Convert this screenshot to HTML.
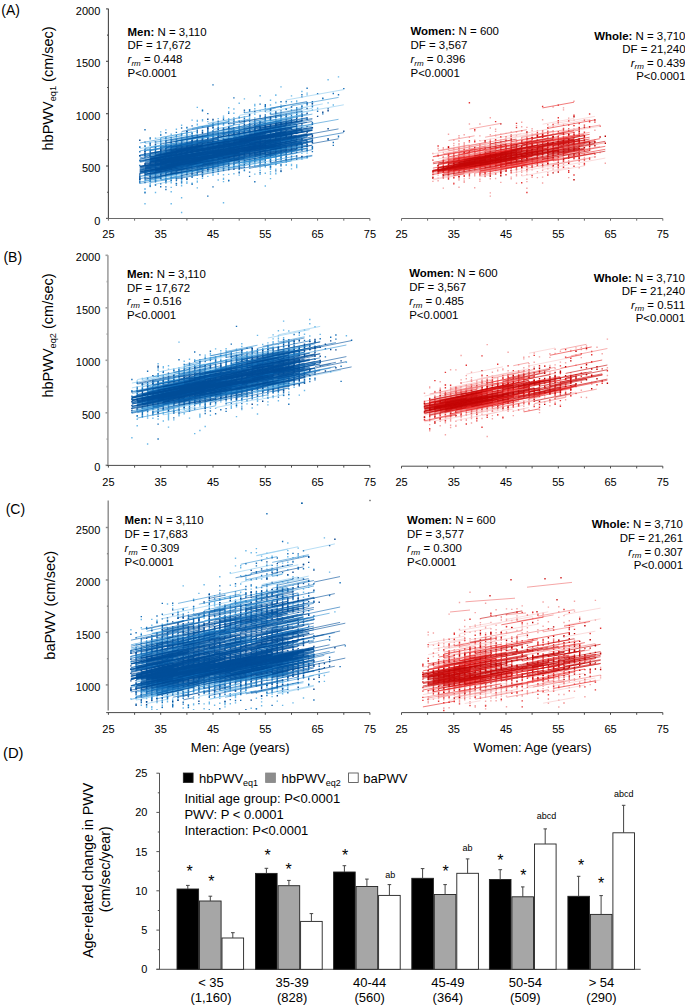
<!DOCTYPE html>
<html><head><meta charset="utf-8"><style>
html,body{margin:0;padding:0;background:#fff;}
svg{display:block;}
text{font-family:"Liberation Sans", sans-serif;fill:#000;}
</style></head><body>
<svg width="685" height="1007" viewBox="0 0 685 1007">
<rect width="685" height="1007" fill="#fff"/>
<defs>
<clipPath id="cA"><rect x="109" y="0" width="262" height="218"/></clipPath>
<clipPath id="cAr"><rect x="402" y="0" width="262" height="218"/></clipPath>
<clipPath id="cB"><rect x="109" y="250" width="262" height="215"/></clipPath>
<clipPath id="cBr"><rect x="402" y="250" width="262" height="215.8"/></clipPath>
<clipPath id="cC"><rect x="109" y="498" width="262" height="212"/></clipPath>
<clipPath id="cCr"><rect x="402" y="498" width="262" height="214"/></clipPath>
</defs><g clip-path="url(#cA)"><path d="M139.8 146.1v1.4m0 7.5v1.4m0 -1.2v1.4m0 18.2v1.4m0 1.3v1.4M145 144.9v1.4m0 8.1v1.4m0 -1.4v1.4m0 15.6v1.4m0 7.1v1.4m0 6.8v1.4m0 -0.9v1.4m0 1.2v1.4m0 10.5v1.4M150.2 138.3v1.4m0 2.4v1.4m0 -0.7v1.4m0 -0.4v1.4m0 4.9v1.4m0 1.8v1.4m0 23.9v1.4m0 0.5v1.4m0 1v1.4m0 -1.1v1.4m0 -0.5v1.4m0 -1.2v1.4m0 0.2v1.4M155.5 137.6v1.4m0 2.2v1.4m0 1.5v1.4m0 5.6v1.4m0 2.7v1.4m0 15.7v1.4m0 0.2v1.4m0 -0.6v1.4m0 -0.4v1.4m0 1.1v1.4m0 -1.2v1.4m0 -0.6v1.4m0 -0.7v1.4m0 2.6v1.4m0 6.5v1.4M160.7 131.2v1.4m0 1.2v1.4m0 2.6v1.4m0 2.7v1.4m0 -0.4v1.4m0 -1.3v1.4m0 0.5v1.4m0 -0.5v1.4m0 0.9v1.4m0 0.5v1.4m0 0.6v1.4m0 1.2v1.4m0 3.3v1.4m0 10.8v1.4m0 -1.1v1.4m0 0.9v1.4m0 -0.3v1.4m0 -1.3v1.4m0 -0.5v1.4m0 -1.4v1.4m0 -0v1.4M165.9 129.2v1.4m0 7.6v1.4m0 -1.2v1.4m0 -1.3v1.4m0 -1.1v1.4m0 2.9v1.4m0 -0.7v1.4m0 0.3v1.4m0 2.3v1.4m0 5v1.4m0 12.3v1.4m0 2.9v1.4m0 1.5v1.4m0 -1.3v1.4m0 -0.8v1.4m0 -1.2v1.4m0 -1.3v1.4m0 -0.5v1.4m0 -1.2v1.4m0 -0.9v1.4m0 -0.3v1.4m0 -0.9v1.4m0 -0.8v1.4M171.2 133.6v1.4m0 1.4v1.4m0 0.7v1.4m0 0.4v1.4m0 -0.2v1.4m0 -0.8v1.4m0 1.1v1.4m0 1.2v1.4m0 -1.3v1.4m0 0.2v1.4m0 -1.3v1.4m0 0.5v1.4m0 2.5v1.4m0 0.3v1.4m0 5.3v1.4m0 3.2v1.4m0 -0.5v1.4m0 0.2v1.4m0 -1v1.4m0 -1.1v1.4m0 -1.4v1.4m0 0.6v1.4m0 -1v1.4m0 0.6v1.4m0 0.5v1.4m0 -1.1v1.4m0 -1.3v1.4m0 0.3v1.4m0 -0.9v1.4m0 0.3v1.4m0 -0.9v1.4m0 3.2v1.4m0 -1.4v1.4m0 3v1.4m0 10.5v1.4M176.4 128.5v1.4m0 6.3v1.4m0 -1.1v1.4m0 -0.9v1.4m0 1.2v1.4m0 -0.7v1.4m0 -0.8v1.4m0 2.4v1.4m0 -1.4v1.4m0 -1.3v1.4m0 -0.3v1.4m0 -1.2v1.4m0 -1.3v1.4m0 -0.7v1.4m0 -1.4v1.4m0 0v1.4m0 4.5v1.4m0 4.9v1.4m0 4.2v1.4m0 -0.2v1.4m0 0.3v1.4m0 -0.1v1.4m0 -0.6v1.4m0 0.5v1.4m0 -0.2v1.4m0 -0.7v1.4m0 0.2v1.4m0 5.1v1.4M181.6 124.5v1.4m0 -1.2v1.4m0 6.4v1.4m0 -0.3v1.4m0 -0.1v1.4m0 0.2v1.4m0 -1.3v1.4m0 -1.2v1.4m0 -0.6v1.4m0 0.2v1.4m0 -0.7v1.4m0 -1v1.4m0 0.5v1.4m0 -1v1.4m0 0.4v1.4m0 0.7v1.4m0 -0.4v1.4m0 -1.1v1.4m0 4.6v1.4m0 11.1v1.4m0 0.3v1.4m0 -1.2v1.4m0 -0.5v1.4m0 -1.2v1.4m0 -0.1v1.4m0 0.2v1.4m0 -1.3v1.4m0 0.8v1.4m0 1.4v1.4m0 -0.7v1.4m0 -0.9v1.4m0 -1.1v1.4m0 -0.5v1.4m0 -0.3v1.4m0 -1.3v1.4m0 -0.9v1.4m0 0.1v1.4m0 0.7v1.4m0 10.6v1.4m0 13.4v1.4M186.9 127.7v1.4m0 1.5v1.4m0 -0.5v1.4m0 1.9v1.4m0 -0.7v1.4m0 0.6v1.4m0 -0.8v1.4m0 0.5v1.4m0 -0.7v1.4m0 -1.1v1.4m0 -1.1v1.4m0 -0.5v1.4m0 1.3v1.4m0 18.9v1.4m0 -0v1.4m0 -1.2v1.4m0 -0.9v1.4m0 -0.8v1.4m0 0.5v1.4m0 1.5v1.4m0 -1.1v1.4m0 -0.6v1.4m0 -0.3v1.4m0 0.8v1.4m0 0.1v1.4m0 -1.2v1.4m0 1.1v1.4m0 -1.2v1.4m0 -0.3v1.4M192.1 119.4v1.4m0 11.7v1.4m0 0.1v1.4m0 2.3v1.4m0 -0.9v1.4m0 -1.3v1.4m0 1v1.4m0 0.6v1.4m0 -0v1.4m0 10.4v1.4m0 6.4v1.4m0 1.5v1.4m0 0.1v1.4m0 -1v1.4m0 -1.1v1.4m0 -1.1v1.4m0 -1.4v1.4m0 1.1v1.4m0 -0.1v1.4m0 1.6v1.4m0 5.3v1.4M197.3 106.7v1.4m0 11.6v1.4m0 -0.5v1.4m0 1.5v1.4m0 -0.8v1.4m0 3.1v1.4m0 -0.9v1.4m0 -0.4v1.4m0 -1.3v1.4m0 -0v1.4m0 -0.1v1.4m0 1v1.4m0 0.9v1.4m0 -1.3v1.4m0 -0.9v1.4m0 -0.3v1.4m0 -0.6v1.4m0 6v1.4m0 12.4v1.4m0 0.9v1.4m0 -0v1.4m0 -0v1.4m0 0.4v1.4m0 -1.3v1.4m0 -1.3v1.4m0 -1v1.4m0 0.2v1.4m0 0.1v1.4m0 -1.2v1.4m0 0.7v1.4m0 -1.3v1.4m0 -1.3v1.4m0 -1.2v1.4m0 1.9v1.4m0 -1.4v1.4m0 1.1v1.4m0 -1.2v1.4m0 -0.7v1.4m0 4.5v1.4M202.5 109v1.4m0 8.6v1.4m0 -0.3v1.4m0 8.8v1.4m0 0.2v1.4m0 2.4v1.4m0 2.1v1.4m0 0.4v1.4m0 -1.3v1.4m0 -1v1.4m0 -0.5v1.4m0 -1.3v1.4m0 1v1.4m0 15v1.4m0 -0.7v1.4m0 -1.3v1.4m0 -1v1.4m0 0.6v1.4m0 -1.2v1.4m0 -1.2v1.4m0 -1.3v1.4m0 -1.3v1.4m0 -1.4v1.4m0 -0.9v1.4m0 -0.1v1.4m0 -1.4v1.4m0 -0.4v1.4m0 -1.2v1.4m0 -0.1v1.4m0 -0.9v1.4m0 -0.4v1.4m0 0.9v1.4m0 -0.6v1.4m0 -1.1v1.4m0 1.9v1.4M207.8 120.9v1.4m0 3.4v1.4m0 2.1v1.4m0 0.1v1.4m0 1.4v1.4m0 0.1v1.4m0 -1.3v1.4m0 -0.1v1.4m0 -0.9v1.4m0 2.1v1.4m0 23.2v1.4m0 3.3v1.4m0 0.6v1.4m0 2.6v1.4M213 120.1v1.4m0 1.5v1.4m0 2.1v1.4m0 -0.8v1.4m0 1.5v1.4m0 -0.5v1.4m0 -1.3v1.4m0 -0.1v1.4m0 -0.9v1.4m0 -1.2v1.4m0 0.7v1.4m0 -0.7v1.4m0 -1.3v1.4m0 1.2v1.4m0 -1.3v1.4m0 14.5v1.4m0 2v1.4m0 -0.9v1.4m0 -0.2v1.4m0 -1.2v1.4m0 -0.7v1.4m0 -1v1.4m0 -1.2v1.4m0 -1.3v1.4m0 -1v1.4m0 -0.1v1.4m0 1.1v1.4m0 -0.7v1.4m0 -0.3v1.4m0 0.4v1.4m0 -1.2v1.4m0 -0.4v1.4m0 -1.2v1.4m0 -1.2v1.4m0 -0.7v1.4m0 0.6v1.4m0 -1.3v1.4m0 -0.3v1.4M218.2 117.9v1.4m0 5.9v1.4m0 -0.4v1.4m0 0.1v1.4m0 -0.5v1.4m0 0.5v1.4m0 -0.9v1.4m0 -1.3v1.4m0 1.5v1.4m0 1.8v1.4m0 13v1.4m0 -1.3v1.4m0 6.7v1.4m0 -0.8v1.4m0 0.5v1.4m0 0.5v1.4m0 -0.7v1.4m0 1.6v1.4m0 0.4v1.4m0 -0.3v1.4m0 0.8v1.4m0 -1.3v1.4m0 -1v1.4m0 -1.3v1.4m0 4.3v1.4M223.5 115.4v1.4m0 0.3v1.4m0 -1v1.4m0 5.3v1.4m0 -1v1.4m0 1v1.4m0 -0.3v1.4m0 -0.2v1.4m0 1v1.4m0 0.3v1.4m0 0.4v1.4m0 21v1.4m0 -1.1v1.4m0 0.6v1.4m0 3.5v1.4m0 1.4v1.4m0 5.1v1.4m0 2.2v1.4m0 -0.6v1.4m0 1v1.4m0 19.8v1.4M228.7 107v1.4m0 2.7v1.4m0 5.5v1.4m0 -0.1v1.4m0 5v1.4m0 -0.1v1.4m0 2.1v1.4m0 -0.5v1.4m0 -0.7v1.4m0 -0.1v1.4m0 0.4v1.4m0 -1.2v1.4m0 -1.3v1.4m0 0.7v1.4m0 -0.7v1.4m0 1.6v1.4m0 2.5v1.4m0 -0.6v1.4m0 0v1.4m0 8.6v1.4m0 -1.4v1.4m0 -0.1v1.4m0 -1.1v1.4m0 -1.1v1.4m0 0.5v1.4m0 -1.3v1.4m0 -0.1v1.4m0 -0.5v1.4m0 0.5v1.4m0 -1.3v1.4m0 1.1v1.4m0 -1.2v1.4m0 -0.8v1.4m0 3.5v1.4m0 4.4v1.4M233.9 108.3v1.4m0 2.9v1.4m0 3v1.4m0 13.1v1.4m0 1.1v1.4m0 -1.1v1.4m0 -0.6v1.4m0 -0.7v1.4m0 0.6v1.4m0 1.6v1.4m0 1.1v1.4m0 11.4v1.4m0 -1.1v1.4m0 -0.9v1.4m0 -1.3v1.4m0 -0.5v1.4m0 -1.2v1.4m0 0v1.4m0 -1.2v1.4m0 -0.9v1.4m0 -1.4v1.4m0 -1v1.4m0 0.7v1.4m0 0.2v1.4m0 -0.4v1.4m0 -0.6v1.4m0 -0.5v1.4m0 4.6v1.4M239.2 102.6v1.4m0 12v1.4m0 3.3v1.4m0 1.8v1.4m0 -0.7v1.4m0 -0.4v1.4m0 3.8v1.4m0 6.4v1.4m0 4.7v1.4m0 0.5v1.4m0 3.9v1.4m0 -1.2v1.4m0 0.1v1.4m0 2.2v1.4m0 -0.1v1.4m0 0.4v1.4m0 -0.1v1.4m0 2.7v1.4m0 -0.9v1.4m0 1.1v1.4m0 0.7v1.4m0 -0.5v1.4m0 1.3v1.4M244.4 98.2v1.4m0 16.7v1.4m0 3.9v1.4m0 6.4v1.4m0 -1.2v1.4m0 0.1v1.4m0 -0.7v1.4m0 -0.8v1.4m0 2.8v1.4m0 9.6v1.4m0 5.4v1.4m0 5.8v1.4m0 -0.5v1.4m0 -0.8v1.4m0 -1.2v1.4m0 -0.3v1.4m0 -0.9v1.4m0 3.4v1.4m0 -1v1.4M249.6 108.9v1.4m0 3.6v1.4m0 0.6v1.4m0 0.3v1.4m0 -1.2v1.4m0 -0.4v1.4m0 3.7v1.4m0 -1.3v1.4m0 1.7v1.4m0 1.8v1.4m0 -0.7v1.4m0 9.2v1.4m0 9.8v1.4m0 3.6v1.4m0 0.1v1.4m0 -0.7v1.4m0 -1.2v1.4m0 -0.8v1.4m0 -0.5v1.4m0 -0.6v1.4m0 3.7v1.4M254.8 103.8v1.4m0 0v1.4m0 1.4v1.4m0 3.9v1.4m0 -1.1v1.4m0 2.3v1.4m0 6v1.4m0 0.2v1.4m0 -0.2v1.4m0 1v1.4m0 -0.4v1.4m0 16.1v1.4m0 2.4v1.4m0 4v1.4m0 0.3v1.4m0 0.8v1.4m0 -1.4v1.4m0 0.3v1.4m0 -1.2v1.4m0 0.2v1.4m0 -1v1.4m0 6.6v1.4M260.1 95v1.4m0 13.7v1.4m0 5.8v1.4m0 2.2v1.4m0 -1v1.4m0 -1.2v1.4m0 0.3v1.4m0 -1.2v1.4m0 -0.8v1.4m0 -1.2v1.4m0 -0.9v1.4m0 0.9v1.4m0 -1.1v1.4m0 -0.2v1.4m0 -1v1.4m0 -1.1v1.4m0 3.8v1.4m0 16.2v1.4m0 1.5v1.4m0 -1.1v1.4m0 -0.8v1.4m0 1.6v1.4m0 -1.2v1.4m0 -1.1v1.4m0 -0.5v1.4m0 5.2v1.4m0 -1.2v1.4m0 1.1v1.4m0 -1.1v1.4m0 2.5v1.4M265.3 106.3v1.4m0 0.2v1.4m0 7.3v1.4m0 -0.3v1.4m0 -0.5v1.4m0 -1.1v1.4m0 -0.8v1.4m0 -1v1.4m0 2.4v1.4m0 -0.7v1.4m0 -1.1v1.4m0 1.6v1.4m0 2.2v1.4m0 13.9v1.4m0 2v1.4m0 -1.3v1.4m0 -1.3v1.4m0 -0.6v1.4m0 -1v1.4m0 0.5v1.4m0 -0.8v1.4m0 -1.4v1.4m0 -0.9v1.4m0 -1.1v1.4m0 -0.5v1.4m0 -0.4v1.4m0 2.3v1.4m0 -0.7v1.4m0 0.1v1.4m0 -0.8v1.4m0 -0.2v1.4m0 0.6v1.4m0 4.9v1.4m0 11.3v1.4M270.5 99.5v1.4m0 3.4v1.4m0 3.9v1.4m0 0.9v1.4m0 -0.8v1.4m0 2.5v1.4m0 -0.6v1.4m0 1.8v1.4m0 -0.6v1.4m0 -0.9v1.4m0 -0.2v1.4m0 2.6v1.4m0 1.1v1.4m0 16.1v1.4m0 2.2v1.4m0 -1.2v1.4m0 -0.9v1.4m0 -0.8v1.4m0 -1.3v1.4m0 0.2v1.4m0 1.1v1.4m0 -0.7v1.4m0 -1.1v1.4m0 -1v1.4m0 -0.6v1.4m0 -1.3v1.4m0 -0.1v1.4m0 4v1.4m0 0.1v1.4m0 -0.9v1.4m0 0.1v1.4m0 -1.4v1.4m0 1.1v1.4m0 0.9v1.4m0 3.2v1.4M275.8 94.3v1.4m0 -1.2v1.4m0 5.8v1.4m0 -1.1v1.4m0 9.8v1.4m0 -0.7v1.4m0 4.5v1.4m0 0.1v1.4m0 -0.5v1.4m0 -0.1v1.4m0 -1.2v1.4m0 11.6v1.4m0 6.4v1.4m0 3.5v1.4m0 -1.1v1.4m0 1.1v1.4m0 -1.2v1.4m0 1.9v1.4m0 -1.3v1.4m0 -0.8v1.4m0 0.7v1.4m0 2v1.4m0 0.1v1.4m0 -0.8v1.4m0 3.2v1.4m0 2.6v1.4m0 -1v1.4M281 86.2v1.4m0 16.8v1.4m0 7.9v1.4m0 -1.1v1.4m0 1.5v1.4m0 0.1v1.4m0 -0.5v1.4m0 -0.6v1.4m0 -1v1.4m0 0.3v1.4m0 2.3v1.4m0 1.6v1.4m0 19.6v1.4m0 -0.8v1.4m0 -0.6v1.4m0 -1.3v1.4m0 0.7v1.4m0 -1.2v1.4m0 -1.4v1.4m0 -0.8v1.4m0 -0.7v1.4m0 0.1v1.4m0 0.5v1.4m0 0.9v1.4m0 6.1v1.4m0 1.2v1.4M286.2 102.2v1.4m0 4.6v1.4m0 9.4v1.4m0 1.9v1.4m0 0.8v1.4m0 15.9v1.4m0 7.6v1.4m0 0.1v1.4m0 -0.6v1.4m0 0.1v1.4m0 1v1.4m0 0.2v1.4m0 3.9v1.4m0 -0.9v1.4m0 -1.3v1.4M291.5 95.2v1.4m0 4.4v1.4m0 3.5v1.4m0 -1v1.4m0 2.1v1.4m0 1.1v1.4m0 2.7v1.4m0 -0.2v1.4m0 0.9v1.4m0 5.4v1.4m0 17.2v1.4m0 1.7v1.4m0 1v1.4m0 5.5v1.4m0 4.7v1.4m0 -0.3v1.4m0 1.9v1.4M296.7 100.3v1.4m0 -1.2v1.4m0 -0.9v1.4m0 5v1.4m0 -0.1v1.4m0 0.6v1.4m0 -0.8v1.4m0 -0.4v1.4m0 -0.2v1.4m0 23.4v1.4m0 4.2v1.4m0 0v1.4m0 1.6v1.4m0 -1.3v1.4m0 1.4v1.4m0 -1.4v1.4m0 -0.8v1.4m0 3.5v1.4m0 -0.3v1.4m0 5v1.4m0 -0.3v1.4m0 0.1v1.4M301.9 90.8v1.4m0 13.1v1.4m0 -0.8v1.4m0 8.4v1.4m0 2.8v1.4m0 22.1v1.4m0 -0.3v1.4m0 0.9v1.4m0 -0.2v1.4m0 0.1v1.4m0 1.8v1.4m0 3.9v1.4m0 -0.9v1.4M307.1 92.4v1.4m0 0.4v1.4m0 54.3v1.4m0 -0.8v1.4m0 0.5v1.4m0 3.5v1.4M312.4 106.3v1.4m0 1.6v1.4m0 12.6v1.4m0 22.4v1.4M317.6 107.6v1.4M322.8 98.1v1.4M328.1 79v1.4m0 21.8v1.4M333.3 104.3v1.4M338.5 76.2v1.4" stroke="#6ab8e8" stroke-width="1.4" fill="none"/>
<path d="M139.8 146.6v1.4m0 3v1.4m0 2.6v1.4m0 3.4v1.4m0 3.5v1.4m0 11v1.4m0 -0.4v1.4m0 -1v1.4m0 -0.9v1.4m0 -1.4v1.4m0 0.3v1.4m0 -1.1v1.4m0 -0.2v1.4M145 129.1v1.4m0 10.9v1.4m0 2.7v1.4m0 1.5v1.4m0 -0.8v1.4m0 -0.8v1.4m0 -0.2v1.4m0 0.7v1.4m0 0.5v1.4m0 0.7v1.4m0 6.4v1.4m0 8.1v1.4m0 -1.2v1.4m0 -1.1v1.4m0 0.3v1.4m0 -1.2v1.4m0 -1.4v1.4m0 -0.2v1.4m0 -0.8v1.4m0 12.3v1.4M150.2 137.3v1.4m0 3.9v1.4m0 6.3v1.4m0 -0v1.4m0 -0.9v1.4m0 0.5v1.4m0 -1.4v1.4m0 -1v1.4m0 -0.3v1.4m0 1.5v1.4m0 -0v1.4m0 1.5v1.4m0 10.2v1.4m0 -0.4v1.4m0 -1.3v1.4m0 -0.8v1.4m0 -0.4v1.4m0 -0.6v1.4m0 -0.8v1.4m0 -0.3v1.4m0 -0.1v1.4m0 3v1.4M155.5 145.3v1.4m0 -0.8v1.4m0 -0v1.4m0 -0.2v1.4m0 -1.3v1.4m0 -0.7v1.4m0 -1.2v1.4m0 -1.4v1.4m0 -1.2v1.4m0 -0.1v1.4m0 -0.8v1.4m0 -1.3v1.4m0 -0.7v1.4m0 -0.6v1.4m0 -1.4v1.4m0 -1.3v1.4m0 6.2v1.4m0 0.4v1.4m0 -0.4v1.4m0 1.9v1.4m0 -0.7v1.4m0 0.1v1.4m0 0.2v1.4m0 -0v1.4m0 0.1v1.4m0 1.2v1.4m0 -0.1v1.4m0 -1.3v1.4m0 0.4v1.4m0 -1v1.4m0 -0.3v1.4m0 1.9v1.4M160.7 134.4v1.4m0 3.7v1.4m0 0.1v1.4m0 1v1.4m0 -0.8v1.4m0 0.3v1.4m0 -1.3v1.4m0 -1.3v1.4m0 -1v1.4m0 0.3v1.4m0 0.6v1.4m0 -0.1v1.4m0 -0.8v1.4m0 -1.3v1.4m0 -1.3v1.4m0 -1.3v1.4m0 -0.5v1.4m0 -1.3v1.4m0 -0.1v1.4m0 0.2v1.4m0 -0v1.4m0 6.6v1.4m0 0.1v1.4m0 -0.8v1.4m0 -0.7v1.4m0 0.5v1.4m0 -1.3v1.4m0 -1.3v1.4m0 -1v1.4m0 -1.2v1.4m0 -0.8v1.4m0 -1.2v1.4m0 -1.3v1.4m0 1v1.4m0 -1.2v1.4m0 -1.2v1.4m0 -1.3v1.4m0 0.2v1.4m0 -0.9v1.4m0 -1v1.4m0 4.3v1.4m0 1.6v1.4M165.9 132v1.4m0 3.7v1.4m0 -1.2v1.4m0 -1v1.4m0 1v1.4m0 -0.1v1.4m0 -1.3v1.4m0 0.6v1.4m0 -1.3v1.4m0 -0.7v1.4m0 0.4v1.4m0 -1v1.4m0 -1.1v1.4m0 -1.2v1.4m0 -0.4v1.4m0 -0.4v1.4m0 -1.1v1.4m0 -1.2v1.4m0 -0.6v1.4m0 -1.2v1.4m0 -1.4v1.4m0 -0.9v1.4m0 -0.6v1.4m0 -0.2v1.4m0 -1.3v1.4m0 0.5v1.4m0 -1v1.4m0 3.4v1.4m0 1.4v1.4m0 5.9v1.4m0 -1.2v1.4m0 -1.2v1.4m0 -0.9v1.4m0 -1.2v1.4m0 -0.3v1.4m0 -0.7v1.4m0 -1.2v1.4m0 -0.3v1.4m0 -0.6v1.4m0 0.9v1.4m0 0.8v1.4m0 -0.9v1.4m0 -0.9v1.4m0 -0.2v1.4m0 2.8v1.4m0 1.2v1.4M171.2 139.6v1.4m0 -0.9v1.4m0 -0.9v1.4m0 -0.8v1.4m0 2v1.4m0 -0.7v1.4m0 -0.4v1.4m0 -1.3v1.4m0 -1v1.4m0 -1.4v1.4m0 -1.3v1.4m0 -0.4v1.4m0 -1.4v1.4m0 -0.7v1.4m0 -0.9v1.4m0 -1.4v1.4m0 -0.7v1.4m0 -1.3v1.4m0 -0.2v1.4m0 -0.8v1.4m0 -1.2v1.4m0 1.4v1.4m0 -1v1.4m0 -0.7v1.4m0 -0.3v1.4m0 -1v1.4m0 -0.3v1.4m0 7.5v1.4m0 -0.4v1.4m0 -1.1v1.4m0 -1.3v1.4m0 -1.3v1.4m0 -1.3v1.4m0 -1.3v1.4m0 -1.4v1.4m0 -1.4v1.4m0 -1v1.4m0 -0.8v1.4m0 -1.1v1.4m0 -0.8v1.4m0 -0.9v1.4m0 0.3v1.4m0 0.3v1.4m0 -1.3v1.4m0 -1.1v1.4m0 0.1v1.4m0 -1.3v1.4m0 -0.8v1.4m0 -1.3v1.4m0 0.5v1.4m0 -1.3v1.4M176.4 131.7v1.4m0 1.6v1.4m0 -0.6v1.4m0 2.3v1.4m0 -1.4v1.4m0 0.1v1.4m0 -1.2v1.4m0 -1v1.4m0 -1.3v1.4m0 -0.6v1.4m0 0.1v1.4m0 -0.4v1.4m0 -0.6v1.4m0 -0.5v1.4m0 0.3v1.4m0 -0.2v1.4m0 -0.7v1.4m0 0.2v1.4m0 0.8v1.4m0 1.2v1.4m0 -1.2v1.4m0 3.7v1.4m0 2.5v1.4m0 0.7v1.4m0 -1.1v1.4m0 -1.2v1.4m0 -0.6v1.4m0 -1.1v1.4m0 -1v1.4m0 -0.9v1.4m0 -1.2v1.4m0 -1.1v1.4m0 -1.2v1.4m0 -0.9v1.4m0 -1.1v1.4m0 4.6v1.4m0 -0.9v1.4m0 0.2v1.4m0 1.5v1.4m0 0.3v1.4M181.6 127.3v1.4m0 4.5v1.4m0 -0.2v1.4m0 3.4v1.4m0 0.1v1.4m0 -0.7v1.4m0 -1v1.4m0 -0.1v1.4m0 -0.9v1.4m0 -1.1v1.4m0 -1.3v1.4m0 -1.3v1.4m0 -0.2v1.4m0 -1.2v1.4m0 -1.1v1.4m0 -0.4v1.4m0 -0.7v1.4m0 -1.3v1.4m0 -1.4v1.4m0 -0.1v1.4m0 1.9v1.4m0 -1.3v1.4m0 2.6v1.4m0 -0.1v1.4m0 -0.9v1.4m0 -1v1.4m0 -1v1.4m0 -1.2v1.4m0 -1v1.4m0 -1.2v1.4m0 3.1v1.4m0 0.6v1.4m0 -1v1.4m0 -1.3v1.4m0 0v1.4m0 -1.2v1.4m0 -1.3v1.4m0 -1v1.4m0 -0.6v1.4m0 0.3v1.4m0 -1v1.4m0 -1.2v1.4m0 0v1.4m0 -1.2v1.4m0 -0.8v1.4m0 -0.4v1.4m0 -0.2v1.4m0 -1.3v1.4m0 0.4v1.4m0 1.8v1.4M186.9 126.7v1.4m0 2.7v1.4m0 0.6v1.4m0 -0.7v1.4m0 -0.9v1.4m0 -0.6v1.4m0 -1.2v1.4m0 -1.2v1.4m0 0.6v1.4m0 -0.9v1.4m0 2.4v1.4m0 -0.6v1.4m0 -0.9v1.4m0 -1v1.4m0 -1.1v1.4m0 -0.5v1.4m0 -1.4v1.4m0 -0.9v1.4m0 -0.5v1.4m0 -1.2v1.4m0 -0.9v1.4m0 -1.4v1.4m0 -0.4v1.4m0 -0.7v1.4m0 0.3v1.4m0 4.6v1.4m0 1.5v1.4m0 -0.9v1.4m0 -0.7v1.4m0 2.5v1.4m0 -1.3v1.4m0 -0.9v1.4m0 -1.2v1.4m0 -1.2v1.4m0 -0.5v1.4m0 -1v1.4m0 -0.9v1.4m0 -1.4v1.4m0 -1v1.4m0 -1.2v1.4m0 -1v1.4m0 -0.4v1.4m0 0.3v1.4m0 -0.7v1.4m0 -0.8v1.4m0 -0.7v1.4m0 -1.3v1.4m0 4v1.4M192.1 125.2v1.4m0 5.7v1.4m0 -0.8v1.4m0 0.7v1.4m0 -0.9v1.4m0 0.8v1.4m0 -0.9v1.4m0 -1.3v1.4m0 -0.9v1.4m0 -1.3v1.4m0 -0.9v1.4m0 -0.7v1.4m0 -1v1.4m0 -1.2v1.4m0 -0.1v1.4m0 -1.2v1.4m0 -1.4v1.4m0 -1.1v1.4m0 -0.3v1.4m0 0.3v1.4m0 -1.3v1.4m0 -1v1.4m0 -0.2v1.4m0 0.8v1.4m0 0.1v1.4m0 -0.8v1.4m0 -0.1v1.4m0 -0.3v1.4m0 -1.2v1.4m0 1.7v1.4m0 1.7v1.4m0 1.9v1.4m0 -0.7v1.4m0 -1.3v1.4m0 -1.1v1.4m0 -1.2v1.4m0 -1.4v1.4m0 -1.1v1.4m0 -0.8v1.4m0 -1.3v1.4m0 -1.2v1.4m0 -0.3v1.4m0 -1.2v1.4m0 0.6v1.4m0 -1.1v1.4m0 -1.2v1.4m0 -1.1v1.4m0 -1.3v1.4m0 -1.2v1.4m0 -0.9v1.4m0 -1v1.4m0 -1.1v1.4m0 -1v1.4m0 -0.2v1.4m0 -0.6v1.4m0 -1.2v1.4m0 1.1v1.4m0 5.5v1.4m0 -1.2v1.4M197.3 131.6v1.4m0 1.8v1.4m0 -1.3v1.4m0 -1.3v1.4m0 -0.5v1.4m0 -1.3v1.4m0 -0.4v1.4m0 0.8v1.4m0 -0.1v1.4m0 -0.7v1.4m0 0.3v1.4m0 -1.1v1.4m0 -0.9v1.4m0 -0.5v1.4m0 -1.4v1.4m0 -1.2v1.4m0 1.2v1.4m0 1.7v1.4m0 1.3v1.4m0 2.3v1.4m0 2.4v1.4m0 -1v1.4m0 -0.1v1.4m0 -0.4v1.4m0 -1v1.4m0 -1.3v1.4m0 -1.3v1.4m0 -1.2v1.4m0 -1.4v1.4m0 -1.3v1.4m0 -1.2v1.4m0 -1v1.4m0 -1.1v1.4m0 -0.9v1.4m0 -1.1v1.4m0 -0.9v1.4m0 -0.8v1.4m0 -1.3v1.4m0 -0.9v1.4m0 -0.9v1.4m0 -1.4v1.4m0 -1.1v1.4m0 -0.8v1.4m0 -0.4v1.4m0 -1.4v1.4m0 -1v1.4m0 -1.1v1.4m0 -0.9v1.4m0 -0.1v1.4m0 -0.5v1.4M202.5 110v1.4m0 14.5v1.4m0 -0.6v1.4m0 1.7v1.4m0 4.1v1.4m0 0.5v1.4m0 -1.2v1.4m0 -0.9v1.4m0 -1.2v1.4m0 -1v1.4m0 -0.3v1.4m0 -0.5v1.4m0 -0.6v1.4m0 -1.3v1.4m0 -1.3v1.4m0 -0.7v1.4m0 -1.1v1.4m0 -1.2v1.4m0 -1.1v1.4m0 2.6v1.4m0 0.1v1.4m0 0.7v1.4m0 -0.1v1.4m0 -1.4v1.4m0 2.8v1.4m0 1.6v1.4m0 1.2v1.4m0 -1.2v1.4m0 -1.3v1.4m0 -0.3v1.4m0 -1v1.4m0 -0.2v1.4m0 -1.2v1.4m0 -1v1.4m0 -1.2v1.4m0 -1.3v1.4m0 -1.4v1.4m0 0.6v1.4m0 -0.5v1.4m0 -0.6v1.4m0 -0.9v1.4m0 -0.7v1.4m0 -0.8v1.4m0 -1.3v1.4m0 -1.3v1.4m0 0.4v1.4m0 0.5v1.4m0 -0.7v1.4M207.8 112.9v1.4m0 13.5v1.4m0 0.9v1.4m0 -0.2v1.4m0 -0.7v1.4m0 0.2v1.4m0 -0.3v1.4m0 -0.6v1.4m0 -0.4v1.4m0 -1v1.4m0 -0.6v1.4m0 -1.2v1.4m0 1.8v1.4m0 0.5v1.4m0 1v1.4m0 1.1v1.4m0 6.2v1.4m0 -1.2v1.4m0 -0.5v1.4m0 3.4v1.4m0 -0.9v1.4m0 -0.1v1.4m0 -0.2v1.4m0 -1.3v1.4m0 -0.5v1.4m0 -1.3v1.4m0 -1.1v1.4m0 -1.1v1.4m0 -1.3v1.4m0 -1.2v1.4m0 -1.4v1.4m0 -1.3v1.4m0 -1.4v1.4m0 -1.3v1.4m0 -1.3v1.4m0 -1.3v1.4m0 -1.3v1.4m0 -0.7v1.4m0 -0.4v1.4m0 -1.4v1.4m0 -1.3v1.4m0 -1.3v1.4m0 -1.1v1.4m0 -1v1.4m0 -0.9v1.4m0 24v1.4M213 84.2v1.4m0 37.4v1.4m0 -0.7v1.4m0 0.3v1.4m0 7.3v1.4m0 -0.7v1.4m0 -0.7v1.4m0 -0.5v1.4m0 -0.8v1.4m0 -1v1.4m0 -1.4v1.4m0 -0.7v1.4m0 -1.3v1.4m0 -0.4v1.4m0 -0.1v1.4m0 1.2v1.4m0 0.7v1.4m0 -0.8v1.4m0 0.9v1.4m0 -0.9v1.4m0 0.2v1.4m0 0.1v1.4m0 -0.7v1.4m0 1.7v1.4m0 0.6v1.4m0 -1.2v1.4m0 0.8v1.4m0 1v1.4m0 -0.2v1.4m0 -0.5v1.4m0 0v1.4m0 -1v1.4m0 0.2v1.4m0 -0.9v1.4m0 1.8v1.4m0 13.3v1.4M218.2 120.6v1.4m0 0.3v1.4m0 -1v1.4m0 -0.3v1.4m0 1.9v1.4m0 3v1.4m0 0.4v1.4m0 -0.7v1.4m0 -0.8v1.4m0 -0.5v1.4m0 -1.4v1.4m0 1.3v1.4m0 -1.1v1.4m0 -1.4v1.4m0 4.4v1.4m0 -1.1v1.4m0 -1.3v1.4m0 7.7v1.4m0 -0.4v1.4m0 0.3v1.4m0 0.2v1.4m0 -0.9v1.4m0 -0.7v1.4m0 -1.2v1.4m0 -1.2v1.4m0 -1v1.4m0 -1.2v1.4m0 -0.6v1.4m0 -0.6v1.4m0 -0.7v1.4m0 0.1v1.4m0 -0.9v1.4m0 -1v1.4m0 3.8v1.4m0 -1.3v1.4M223.5 118.8v1.4m0 2.8v1.4m0 3.8v1.4m0 1.5v1.4m0 -0.4v1.4m0 -0.4v1.4m0 -0.8v1.4m0 -1.2v1.4m0 -1.3v1.4m0 -1v1.4m0 -0.7v1.4m0 -1.3v1.4m0 0.8v1.4m0 -1v1.4m0 -0.6v1.4m0 1.5v1.4m0 0v1.4m0 -0.7v1.4m0 1.2v1.4m0 -0.4v1.4m0 1.8v1.4m0 1v1.4m0 0.8v1.4m0 -1.2v1.4m0 -0.1v1.4m0 0.1v1.4m0 -0.9v1.4m0 -0.9v1.4m0 -0.8v1.4m0 -1v1.4m0 -0.9v1.4m0 -1.1v1.4m0 0.7v1.4m0 -1.1v1.4m0 -1.3v1.4m0 1.8v1.4m0 1.1v1.4m0 -0.9v1.4m0 -1v1.4M228.7 112.5v1.4m0 6.7v1.4m0 4.4v1.4m0 -1.3v1.4m0 1v1.4m0 0.1v1.4m0 -1.3v1.4m0 -1.3v1.4m0 -0.7v1.4m0 -1.4v1.4m0 -0.5v1.4m0 1.7v1.4m0 -0.6v1.4m0 -1.1v1.4m0 -1.3v1.4m0 -0.3v1.4m0 -1.1v1.4m0 0.8v1.4m0 0.4v1.4m0 -1.2v1.4m0 3.6v1.4m0 3.5v1.4m0 0.8v1.4m0 -0.8v1.4m0 -0.1v1.4m0 -0.8v1.4m0 -0.8v1.4m0 -1.3v1.4m0 -1.4v1.4m0 -1.2v1.4m0 -0.7v1.4m0 -1.3v1.4m0 -0.3v1.4m0 -0.7v1.4m0 -1v1.4m0 0.4v1.4m0 -0.5v1.4m0 -0.8v1.4m0 -1v1.4m0 -0.5v1.4m0 -1.2v1.4m0 -1.3v1.4m0 -0.5v1.4m0 -0.8v1.4m0 -1.1v1.4m0 11.3v1.4M233.9 97.2v1.4m0 20.2v1.4m0 -1v1.4m0 -0v1.4m0 0.6v1.4m0 -0.4v1.4m0 -1.3v1.4m0 2v1.4m0 -0.9v1.4m0 -0.4v1.4m0 -1.2v1.4m0 -1.4v1.4m0 -0.4v1.4m0 0.2v1.4m0 -1v1.4m0 -0.9v1.4m0 -0.7v1.4m0 0.1v1.4m0 -1.3v1.4m0 -0.5v1.4m0 1.5v1.4m0 0v1.4m0 3v1.4m0 1v1.4m0 6.9v1.4m0 -1.3v1.4m0 -0.9v1.4m0 -1.1v1.4m0 -0.4v1.4m0 -1.2v1.4m0 -1.4v1.4m0 -1.3v1.4m0 -1.4v1.4m0 -0.8v1.4m0 0.1v1.4m0 -0.9v1.4m0 -0.4v1.4m0 0.2v1.4m0 -0.4v1.4m0 -0.3v1.4m0 -1.1v1.4m0 -0.3v1.4M239.2 117.2v1.4m0 1.8v1.4m0 4.8v1.4m0 -0.9v1.4m0 -0.2v1.4m0 -0.7v1.4m0 -1.2v1.4m0 -0.8v1.4m0 -0.4v1.4m0 0.5v1.4m0 -0.6v1.4m0 1.4v1.4m0 0.3v1.4m0 0.5v1.4m0 0.6v1.4m0 1.2v1.4m0 6.6v1.4m0 -1.1v1.4m0 1.2v1.4m0 -0.4v1.4m0 -0.3v1.4m0 -1.1v1.4m0 -1.1v1.4m0 -1.1v1.4m0 -0.7v1.4m0 -1.4v1.4m0 -1.3v1.4m0 -1.3v1.4m0 -0.8v1.4m0 -0.3v1.4m0 -0.3v1.4m0 -0.8v1.4m0 -1.3v1.4m0 -0.9v1.4m0 -1v1.4m0 -1v1.4m0 -1.2v1.4M244.4 109.5v1.4m0 0.5v1.4m0 5.2v1.4m0 0.7v1.4m0 -0.4v1.4m0 3.1v1.4m0 -0.9v1.4m0 -0.4v1.4m0 -1.4v1.4m0 -1.2v1.4m0 -1.1v1.4m0 -1.1v1.4m0 -1.3v1.4m0 -1.1v1.4m0 1.2v1.4m0 -0.9v1.4m0 0.2v1.4m0 -0.4v1.4m0 -0.2v1.4m0 0.4v1.4m0 -0.3v1.4m0 0.4v1.4m0 1.6v1.4m0 -0.4v1.4m0 2.2v1.4m0 0v1.4m0 -0.1v1.4m0 -1.4v1.4m0 -0.7v1.4m0 2.3v1.4m0 -1v1.4m0 -0.9v1.4m0 -0.8v1.4m0 -0.1v1.4m0 -0.7v1.4m0 -0.6v1.4m0 -0.6v1.4m0 -0.9v1.4m0 0v1.4m0 3.6v1.4m0 1.4v1.4M249.6 109.3v1.4m0 -0.3v1.4m0 9v1.4m0 -1.3v1.4m0 1.3v1.4m0 -1.1v1.4m0 -0.7v1.4m0 -1.4v1.4m0 -1v1.4m0 -1v1.4m0 -1.3v1.4m0 0.7v1.4m0 0.8v1.4m0 -1.3v1.4m0 -1.1v1.4m0 0.1v1.4m0 0.1v1.4m0 -0.6v1.4m0 3.9v1.4m0 -0.2v1.4m0 7.1v1.4m0 1.4v1.4m0 -1.4v1.4m0 -0.4v1.4m0 -0.6v1.4m0 0.7v1.4m0 -1.4v1.4m0 -0.8v1.4m0 -1.3v1.4m0 3.8v1.4m0 0.2v1.4m0 -0.8v1.4m0 -0.4v1.4m0 -1.1v1.4m0 -1.2v1.4m0 4.7v1.4m0 2.9v1.4M254.8 120.9v1.4m0 -1.3v1.4m0 -0.1v1.4m0 1.1v1.4m0 -0.3v1.4m0 -1.3v1.4m0 -1.4v1.4m0 -1.1v1.4m0 0.1v1.4m0 -0.4v1.4m0 -1.3v1.4m0 -0.1v1.4m0 -1v1.4m0 0v1.4m0 -1.1v1.4m0 0.6v1.4m0 -0.7v1.4m0 -0.3v1.4m0 -0.5v1.4m0 2.8v1.4m0 -0.7v1.4m0 -1.4v1.4m0 0.6v1.4m0 0.1v1.4m0 -0.3v1.4m0 0.7v1.4m0 -1.1v1.4m0 1.5v1.4m0 -1.2v1.4m0 -1.2v1.4m0 -0.7v1.4m0 -0.1v1.4m0 -0.4v1.4m0 -0.6v1.4m0 -0.4v1.4m0 -0.8v1.4m0 -1.4v1.4m0 -1.1v1.4m0 -1.3v1.4m0 -1.3v1.4m0 -0v1.4m0 -0v1.4m0 18.7v1.4M260.1 103.4v1.4m0 9.9v1.4m0 -0.2v1.4m0 3.9v1.4m0 1v1.4m0 -1.4v1.4m0 -1.3v1.4m0 -1v1.4m0 0v1.4m0 -0.2v1.4m0 -1.1v1.4m0 -1.1v1.4m0 -1.1v1.4m0 -0.4v1.4m0 2.9v1.4m0 -0.5v1.4m0 -0.1v1.4m0 0.4v1.4m0 -1v1.4m0 -0.1v1.4m0 -0.7v1.4m0 -1.1v1.4m0 0.3v1.4m0 5.9v1.4m0 0.9v1.4m0 -0.7v1.4m0 -0.9v1.4m0 -0.4v1.4m0 -1.2v1.4m0 -1.2v1.4m0 -1.1v1.4m0 -1.2v1.4m0 -1.1v1.4m0 -0.6v1.4m0 -0.2v1.4m0 -1v1.4m0 -1.1v1.4m0 -0.8v1.4m0 -1.3v1.4m0 -1.1v1.4m0 -1.3v1.4m0 -0.6v1.4m0 -1.1v1.4m0 -0.6v1.4m0 1.1v1.4m0 -1.1v1.4m0 -1.1v1.4m0 -0.4v1.4m0 -1.1v1.4m0 6.2v1.4M265.3 104.1v1.4m0 -0.1v1.4m0 -1.1v1.4m0 3.3v1.4m0 2.4v1.4m0 0.1v1.4m0 0.3v1.4m0 -0.4v1.4m0 -1.2v1.4m0 0v1.4m0 0.8v1.4m0 -1.1v1.4m0 -1.2v1.4m0 -1.3v1.4m0 -1.1v1.4m0 -0.7v1.4m0 0.4v1.4m0 -1.1v1.4m0 -0.8v1.4m0 -0.5v1.4m0 -1.2v1.4m0 -1.2v1.4m0 0.8v1.4m0 1.5v1.4m0 1.9v1.4m0 -0.4v1.4m0 2.4v1.4m0 2.7v1.4m0 -0v1.4m0 -0.9v1.4m0 -0.6v1.4m0 0.6v1.4m0 -1.2v1.4m0 -0.3v1.4m0 -0.5v1.4m0 -0.4v1.4m0 -1.2v1.4m0 -1.4v1.4m0 0.5v1.4m0 -1.1v1.4m0 -0.9v1.4m0 0.1v1.4m0 -1.1v1.4m0 0.4v1.4m0 1v1.4m0 1.9v1.4M270.5 108.3v1.4m0 -0.7v1.4m0 -1.3v1.4m0 2.7v1.4m0 3.2v1.4m0 -0.9v1.4m0 -0.5v1.4m0 -1.3v1.4m0 1.5v1.4m0 -0.6v1.4m0 1.6v1.4m0 -1.3v1.4m0 -1.1v1.4m0 -1.2v1.4m0 0.2v1.4m0 -1.2v1.4m0 3.5v1.4m0 -0.2v1.4m0 -0.7v1.4m0 0.7v1.4m0 -0.9v1.4m0 -1.3v1.4m0 -0.5v1.4m0 3.8v1.4m0 -0.1v1.4m0 -0.6v1.4m0 2v1.4m0 -0.9v1.4m0 -1.2v1.4m0 -1v1.4m0 -0.7v1.4m0 0.3v1.4m0 -1.3v1.4m0 -0.5v1.4m0 -0.9v1.4m0 0v1.4m0 -1.4v1.4m0 1.8v1.4m0 -0.2v1.4m0 0.3v1.4m0 2.3v1.4m0 -0.8v1.4M275.8 111.6v1.4m0 -0.4v1.4m0 -1.3v1.4m0 1.2v1.4m0 -1.4v1.4m0 -1.4v1.4m0 -0.5v1.4m0 -0.4v1.4m0 0.5v1.4m0 -1.3v1.4m0 1.6v1.4m0 -0.7v1.4m0 -1.3v1.4m0 -0.9v1.4m0 -0.5v1.4m0 -1.1v1.4m0 0.4v1.4m0 0.4v1.4m0 3.9v1.4m0 2.3v1.4m0 -0.9v1.4m0 3.5v1.4m0 -0.3v1.4m0 -0.6v1.4m0 -1.1v1.4m0 -0.9v1.4m0 -0.7v1.4m0 0.6v1.4m0 -1.4v1.4m0 -0.7v1.4m0 -0.9v1.4m0 -1.3v1.4m0 -0.1v1.4m0 -0.9v1.4m0 -1v1.4m0 2.1v1.4m0 -1v1.4m0 -0.9v1.4m0 -1v1.4m0 0.4v1.4m0 3.9v1.4m0 5.3v1.4M281 101.1v1.4m0 4.1v1.4m0 2.2v1.4m0 0.5v1.4m0 1.7v1.4m0 -1v1.4m0 -1v1.4m0 -1.3v1.4m0 0.7v1.4m0 -0.7v1.4m0 -1.1v1.4m0 -1v1.4m0 0.7v1.4m0 0.4v1.4m0 -0.5v1.4m0 -0.3v1.4m0 0.2v1.4m0 1v1.4m0 -0.2v1.4m0 -0.3v1.4m0 -0.3v1.4m0 1v1.4m0 -0.7v1.4m0 -1v1.4m0 4.1v1.4m0 -0.2v1.4m0 1.3v1.4m0 0.3v1.4m0 -0.3v1.4m0 -1v1.4m0 -0.8v1.4m0 -0.9v1.4m0 -1.3v1.4m0 -1.2v1.4m0 -0.6v1.4m0 -1.3v1.4m0 -1.2v1.4m0 0.7v1.4m0 -1.3v1.4m0 -0.4v1.4m0 -0.1v1.4m0 -0.9v1.4m0 0.4v1.4m0 -1.2v1.4m0 0.8v1.4m0 1.6v1.4m0 -0.3v1.4m0 -1v1.4M286.2 100.7v1.4m0 5.8v1.4m0 -0.8v1.4m0 4.7v1.4m0 -0.3v1.4m0 1.1v1.4m0 -0v1.4m0 0.8v1.4m0 -1.3v1.4m0 0.3v1.4m0 7.5v1.4m0 1.9v1.4m0 4.3v1.4m0 1.8v1.4m0 -1.2v1.4m0 0.3v1.4m0 -1.4v1.4m0 -0.8v1.4m0 -1.2v1.4m0 -1.2v1.4m0 -0.7v1.4m0 -1.1v1.4m0 -0.6v1.4m0 -1.1v1.4m0 -0.8v1.4m0 0.2v1.4m0 0.5v1.4m0 1.1v1.4m0 0.9v1.4m0 -0.5v1.4m0 0.2v1.4m0 -1.2v1.4M291.5 109.4v1.4m0 3.8v1.4m0 0.3v1.4m0 -0.3v1.4m0 2.3v1.4m0 -0.6v1.4m0 4.3v1.4m0 3.7v1.4m0 -0.8v1.4m0 4v1.4m0 -0.4v1.4m0 4.2v1.4m0 -1.3v1.4m0 -0.8v1.4m0 -0.4v1.4m0 -0.2v1.4m0 -0.7v1.4m0 -1.4v1.4m0 -0.6v1.4m0 -1.3v1.4m0 0.2v1.4m0 -0.3v1.4m0 1.5v1.4m0 -1.3v1.4m0 -0.9v1.4M296.7 107.3v1.4m0 3.5v1.4m0 -1.1v1.4m0 -1.4v1.4m0 -0.7v1.4m0 -0.8v1.4m0 1.6v1.4m0 1.3v1.4m0 3.2v1.4m0 -0.1v1.4m0 -1.1v1.4m0 -1.4v1.4m0 -0.4v1.4m0 16v1.4m0 -0.4v1.4m0 -0.3v1.4m0 -1.3v1.4m0 0.2v1.4m0 -1.1v1.4m0 2.1v1.4M301.9 94v1.4m0 0.8v1.4m0 8v1.4m0 -0.7v1.4m0 4.6v1.4m0 0.6v1.4m0 -0.4v1.4m0 1.6v1.4m0 4.7v1.4m0 0.9v1.4m0 2.9v1.4m0 5.3v1.4m0 -0v1.4m0 -1.3v1.4m0 3.4v1.4m0 -0.8v1.4m0 0.7v1.4m0 0.8v1.4m0 6v1.4M307.1 87.5v1.4m0 13.6v1.4m0 0.2v1.4m0 13.1v1.4m0 23.2v1.4m0 -1.1v1.4m0 0.8v1.4m0 -1.1v1.4m0 0.5v1.4m0 -0.6v1.4m0 -1v1.4m0 -0.6v1.4m0 4.4v1.4m0 -0.8v1.4M312.4 101.1v1.4m0 0.4v1.4m0 1.3v1.4m0 15.1v1.4m0 -1.4v1.4m0 18.7v1.4m0 2.3v1.4m0 -0.9v1.4m0 -0.9v1.4m0 -0.2v1.4m0 1.4v1.4M317.6 92.9v1.4m0 16.2v1.4M322.8 97.5v1.4m0 14.3v1.4M328.1 139v1.4M333.3 92.8v1.4m0 47.6v1.4m0 1.5v1.4M338.5 94v1.4m0 40.2v1.4m0 -0.8v1.4M343.8 87.9v1.4" stroke="#1a70b8" stroke-width="1.4" fill="none"/>
<path d="M139.8 139.5v1.4m0 14v1.4m0 17.1v1.4m0 0.6v1.4m0 -0.6v1.4m0 1v1.4M145 151.1v1.4m0 0.2v1.4m0 -1v1.4m0 -1.2v1.4m0 0.5v1.4m0 6.2v1.4m0 -0.5v1.4m0 5.2v1.4m0 1.3v1.4m0 0.5v1.4m0 5.5v1.4M150.2 144.4v1.4m0 2.6v1.4m0 4.5v1.4m0 -0.2v1.4m0 -1v1.4m0 3.7v1.4m0 -0.5v1.4m0 1.1v1.4m0 1.7v1.4m0 -1v1.4m0 3v1.4m0 -1.1v1.4m0 -1.3v1.4m0 -1.3v1.4m0 -0.1v1.4m0 -0v1.4M155.5 141v1.4m0 1.1v1.4m0 -1.2v1.4m0 1.4v1.4m0 4v1.4m0 -0.6v1.4m0 1v1.4m0 2.8v1.4m0 -1.3v1.4m0 1.3v1.4m0 -1.3v1.4m0 0.9v1.4m0 -1.2v1.4m0 0.2v1.4m0 -1.1v1.4m0 0v1.4m0 1.6v1.4m0 -1.2v1.4m0 0.5v1.4m0 -0.8v1.4m0 0.3v1.4m0 0.2v1.4M160.7 147v1.4m0 -1v1.4m0 0.3v1.4m0 -0.8v1.4m0 -0.3v1.4m0 0v1.4m0 -0.8v1.4m0 -1v1.4m0 -1.2v1.4m0 3.8v1.4m0 -0.3v1.4m0 -0.1v1.4m0 0.1v1.4m0 0.6v1.4m0 -1v1.4m0 0.2v1.4m0 -0.4v1.4m0 -0.7v1.4m0 -1.1v1.4m0 -1.3v1.4m0 -1.2v1.4m0 -1.3v1.4m0 -0.4v1.4m0 -1.2v1.4m0 -1.3v1.4m0 -0.6v1.4m0 -0.6v1.4m0 -1v1.4m0 -0.8v1.4m0 -1.2v1.4m0 -0.8v1.4m0 2.8v1.4M165.9 140.8v1.4m0 2.1v1.4m0 2.2v1.4m0 1.1v1.4m0 -1.3v1.4m0 -0.5v1.4m0 0.1v1.4m0 -1.2v1.4m0 -0.1v1.4m0 -0.4v1.4m0 0.3v1.4m0 -1.1v1.4m0 -1.1v1.4m0 -1.4v1.4m0 -0.8v1.4m0 -0.7v1.4m0 0.1v1.4m0 -0.9v1.4m0 -0.2v1.4m0 -1.3v1.4m0 -1v1.4m0 -0.7v1.4m0 -0.3v1.4m0 1.6v1.4m0 -1.1v1.4m0 -0.3v1.4m0 -1.1v1.4m0 -1.2v1.4m0 -1.3v1.4m0 -1.1v1.4m0 -0.8v1.4m0 -0.9v1.4m0 -1.3v1.4m0 -0.5v1.4m0 -1.2v1.4m0 -1.4v1.4m0 1.3v1.4m0 -1.3v1.4m0 -0.8v1.4m0 2.1v1.4M171.2 137.1v1.4m0 3.8v1.4m0 1.2v1.4m0 -1.3v1.4m0 -1v1.4m0 -1.4v1.4m0 -0.6v1.4m0 -0.8v1.4m0 -0.7v1.4m0 -0.3v1.4m0 -0.8v1.4m0 -0.1v1.4m0 -1v1.4m0 -1v1.4m0 -1.4v1.4m0 -1.2v1.4m0 -1.4v1.4m0 -1.3v1.4m0 -0.1v1.4m0 -1.1v1.4m0 -1.1v1.4m0 -1.3v1.4m0 -1.3v1.4m0 -1.3v1.4m0 -0.5v1.4m0 0.8v1.4m0 -1.3v1.4m0 -0.1v1.4m0 0.6v1.4m0 -1v1.4m0 -0.5v1.4m0 -1.2v1.4m0 -1.1v1.4m0 -1.1v1.4m0 -0.3v1.4m0 -1.3v1.4m0 0.5v1.4m0 0.4v1.4m0 -0.5v1.4m0 0.5v1.4m0 -1v1.4m0 0.4v1.4m0 -1.1v1.4m0 -1v1.4M176.4 141.1v1.4m0 -0v1.4m0 1.2v1.4m0 -0.8v1.4m0 -1.4v1.4m0 -1v1.4m0 -1.1v1.4m0 -1.1v1.4m0 -0.8v1.4m0 2.6v1.4m0 -1.2v1.4m0 -0.4v1.4m0 0.2v1.4m0 -0.8v1.4m0 -0.1v1.4m0 -1.2v1.4m0 -0.8v1.4m0 -1.2v1.4m0 -1v1.4m0 -0.7v1.4m0 -1.1v1.4m0 -1.2v1.4m0 -0.8v1.4m0 -1.3v1.4m0 -1v1.4m0 -0.9v1.4m0 -1.3v1.4m0 -1.2v1.4m0 -1v1.4m0 -1.2v1.4m0 -0.7v1.4m0 -0.4v1.4m0 -1.3v1.4m0 -0.6v1.4m0 -0v1.4m0 0.9v1.4m0 -1.1v1.4m0 -1.2v1.4m0 -1.2v1.4m0 -0.9v1.4m0 -1.3v1.4m0 -1.4v1.4m0 -0.1v1.4m0 -0.9v1.4m0 1.4v1.4m0 -0.9v1.4m0 -1.3v1.4m0 2.1v1.4M181.6 139.5v1.4m0 0.3v1.4m0 -1.3v1.4m0 0.7v1.4m0 -0.7v1.4m0 0.2v1.4m0 -1.1v1.4m0 -1.3v1.4m0 -1.2v1.4m0 -1.2v1.4m0 -1.3v1.4m0 -0.6v1.4m0 0.1v1.4m0 -0.3v1.4m0 -1.1v1.4m0 -1.4v1.4m0 -0.2v1.4m0 -0.5v1.4m0 -0.9v1.4m0 -1.2v1.4m0 -1.1v1.4m0 -1.3v1.4m0 1v1.4m0 -1.3v1.4m0 1.2v1.4m0 -1v1.4m0 -1.2v1.4m0 -1.2v1.4m0 -0v1.4m0 -1.2v1.4m0 -1.1v1.4m0 0.5v1.4m0 1.3v1.4m0 -1.1v1.4m0 -1.3v1.4m0 -1.1v1.4m0 -1.3v1.4m0 -1.3v1.4m0 -0.2v1.4m0 -1.2v1.4m0 -1.1v1.4m0 1.4v1.4m0 -0.7v1.4m0 -1.3v1.4m0 1.8v1.4m0 1v1.4M186.9 131v1.4m0 7v1.4m0 1.6v1.4m0 -0.8v1.4m0 -1.1v1.4m0 -0.8v1.4m0 -0.8v1.4m0 -1.2v1.4m0 -0.6v1.4m0 -0.9v1.4m0 0.2v1.4m0 0.4v1.4m0 -1v1.4m0 -0v1.4m0 -1.3v1.4m0 -0.5v1.4m0 -0.5v1.4m0 -0.1v1.4m0 -0.1v1.4m0 -0.5v1.4m0 -0.9v1.4m0 -0.9v1.4m0 -0.2v1.4m0 -0.2v1.4m0 -1.3v1.4m0 -1.1v1.4m0 -1.4v1.4m0 0.8v1.4m0 -1.1v1.4m0 0.4v1.4m0 -1.2v1.4m0 -0.8v1.4m0 -1.3v1.4m0 -0.7v1.4m0 -1v1.4m0 -1.3v1.4m0 -1.2v1.4m0 -1.3v1.4m0 0v1.4m0 -1.3v1.4m0 -1.2v1.4m0 -1v1.4m0 1v1.4m0 -0v1.4m0 4.1v1.4M192.1 139.6v1.4m0 -0.1v1.4m0 -0.2v1.4m0 0.9v1.4m0 0.2v1.4m0 -0.5v1.4m0 0.6v1.4m0 -0.9v1.4m0 -0.1v1.4m0 -1.2v1.4m0 0.7v1.4m0 -1.3v1.4m0 -1.4v1.4m0 -0.5v1.4m0 -1.3v1.4m0 -1.3v1.4m0 -1v1.4m0 -0.2v1.4m0 -0.7v1.4m0 -1.4v1.4m0 -1.3v1.4m0 -1.1v1.4m0 0.3v1.4m0 3.2v1.4m0 -0.6v1.4m0 -1.3v1.4m0 -1v1.4m0 -1.3v1.4m0 -0.6v1.4m0 -0.6v1.4m0 -1.3v1.4m0 -1.3v1.4m0 -0.2v1.4m0 1.4v1.4m0 -0.2v1.4m0 -1v1.4m0 -1.3v1.4m0 -0.5v1.4M197.3 130.2v1.4m0 7.9v1.4m0 -1.2v1.4m0 0.3v1.4m0 -1.4v1.4m0 -1.1v1.4m0 -1v1.4m0 -0.1v1.4m0 -0.3v1.4m0 -0.9v1.4m0 -0.5v1.4m0 0.4v1.4m0 -0.6v1.4m0 -0.8v1.4m0 -1.3v1.4m0 -0.3v1.4m0 0.2v1.4m0 -1.1v1.4m0 -0.9v1.4m0 -1v1.4m0 -1.1v1.4m0 -1.3v1.4m0 -0.2v1.4m0 -1.1v1.4m0 -1.3v1.4m0 -0.7v1.4m0 -0.2v1.4m0 1v1.4m0 -1.1v1.4m0 -0.9v1.4m0 -0.1v1.4m0 -1.1v1.4m0 -0.7v1.4m0 0.4v1.4m0 -1.1v1.4m0 0.8v1.4m0 -0.6v1.4m0 -1.3v1.4m0 0.5v1.4M202.5 131.7v1.4m0 -0.8v1.4m0 2.2v1.4m0 -0.6v1.4m0 -1.4v1.4m0 -0.7v1.4m0 -1.4v1.4m0 -0.3v1.4m0 -0.3v1.4m0 -0.6v1.4m0 -0.7v1.4m0 -1.1v1.4m0 -0.8v1.4m0 -1.2v1.4m0 -1.1v1.4m0 -1.3v1.4m0 -0.1v1.4m0 -1.2v1.4m0 1.4v1.4m0 -1v1.4m0 -0.5v1.4m0 -1v1.4m0 -1.2v1.4m0 -1v1.4m0 -1.2v1.4m0 1.7v1.4m0 -0.9v1.4m0 -1.1v1.4m0 -1.3v1.4m0 -0.6v1.4m0 -1.2v1.4m0 -0.6v1.4m0 -1v1.4m0 -1.1v1.4m0 -1v1.4m0 -1.3v1.4m0 4.2v1.4m0 -0.9v1.4m0 -0.4v1.4m0 -0.7v1.4m0 -0.5v1.4m0 -0.8v1.4m0 -1.2v1.4m0 -0.8v1.4m0 -0.7v1.4m0 -0.6v1.4m0 -1.3v1.4m0 1.1v1.4m0 -1.1v1.4m0 -1v1.4m0 -0.5v1.4M207.8 118.6v1.4m0 7.1v1.4m0 -0.1v1.4m0 3.7v1.4m0 -0.9v1.4m0 -1.1v1.4m0 -1v1.4m0 1.2v1.4m0 -1.2v1.4m0 -0.8v1.4m0 0.1v1.4m0 -0.6v1.4m0 -1.4v1.4m0 -1.3v1.4m0 -1.3v1.4m0 -0.6v1.4m0 -1.2v1.4m0 2.9v1.4m0 -1.3v1.4m0 -1.3v1.4m0 -0.6v1.4m0 -0.5v1.4m0 -0.3v1.4m0 -0.9v1.4m0 -0.7v1.4m0 -0.8v1.4m0 -0.8v1.4m0 -0.4v1.4m0 -1.3v1.4m0 -0.8v1.4m0 0.8v1.4m0 0v1.4m0 -0.8v1.4m0 -0.6v1.4m0 1.6v1.4m0 -1.3v1.4m0 -1.2v1.4m0 -1.2v1.4m0 -0.7v1.4m0 -0.6v1.4m0 -0.9v1.4m0 -1v1.4m0 -0.3v1.4m0 -1.4v1.4m0 0.8v1.4m0 -0.7v1.4m0 -1v1.4m0 -1v1.4m0 -0.1v1.4M213 118.8v1.4m0 4.5v1.4m0 1v1.4m0 1.9v1.4m0 1.2v1.4m0 -1.4v1.4m0 -0.7v1.4m0 0.2v1.4m0 -1v1.4m0 1.1v1.4m0 -0.6v1.4m0 0.1v1.4m0 -0.3v1.4m0 -0.4v1.4m0 -1.2v1.4m0 0.4v1.4m0 -1.3v1.4m0 -1v1.4m0 -0.7v1.4m0 -1.3v1.4m0 -0.9v1.4m0 0.6v1.4m0 -0.6v1.4m0 -0.1v1.4m0 -0.3v1.4m0 -1.2v1.4m0 -1.3v1.4m0 0.2v1.4m0 -0.3v1.4m0 -0.9v1.4m0 -0.7v1.4m0 -0.5v1.4m0 0v1.4m0 0.6v1.4m0 -1.1v1.4m0 -0.5v1.4m0 1.8v1.4m0 -1v1.4m0 -1.2v1.4m0 -0.8v1.4m0 -0.9v1.4m0 -0.6v1.4m0 1.3v1.4M218.2 128.5v1.4m0 3.2v1.4m0 -0v1.4m0 -0.2v1.4m0 -0.9v1.4m0 -1.1v1.4m0 0.3v1.4m0 -1.3v1.4m0 -1.2v1.4m0 -1.3v1.4m0 -0.8v1.4m0 -0.9v1.4m0 -1.4v1.4m0 -0.9v1.4m0 0.4v1.4m0 0.8v1.4m0 -0.3v1.4m0 0v1.4m0 -1v1.4m0 -1.3v1.4m0 -1.4v1.4m0 -0.3v1.4m0 -0.3v1.4m0 2.9v1.4m0 0.9v1.4m0 -1.4v1.4m0 1.7v1.4m0 -1.4v1.4m0 -1.2v1.4m0 -0.6v1.4m0 -1.3v1.4m0 -1v1.4m0 -1.2v1.4m0 -1.1v1.4m0 -1.4v1.4m0 -0.5v1.4m0 -0.8v1.4m0 -0.7v1.4m0 1.5v1.4m0 1.2v1.4M223.5 128.5v1.4m0 -0.5v1.4m0 -0.7v1.4m0 -1.1v1.4m0 1.4v1.4m0 -1.4v1.4m0 -1.2v1.4m0 -0.9v1.4m0 -1.4v1.4m0 2.8v1.4m0 2.8v1.4m0 4.3v1.4m0 -0.8v1.4m0 -1.2v1.4m0 -1v1.4m0 -1.1v1.4m0 1v1.4m0 0.4v1.4m0 -1.2v1.4m0 -1.4v1.4m0 -0.5v1.4m0 -0.8v1.4m0 -0.3v1.4m0 -1.4v1.4m0 -0.5v1.4m0 -0.9v1.4m0 -0.1v1.4m0 -1.2v1.4m0 -1.2v1.4m0 -0.3v1.4m0 -0.4v1.4m0 -0.7v1.4m0 0.1v1.4m0 -1v1.4m0 1.1v1.4m0 0.1v1.4M228.7 122.8v1.4m0 2.7v1.4m0 -1.3v1.4m0 -0.3v1.4m0 -0.7v1.4m0 0.5v1.4m0 -1.2v1.4m0 -1.1v1.4m0 0.2v1.4m0 -1.1v1.4m0 -0.7v1.4m0 -0.3v1.4m0 -0.7v1.4m0 0.6v1.4m0 2.4v1.4m0 -0.8v1.4m0 -0.8v1.4m0 -0.4v1.4m0 -0.5v1.4m0 -1.1v1.4m0 -0.7v1.4m0 -0.2v1.4m0 -1v1.4m0 -0.4v1.4m0 -1.2v1.4m0 -1.4v1.4m0 -1.4v1.4m0 0.1v1.4m0 -1.2v1.4m0 1.4v1.4m0 -0.5v1.4m0 -1.2v1.4m0 -1.2v1.4m0 -1.4v1.4m0 -1.3v1.4m0 -1v1.4m0 -0.7v1.4m0 0.3v1.4m0 0.6v1.4m0 -1.4v1.4m0 -0.6v1.4m0 -1.4v1.4m0 -0.8v1.4m0 -0.7v1.4m0 -0v1.4m0 -0.9v1.4m0 -0.1v1.4m0 -0.7v1.4m0 2.4v1.4M233.9 129.4v1.4m0 -1.4v1.4m0 0.1v1.4m0 -1.1v1.4m0 -0.9v1.4m0 -0.6v1.4m0 -0.6v1.4m0 -1v1.4m0 -1.2v1.4m0 -1v1.4m0 -1v1.4m0 0.4v1.4m0 1.4v1.4m0 -0.3v1.4m0 0.4v1.4m0 -0.4v1.4m0 -0.8v1.4m0 -1.2v1.4m0 -1.4v1.4m0 -1.1v1.4m0 -0.9v1.4m0 -1.3v1.4m0 -0.4v1.4m0 -1.1v1.4m0 -1.4v1.4m0 -0.5v1.4m0 -1v1.4m0 -0.9v1.4m0 -0.6v1.4m0 -1.4v1.4m0 0.8v1.4m0 -1.1v1.4m0 -0.5v1.4m0 -0.1v1.4m0 -0.5v1.4m0 0.3v1.4m0 -1.4v1.4m0 -0.2v1.4m0 -1v1.4m0 -1.3v1.4m0 0.5v1.4m0 1.7v1.4m0 4.4v1.4M239.2 127v1.4m0 -0.1v1.4m0 1.3v1.4m0 -0.2v1.4m0 -0.6v1.4m0 0.3v1.4m0 -0.8v1.4m0 0.5v1.4m0 -1v1.4m0 -0.9v1.4m0 1.5v1.4m0 0.5v1.4m0 -1.1v1.4m0 -1.1v1.4m0 -1.3v1.4m0 1.3v1.4m0 -1.2v1.4m0 -0.9v1.4m0 -1.1v1.4m0 -1.1v1.4m0 0.9v1.4m0 -1v1.4m0 0.6v1.4m0 1.4v1.4m0 -1v1.4m0 -0.9v1.4m0 1v1.4m0 1.6v1.4m0 2.8v1.4m0 0.2v1.4m0 -0.5v1.4m0 2.7v1.4M244.4 123.5v1.4m0 0.6v1.4m0 0.8v1.4m0 -0.8v1.4m0 0.2v1.4m0 -1.2v1.4m0 0.5v1.4m0 -0.8v1.4m0 -1.4v1.4m0 0.1v1.4m0 3v1.4m0 -1.2v1.4m0 -1.4v1.4m0 1.1v1.4m0 -1.3v1.4m0 -1.2v1.4m0 -0.5v1.4m0 -1.2v1.4m0 -1.2v1.4m0 -1v1.4m0 -0.9v1.4m0 -0.9v1.4m0 -1.2v1.4m0 0.7v1.4m0 -0.7v1.4m0 4v1.4m0 -0.4v1.4m0 -1.2v1.4m0 -0.4v1.4m0 -1.2v1.4m0 -1.1v1.4m0 -1.1v1.4m0 -0.9v1.4m0 -1.1v1.4m0 -1.4v1.4m0 -1.3v1.4m0 -0.6v1.4m0 -0.4v1.4m0 -1.3v1.4m0 4v1.4m0 -1.2v1.4m0 -1.3v1.4M249.6 113.8v1.4m0 -0.5v1.4m0 7.1v1.4m0 0.3v1.4m0 0.5v1.4m0 0.6v1.4m0 -0.4v1.4m0 -1.1v1.4m0 -0.6v1.4m0 -0.5v1.4m0 1.4v1.4m0 -1.3v1.4m0 -0.3v1.4m0 -0.5v1.4m0 -1.1v1.4m0 -1.3v1.4m0 -0.9v1.4m0 -1.4v1.4m0 -1.2v1.4m0 -0v1.4m0 -1.2v1.4m0 -1v1.4m0 1.5v1.4m0 1.6v1.4m0 -0.5v1.4m0 -1v1.4m0 -0.4v1.4m0 -0.7v1.4m0 -0.9v1.4m0 -1.2v1.4m0 -0.2v1.4m0 0.8v1.4m0 -1.1v1.4m0 -1.2v1.4m0 -0.6v1.4m0 -0.5v1.4m0 0.8v1.4M254.8 110.8v1.4m0 7.2v1.4m0 3.3v1.4m0 1.3v1.4m0 -0.9v1.4m0 -0.4v1.4m0 -0.5v1.4m0 -1.2v1.4m0 -1v1.4m0 -0.9v1.4m0 -1.1v1.4m0 1v1.4m0 -0.8v1.4m0 -1v1.4m0 -0.6v1.4m0 -1.3v1.4m0 -0.6v1.4m0 0.5v1.4m0 -0.8v1.4m0 -1.1v1.4m0 0.7v1.4m0 -0.6v1.4m0 -0.9v1.4m0 -0.9v1.4m0 -1.1v1.4m0 -0.7v1.4m0 -1.3v1.4m0 -1.2v1.4m0 -1.2v1.4m0 -1.4v1.4m0 0.5v1.4m0 -1.2v1.4m0 0.1v1.4m0 -0.5v1.4m0 -0.3v1.4m0 0.8v1.4m0 -0.7v1.4m0 -1.1v1.4m0 -1.4v1.4m0 -1v1.4m0 -0.5v1.4m0 -0.8v1.4m0 -1v1.4m0 2.2v1.4m0 -1.3v1.4m0 -1.3v1.4m0 -0.6v1.4M260.1 121.6v1.4m0 0v1.4m0 -1.4v1.4m0 0.8v1.4m0 -1.3v1.4m0 -0.7v1.4m0 -1.3v1.4m0 -0.9v1.4m0 -1.4v1.4m0 -0.8v1.4m0 -0.7v1.4m0 -0.1v1.4m0 -1v1.4m0 -0.9v1.4m0 -1.2v1.4m0 -0.6v1.4m0 -0.6v1.4m0 -0.5v1.4m0 -1.4v1.4m0 2.3v1.4m0 -1.3v1.4m0 -1v1.4m0 -0.9v1.4m0 -1.1v1.4m0 -1.2v1.4m0 -0.1v1.4m0 -0.4v1.4m0 -0.9v1.4m0 -0.6v1.4m0 -1.2v1.4m0 -1.3v1.4m0 -1.3v1.4m0 -0.2v1.4m0 -1.4v1.4m0 -0.6v1.4m0 0.4v1.4m0 0.7v1.4m0 0.4v1.4m0 -0.9v1.4m0 -1v1.4m0 0v1.4m0 -0.6v1.4m0 -0.8v1.4m0 -0.5v1.4m0 -1.3v1.4m0 -0.9v1.4m0 5.2v1.4M265.3 121.9v1.4m0 0.7v1.4m0 0.2v1.4m0 -1.2v1.4m0 0.4v1.4m0 -1.2v1.4m0 -1v1.4m0 -1.2v1.4m0 0.1v1.4m0 1.9v1.4m0 0.8v1.4m0 0.7v1.4m0 -1v1.4m0 0.4v1.4m0 -0.9v1.4m0 0.4v1.4m0 -0.7v1.4m0 -1.2v1.4m0 0.4v1.4m0 0.2v1.4m0 0.9v1.4m0 -0.6v1.4m0 -0.7v1.4m0 -0v1.4m0 -1.3v1.4m0 -0.9v1.4m0 -0.6v1.4m0 -1.3v1.4m0 -0.4v1.4m0 -1.3v1.4m0 -1.4v1.4m0 -1v1.4m0 -0.8v1.4m0 -1v1.4m0 -1.3v1.4m0 -1.1v1.4m0 -1v1.4m0 0.6v1.4M270.5 109.1v1.4m0 6v1.4m0 0.3v1.4m0 -1.1v1.4m0 3.3v1.4m0 -0.8v1.4m0 -0.8v1.4m0 -0.6v1.4m0 2.6v1.4m0 0.9v1.4m0 -1v1.4m0 -0.2v1.4m0 0.7v1.4m0 -0.9v1.4m0 -1v1.4m0 -0.6v1.4m0 1.5v1.4m0 -0.5v1.4m0 0.9v1.4m0 -1.3v1.4m0 -1.3v1.4m0 -0.5v1.4m0 1.2v1.4m0 0.5v1.4m0 -1v1.4m0 -0.9v1.4m0 -0.6v1.4m0 -1.1v1.4m0 -0.6v1.4m0 -0.8v1.4m0 -1.4v1.4m0 -1.3v1.4m0 0.5v1.4m0 -0.2v1.4m0 3.3v1.4m0 -0.9v1.4m0 -1.1v1.4M275.8 111.5v1.4m0 3.7v1.4m0 1.4v1.4m0 0.7v1.4m0 -0.3v1.4m0 -1v1.4m0 -0.9v1.4m0 -0.9v1.4m0 -1.2v1.4m0 0.1v1.4m0 4.7v1.4m0 1.4v1.4m0 -0.5v1.4m0 -1.4v1.4m0 -0.8v1.4m0 0.8v1.4m0 -0.6v1.4m0 -1.3v1.4m0 -0.3v1.4m0 -0.5v1.4m0 -0.8v1.4m0 -0.5v1.4m0 -0.7v1.4m0 -1.3v1.4m0 -0.7v1.4m0 2.4v1.4m0 -0.8v1.4m0 -1.2v1.4m0 -1.2v1.4m0 -1.3v1.4m0 -1v1.4m0 0.4v1.4m0 -0.4v1.4m0 -1.2v1.4m0 -0.5v1.4m0 4.9v1.4m0 -1.1v1.4M281 115.3v1.4m0 5.3v1.4m0 -0.8v1.4m0 -0.9v1.4m0 6v1.4m0 -0.2v1.4m0 -0.3v1.4m0 1.4v1.4m0 -1.1v1.4m0 5.4v1.4m0 -0.3v1.4m0 1.3v1.4m0 -0.2v1.4m0 2.1v1.4m0 -1.1v1.4m0 -0.3v1.4m0 -1.3v1.4m0 16.2v1.4M286.2 113.4v1.4m0 1.6v1.4m0 4.1v1.4m0 0.8v1.4m0 4.4v1.4m0 3.2v1.4m0 -0.3v1.4m0 3.6v1.4m0 -0.8v1.4m0 -0.1v1.4m0 1.9v1.4m0 -0.3v1.4m0 -0.8v1.4m0 -1.1v1.4m0 0.1v1.4m0 -0.7v1.4m0 0.6v1.4m0 2v1.4m0 2.3v1.4M291.5 106.4v1.4m0 11.1v1.4m0 1v1.4m0 5.9v1.4m0 1.6v1.4m0 -0.9v1.4m0 0.8v1.4m0 -0.7v1.4m0 0v1.4m0 1.3v1.4m0 -1.4v1.4m0 2.8v1.4m0 2.8v1.4m0 -1.3v1.4m0 -0.5v1.4m0 -1.3v1.4m0 8.9v1.4M296.7 109.2v1.4m0 0.7v1.4m0 2.8v1.4m0 -0v1.4m0 -0.6v1.4m0 1.5v1.4m0 5.9v1.4m0 -1.4v1.4m0 -0.4v1.4m0 -0.4v1.4m0 0.9v1.4m0 -1.1v1.4m0 4.6v1.4m0 0.6v1.4m0 2.6v1.4m0 1.7v1.4m0 6.3v1.4m0 2v1.4M301.9 107.7v1.4m0 1.6v1.4m0 1.6v1.4m0 -0.5v1.4m0 -0.1v1.4m0 2.5v1.4m0 1.9v1.4m0 5.5v1.4m0 3.6v1.4m0 2.1v1.4m0 3.8v1.4m0 -0.6v1.4m0 0.1v1.4m0 -0.2v1.4m0 0.4v1.4m0 5.3v1.4M307.1 102.2v1.4m0 4.2v1.4m0 3.4v1.4m0 -1.1v1.4m0 2.9v1.4m0 -1.2v1.4m0 -1.4v1.4m0 7.1v1.4m0 4.3v1.4m0 -1.1v1.4m0 1.7v1.4m0 4.2v1.4m0 -0.6v1.4m0 1.3v1.4m0 0.2v1.4M312.4 103.2v1.4m0 18.9v1.4m0 2.2v1.4m0 6.1v1.4m0 -0v1.4m0 1v1.4m0 0.1v1.4m0 0.2v1.4M317.6 115.7v1.4M322.8 111.5v1.4M328.1 108.2v1.4m0 0.5v1.4m0 16.5v1.4m0 8.7v1.4M343.8 130.6v1.4" stroke="#0a4890" stroke-width="1.4" fill="none"/>
<path d="M270.5 113.9l36.6 -6.6M192.1 129.4l15.7 -2.8M155.5 173.4l41.8 -7.5M165.9 149.9l15.7 -2.8M244.4 165.5l36.6 -6.6M181.6 172.1l15.7 -2.8M275.8 116.9l36.6 -6.6M239.2 115.4l31.4 -5.7M260.1 164.7l36.6 -6.6M254.8 167.4l36.6 -6.6M265.3 121.2l36.6 -6.6M160.7 153.4l26.2 -4.7M218.2 162.1l41.8 -7.5M197.3 169.9l47.1 -8.5M202.5 153.9l26.1 -4.7M165.9 171.8l20.9 -3.8M145 143.5l20.9 -3.8M202.5 160.6l36.6 -6.6M291.5 114.2l52.3 -9.4M186.9 174.3l41.8 -7.5M192.1 162l47.1 -8.5M260.1 159.8l47.1 -8.5M265.3 117.2l36.6 -6.6M181.6 140.9l26.2 -4.7M228.7 132.4l26.2 -4.7M192.1 175.4l47.1 -8.5M139.8 148.6l15.7 -2.8M223.5 138.7l26.2 -4.7M218.2 168.4l31.4 -5.7M275.8 153.6l31.4 -5.7M254.8 125.8l36.6 -6.6M202.5 140.8l36.6 -6.6M265.3 112.3l26.2 -4.7M286.2 100l57.5 -10.4M165.9 138.9l26.2 -4.7M275.8 146.3l10.5 -1.9M197.3 126.8l36.6 -6.6M160.7 180.7l20.9 -3.8M228.7 131.2l47.1 -8.5M155.5 184.1l15.7 -2.8M265.3 123.1l31.4 -5.7M207.8 134l41.8 -7.5M139.8 176.5l47.1 -8.5M228.7 137.2l20.9 -3.8M254.8 166.5l20.9 -3.8M218.2 142.8l41.8 -7.5M228.7 135.7l36.6 -6.6M155.5 138.5l41.8 -7.5M181.6 170.6l47.1 -8.5M145 162.3l15.7 -2.8M260.1 166.6l47.1 -8.5M275.8 114.9l36.6 -6.6M275.8 107.7l31.4 -5.7M150.2 156.4l31.4 -5.7M171.2 173l36.6 -6.6M155.5 146.7l26.1 -4.7M223.5 162.7l41.8 -7.5M218.2 164.1l36.6 -6.6M260.1 123.3l41.8 -7.5M155.5 143.9l41.8 -7.5M207.8 136.1l10.5 -1.9M145 147.8l15.7 -2.8M165.9 176.6l10.5 -1.9M160.7 178.1l41.8 -7.5M218.2 131.5l31.4 -5.7M296.7 108.6l26.1 -4.7M244.4 162.2l26.2 -4.7" stroke="#86c8ee" stroke-width="0.6" fill="none"/>
<path d="M165.9 174.9l36.6 -6.6M186.9 140.3l31.4 -5.7M192.1 170.9l31.4 -5.7M270.5 155.6l26.2 -4.7M192.1 147.5l10.5 -1.9M181.6 155.3l47.1 -8.5M270.5 155.4l36.6 -6.6M197.3 160l20.9 -3.8M176.4 170.3l36.6 -6.6M275.8 147.9l36.6 -6.6M160.7 179.6l15.7 -2.8M233.9 138.1l41.8 -7.5M270.5 151.7l36.6 -6.6M223.5 146.3l36.6 -6.6M176.4 167.7l41.8 -7.5M171.2 160.7l36.6 -6.6M171.2 148.2l41.8 -7.5M155.5 142.3l41.8 -7.5M186.9 165.9l41.8 -7.5M254.8 137.8l41.8 -7.5M181.6 171.5l47.1 -8.5M207.8 132.5l36.6 -6.6M186.9 145.9l20.9 -3.8M223.5 139.7l36.6 -6.6M275.8 144l26.2 -4.7M181.6 147.6l10.5 -1.9M254.8 125.7l26.2 -4.7M275.8 131.1l36.6 -6.6M260.1 156.8l10.5 -1.9M139.8 143l41.8 -7.5M192.1 139l31.4 -5.7M160.7 159.6l41.8 -7.5M228.7 168.1l36.6 -6.6M223.5 143.9l36.6 -6.6M291.5 105.9l47.1 -8.5M270.5 135.6l31.4 -5.7M139.8 159.2l36.6 -6.6M270.5 136.4l26.2 -4.7M197.3 165.6l36.6 -6.6M192.1 160.6l31.4 -5.7M192.1 166.4l41.8 -7.5M265.3 147.3l47.1 -8.5M213 133.9l10.5 -1.9M244.4 112.9l41.8 -7.5M254.8 125.4l26.2 -4.7M270.5 120.7l36.6 -6.6M197.3 166.5l36.6 -6.6M233.9 154.6l41.8 -7.5M145 180.5l15.7 -2.8M150.2 175.9l31.4 -5.7M213 156l26.2 -4.7M244.4 162.5l36.6 -6.6M228.7 161.2l41.8 -7.5M171.2 177.4l15.7 -2.8M265.3 152l10.5 -1.9M213 148.6l36.6 -6.6M186.9 129.5l41.8 -7.5M270.5 153l15.7 -2.8M249.6 155.7l15.7 -2.8M197.3 146.1l31.4 -5.7M270.5 154.6l10.5 -1.9M150.2 150.2l15.7 -2.8M192.1 171l26.2 -4.7M275.8 120.7l36.6 -6.6M181.6 163.9l15.7 -2.8M165.9 147.8l36.6 -6.6M254.8 159.8l31.4 -5.7M239.2 164.6l26.2 -4.7M254.8 120.9l36.6 -6.6M207.8 123.5l41.8 -7.5M165.9 170.1l36.6 -6.6M171.2 148.5l36.6 -6.6M228.7 148.2l15.7 -2.8M186.9 172.4l15.7 -2.8M150.2 182.6l47.1 -8.5M202.5 138.2l47.1 -8.5M181.6 139.4l31.4 -5.7M249.6 122.2l15.7 -2.8M228.7 160.7l41.8 -7.5M160.7 137.6l31.4 -5.7M150.2 170.8l10.5 -1.9M165.9 170.2l41.8 -7.5M176.4 170.4l36.6 -6.6M275.8 149.8l26.2 -4.7M145 174.5l10.5 -1.9M265.3 110l10.5 -1.9M213 138.7l36.6 -6.6M197.3 139.3l36.6 -6.6M181.6 159.8l26.2 -4.7M197.3 166.7l41.8 -7.5M239.2 162.8l31.4 -5.7M239.2 148.1l31.4 -5.7M155.5 152.7l31.4 -5.7M176.4 167.8l36.6 -6.6M186.9 164.1l26.1 -4.7M160.7 168l41.8 -7.5M186.9 149.5l31.4 -5.7M260.1 150.7l47.1 -8.5M249.6 148.5l41.8 -7.5M186.9 158.7l20.9 -3.8M197.3 142.8l41.8 -7.5M181.6 172.9l31.4 -5.7M249.6 150.3l26.1 -4.7M202.5 172.4l41.8 -7.5M207.8 126.6l41.8 -7.5M145 150.8l31.4 -5.7M275.8 159.7l20.9 -3.8M171.2 170.7l36.6 -6.6M275.8 135l36.6 -6.6M223.5 133.1l41.8 -7.5M265.3 165.6l26.2 -4.7M150.2 177.6l36.6 -6.6M244.4 139.6l36.6 -6.6M186.9 165.2l20.9 -3.8M270.5 163.6l41.8 -7.5M260.1 146.9l36.6 -6.6M202.5 163.7l31.4 -5.7M233.9 151.1l36.6 -6.6M233.9 142.8l41.8 -7.5M223.5 140.7l36.6 -6.6M145 172l36.6 -6.6M155.5 169.8l41.8 -7.5M254.8 132.8l31.4 -5.7M249.6 123.5l20.9 -3.8M207.8 166.5l26.2 -4.7M197.3 156.5l31.4 -5.7M275.8 123.8l31.4 -5.7M244.4 125.2l31.4 -5.7M223.5 160.5l20.9 -3.8M139.8 182.1l20.9 -3.8M207.8 157.6l20.9 -3.8M213 155.8l15.7 -2.8M155.5 178.2l36.6 -6.6M186.9 147.6l36.6 -6.6M233.9 163.7l41.8 -7.5M165.9 175.6l31.4 -5.7M223.5 162l41.8 -7.5M265.3 134.4l47.1 -8.5M145 148.7l31.4 -5.7M218.2 137.8l36.6 -6.6M244.4 127.5l36.6 -6.6M249.6 133.1l31.4 -5.7M176.4 141l31.4 -5.7M260.1 136.9l41.8 -7.5M171.2 147.2l36.6 -6.6M218.2 150.7l36.6 -6.6M275.8 150.9l31.4 -5.7M176.4 140.9l10.5 -1.9M181.6 143.9l41.8 -7.5M165.9 168.9l41.8 -7.5M145 150.8l41.8 -7.5M186.9 165.7l41.8 -7.5M249.6 135.5l36.6 -6.6M228.7 141.4l36.6 -6.6M145 176.1l47.1 -8.5M213 167.6l41.8 -7.5M260.1 159.7l36.6 -6.6M260.1 132.2l31.4 -5.7M186.9 150.7l41.8 -7.5M223.5 132.9l20.9 -3.8M176.4 141.1l36.6 -6.6M139.8 161.1l31.4 -5.7M176.4 154.9l31.4 -5.7M139.8 150.9l10.5 -1.9M150.2 161.6l31.4 -5.7M192.1 160.3l10.5 -1.9M202.5 142.6l41.8 -7.5M228.7 126l15.7 -2.8M270.5 151.3l20.9 -3.8M197.3 146.4l41.8 -7.5M254.8 132.6l41.8 -7.5M207.8 156.7l15.7 -2.8M260.1 136.4l10.5 -1.9M150.2 147.5l36.6 -6.6M192.1 128.3l36.6 -6.6M249.6 151.9l20.9 -3.8M165.9 158.2l41.8 -7.5M155.5 177.6l36.6 -6.6M260.1 146.6l36.6 -6.6M254.8 131.7l41.8 -7.5M171.2 170.2l10.5 -1.9M197.3 158.2l31.4 -5.7M270.5 149l15.7 -2.8M218.2 160.4l31.4 -5.7M202.5 160.5l36.6 -6.6M171.2 149.9l10.5 -1.9M139.8 183.5l41.8 -7.5M254.8 153l31.4 -5.7M150.2 170.6l10.5 -1.9M213 129.5l20.9 -3.8M145 156l31.4 -5.7M301.9 125.9l36.6 -6.6M150.2 161.9l36.6 -6.6M202.5 154.9l20.9 -3.8M228.7 142.1l15.7 -2.8M254.8 156.9l47.1 -8.5M155.5 155.2l36.6 -6.6M249.6 161.6l26.1 -4.7" stroke="#2e8ed2" stroke-width="0.6" fill="none"/>
<path d="M155.5 172.2l15.7 -2.8M239.2 168.9l26.2 -4.7M160.7 147.2l41.8 -7.5M254.8 133.6l41.8 -7.5M228.7 157.6l41.8 -7.5M223.5 129.5l41.8 -7.5M233.9 162.2l41.8 -7.5M145 162l41.8 -7.5M160.7 166.2l31.4 -5.7M171.2 160.4l26.1 -4.7M228.7 159.3l20.9 -3.8M207.8 149.4l36.6 -6.6M244.4 160.6l31.4 -5.7M207.8 147.9l41.8 -7.5M150.2 164.9l36.6 -6.6M223.5 141l47.1 -8.5M139.8 156l41.8 -7.5M150.2 165.9l36.6 -6.6M218.2 163.1l41.8 -7.5M171.2 167.5l36.6 -6.6M139.8 172.9l41.8 -7.5M218.2 155.4l31.4 -5.7M171.2 159.7l10.5 -1.9M165.9 163.2l31.4 -5.7M202.5 136.8l41.8 -7.5M254.8 145.8l36.6 -6.6M218.2 135.9l31.4 -5.7M213 142l41.8 -7.5M197.3 155.9l31.4 -5.7M207.8 145.8l20.9 -3.8M197.3 169.3l31.4 -5.7M270.5 143.1l20.9 -3.8M160.7 152.4l36.6 -6.6M150.2 163.1l41.8 -7.5M197.3 171.7l31.4 -5.7M176.4 161.2l47.1 -8.5M249.6 146l36.6 -6.6M171.2 165.5l41.8 -7.5M233.9 135.5l36.6 -6.6M233.9 152.7l41.8 -7.5M171.2 167.5l41.8 -7.5M244.4 140.4l41.8 -7.5M139.8 155l36.6 -6.6M186.9 147.1l47.1 -8.5M176.4 150.3l36.6 -6.6M275.8 148.4l26.2 -4.7M254.8 152.3l10.5 -1.9M160.7 149.7l41.8 -7.5M275.8 156.3l36.6 -6.6M139.8 169.2l26.2 -4.7M181.6 150.9l41.8 -7.5M233.9 139.6l31.4 -5.7M139.8 167.2l31.4 -5.7M160.7 150.2l36.6 -6.6M181.6 159.4l15.7 -2.8M260.1 147.6l15.7 -2.8M202.5 149.1l31.4 -5.7M145 172.6l41.8 -7.5M223.5 159.7l36.6 -6.6M228.7 140.6l36.6 -6.6M228.7 136.3l36.6 -6.6M150.2 160.4l10.5 -1.9M249.6 142.7l41.8 -7.5M192.1 160.5l36.6 -6.6M176.4 165.8l41.8 -7.5M165.9 143.1l41.8 -7.5M165.9 159.1l41.8 -7.5M145 165.8l26.2 -4.7M254.8 141.5l36.6 -6.6M165.9 167.5l41.8 -7.5M260.1 129.2l41.8 -7.5M249.6 138.5l26.1 -4.7M233.9 149.7l26.2 -4.7M265.3 147.5l41.8 -7.5M181.6 159l41.8 -7.5M139.8 173.4l20.9 -3.8M192.1 137.9l41.8 -7.5M249.6 144.4l31.4 -5.7M228.7 146.9l41.8 -7.5M165.9 165.7l31.4 -5.7M244.4 143.3l26.2 -4.7M207.8 161.7l15.7 -2.8M239.2 154l31.4 -5.7M213 164.6l41.8 -7.5M265.3 136.1l31.4 -5.7M244.4 129.1l47.1 -8.5M202.5 151.4l41.8 -7.5M165.9 147.1l20.9 -3.8M171.2 159.9l47.1 -8.5M228.7 152.1l26.2 -4.7M249.6 129.9l20.9 -3.8M165.9 166.1l10.5 -1.9M145 170.7l31.4 -5.7M270.5 162.8l41.8 -7.5M275.8 142.6l31.4 -5.7M155.5 157.6l41.8 -7.5M186.9 156.3l31.4 -5.7M181.6 162l10.5 -1.9M197.3 149.4l26.2 -4.7M275.8 141.4l26.2 -4.7M202.5 144.1l15.7 -2.8M145 174l31.4 -5.7M233.9 136.8l36.6 -6.6M254.8 147.1l20.9 -3.8M228.7 124l31.4 -5.7M155.5 170.2l26.1 -4.7M254.8 126.7l41.8 -7.5M139.8 169.4l20.9 -3.8M260.1 148.7l47.1 -8.5M150.2 172l31.4 -5.7M260.1 157.1l41.8 -7.5M228.7 151.9l10.5 -1.9M228.7 139.8l36.6 -6.6M228.7 149.1l36.6 -6.6M228.7 148.3l26.2 -4.7M223.5 139.9l41.8 -7.5M207.8 163.9l31.4 -5.7M202.5 152.6l41.8 -7.5M150.2 174.3l41.8 -7.5M181.6 167.5l20.9 -3.8M192.1 150.9l41.8 -7.5M213 155l41.8 -7.5M233.9 133.2l31.4 -5.7M202.5 164.5l41.8 -7.5M150.2 166.3l31.4 -5.7M207.8 148.4l15.7 -2.8M197.3 167.2l41.8 -7.5M244.4 149.5l26.2 -4.7M186.9 157.8l31.4 -5.7M213 151.3l41.8 -7.5M171.2 165l36.6 -6.6M139.8 155.4l20.9 -3.8M197.3 151.4l47.1 -8.5M270.5 141.8l41.8 -7.5M165.9 159.3l20.9 -3.8M186.9 139.2l20.9 -3.8M186.9 169.5l36.6 -6.6M176.4 155.3l15.7 -2.8M150.2 160.7l10.5 -1.9M218.2 143.7l31.4 -5.7M254.8 142.9l31.4 -5.7M218.2 157.7l31.4 -5.7M176.4 146l41.8 -7.5M155.5 172.3l20.9 -3.8M150.2 161.6l10.5 -1.9M270.5 137.2l41.8 -7.5M139.8 170.6l26.2 -4.7M244.4 141.2l26.2 -4.7M233.9 142.2l41.8 -7.5M155.5 155.8l31.4 -5.7M249.6 138.5l20.9 -3.8M176.4 163.3l31.4 -5.7M186.9 160.7l47.1 -8.5M265.3 143.3l31.4 -5.7M213 165.4l15.7 -2.8M165.9 161.1l31.4 -5.7M150.2 168.6l41.8 -7.5M249.6 136.3l10.5 -1.9M207.8 143.2l36.6 -6.6M145 174.6l26.2 -4.7M249.6 140.6l36.6 -6.6M218.2 147.9l36.6 -6.6M192.1 166.9l20.9 -3.8M192.1 152.2l31.4 -5.7M213 149.5l47.1 -8.5M139.8 176.4l31.4 -5.7M254.8 138.2l20.9 -3.8M260.1 147.7l15.7 -2.8M207.8 159.4l31.4 -5.7M218.2 144.2l41.8 -7.5M260.1 151.4l20.9 -3.8M265.3 149.7l41.8 -7.5M181.6 145.5l31.4 -5.7M150.2 172.1l47.1 -8.5M249.6 138.5l26.1 -4.7M249.6 135.2l31.4 -5.7M145 171.5l31.4 -5.7M165.9 153.1l20.9 -3.8M239.2 133.7l41.8 -7.5M160.7 159.2l36.6 -6.6M145 169.5l10.5 -1.9M165.9 147.4l41.8 -7.5M186.9 148.5l10.5 -1.9M155.5 170l47.1 -8.5M260.1 130.3l26.1 -4.7M139.8 173.4l10.5 -1.9M249.6 153.9l31.4 -5.7M254.8 137.2l31.4 -5.7M254.8 135.2l36.6 -6.6M265.3 132l31.4 -5.7M270.5 114.8l31.4 -5.7M202.5 159.9l31.4 -5.7M265.3 150.6l20.9 -3.8M239.2 140.9l47.1 -8.5M218.2 157.9l41.8 -7.5M150.2 161.1l36.6 -6.6M186.9 161.4l41.8 -7.5M223.5 148.2l36.6 -6.6M233.9 161.3l10.5 -1.9M239.2 143.9l15.7 -2.8M270.5 142.4l36.6 -6.6M228.7 155.5l31.4 -5.7M192.1 154.9l31.4 -5.7M249.6 139.8l15.7 -2.8M139.8 161.3l31.4 -5.7M270.5 128.8l36.6 -6.6M165.9 154.1l41.8 -7.5M223.5 154.7l31.4 -5.7M260.1 118.7l41.8 -7.5M207.8 143.3l41.8 -7.5M139.8 157.8l10.5 -1.9M270.5 127.2l41.8 -7.5M150.2 161.7l47.1 -8.5M145 166.5l47.1 -8.5M176.4 168.6l36.6 -6.6M223.5 153.5l36.6 -6.6M249.6 146.3l10.5 -1.9M249.6 154.8l47.1 -8.5M181.6 131.5l31.4 -5.7M150.2 165.6l36.6 -6.6M160.7 156.1l36.6 -6.6M160.7 162.7l26.2 -4.7M265.3 155l31.4 -5.7M171.2 158.3l41.8 -7.5M228.7 144.9l26.2 -4.7M192.1 171.2l26.2 -4.7M150.2 162.3l20.9 -3.8M265.3 143.7l26.2 -4.7M223.5 140.6l36.6 -6.6M275.8 141.2l36.6 -6.6M275.8 144l15.7 -2.8M218.2 134.4l15.7 -2.8M139.8 160.4l15.7 -2.8M233.9 149.1l41.8 -7.5M270.5 147.8l31.4 -5.7M265.3 144.6l31.4 -5.7M244.4 160.1l26.2 -4.7M192.1 148.3l10.5 -1.9M249.6 168.2l20.9 -3.8M202.5 155.3l41.8 -7.5M171.2 140.4l47.1 -8.5M150.2 159.5l47.1 -8.5M155.5 169.2l31.4 -5.7M145 156.3l41.8 -7.5M197.3 169.5l41.8 -7.5M218.2 142.8l36.6 -6.6M186.9 150.6l15.7 -2.8M150.2 157.4l41.8 -7.5M207.8 157.6l20.9 -3.8M155.5 170.5l41.8 -7.5M254.8 143.1l15.7 -2.8M197.3 163.2l15.7 -2.8M249.6 133.9l31.4 -5.7M150.2 178.9l10.5 -1.9M223.5 149.2l31.4 -5.7M176.4 178.9l26.2 -4.7M228.7 153.2l36.6 -6.6M176.4 170l26.2 -4.7M165.9 147.8l26.2 -4.7M181.6 156.7l26.2 -4.7M213 142l41.8 -7.5M228.7 154.9l10.5 -1.9M145 179.1l36.6 -6.6M150.2 158.3l26.2 -4.7M155.5 155.6l15.7 -2.8M165.9 164.2l31.4 -5.7M270.5 108.2l36.6 -6.6M160.7 167l15.7 -2.8M213 153.6l36.6 -6.6M171.2 153.1l31.4 -5.7M160.7 173.6l36.6 -6.6M160.7 167.1l41.8 -7.5M150.2 158.6l15.7 -2.8M202.5 147l41.8 -7.5M202.5 141.1l15.7 -2.8M218.2 158.9l36.6 -6.6M270.5 132.2l20.9 -3.8M239.2 143.2l31.4 -5.7M228.7 154.7l20.9 -3.8M186.9 165.2l41.8 -7.5M165.9 140.6l41.8 -7.5M202.5 174.4l41.8 -7.5M150.2 150.7l41.8 -7.5M202.5 161.4l36.6 -6.6M165.9 165.3l36.6 -6.6M186.9 154.9l10.5 -1.9M139.8 162.2l41.8 -7.5M207.8 144.1l41.8 -7.5M249.6 149.7l26.1 -4.7M270.5 122.4l20.9 -3.8M150.2 172.4l10.5 -1.9M254.8 130.7l41.8 -7.5M265.3 146.6l26.2 -4.7M139.8 170l10.5 -1.9M275.8 147.2l36.6 -6.6M165.9 171.1l41.8 -7.5M270.5 152.8l41.8 -7.5M181.6 164l47.1 -8.5M228.7 130l41.8 -7.5M186.9 159.1l41.8 -7.5M249.6 138.7l10.5 -1.9M239.2 157.8l31.4 -5.7M165.9 158.6l20.9 -3.8M139.8 178.7l36.6 -6.6M165.9 167.2l41.8 -7.5M270.5 148.6l41.8 -7.5M160.7 146.9l36.6 -6.6M244.4 150.4l31.4 -5.7M265.3 149.4l15.7 -2.8M181.6 151.2l15.7 -2.8M228.7 147.8l31.4 -5.7M265.3 141.8l10.5 -1.9M150.2 158.2l26.2 -4.7M207.8 132.9l26.2 -4.7M223.5 133.6l36.6 -6.6M207.8 160.6l31.4 -5.7M265.3 127.1l31.4 -5.7M145 168.5l31.4 -5.7M171.2 150.8l31.4 -5.7M254.8 150.5l47.1 -8.5M275.8 137.8l10.5 -1.9M181.6 166.8l41.8 -7.5M150.2 156.7l41.8 -7.5M186.9 164.5l41.8 -7.5M233.9 134.6l31.4 -5.7M223.5 154.8l41.8 -7.5M150.2 172l31.4 -5.7M213 157.7l41.8 -7.5M265.3 131.9l36.6 -6.6M265.3 155.7l41.8 -7.5M228.7 149.1l20.9 -3.8M265.3 149.3l36.6 -6.6M265.3 145.4l10.5 -1.9M139.8 172.1l36.6 -6.6M260.1 145.5l47.1 -8.5M291.5 142l52.3 -9.4M145 168l31.4 -5.7" stroke="#0a64b2" stroke-width="0.6" fill="none"/>
<path d="M213 151.1l41.8 -7.5M265.3 135.6l41.8 -7.5M202.5 156.9l41.8 -7.5M239.2 151.9l41.8 -7.5M171.2 162.4l31.4 -5.7M270.5 137.6l41.8 -7.5M218.2 148.3l31.4 -5.7M260.1 132.7l36.6 -6.6M233.9 147l15.7 -2.8M275.8 139.1l15.7 -2.8M244.4 146l26.2 -4.7M181.6 158.4l20.9 -3.8M265.3 141.8l41.8 -7.5M197.3 159.9l41.8 -7.5M249.6 135.5l31.4 -5.7M223.5 140.9l31.4 -5.7M244.4 141.9l15.7 -2.8M139.8 173.3l31.4 -5.7M171.2 161.8l15.7 -2.8M176.4 159l41.8 -7.5M165.9 154.7l20.9 -3.8M186.9 162.7l36.6 -6.6M160.7 165.9l47.1 -8.5M249.6 143.8l20.9 -3.8M260.1 139.2l31.4 -5.7M176.4 154.6l41.8 -7.5M150.2 159.5l20.9 -3.8M150.2 163.9l41.8 -7.5M171.2 158l15.7 -2.8M213 138.2l47.1 -8.5M197.3 150.7l31.4 -5.7M270.5 149.9l36.6 -6.6M249.6 135l41.8 -7.5M249.6 140.7l47.1 -8.5M160.7 163.5l31.4 -5.7M160.7 162.2l41.8 -7.5M145 174.3l36.6 -6.6M197.3 143.1l20.9 -3.8M239.2 145l41.8 -7.5M249.6 140.2l26.1 -4.7M139.8 161.4l31.4 -5.7M244.4 156.9l31.4 -5.7M139.8 171.9l36.6 -6.6M171.2 157.7l31.4 -5.7M218.2 158.5l31.4 -5.7M207.8 147.1l10.5 -1.9M202.5 157.4l36.6 -6.6M150.2 156.5l47.1 -8.5M150.2 161l20.9 -3.8M160.7 144l41.8 -7.5M197.3 157.8l26.2 -4.7M186.9 162.1l31.4 -5.7M197.3 151l26.2 -4.7M155.5 161.7l41.8 -7.5M171.2 170.9l47.1 -8.5M181.6 160.5l36.6 -6.6M145 164.2l31.4 -5.7M228.7 157l36.6 -6.6M155.5 160.1l31.4 -5.7M150.2 160.1l31.4 -5.7M254.8 144.8l20.9 -3.8M218.2 148.5l26.2 -4.7M265.3 137.7l15.7 -2.8M254.8 149.2l41.8 -7.5M202.5 163.8l36.6 -6.6M139.8 167.8l26.2 -4.7M254.8 130.9l36.6 -6.6M160.7 176l31.4 -5.7M155.5 158.9l26.1 -4.7M176.4 162.9l31.4 -5.7M233.9 154l41.8 -7.5M197.3 151.6l36.6 -6.6M249.6 138.1l31.4 -5.7M275.8 137.1l36.6 -6.6M202.5 155l31.4 -5.7M244.4 148.8l20.9 -3.8M181.6 175.4l20.9 -3.8M160.7 160.2l47.1 -8.5M270.5 135.1l41.8 -7.5M186.9 143.1l47.1 -8.5M171.2 166.5l31.4 -5.7M223.5 151.4l36.6 -6.6M165.9 172.2l26.2 -4.7M181.6 154.1l41.8 -7.5M202.5 158.4l47.1 -8.5M207.8 158.7l31.4 -5.7M275.8 139.2l31.4 -5.7M207.8 153.3l41.8 -7.5M223.5 154.6l31.4 -5.7M186.9 157.7l41.8 -7.5M139.8 166.2l41.8 -7.5M223.5 147.4l15.7 -2.8M275.8 139.4l20.9 -3.8M223.5 151.7l26.2 -4.7M171.2 162.5l41.8 -7.5M249.6 143.7l26.1 -4.7M228.7 143.7l47.1 -8.5M165.9 165.9l41.8 -7.5M160.7 154.9l26.2 -4.7M239.2 139.8l41.8 -7.5M207.8 144.5l20.9 -3.8M145 167.8l41.8 -7.5M176.4 157.6l31.4 -5.7M176.4 160.6l41.8 -7.5M223.5 150.4l10.5 -1.9M160.7 156.3l47.1 -8.5M213 153.2l41.8 -7.5M233.9 159.5l31.4 -5.7M181.6 149.4l41.8 -7.5M165.9 156.8l41.8 -7.5M228.7 148.9l10.5 -1.9M165.9 159.3l10.5 -1.9M249.6 138.6l31.4 -5.7M165.9 174.7l15.7 -2.8M176.4 156.6l36.6 -6.6M186.9 151.5l15.7 -2.8M244.4 129.1l36.6 -6.6M171.2 162.3l15.7 -2.8M155.5 160.3l10.5 -1.9M223.5 145.8l36.6 -6.6M223.5 144.6l31.4 -5.7M186.9 157.6l10.5 -1.9M265.3 141.5l10.5 -1.9M192.1 159.4l41.8 -7.5M197.3 149.7l26.2 -4.7M160.7 162.3l20.9 -3.8M160.7 163.4l47.1 -8.5M192.1 155.2l20.9 -3.8M197.3 159.8l41.8 -7.5M145 168.6l10.5 -1.9M249.6 141.1l47.1 -8.5M155.5 164.6l31.4 -5.7M155.5 170.5l41.8 -7.5M213 144.3l31.4 -5.7M192.1 161.9l47.1 -8.5M150.2 170.3l41.8 -7.5M223.5 151.4l10.5 -1.9M239.2 141.8l41.8 -7.5M228.7 148.2l41.8 -7.5M171.2 153.5l26.1 -4.7M176.4 154.8l41.8 -7.5M213 153.2l41.8 -7.5M192.1 150.2l47.1 -8.5M171.2 147.4l10.5 -1.9M239.2 142.3l36.6 -6.6M155.5 162.2l15.7 -2.8M228.7 161.2l15.7 -2.8M160.7 157l41.8 -7.5M176.4 150.8l36.6 -6.6M160.7 162.1l31.4 -5.7M249.6 145.3l31.4 -5.7M186.9 165.2l15.7 -2.8M160.7 167.7l41.8 -7.5M260.1 144.5l41.8 -7.5M270.5 144.8l10.5 -1.9M244.4 137.5l15.7 -2.8M239.2 140.7l47.1 -8.5M223.5 154.6l10.5 -1.9M228.7 144.6l41.8 -7.5M165.9 161.8l15.7 -2.8M186.9 156.9l26.1 -4.7M202.5 148.9l36.6 -6.6M265.3 129.9l47.1 -8.5M197.3 166.7l41.8 -7.5M239.2 122.5l41.8 -7.5M139.8 166.6l10.5 -1.9M260.1 128.4l41.8 -7.5M254.8 142.6l41.8 -7.5M254.8 128.4l36.6 -6.6M254.8 130.8l15.7 -2.8M176.4 164.6l41.8 -7.5M207.8 145.2l47.1 -8.5M239.2 136.9l36.6 -6.6M165.9 152.7l36.6 -6.6M218.2 137.4l41.8 -7.5M213 148.5l36.6 -6.6M197.3 163.5l41.8 -7.5M265.3 155l31.4 -5.7M192.1 153.7l26.2 -4.7M139.8 166.8l47.1 -8.5M197.3 158.1l41.8 -7.5M254.8 156.5l20.9 -3.8M145 167.1l20.9 -3.8M181.6 160.4l15.7 -2.8M218.2 150.7l20.9 -3.8M228.7 144.3l20.9 -3.8M202.5 164.6l41.8 -7.5M139.8 171l41.8 -7.5M150.2 153.6l10.5 -1.9M244.4 141.9l36.6 -6.6M260.1 151.7l20.9 -3.8M260.1 143.7l36.6 -6.6M207.8 152.3l41.8 -7.5M218.2 153.7l36.6 -6.6M249.6 145.4l15.7 -2.8M160.7 154.4l26.2 -4.7M233.9 140l20.9 -3.8M270.5 140.9l41.8 -7.5M233.9 145.7l31.4 -5.7M197.3 149.9l26.2 -4.7M181.6 149.6l47.1 -8.5M171.2 159.2l41.8 -7.5M171.2 150.9l36.6 -6.6M228.7 144l31.4 -5.7M176.4 157.4l31.4 -5.7M160.7 168.3l36.6 -6.6M145 160l36.6 -6.6M260.1 128.2l10.5 -1.9M139.8 171.9l36.6 -6.6M260.1 151.9l41.8 -7.5M270.5 134.9l15.7 -2.8M233.9 141.6l31.4 -5.7M160.7 157.7l26.2 -4.7M176.4 150.6l20.9 -3.8M223.5 152l10.5 -1.9M202.5 161.4l41.8 -7.5M186.9 150.5l41.8 -7.5M207.8 148.2l41.8 -7.5M265.3 148.1l41.8 -7.5M207.8 151.2l10.5 -1.9M150.2 174l15.7 -2.8M244.4 150.7l31.4 -5.7M202.5 150.8l31.4 -5.7M270.5 140.7l10.5 -1.9M192.1 164.1l36.6 -6.6M244.4 148.1l36.6 -6.6M176.4 147.6l36.6 -6.6M155.5 167.7l26.1 -4.7M233.9 140.3l31.4 -5.7M228.7 145.8l20.9 -3.8M207.8 152.4l15.7 -2.8M239.2 140.9l31.4 -5.7M254.8 147.6l47.1 -8.5M139.8 159l41.8 -7.5M150.2 159.3l15.7 -2.8M207.8 156.3l20.9 -3.8M270.5 149.2l41.8 -7.5M275.8 132.5l26.2 -4.7M160.7 166.3l26.2 -4.7M197.3 147.3l10.5 -1.9M186.9 149.8l15.7 -2.8M254.8 147.5l41.8 -7.5M260.1 138l41.8 -7.5M155.5 164.7l10.5 -1.9M207.8 145l41.8 -7.5M186.9 146.3l41.8 -7.5M139.8 168.3l47.1 -8.5M150.2 153.1l36.6 -6.6M254.8 150.8l31.4 -5.7M312.4 143.5l26.1 -4.7M150.2 162.2l31.4 -5.7M244.4 142.9l15.7 -2.8M160.7 165.1l41.8 -7.5M181.6 153.1l36.6 -6.6M155.5 154.3l36.6 -6.6M145 164.5l31.4 -5.7M186.9 155.5l47.1 -8.5M186.9 157.5l41.8 -7.5M139.8 170.1l31.4 -5.7M207.8 149.2l31.4 -5.7M228.7 150.8l10.5 -1.9M197.3 146.4l20.9 -3.8M270.5 134.2l15.7 -2.8M165.9 167.1l41.8 -7.5M155.5 168.4l26.1 -4.7M176.4 161l20.9 -3.8M160.7 163.9l36.6 -6.6M155.5 170.6l20.9 -3.8M218.2 144.6l10.5 -1.9M155.5 166l10.5 -1.9M155.5 171.4l41.8 -7.5M171.2 163.6l31.4 -5.7M275.8 136.8l36.6 -6.6M244.4 152l31.4 -5.7M265.3 142.1l41.8 -7.5M239.2 156.6l31.4 -5.7M213 156.1l41.8 -7.5M165.9 150.4l47.1 -8.5M202.5 156.1l36.6 -6.6M192.1 151.2l47.1 -8.5M171.2 172.6l41.8 -7.5M150.2 158.8l41.8 -7.5M145 179.1l20.9 -3.8M228.7 152.4l47.1 -8.5M270.5 137.8l41.8 -7.5M155.5 155.4l26.1 -4.7M270.5 135.7l31.4 -5.7M254.8 149.2l26.2 -4.7M176.4 154.8l36.6 -6.6M275.8 135.3l36.6 -6.6M233.9 154.6l36.6 -6.6M228.7 148.2l47.1 -8.5M202.5 157.8l15.7 -2.8M171.2 174l31.4 -5.7M202.5 149.3l15.7 -2.8M218.2 144.9l36.6 -6.6M254.8 135.9l10.5 -1.9M176.4 170.6l10.5 -1.9M223.5 154.9l41.8 -7.5M155.5 160.6l36.6 -6.6M176.4 163.8l36.6 -6.6M223.5 158.6l36.6 -6.6M150.2 162.2l41.8 -7.5M218.2 149.2l15.7 -2.8M139.8 166.6l41.8 -7.5M254.8 138.5l20.9 -3.8M260.1 139.7l36.6 -6.6M165.9 151.2l36.6 -6.6M249.6 150.1l47.1 -8.5M249.6 147.4l31.4 -5.7M254.8 154.9l31.4 -5.7M181.6 155.7l41.8 -7.5M207.8 154.1l31.4 -5.7M150.2 170.5l26.2 -4.7M239.2 148.3l31.4 -5.7M223.5 139.9l47.1 -8.5M145 174.3l47.1 -8.5M150.2 165.5l31.4 -5.7M150.2 157.1l20.9 -3.8M213 154l20.9 -3.8M233.9 150.2l26.2 -4.7M213 155.9l41.8 -7.5M213 151.8l41.8 -7.5M244.4 135.4l41.8 -7.5M155.5 169.7l47.1 -8.5M213 151.6l10.5 -1.9M244.4 151.6l26.2 -4.7M270.5 134.9l41.8 -7.5M213 153.9l31.4 -5.7M275.8 143.5l36.6 -6.6M139.8 171.9l36.6 -6.6M171.2 152.1l41.8 -7.5M254.8 135.3l36.6 -6.6M176.4 159l15.7 -2.8M239.2 129.4l20.9 -3.8M150.2 161.7l41.8 -7.5M150.2 158.3l26.2 -4.7M260.1 138.6l10.5 -1.9M223.5 153l15.7 -2.8M275.8 125.5l26.2 -4.7M218.2 155.4l47.1 -8.5M197.3 155.7l47.1 -8.5M254.8 146.5l10.5 -1.9M155.5 162.9l41.8 -7.5M176.4 158.4l41.8 -7.5M218.2 146.1l36.6 -6.6M218.2 154.1l31.4 -5.7M192.1 160.6l36.6 -6.6M213 151.2l47.1 -8.5M165.9 165.3l41.8 -7.5M155.5 155.3l10.5 -1.9M275.8 123.4l31.4 -5.7M275.8 140.8l36.6 -6.6M244.4 147.9l31.4 -5.7M223.5 143.5l36.6 -6.6M165.9 153.5l26.2 -4.7M171.2 156l31.4 -5.7M228.7 151.2l36.6 -6.6M192.1 156.3l41.8 -7.5M249.6 148.8l36.6 -6.6M218.2 143.3l41.8 -7.5M265.3 148.3l15.7 -2.8M223.5 144.8l47.1 -8.5M176.4 153.1l15.7 -2.8M160.7 170.1l15.7 -2.8M213 154.3l10.5 -1.9M160.7 164.3l41.8 -7.5M249.6 139.1l26.1 -4.7M165.9 165.1l41.8 -7.5M260.1 138.6l31.4 -5.7M275.8 145.1l36.6 -6.6M270.5 148.1l31.4 -5.7M275.8 125.1l36.6 -6.6M171.2 150.4l31.4 -5.7M286.2 138.3l52.3 -9.4M145 162.9l36.6 -6.6M228.7 145.4l47.1 -8.5M239.2 150.3l15.7 -2.8M165.9 165.3l41.8 -7.5M265.3 142.1l41.8 -7.5M239.2 141.3l41.8 -7.5M244.4 150l20.9 -3.8M249.6 135.7l41.8 -7.5M165.9 160.3l36.6 -6.6M171.2 156.4l41.8 -7.5M265.3 127.4l10.5 -1.9M260.1 130.3l26.1 -4.7M207.8 152.9l31.4 -5.7M186.9 160.4l26.1 -4.7M145 163.7l41.8 -7.5M265.3 138.5l36.6 -6.6M275.8 133l26.2 -4.7M275.8 151.7l36.6 -6.6M223.5 157.6l41.8 -7.5M218.2 152.3l15.7 -2.8M239.2 150l20.9 -3.8M171.2 164.8l41.8 -7.5M265.3 154.2l31.4 -5.7" stroke="#004e98" stroke-width="0.6" fill="none"/></g>
<g clip-path="url(#cAr)"><path d="M432.9 152.8v1.4m0 18.3v1.4m0 6.8v1.4M438.1 147.8v1.4m0 -1.1v1.4m0 3.9v1.4m0 -0.7v1.4m0 18.9v1.4m0 1.8v1.4m0 1v1.4M443.3 146.9v1.4m0 -0.2v1.4m0 2.3v1.4m0 3.7v1.4m0 1v1.4m0 6.9v1.4m0 18.4v1.4M448.5 133.5v1.4m0 14.3v1.4m0 -1.4v1.4m0 2.8v1.4m0 -0.9v1.4m0 -0.4v1.4m0 -0.6v1.4m0 -0.2v1.4m0 -0.2v1.4m0 0.6v1.4m0 11.7v1.4m0 -0.1v1.4m0 -0.3v1.4m0 -0.1v1.4M453.8 139.5v1.4m0 1.9v1.4m0 0.7v1.4m0 1.4v1.4m0 -1.1v1.4m0 -0.9v1.4m0 -0.5v1.4m0 -1.4v1.4m0 0.5v1.4m0 -0.5v1.4m0 1.4v1.4m0 4.8v1.4m0 3.5v1.4m0 2.4v1.4m0 1.1v1.4m0 -0.3v1.4m0 -1.4v1.4m0 -0.5v1.4m0 -1.3v1.4m0 1.2v1.4m0 -0.9v1.4m0 3.3v1.4M459 135v1.4m0 0.5v1.4m0 1.7v1.4m0 -0.7v1.4m0 1v1.4m0 -0.8v1.4m0 -1v1.4m0 1.1v1.4m0 -0.7v1.4m0 -0.5v1.4m0 2.2v1.4m0 0.4v1.4m0 0.4v1.4m0 -0.6v1.4m0 -1v1.4m0 11.7v1.4m0 0.7v1.4m0 -1.2v1.4m0 -1.2v1.4m0 -1v1.4m0 -0.8v1.4m0 -1v1.4m0 -1.2v1.4m0 0.3v1.4m0 0.5v1.4m0 -0.4v1.4m0 -0.5v1.4m0 5.9v1.4M464.2 134v1.4m0 6.7v1.4m0 0.1v1.4m0 0.1v1.4m0 -0.8v1.4m0 -0.3v1.4m0 -0.2v1.4m0 -0.7v1.4m0 -0.7v1.4m0 -1.2v1.4m0 -0.8v1.4m0 -0.7v1.4m0 -0.7v1.4m0 -0.5v1.4m0 -0v1.4m0 1.5v1.4m0 8v1.4m0 -1.1v1.4m0 2.1v1.4m0 -1.3v1.4m0 6.7v1.4m0 0.7v1.4m0 -0.6v1.4m0 -0.8v1.4M469.4 123.3v1.4m0 11.9v1.4m0 3.4v1.4m0 -1.1v1.4m0 2.2v1.4m0 -1v1.4m0 0.2v1.4m0 1.4v1.4m0 -0.8v1.4m0 -0.5v1.4m0 0.7v1.4m0 -0.9v1.4m0 -0.2v1.4m0 1v1.4m0 0.2v1.4m0 5.4v1.4m0 -1.3v1.4m0 -1.3v1.4m0 1.1v1.4m0 2v1.4m0 -1.2v1.4m0 -0.2v1.4m0 -0.9v1.4m0 1.9v1.4M474.7 129.3v1.4m0 -0.3v1.4m0 7.8v1.4m0 -1v1.4m0 -0.1v1.4m0 4.1v1.4m0 -1v1.4m0 1.3v1.4m0 -0.5v1.4m0 -0.5v1.4m0 0v1.4m0 -0.9v1.4m0 0.6v1.4m0 10.2v1.4m0 0.7v1.4m0 -1.3v1.4m0 -0.2v1.4m0 1v1.4m0 -0.9v1.4m0 -0.9v1.4m0 -0.3v1.4m0 10.6v1.4M479.9 123.3v1.4m0 10.5v1.4m0 3.3v1.4m0 1.8v1.4m0 -1.2v1.4m0 -1.3v1.4m0 -1.3v1.4m0 0.6v1.4m0 -1.3v1.4m0 -1.2v1.4m0 -0.2v1.4m0 -1.1v1.4m0 0.3v1.4m0 0.4v1.4m0 -1.2v1.4m0 -0.2v1.4m0 -0.6v1.4m0 -0.2v1.4m0 3v1.4m0 -0.8v1.4m0 0.8v1.4m0 2.9v1.4m0 0v1.4m0 -0.4v1.4m0 -1.1v1.4m0 -0.2v1.4m0 -1.4v1.4m0 -0.1v1.4m0 -0.9v1.4m0 -0.7v1.4m0 -0.8v1.4m0 1.2v1.4m0 1.9v1.4m0 0.5v1.4M485.1 140.1v1.4m0 3.2v1.4m0 -0.4v1.4m0 -1.2v1.4m0 -0.5v1.4m0 -0.4v1.4m0 -1.3v1.4m0 -1.2v1.4m0 0.8v1.4m0 3v1.4m0 9.4v1.4m0 0.5v1.4m0 -1.3v1.4m0 -1.2v1.4m0 -1v1.4m0 -1v1.4m0 -0.9v1.4m0 -0.1v1.4m0 0.4v1.4m0 0.1v1.4m0 -0.8v1.4m0 -1.1v1.4m0 -0.1v1.4M490.3 117v1.4m0 8.9v1.4m0 5.3v1.4m0 3.4v1.4m0 -1v1.4m0 -1.3v1.4m0 -0.7v1.4m0 0.6v1.4m0 1.4v1.4m0 -0.2v1.4m0 0.1v1.4m0 -1.1v1.4m0 1.7v1.4m0 3.7v1.4m0 6.2v1.4m0 0.5v1.4m0 -0.5v1.4m0 2.2v1.4m0 -0.1v1.4m0 -0.5v1.4m0 -0.5v1.4m0 -1.3v1.4m0 -0.3v1.4m0 -0.4v1.4m0 1.3v1.4m0 12.8v1.4m0 1.8v1.4M495.6 128.5v1.4m0 0.8v1.4m0 2.5v1.4m0 -0.8v1.4m0 3v1.4m0 3v1.4m0 0.8v1.4m0 0.7v1.4m0 -0.9v1.4m0 1.2v1.4m0 0.9v1.4m0 -0.1v1.4m0 5.9v1.4m0 -0.7v1.4m0 -0.8v1.4m0 0.7v1.4m0 0.2v1.4m0 0.1v1.4m0 -1.1v1.4m0 -0.4v1.4m0 1.7v1.4m0 -1v1.4m0 2.8v1.4M500.8 133.4v1.4m0 4.4v1.4m0 1.1v1.4m0 1.9v1.4m0 -0.1v1.4m0 4.2v1.4m0 5.5v1.4m0 4.7v1.4m0 -0.4v1.4m0 -0.5v1.4m0 -0.5v1.4m0 0.9v1.4m0 -1.4v1.4m0 0.1v1.4m0 0.4v1.4m0 7v1.4M506 132.7v1.4m0 3.3v1.4m0 1.5v1.4m0 2.9v1.4m0 1.7v1.4m0 1.8v1.4m0 6.1v1.4m0 0.3v1.4m0 0.5v1.4m0 0.7v1.4m0 1.9v1.4m0 -1.3v1.4m0 -0.9v1.4m0 -0.9v1.4m0 -0.7v1.4m0 -0.8v1.4m0 -0.6v1.4M511.2 131.3v1.4m0 3.4v1.4m0 4.3v1.4m0 0.1v1.4m0 -0.4v1.4m0 -0v1.4m0 1.6v1.4m0 -1.4v1.4m0 4.7v1.4m0 8.1v1.4m0 -0.7v1.4m0 -0.7v1.4m0 -0.5v1.4m0 -0.6v1.4m0 -0.4v1.4m0 -0.7v1.4m0 5.9v1.4m0 0.2v1.4M516.5 125v1.4m0 4.5v1.4m0 2.5v1.4m0 -1.2v1.4m0 2.9v1.4m0 1.9v1.4m0 0.9v1.4m0 2.5v1.4m0 8.9v1.4m0 -1v1.4m0 0.4v1.4m0 0.2v1.4m0 -0.3v1.4m0 -1.2v1.4m0 0.4v1.4m0 -0.3v1.4m0 0.6v1.4m0 -0.8v1.4m0 -1.3v1.4m0 -1.1v1.4m0 0.2v1.4m0 0.6v1.4m0 -0.1v1.4m0 6.1v1.4M521.7 121.5v1.4m0 3.2v1.4m0 2.7v1.4m0 5.1v1.4m0 -1.1v1.4m0 -1.3v1.4m0 -0.7v1.4m0 2.5v1.4m0 -1.3v1.4m0 15.5v1.4m0 0.1v1.4m0 0.3v1.4m0 -0.4v1.4m0 0.6v1.4m0 -0.1v1.4m0 -0.2v1.4m0 -0.8v1.4m0 0.5v1.4m0 0.3v1.4m0 1.4v1.4M526.9 126.7v1.4m0 3.9v1.4m0 -0.9v1.4m0 -0.1v1.4m0 -0.4v1.4m0 -0.2v1.4m0 2.7v1.4m0 0.9v1.4m0 15.3v1.4m0 0.6v1.4m0 0.6v1.4m0 0.8v1.4m0 -1.3v1.4m0 -0.3v1.4m0 -1v1.4m0 0.2v1.4m0 -0.4v1.4m0 0.1v1.4m0 1.4v1.4m0 3.3v1.4m0 1v1.4m0 5.2v1.4M532.1 128v1.4m0 0.6v1.4m0 1.9v1.4m0 2.4v1.4m0 0.9v1.4m0 1v1.4m0 20.4v1.4m0 1.4v1.4m0 -0.9v1.4m0 0.9v1.4m0 6.1v1.4M537.4 130.1v1.4m0 -1.1v1.4m0 2.6v1.4m0 6.5v1.4m0 14.4v1.4m0 5.2v1.4m0 -1.3v1.4m0 4.8v1.4m0 4.5v1.4M542.6 119v1.4m0 9.6v1.4m0 0.7v1.4m0 1.5v1.4m0 0v1.4m0 1.1v1.4m0 3.6v1.4m0 9.4v1.4m0 5v1.4m0 -0.9v1.4m0 -0.7v1.4m0 1.3v1.4m0 -1.4v1.4m0 0.3v1.4m0 -1.2v1.4m0 1.2v1.4m0 5.5v1.4m0 4.5v1.4M547.8 124.1v1.4m0 6.5v1.4m0 3.2v1.4m0 -1.4v1.4m0 0.5v1.4m0 15.7v1.4m0 7.5v1.4m0 1.8v1.4m0 -1v1.4m0 2.6v1.4M553.1 106.3v1.4m0 17.7v1.4m0 -1v1.4m0 5.2v1.4m0 0.4v1.4m0 -0.6v1.4m0 5.7v1.4m0 2.9v1.4m0 -0.4v1.4m0 8.6v1.4m0 -0.6v1.4m0 5.4v1.4m0 1.9v1.4M558.3 123.1v1.4m0 8.2v1.4m0 2.4v1.4m0 3.4v1.4m0 16.3v1.4m0 -1.4v1.4m0 0.2v1.4m0 1.5v1.4m0 1.6v1.4m0 0.2v1.4m0 1v1.4M563.5 107.2v1.4m0 0.6v1.4m0 13.1v1.4m0 -0.8v1.4m0 1.9v1.4m0 7.4v1.4m0 4.8v1.4m0 -1.2v1.4m0 4.2v1.4m0 6.7v1.4m0 0.9v1.4m0 -0.3v1.4m0 -0.9v1.4m0 1.6v1.4m0 -1.3v1.4m0 1v1.4M568.7 117.4v1.4m0 1.1v1.4m0 12.6v1.4m0 -1.3v1.4m0 14.9v1.4m0 9.2v1.4m0 5.2v1.4m0 8v1.4M574 100.5v1.4m0 17.5v1.4m0 1.7v1.4m0 1v1.4m0 1.7v1.4m0 3.1v1.4m0 -0.4v1.4m0 0.1v1.4m0 19.2v1.4m0 -0.8v1.4m0 -0.3v1.4m0 -0.5v1.4M579.2 139.7v1.4m0 9.3v1.4m0 4.5v1.4m0 0.6v1.4m0 0.6v1.4m0 1.7v1.4m0 2.3v1.4M584.4 127.3v1.4m0 7.9v1.4m0 -0.6v1.4m0 17.9v1.4m0 0.6v1.4m0 4.4v1.4M589.6 119.5v1.4M594.9 129.5v1.4m0 8.3v1.4M600.1 151.8v1.4M605.3 162.5v1.4" stroke="#f4a4a4" stroke-width="1.4" fill="none"/>
<path d="M432.9 159.4v1.4m0 10.5v1.4m0 1.2v1.4m0 1.3v1.4m0 -1.2v1.4M438.1 145.3v1.4m0 18.2v1.4m0 -1.1v1.4m0 0.2v1.4m0 -0.5v1.4m0 -0.1v1.4m0 -0.8v1.4m0 1.5v1.4m0 -1.3v1.4M443.3 156.5v1.4m0 1.8v1.4m0 0v1.4m0 1.8v1.4m0 -1v1.4m0 -0.8v1.4m0 1.3v1.4m0 0.1v1.4m0 -0.8v1.4m0 0.1v1.4m0 1.2v1.4m0 -0.4v1.4m0 0.7v1.4M448.5 146v1.4m0 5.9v1.4m0 -0.4v1.4m0 -0.1v1.4m0 -0.3v1.4m0 -0.1v1.4m0 1.2v1.4m0 2.1v1.4m0 1.2v1.4m0 0.9v1.4m0 -1.1v1.4m0 0.7v1.4m0 -1.2v1.4m0 -1.3v1.4m0 -0.9v1.4m0 -0.4v1.4m0 -1.3v1.4m0 0.1v1.4m0 -1.3v1.4m0 -0.9v1.4m0 -0.1v1.4m0 -0.4v1.4m0 -0.7v1.4M453.8 153.3v1.4m0 0.2v1.4m0 -0.5v1.4m0 0.7v1.4m0 -1.4v1.4m0 -1.1v1.4m0 -0.9v1.4m0 -0.1v1.4m0 -0.4v1.4m0 -1.1v1.4m0 -0.9v1.4m0 -0v1.4m0 -0.3v1.4m0 0.5v1.4m0 -0.6v1.4m0 -1v1.4m0 -1.4v1.4m0 0.6v1.4m0 0.1v1.4m0 -0.7v1.4m0 -1v1.4m0 -1.3v1.4m0 -1.1v1.4m0 -1v1.4m0 -1.2v1.4m0 -0.9v1.4m0 -1v1.4m0 -1.2v1.4m0 1.3v1.4m0 5v1.4M459 148v1.4m0 -0v1.4m0 2.7v1.4m0 -0.9v1.4m0 0.4v1.4m0 0.1v1.4m0 -1.4v1.4m0 -1.3v1.4m0 -0.6v1.4m0 -0.5v1.4m0 -1.3v1.4m0 -1.4v1.4m0 4.5v1.4m0 2.9v1.4m0 -1.1v1.4m0 -1.4v1.4m0 -0.5v1.4m0 -1.3v1.4m0 -0.7v1.4m0 -1.3v1.4m0 -1v1.4m0 0.4v1.4M464.2 148.3v1.4m0 -0.6v1.4m0 -1.4v1.4m0 0.6v1.4m0 -0.9v1.4m0 -0.4v1.4m0 -0.3v1.4m0 0.1v1.4m0 0.8v1.4m0 -0.7v1.4m0 -1.3v1.4m0 -1.4v1.4m0 0.5v1.4m0 -1.1v1.4m0 -1.4v1.4m0 0.9v1.4m0 -0.1v1.4m0 -1v1.4m0 1.1v1.4m0 -1.2v1.4m0 -0.8v1.4m0 -0.7v1.4m0 -1.3v1.4m0 -0.7v1.4m0 -1.3v1.4m0 -1.3v1.4m0 -0.6v1.4m0 -0.6v1.4m0 -1.3v1.4m0 -1v1.4m0 -1.3v1.4m0 -1.1v1.4m0 1.5v1.4m0 -0.7v1.4M469.4 102v1.4m0 36.7v1.4m0 4.9v1.4m0 -1.1v1.4m0 -1.1v1.4m0 2.4v1.4m0 -0.4v1.4m0 -1.2v1.4m0 -1.2v1.4m0 -1v1.4m0 -1.2v1.4m0 -1.1v1.4m0 -0.8v1.4m0 -1.2v1.4m0 -0.4v1.4m0 -0.4v1.4m0 -0.7v1.4m0 -1.2v1.4m0 -0.7v1.4m0 -1.3v1.4m0 -0.7v1.4m0 0.1v1.4m0 -1v1.4m0 -0.2v1.4m0 -1v1.4m0 -1.3v1.4m0 -1.2v1.4m0 5.4v1.4m0 -1.4v1.4m0 0.1v1.4m0 -1.4v1.4m0 -0.8v1.4m0 2.8v1.4M474.7 129.1v1.4m0 10.3v1.4m0 6.1v1.4m0 -0.7v1.4m0 1.2v1.4m0 -1.3v1.4m0 -1v1.4m0 -0.5v1.4m0 -1.2v1.4m0 -1.3v1.4m0 -0.3v1.4m0 -1.4v1.4m0 -1.3v1.4m0 -1.3v1.4m0 -0.2v1.4m0 -0.9v1.4m0 -1.3v1.4m0 -0.3v1.4m0 -0.8v1.4m0 -0.4v1.4m0 -0.3v1.4m0 -0.5v1.4m0 -0.5v1.4m0 1.5v1.4m0 -0.6v1.4m0 0.4v1.4m0 -0.7v1.4m0 -0.7v1.4m0 -1.2v1.4m0 -1.3v1.4m0 -1.3v1.4m0 -1.4v1.4M479.9 144.4v1.4m0 -1v1.4m0 0.5v1.4m0 -0.7v1.4m0 -0.2v1.4m0 -1v1.4m0 -0.8v1.4m0 -1.2v1.4m0 0.8v1.4m0 -0.9v1.4m0 -1.4v1.4m0 -0.3v1.4m0 -0.9v1.4m0 -1.2v1.4m0 1.1v1.4m0 -0v1.4m0 -0.9v1.4m0 0.4v1.4m0 -0.8v1.4m0 0.7v1.4m0 -1v1.4m0 -0.2v1.4m0 -1.2v1.4m0 -1.3v1.4m0 -1.4v1.4m0 -0.7v1.4m0 -0.7v1.4m0 -1.3v1.4m0 -0.5v1.4m0 -0.8v1.4m0 -0.6v1.4m0 -1v1.4m0 -0.8v1.4m0 -1.4v1.4m0 -1.2v1.4m0 0.6v1.4m0 -1.2v1.4m0 0.4v1.4M485.1 140.1v1.4m0 0.4v1.4m0 4.2v1.4m0 -1v1.4m0 1.1v1.4m0 -1.3v1.4m0 -1.4v1.4m0 0.4v1.4m0 -1.1v1.4m0 -1.2v1.4m0 -1.1v1.4m0 0.6v1.4m0 1.1v1.4m0 -1v1.4m0 -1v1.4m0 -0.3v1.4m0 -0.8v1.4m0 -1.3v1.4m0 0.9v1.4m0 -1v1.4m0 0.1v1.4m0 -0.6v1.4m0 -0.9v1.4m0 -0.1v1.4m0 -0.8v1.4m0 -0.8v1.4m0 -1v1.4m0 -0.7v1.4m0 -0.8v1.4m0 0.6v1.4m0 -0.4v1.4m0 1.1v1.4M490.3 140.8v1.4m0 0.2v1.4m0 0.2v1.4m0 1.6v1.4m0 0.3v1.4m0 2.2v1.4m0 -0.9v1.4m0 0.5v1.4m0 0.2v1.4m0 -0.6v1.4m0 2.8v1.4m0 -1.3v1.4m0 -0.9v1.4m0 0.2v1.4m0 -0.5v1.4m0 -0.3v1.4m0 -1.1v1.4m0 -0.7v1.4m0 -0.7v1.4m0 -0.7v1.4m0 -1.3v1.4m0 -1.1v1.4m0 -1v1.4m0 -1.2v1.4m0 -1v1.4m0 -1.4v1.4m0 -0.2v1.4m0 0.7v1.4m0 0.1v1.4M495.6 120.9v1.4m0 16.6v1.4m0 -1v1.4m0 1.1v1.4m0 2.6v1.4m0 -1v1.4m0 -0.4v1.4m0 -1.1v1.4m0 -0.6v1.4m0 1.3v1.4m0 -1v1.4m0 -1v1.4m0 -0.3v1.4m0 -1.2v1.4m0 -1v1.4m0 1.2v1.4m0 -1.2v1.4m0 3.2v1.4m0 -1.1v1.4m0 -0.8v1.4m0 -0.3v1.4m0 -0.6v1.4m0 -0.7v1.4m0 -0.5v1.4m0 -1.1v1.4m0 -1.1v1.4m0 -1.3v1.4m0 -1.3v1.4m0 -1.1v1.4m0 1.2v1.4m0 2.8v1.4M500.8 136v1.4m0 -0.9v1.4m0 -1.4v1.4m0 3.5v1.4m0 2.6v1.4m0 -0.1v1.4m0 -0.9v1.4m0 -0.7v1.4m0 -0.1v1.4m0 -1.2v1.4m0 -1.3v1.4m0 1.4v1.4m0 -1.1v1.4m0 0.8v1.4m0 -1v1.4m0 -1.3v1.4m0 0.6v1.4m0 -0.4v1.4m0 -1v1.4m0 -0.4v1.4m0 -1.2v1.4m0 0.5v1.4m0 0.6v1.4m0 0.2v1.4m0 -0.6v1.4m0 -0.7v1.4m0 -0.2v1.4m0 0.4v1.4m0 1.3v1.4m0 -1.2v1.4M506 135.9v1.4m0 1.9v1.4m0 -0.8v1.4m0 2v1.4m0 -0.5v1.4m0 -0.6v1.4m0 -1.1v1.4m0 -1.1v1.4m0 -0.2v1.4m0 -0.4v1.4m0 -1.1v1.4m0 0.6v1.4m0 -1.1v1.4m0 -1.4v1.4m0 0.4v1.4m0 -1.4v1.4m0 -0.6v1.4m0 -1.1v1.4m0 -0.5v1.4m0 -0.6v1.4m0 3.5v1.4m0 0.3v1.4m0 -1v1.4m0 -0.1v1.4m0 -1.1v1.4m0 -1.3v1.4m0 -0.8v1.4m0 -0.9v1.4m0 -0.3v1.4m0 0.4v1.4m0 0.2v1.4m0 3.4v1.4M511.2 135.6v1.4m0 0.9v1.4m0 0.6v1.4m0 -1.3v1.4m0 0.2v1.4m0 0.8v1.4m0 1v1.4m0 -0.4v1.4m0 -0.2v1.4m0 0.5v1.4m0 2v1.4m0 -0.7v1.4m0 -0.7v1.4m0 1.1v1.4m0 -1.1v1.4m0 -0.2v1.4m0 -0.7v1.4m0 -1.2v1.4m0 0.6v1.4m0 -1.3v1.4m0 1.3v1.4m0 -1.3v1.4m0 0.9v1.4m0 3.4v1.4M516.5 122.7v1.4m0 2.8v1.4m0 2.6v1.4m0 8.3v1.4m0 2.3v1.4m0 -0.8v1.4m0 -1.2v1.4m0 0.5v1.4m0 -0.9v1.4m0 -0.7v1.4m0 -1.2v1.4m0 2.7v1.4m0 3.8v1.4m0 0.2v1.4m0 0.5v1.4m0 -1.3v1.4m0 0.3v1.4m0 -0.3v1.4m0 -0.4v1.4m0 -1.2v1.4m0 -1v1.4m0 -1.1v1.4m0 -1.4v1.4M521.7 129.9v1.4m0 8.8v1.4m0 0.8v1.4m0 1.5v1.4m0 9.4v1.4m0 -1.1v1.4m0 -0.4v1.4m0 -1.3v1.4m0 -1v1.4m0 2.4v1.4m0 -0.8v1.4m0 0.4v1.4m0 0.3v1.4m0 -0.5v1.4m0 -1.3v1.4m0 -1.2v1.4m0 13.7v1.4M526.9 131.5v1.4m0 5.6v1.4m0 0.9v1.4m0 -0.8v1.4m0 0.6v1.4m0 3.2v1.4m0 1.2v1.4m0 -0.3v1.4m0 -1.1v1.4m0 3.6v1.4m0 -0.8v1.4m0 0.1v1.4m0 0.5v1.4m0 -0.8v1.4m0 -0.6v1.4m0 -0.8v1.4m0 -0.4v1.4m0 0.5v1.4m0 1.7v1.4m0 21.4v1.4M532.1 134.2v1.4m0 1.6v1.4m0 -0.5v1.4m0 -1.4v1.4m0 -1.2v1.4m0 -1.1v1.4m0 -1.4v1.4m0 -1v1.4m0 1.7v1.4m0 -1v1.4m0 -0.7v1.4m0 1.2v1.4m0 -1.4v1.4m0 -0.5v1.4m0 -1.4v1.4m0 0.8v1.4m0 -1.2v1.4m0 7.3v1.4m0 0.3v1.4m0 -0.8v1.4m0 0.8v1.4m0 -0.6v1.4m0 2v1.4m0 6.9v1.4M537.4 131.9v1.4m0 0.1v1.4m0 0.2v1.4m0 -0.5v1.4m0 2.1v1.4m0 0.9v1.4m0 0.1v1.4m0 -1.3v1.4m0 -1v1.4m0 4.6v1.4m0 -0.7v1.4m0 -1.3v1.4m0 -1.1v1.4m0 -0.2v1.4m0 -1v1.4m0 0v1.4m0 -0.9v1.4m0 -0.7v1.4m0 -0v1.4m0 -0.5v1.4m0 -0.7v1.4m0 0.6v1.4m0 -0.7v1.4m0 -0.1v1.4m0 1.3v1.4M542.6 105.8v1.4m0 23v1.4m0 2.5v1.4m0 -0.1v1.4m0 3.8v1.4m0 -1.1v1.4m0 1.4v1.4m0 0.3v1.4m0 -0.5v1.4m0 0.7v1.4m0 4.5v1.4m0 0.3v1.4m0 1.1v1.4m0 1.5v1.4m0 2.3v1.4M547.8 127.1v1.4m0 -1.2v1.4m0 1.9v1.4m0 0.1v1.4m0 -0.9v1.4m0 0.5v1.4m0 1.3v1.4m0 3.4v1.4m0 -1.2v1.4m0 0.5v1.4m0 1.7v1.4m0 0.5v1.4m0 -0.6v1.4m0 -0.4v1.4m0 -0.2v1.4m0 1.5v1.4m0 -0.4v1.4m0 2.2v1.4m0 -0.9v1.4m0 -0.5v1.4m0 -0.1v1.4m0 -0.4v1.4m0 9.6v1.4M553.1 123.8v1.4m0 5.2v1.4m0 4.3v1.4m0 -1v1.4m0 1.8v1.4m0 0.3v1.4m0 -0.2v1.4m0 -1.2v1.4m0 0.4v1.4m0 1.7v1.4m0 0.2v1.4m0 1.1v1.4m0 -1.3v1.4m0 0.7v1.4m0 -1.2v1.4m0 -0.1v1.4m0 1.5v1.4m0 -0.1v1.4m0 4.3v1.4M558.3 104.4v1.4m0 11.2v1.4m0 1.7v1.4m0 0.2v1.4m0 8v1.4m0 3v1.4m0 2v1.4m0 -0.5v1.4m0 -0v1.4m0 -0.8v1.4m0 -0.9v1.4m0 7.1v1.4m0 1.4v1.4m0 -1.3v1.4m0 1.2v1.4m0 1.1v1.4m0 3.8v1.4m0 -0.9v1.4m0 0.4v1.4M563.5 128.2v1.4m0 -1.1v1.4m0 -0.7v1.4m0 -1.1v1.4m0 0.9v1.4m0 0.7v1.4m0 0.7v1.4m0 -0.6v1.4m0 -0.1v1.4m0 -0.5v1.4m0 0.5v1.4m0 -0.5v1.4m0 0.8v1.4m0 1.9v1.4m0 -1.2v1.4m0 3.5v1.4m0 -1.1v1.4m0 0.3v1.4m0 4.8v1.4m0 -1.1v1.4m0 4.4v1.4M568.7 120.3v1.4m0 2.7v1.4m0 2.4v1.4m0 4.3v1.4m0 3.3v1.4m0 -0.6v1.4m0 19.8v1.4m0 -0.8v1.4m0 7.4v1.4m0 0.3v1.4M574 114.5v1.4m0 9v1.4m0 5.7v1.4m0 0.9v1.4m0 -1v1.4m0 9.7v1.4m0 -0.9v1.4m0 -1.2v1.4m0 -0.9v1.4m0 -0.3v1.4m0 0.9v1.4m0 3.7v1.4m0 0.3v1.4m0 -1.2v1.4m0 -1v1.4m0 6.4v1.4m0 7.3v1.4M579.2 122.8v1.4m0 2.6v1.4m0 4v1.4m0 -0.5v1.4m0 7v1.4m0 -0.8v1.4m0 4.7v1.4m0 -1.2v1.4m0 0.8v1.4m0 0.8v1.4m0 -1.1v1.4m0 -0.2v1.4m0 0.7v1.4m0 1.3v1.4m0 -0.6v1.4M584.4 119.5v1.4m0 3.5v1.4m0 5.7v1.4m0 6.7v1.4m0 6.2v1.4m0 1.3v1.4m0 -1v1.4m0 1.7v1.4m0 3.5v1.4m0 -1v1.4m0 -0.8v1.4m0 2.1v1.4m0 -0.9v1.4M589.6 113.3v1.4m0 6.4v1.4m0 4.2v1.4m0 16.4v1.4m0 -1.3v1.4m0 -1.3v1.4m0 3.5v1.4m0 6.1v1.4m0 -0.1v1.4M594.9 121.4v1.4m0 30.5v1.4m0 1.5v1.4M600.1 125.4v1.4" stroke="#e43434" stroke-width="1.4" fill="none"/>
<path d="M432.9 170.3v1.4m0 5.7v1.4M438.1 155.2v1.4m0 8.2v1.4m0 2.2v1.4m0 -0.3v1.4m0 -0.2v1.4m0 -0.7v1.4M443.3 162.2v1.4m0 2.3v1.4m0 -0.5v1.4m0 -0.7v1.4m0 -1.2v1.4m0 0.4v1.4m0 -1.1v1.4m0 -1v1.4m0 -0.3v1.4m0 1.4v1.4m0 1.1v1.4M448.5 146.8v1.4m0 12.7v1.4m0 -0.5v1.4m0 -0v1.4m0 -1v1.4m0 0.2v1.4m0 -0.8v1.4m0 -1v1.4m0 -1.1v1.4m0 1.3v1.4m0 -1v1.4m0 -0.2v1.4m0 -1.1v1.4m0 -0.1v1.4m0 0.9v1.4M453.8 155.3v1.4m0 -0.4v1.4m0 5v1.4m0 -1.3v1.4m0 -1.1v1.4m0 -0.1v1.4m0 -1.4v1.4m0 -1.3v1.4m0 -0.8v1.4m0 -0.6v1.4m0 -1.1v1.4m0 1.8v1.4m0 -1.2v1.4m0 -0.9v1.4m0 -0.3v1.4m0 -0.8v1.4m0 1.5v1.4m0 -1.2v1.4M459 155.4v1.4m0 -0.2v1.4m0 -1.2v1.4m0 0.6v1.4m0 -1v1.4m0 1.4v1.4m0 0.5v1.4m0 -1.2v1.4m0 -1.2v1.4m0 -1.2v1.4m0 -1.2v1.4m0 -0.6v1.4m0 -1.2v1.4m0 -0.5v1.4m0 -1.1v1.4m0 -1.1v1.4m0 -1.3v1.4m0 -1.2v1.4m0 1.3v1.4m0 4.4v1.4M464.2 151.5v1.4m0 1.7v1.4m0 -1.2v1.4m0 -0.3v1.4m0 2.7v1.4m0 0.9v1.4m0 -1.2v1.4m0 -0.9v1.4m0 -1v1.4m0 -1.4v1.4m0 -1.3v1.4m0 -1.4v1.4m0 -0.3v1.4m0 -1.2v1.4m0 -0.9v1.4m0 -0.7v1.4m0 -1.4v1.4m0 -0.5v1.4m0 -0.8v1.4m0 1v1.4m0 -0.7v1.4m0 -1.2v1.4m0 -0.9v1.4m0 -1.1v1.4M469.4 151.1v1.4m0 0.4v1.4m0 0.3v1.4m0 1.7v1.4m0 -0.2v1.4m0 -0.8v1.4m0 -1.4v1.4m0 -0.7v1.4m0 -0.4v1.4m0 -1.2v1.4m0 -0.4v1.4m0 -0.8v1.4m0 -0.2v1.4m0 -1.2v1.4m0 -1.1v1.4m0 -0.4v1.4m0 1.1v1.4m0 -1v1.4m0 -1.3v1.4m0 -1.3v1.4m0 1.6v1.4m0 -0.2v1.4M474.7 146.6v1.4m0 0.1v1.4m0 2v1.4m0 -1v1.4m0 -0.9v1.4m0 -0.6v1.4m0 0.1v1.4m0 -0.6v1.4m0 -0.5v1.4m0 -0v1.4m0 -1.2v1.4m0 -1.3v1.4m0 -0.8v1.4m0 -0.8v1.4m0 -0.9v1.4m0 -0.7v1.4m0 -1.4v1.4m0 -1.3v1.4m0 -0.7v1.4m0 -0.5v1.4m0 -1v1.4m0 -1.4v1.4m0 -1.1v1.4m0 -0.7v1.4m0 -1.4v1.4m0 -1.4v1.4m0 -1.4v1.4m0 -0.7v1.4m0 0.2v1.4m0 -0.2v1.4M479.9 151.1v1.4m0 0.5v1.4m0 0.2v1.4m0 -1.3v1.4m0 -0.7v1.4m0 -1.3v1.4m0 0.3v1.4m0 0.6v1.4m0 -1.4v1.4m0 -1.2v1.4m0 -1.1v1.4m0 -0.2v1.4m0 -0.8v1.4m0 -1.2v1.4m0 -1.2v1.4m0 -1.1v1.4m0 -0.7v1.4m0 -1.4v1.4m0 -1.1v1.4m0 -1.4v1.4m0 -1.3v1.4m0 -1.3v1.4m0 -0.8v1.4m0 -0.9v1.4m0 -1.1v1.4m0 -0.3v1.4m0 -1.4v1.4m0 -0.8v1.4M485.1 140.1v1.4m0 -1.3v1.4m0 5.2v1.4m0 2.5v1.4m0 0v1.4m0 0.4v1.4m0 -0.8v1.4m0 -1.3v1.4m0 0.4v1.4m0 -1v1.4m0 -1.1v1.4m0 -1.1v1.4m0 -1.2v1.4m0 -1.4v1.4m0 -1.3v1.4m0 0.3v1.4m0 -1.2v1.4m0 -1.1v1.4m0 -1.4v1.4m0 -1.3v1.4m0 -1v1.4m0 -0.7v1.4m0 -1.2v1.4m0 -0.6v1.4m0 -0.2v1.4m0 -1.3v1.4m0 2.4v1.4M490.3 144.4v1.4m0 -1.2v1.4m0 0.3v1.4m0 2.1v1.4m0 -1.3v1.4m0 -1v1.4m0 -1.3v1.4m0 -0.2v1.4m0 -0.4v1.4m0 -1.3v1.4m0 -0.3v1.4m0 -0.9v1.4m0 -0.2v1.4m0 0.1v1.4m0 -0.9v1.4m0 0.7v1.4m0 -1.3v1.4m0 -0.7v1.4m0 -0.5v1.4m0 -1.2v1.4m0 -1.1v1.4m0 -1.2v1.4m0 -0.2v1.4m0 -1v1.4m0 -1.2v1.4m0 -0.7v1.4m0 -1.2v1.4m0 -1.2v1.4m0 -1.2v1.4m0 0.7v1.4m0 0.5v1.4m0 4.8v1.4M495.6 143.8v1.4m0 1.5v1.4m0 0.2v1.4m0 4.1v1.4m0 -0.9v1.4m0 -0.8v1.4m0 0v1.4m0 -0.6v1.4m0 -0.4v1.4m0 -1.1v1.4m0 -1.3v1.4m0 -1v1.4m0 -1.4v1.4m0 -0.9v1.4m0 -1.1v1.4m0 -1v1.4m0 -0.9v1.4m0 -0.1v1.4m0 -0.8v1.4m0 -1.3v1.4m0 -1.3v1.4m0 -1.2v1.4m0 -0.6v1.4m0 -1.3v1.4m0 0.3v1.4m0 -1.2v1.4m0 -1.2v1.4m0 -0.1v1.4m0 -1.2v1.4M500.8 123.2v1.4m0 19.6v1.4m0 -0.3v1.4m0 -0.8v1.4m0 -0.1v1.4m0 0.8v1.4m0 -0.3v1.4m0 -0.4v1.4m0 -1.1v1.4m0 -0.3v1.4m0 0.1v1.4m0 -0.9v1.4m0 -0.1v1.4m0 -1.1v1.4m0 -1.1v1.4m0 -0.5v1.4m0 0.4v1.4m0 -0.3v1.4m0 1.2v1.4m0 -1.2v1.4m0 -1.2v1.4m0 0.2v1.4m0 -0.7v1.4m0 -0.3v1.4m0 2.2v1.4m0 -0.1v1.4m0 1.7v1.4M506 143.2v1.4m0 -0.7v1.4m0 -0.1v1.4m0 0.1v1.4m0 -0.3v1.4m0 -0.9v1.4m0 -0.8v1.4m0 -0.4v1.4m0 -0.7v1.4m0 -1v1.4m0 1.3v1.4m0 -1v1.4m0 -0.9v1.4m0 -1.1v1.4m0 -1v1.4m0 -0.8v1.4m0 -0.3v1.4m0 -0.7v1.4m0 -0.5v1.4m0 -1v1.4m0 -0.9v1.4m0 -1.2v1.4m0 -0.7v1.4m0 -0.2v1.4m0 0.5v1.4m0 -1.3v1.4m0 -1.2v1.4m0 -0.6v1.4m0 0.3v1.4m0 2.6v1.4M511.2 134.6v1.4m0 2.3v1.4m0 3.4v1.4m0 -0.9v1.4m0 -1.3v1.4m0 0.5v1.4m0 -0.7v1.4m0 -0.2v1.4m0 -1v1.4m0 -1v1.4m0 -0.5v1.4m0 -0v1.4m0 -1.3v1.4m0 -0.8v1.4m0 -1.1v1.4m0 -0.7v1.4m0 -0.7v1.4m0 0.8v1.4m0 -1.2v1.4m0 -0.3v1.4m0 -0.9v1.4m0 -1.2v1.4m0 -1.2v1.4m0 2.3v1.4m0 -0.8v1.4m0 0v1.4m0 1.3v1.4m0 -1v1.4m0 2.4v1.4M516.5 143.9v1.4m0 -1v1.4m0 0.5v1.4m0 1.6v1.4m0 -0.1v1.4m0 -1.2v1.4m0 0.9v1.4m0 -0.9v1.4m0 -1.1v1.4m0 -1.1v1.4m0 -1.4v1.4m0 -1.4v1.4m0 -1.2v1.4m0 -1.1v1.4m0 -0.6v1.4m0 -0.8v1.4m0 -1.4v1.4m0 -1.2v1.4m0 0.6v1.4m0 -0v1.4m0 -0.1v1.4m0 1.9v1.4m0 -0.7v1.4m0 -0.6v1.4m0 -1.2v1.4m0 1.2v1.4M521.7 140v1.4m0 0.7v1.4m0 -1.2v1.4m0 2.1v1.4m0 0.8v1.4m0 -1v1.4m0 -1.4v1.4m0 -1.2v1.4m0 -0.6v1.4m0 -0.5v1.4m0 -1.3v1.4m0 2.6v1.4m0 -0v1.4m0 2v1.4m0 0.3v1.4m0 -0.5v1.4m0 -0.7v1.4m0 2.4v1.4m0 -0.8v1.4M526.9 131.4v1.4m0 4.8v1.4m0 -1v1.4m0 2.3v1.4m0 0.2v1.4m0 -0.1v1.4m0 -0.2v1.4m0 1.8v1.4m0 -0.4v1.4m0 -1.1v1.4m0 -0.9v1.4m0 -1v1.4m0 -1v1.4m0 -0.5v1.4m0 -1.4v1.4m0 -0.9v1.4m0 -1.2v1.4m0 -0.9v1.4m0 -1.3v1.4m0 0.5v1.4m0 -1v1.4m0 -1.2v1.4m0 -1.2v1.4m0 -1.3v1.4m0 -0.2v1.4M532.1 136.7v1.4m0 5.4v1.4m0 -0v1.4m0 2.4v1.4m0 0.3v1.4m0 -1.2v1.4m0 -1.4v1.4m0 -1.1v1.4m0 -1.4v1.4m0 -0.1v1.4m0 -1.3v1.4m0 -1.2v1.4m0 -1.1v1.4m0 -1v1.4m0 -1.1v1.4m0 -0.8v1.4m0 -0.9v1.4m0 5.2v1.4m0 2.6v1.4M537.4 134.6v1.4m0 -1.1v1.4m0 0.1v1.4m0 1.4v1.4m0 4.4v1.4m0 -0.4v1.4m0 -0.7v1.4m0 -1.4v1.4m0 -0.9v1.4m0 -1.2v1.4m0 -1.3v1.4m0 -0.3v1.4m0 1.7v1.4m0 -0.7v1.4m0 -0.9v1.4m0 0.1v1.4m0 1.4v1.4m0 4.4v1.4M542.6 133.6v1.4m0 -0.6v1.4m0 0.8v1.4m0 2.7v1.4m0 0.2v1.4m0 1.8v1.4m0 -1.1v1.4m0 -0.6v1.4m0 -1v1.4m0 -1.1v1.4m0 -0.5v1.4m0 0.6v1.4m0 -0.8v1.4m0 -0.5v1.4m0 0.4v1.4m0 9.4v1.4M547.8 141.9v1.4m0 -0.4v1.4m0 -1.1v1.4m0 0.2v1.4m0 0.4v1.4m0 -0.8v1.4m0 1.2v1.4m0 -1v1.4m0 -0.7v1.4m0 -1v1.4m0 0.3v1.4m0 -1.1v1.4m0 1.1v1.4m0 -0.2v1.4m0 -0.9v1.4m0 4v1.4M553.1 136.1v1.4m0 0.2v1.4m0 -0.8v1.4m0 2.3v1.4m0 2.4v1.4m0 -1.2v1.4m0 0.5v1.4m0 0.8v1.4m0 -0.9v1.4m0 0.3v1.4m0 1.2v1.4m0 -0.3v1.4m0 -0.6v1.4m0 6.5v1.4m0 6.1v1.4M558.3 137.3v1.4m0 -1.2v1.4m0 -0.4v1.4m0 -0.8v1.4m0 0.7v1.4m0 0.7v1.4m0 -0.7v1.4m0 -0.5v1.4m0 -1.1v1.4m0 0.6v1.4m0 -0.5v1.4m0 0.3v1.4m0 -0.4v1.4m0 -1.1v1.4m0 0.5v1.4m0 7.3v1.4m0 8.3v1.4M563.5 133v1.4m0 5.7v1.4m0 -1.2v1.4m0 1.7v1.4m0 -1.1v1.4m0 3.7v1.4m0 0.8v1.4m0 -0.2v1.4m0 -0.5v1.4m0 -1v1.4m0 2.8v1.4m0 -0.3v1.4M568.7 130.1v1.4m0 2v1.4m0 -0.1v1.4m0 -1v1.4m0 1.9v1.4m0 0.8v1.4m0 -0.4v1.4m0 -0.9v1.4m0 -1v1.4m0 1.1v1.4m0 1.1v1.4m0 -0.2v1.4m0 -1.3v1.4m0 -1.2v1.4m0 0.7v1.4m0 2.6v1.4m0 -0.1v1.4m0 -1v1.4m0 -1.1v1.4m0 -1.2v1.4m0 3.8v1.4M574 116.1v1.4m0 16.7v1.4m0 1.5v1.4m0 1.5v1.4m0 -0.8v1.4m0 -0.5v1.4m0 -1v1.4m0 -0.3v1.4m0 -0.9v1.4m0 2.5v1.4m0 -0.2v1.4m0 -1v1.4m0 -0v1.4m0 1.7v1.4m0 -0.3v1.4m0 23.1v1.4M579.2 127.2v1.4m0 -0.5v1.4m0 -0.5v1.4m0 0.3v1.4m0 2.7v1.4m0 -1.4v1.4m0 1.9v1.4m0 0.3v1.4m0 -0.2v1.4m0 3.2v1.4m0 -1.2v1.4m0 0.9v1.4m0 3.9v1.4m0 2.7v1.4M584.4 126.6v1.4m0 7.1v1.4m0 -0.1v1.4m0 1.6v1.4m0 1v1.4m0 3.8v1.4M589.6 125.9v1.4m0 14.6v1.4m0 -0.6v1.4m0 -0.9v1.4m0 1.2v1.4m0 0.6v1.4M594.9 119.3v1.4m0 20.2v1.4m0 -0.8v1.4m0 2.1v1.4M600.1 136.3v1.4M605.3 135.6v1.4m0 5.5v1.4" stroke="#bc0000" stroke-width="1.4" fill="none"/>
<path d="M479.9 146.9l47 -8.5M511.2 170.5l15.7 -2.8M459 156.5l15.7 -2.8M453.8 175.2l41.8 -7.5M490.3 136.3l31.4 -5.7M448.5 151.1l41.8 -7.5M479.9 168.9l41.8 -7.5M432.9 153.8l41.8 -7.5M459 172.7l26.1 -4.7M521.7 145.4l36.6 -6.6M511.2 173.1l41.8 -7.5M542.6 124.2l31.4 -5.7M506 138.3l20.9 -3.8M563.5 132.8l36.6 -6.6M479.9 151.5l10.5 -1.9M459 151.6l31.4 -5.7M495.6 141l41.8 -7.5M479.9 141l41.8 -7.5M485.1 172l15.7 -2.8M500.8 144.4l20.9 -3.8M474.7 153.5l41.8 -7.5M443.3 176.7l31.4 -5.7M453.8 153.1l15.7 -2.8M542.6 166.3l41.8 -7.5M563.5 130.7l15.7 -2.8M521.7 136.4l15.7 -2.8M464.2 153.8l41.8 -7.5M516.5 164.1l10.5 -1.9M553.1 164.2l41.8 -7.5M553.1 171.5l31.4 -5.7M453.8 170.9l36.6 -6.6M479.9 170.7l15.7 -2.8M479.9 176.8l15.7 -2.8M500.8 167.8l41.8 -7.5M521.7 176.1l47 -8.5M448.5 172.2l15.7 -2.8M443.3 157.8l41.8 -7.5M511.2 135.8l36.6 -6.6M432.9 179.9l36.6 -6.6M495.6 171l10.5 -1.9M438.1 158.9l31.4 -5.7M563.5 165.6l41.8 -7.5M443.3 154.6l41.8 -7.5M448.5 177.1l47 -8.5M542.6 169.4l20.9 -3.8M558.3 153.7l31.4 -5.7M511.2 144.6l36.6 -6.6M432.9 179.1l47 -8.5M553.1 123.9l41.8 -7.5M547.8 126.7l41.8 -7.5" stroke="#f8c4c4" stroke-width="0.6" fill="none"/>
<path d="M443.3 174.2l36.6 -6.6M526.9 168.3l31.4 -5.7M479.9 171.7l36.6 -6.6M485.1 164.7l41.8 -7.5M469.4 165.5l36.6 -6.6M443.3 170.5l41.8 -7.5M563.5 153.2l36.6 -6.6M558.3 132.5l41.8 -7.5M532.1 135l20.9 -3.8M553.1 150.7l20.9 -3.8M521.7 140.5l31.4 -5.7M448.5 170.6l36.6 -6.6M511.2 164.2l47 -8.5M448.5 159.5l31.4 -5.7M553.1 164.9l36.6 -6.6M521.7 137.4l41.8 -7.5M469.4 149.3l36.6 -6.6M474.7 149.7l36.6 -6.6M511.2 150.5l31.4 -5.7M479.9 175.3l26.1 -4.7M547.8 139.9l41.8 -7.5M453.8 167.6l20.9 -3.8M459 158.4l10.5 -1.9M511.2 166.8l41.8 -7.5M490.3 144l20.9 -3.8M438.1 151.1l47 -8.5M532.1 142.5l41.8 -7.5M500.8 153.8l31.4 -5.7M563.5 150.2l41.8 -7.5M474.7 153.8l20.9 -3.8M474.7 173.1l36.6 -6.6M485.1 137.2l41.8 -7.5M443.3 172.6l15.7 -2.8M464.2 169.9l15.7 -2.8M448.5 167.4l10.5 -1.9M469.4 152.2l41.8 -7.5M500.8 167.8l31.4 -5.7M511.2 158.8l41.8 -7.5M453.8 167.9l36.6 -6.6M459 166.8l36.6 -6.6M511.2 167.6l41.8 -7.5M448.5 174.2l36.6 -6.6M469.4 155.7l41.8 -7.5M469.4 157.3l41.8 -7.5M490.3 169l41.8 -7.5M521.7 158.3l10.5 -1.9M479.9 172.1l47 -8.5M485.1 168.4l36.6 -6.6M485.1 164.3l41.8 -7.5M464.2 164.9l36.6 -6.6M568.7 157.3l26.1 -4.7M448.5 140.5l26.1 -4.7M558.3 140.3l20.9 -3.8M490.3 169.6l41.8 -7.5M443.3 162.4l41.8 -7.5M537.4 143.7l26.1 -4.7M464.2 158.6l31.4 -5.7M432.9 173.3l10.5 -1.9M490.3 169.6l36.6 -6.6M459 152.9l15.7 -2.8M547.8 157.6l41.8 -7.5M438.1 150.6l31.4 -5.7M443.3 162.9l41.8 -7.5M464.2 157l41.8 -7.5M495.6 153.5l47 -8.5M448.5 158.7l15.7 -2.8M464.2 164.6l31.4 -5.7M506 144.4l10.5 -1.9M438.1 165l36.6 -6.6M479.9 167.7l36.6 -6.6M448.5 150.7l41.8 -7.5M521.7 163.4l15.7 -2.8M547.8 150.1l36.6 -6.6M459 156.3l36.6 -6.6M474.7 151.6l10.5 -1.9M459 155l10.5 -1.9M490.3 165.2l10.5 -1.9M495.6 153.1l20.9 -3.8M443.3 166.2l15.7 -2.8M521.7 167l26.1 -4.7M453.8 162.5l20.9 -3.8M443.3 174.8l10.5 -1.9M443.3 159.4l41.8 -7.5M469.4 164.9l41.8 -7.5M537.4 163l41.8 -7.5M464.2 172.6l31.4 -5.7M453.8 164.5l31.4 -5.7M443.3 153.7l41.8 -7.5M453.8 174l10.5 -1.9M469.4 173.1l41.8 -7.5M537.4 137.6l41.8 -7.5M464.2 169.7l31.4 -5.7M500.8 150.1l15.7 -2.8M432.9 156.9l15.7 -2.8M506 151.7l31.4 -5.7M448.5 168l20.9 -3.8M553.1 159.9l26.1 -4.7M469.4 150.8l41.8 -7.5M506 163.3l36.6 -6.6M469.4 129.1l31.4 -5.7M453.8 174.7l41.8 -7.5M469.4 145.6l36.6 -6.6M500.8 168l15.7 -2.8" stroke="#f27878" stroke-width="0.6" fill="none"/>
<path d="M469.4 167.6l31.4 -5.7M521.7 149.6l47 -8.5M511.2 144.1l20.9 -3.8M537.4 148.7l47 -8.5M448.5 170.3l36.6 -6.6M432.9 170.7l26.1 -4.7M495.6 165.8l10.5 -1.9M448.5 163l10.5 -1.9M479.9 155.8l41.8 -7.5M453.8 166.2l41.8 -7.5M438.1 164.6l41.8 -7.5M448.5 168.3l41.8 -7.5M542.6 107.9l31.4 -5.7M479.9 170.8l41.8 -7.5M459 166.4l41.8 -7.5M511.2 145.1l47 -8.5M500.8 154.6l26.1 -4.7M537.4 137.1l36.6 -6.6M526.9 142l20.9 -3.8M485.1 154.3l36.6 -6.6M479.9 167.4l31.4 -5.7M453.8 168.8l41.8 -7.5M542.6 141.8l36.6 -6.6M453.8 159.1l15.7 -2.8M453.8 159.4l36.6 -6.6M464.2 162l41.8 -7.5M521.7 145.4l26.1 -4.7M474.7 160.3l36.6 -6.6M485.1 150.7l31.4 -5.7M438.1 172.6l41.8 -7.5M453.8 170.9l47 -8.5M469.4 168.5l47 -8.5M479.9 166.1l15.7 -2.8M506 168.3l47 -8.5M432.9 162.5l31.4 -5.7M485.1 164.2l47 -8.5M459 161.8l41.8 -7.5M526.9 149.6l47 -8.5M464.2 159.1l41.8 -7.5M469.4 165.6l20.9 -3.8M558.3 135.2l15.7 -2.8M448.5 154.4l36.6 -6.6M479.9 155.4l41.8 -7.5M521.7 145l20.9 -3.8M521.7 154.1l36.6 -6.6M443.3 166.6l20.9 -3.8M500.8 163.8l15.7 -2.8M500.8 166.7l10.5 -1.9M526.9 145.3l41.8 -7.5M547.8 128.4l47 -8.5M547.8 151.9l15.7 -2.8M459 168l10.5 -1.9M464.2 153.4l41.8 -7.5M490.3 159.6l41.8 -7.5M443.3 169.1l36.6 -6.6M553.1 150.2l31.4 -5.7M474.7 159.2l41.8 -7.5M532.1 148l41.8 -7.5M495.6 163l36.6 -6.6M547.8 144.7l41.8 -7.5M511.2 141.7l20.9 -3.8M432.9 168.1l10.5 -1.9M443.3 163.4l36.6 -6.6M485.1 162.5l31.4 -5.7M474.7 160l26.1 -4.7M495.6 158.8l41.8 -7.5M558.3 153.1l20.9 -3.8M500.8 152.3l10.5 -1.9M453.8 162l41.8 -7.5M495.6 147.8l15.7 -2.8M469.4 159.5l41.8 -7.5M432.9 174.5l41.8 -7.5M526.9 149.5l15.7 -2.8M511.2 160.2l31.4 -5.7M479.9 173.2l36.6 -6.6M474.7 159.9l36.6 -6.6M553.1 160.9l41.8 -7.5M490.3 148.8l41.8 -7.5M526.9 160.1l41.8 -7.5M558.3 141.9l15.7 -2.8M547.8 149.2l41.8 -7.5M438.1 170.8l15.7 -2.8M568.7 144.4l31.4 -5.7M495.6 162.9l36.6 -6.6M459 154.3l26.1 -4.7M511.2 157.9l26.1 -4.7M542.6 141.8l41.8 -7.5M432.9 170.9l31.4 -5.7M558.3 140l31.4 -5.7M495.6 150.9l20.9 -3.8M448.5 170l41.8 -7.5M474.7 162.4l10.5 -1.9M521.7 144l15.7 -2.8M448.5 160.6l41.8 -7.5M521.7 165.5l26.1 -4.7M511.2 165.1l15.7 -2.8M568.7 155.9l36.6 -6.6M526.9 151.7l41.8 -7.5M506 165.4l41.8 -7.5M521.7 165.3l36.6 -6.6M479.9 169.3l26.1 -4.7M459 162.5l36.6 -6.6M438.1 170.3l15.7 -2.8M563.5 153.8l41.8 -7.5M479.9 162.4l10.5 -1.9M532.1 162.3l31.4 -5.7M511.2 155.3l36.6 -6.6M511.2 165.3l41.8 -7.5M448.5 165.6l10.5 -1.9M479.9 165.6l20.9 -3.8M453.8 175.6l10.5 -1.9M479.9 171.2l26.1 -4.7M443.3 173.4l41.8 -7.5M526.9 139.1l20.9 -3.8M490.3 153.1l41.8 -7.5M438.1 171.6l47 -8.5M500.8 152.3l31.4 -5.7M453.8 169.3l26.1 -4.7M438.1 163.2l41.8 -7.5M453.8 161.8l20.9 -3.8M490.3 171.5l36.6 -6.6M443.3 170.8l26.1 -4.7M553.1 145.5l26.1 -4.7M500.8 156l20.9 -3.8M432.9 156.6l41.8 -7.5M448.5 156.9l20.9 -3.8M459 170.6l15.7 -2.8M500.8 169.1l26.1 -4.7M558.3 147.2l36.6 -6.6M495.6 165.3l15.7 -2.8M459 161l36.6 -6.6M490.3 167.3l47 -8.5" stroke="#e82222" stroke-width="0.6" fill="none"/>
<path d="M448.5 167.3l15.7 -2.8M500.8 152.9l31.4 -5.7M500.8 153l15.7 -2.8M438.1 164.1l41.8 -7.5M453.8 164.8l41.8 -7.5M500.8 156.9l20.9 -3.8M485.1 156.5l36.6 -6.6M485.1 164.6l31.4 -5.7M464.2 159.9l36.6 -6.6M464.2 164.4l36.6 -6.6M479.9 157.3l41.8 -7.5M459 164.7l31.4 -5.7M516.5 155.1l36.6 -6.6M474.7 166.5l31.4 -5.7M459 164.4l15.7 -2.8M474.7 164.5l41.8 -7.5M521.7 155.7l10.5 -1.9M448.5 171l41.8 -7.5M521.7 154.4l41.8 -7.5M490.3 156.7l26.1 -4.7M563.5 153l20.9 -3.8M459 162.5l15.7 -2.8M542.6 159.2l36.6 -6.6M479.9 163.6l41.8 -7.5M521.7 157.3l47 -8.5M553.1 145.6l36.6 -6.6M469.4 164.7l36.6 -6.6M526.9 149l26.1 -4.7M537.4 150l10.5 -1.9M438.1 170.8l36.6 -6.6M506 163.4l31.4 -5.7M495.6 158.2l31.4 -5.7M474.7 159.2l15.7 -2.8M563.5 148.8l41.8 -7.5M537.4 155.4l41.8 -7.5M532.1 138.7l31.4 -5.7M479.9 163.3l31.4 -5.7M563.5 139.5l20.9 -3.8M553.1 149.2l41.8 -7.5M558.3 143.8l10.5 -1.9M448.5 163.8l31.4 -5.7M547.8 154.6l36.6 -6.6M432.9 171.9l36.6 -6.6M495.6 158.5l10.5 -1.9M542.6 145.1l31.4 -5.7M506 164.2l20.9 -3.8M526.9 154.3l31.4 -5.7M495.6 163.1l31.4 -5.7M485.1 152.5l41.8 -7.5M443.3 167.4l41.8 -7.5M490.3 158l41.8 -7.5M495.6 161.2l31.4 -5.7M479.9 163.1l10.5 -1.9M479.9 160.7l36.6 -6.6M485.1 167.6l36.6 -6.6M553.1 152.4l26.1 -4.7M464.2 164.9l10.5 -1.9M553.1 148l36.6 -6.6M443.3 168.4l10.5 -1.9M500.8 158.2l20.9 -3.8M432.9 163.8l10.5 -1.9M469.4 166.6l47 -8.5M479.9 158.2l36.6 -6.6M563.5 155.5l26.1 -4.7M474.7 165.8l41.8 -7.5M490.3 143.8l26.1 -4.7M459 164.1l26.1 -4.7M469.4 158.9l36.6 -6.6M443.3 169l10.5 -1.9M563.5 149.6l31.4 -5.7M464.2 161l41.8 -7.5M448.5 164.2l41.8 -7.5M506 158.7l47 -8.5M526.9 151l15.7 -2.8M511.2 145.5l41.8 -7.5M500.8 155.5l36.6 -6.6M453.8 164.5l47 -8.5M453.8 169.9l36.6 -6.6M464.2 163.9l47 -8.5M490.3 160.7l10.5 -1.9M464.2 165.8l36.6 -6.6M537.4 146.8l41.8 -7.5M438.1 169.9l15.7 -2.8M532.1 155l26.1 -4.7M453.8 163.5l36.6 -6.6M511.2 155.7l36.6 -6.6M490.3 156.6l36.6 -6.6M526.9 156.6l31.4 -5.7M485.1 148.2l20.9 -3.8M495.6 156.7l26.1 -4.7M563.5 158.7l41.8 -7.5M438.1 171.6l36.6 -6.6M438.1 167.9l36.6 -6.6M532.1 146.1l41.8 -7.5M459 163.1l36.6 -6.6M464.2 165.3l41.8 -7.5M490.3 160l15.7 -2.8M537.4 147.8l41.8 -7.5M453.8 166.5l36.6 -6.6M495.6 156.1l47 -8.5M459 166.7l10.5 -1.9M432.9 170.1l31.4 -5.7M516.5 160.8l20.9 -3.8M537.4 157.3l47 -8.5M438.1 167.7l10.5 -1.9M459 165.4l10.5 -1.9M511.2 147l41.8 -7.5M558.3 146.1l15.7 -2.8M479.9 161.5l31.4 -5.7M511.2 150l26.1 -4.7M438.1 168l26.1 -4.7M432.9 170.8l47 -8.5M485.1 162.1l41.8 -7.5M521.7 153l15.7 -2.8M474.7 155.8l20.9 -3.8M511.2 150.5l41.8 -7.5M537.4 153.7l26.1 -4.7M438.1 170.5l41.8 -7.5M547.8 154.3l31.4 -5.7M443.3 168.2l41.8 -7.5M521.7 161.5l41.8 -7.5M521.7 156.8l36.6 -6.6M506 157.3l36.6 -6.6M432.9 171.1l26.1 -4.7M485.1 155.6l31.4 -5.7M516.5 149l47 -8.5M443.3 175.4l47 -8.5M464.2 162.9l31.4 -5.7M448.5 167.6l31.4 -5.7M438.1 170.1l20.9 -3.8M479.9 164.3l47 -8.5M506 158.1l36.6 -6.6M464.2 166l41.8 -7.5M568.7 140.8l15.7 -2.8M500.8 160.6l36.6 -6.6" stroke="#c40606" stroke-width="0.6" fill="none"/></g>
<g clip-path="url(#cB)"><path d="M131.9 390.1v1.4m0 45.5v1.4M137.2 380.4v1.4m0 0.2v1.4m0 5.9v1.4m0 -1.2v1.4m0 2.4v1.4m0 0.7v1.4m0 18.7v1.4m0 1.7v1.4m0 5v1.4M142.4 377.8v1.4m0 -0.9v1.4m0 3v1.4m0 -0.5v1.4m0 -0.3v1.4m0 0.2v1.4m0 -0.3v1.4m0 -0.4v1.4m0 1v1.4m0 -1.4v1.4m0 13.8v1.4m0 -0.9v1.4m0 1.7v1.4m0 0.2v1.4m0 2v1.4m0 0.3v1.4m0 -1.1v1.4M147.6 377.1v1.4m0 -0.4v1.4m0 3.8v1.4m0 -1v1.4m0 -0.1v1.4m0 2.2v1.4m0 -0.1v1.4m0 -0.6v1.4m0 1.2v1.4m0 15.6v1.4m0 -1.1v1.4m0 1.6v1.4m0 0.3v1.4m0 0.6v1.4m0 24.6v1.4M152.9 375.6v1.4m0 2.5v1.4m0 2v1.4m0 -0.7v1.4m0 1v1.4m0 0.7v1.4m0 -1.4v1.4m0 1.1v1.4m0 11.6v1.4m0 -0.5v1.4m0 1v1.4m0 -0.6v1.4m0 2.1v1.4m0 -1.2v1.4m0 -1v1.4m0 4.3v1.4M158.1 363v1.4m0 4.9v1.4m0 -1v1.4m0 2.2v1.4m0 -0.8v1.4m0 -0.3v1.4m0 -0.9v1.4m0 3.7v1.4m0 -1v1.4m0 -0.1v1.4m0 -0.4v1.4m0 -0.7v1.4m0 3.9v1.4m0 7.5v1.4m0 2.5v1.4m0 0.2v1.4m0 -0.9v1.4m0 -0.8v1.4m0 -1.3v1.4m0 0.1v1.4m0 -1v1.4m0 -1v1.4m0 1v1.4m0 7.3v1.4M163.3 366.1v1.4m0 -0.3v1.4m0 3.3v1.4m0 1.8v1.4m0 1.4v1.4m0 0.4v1.4m0 -1.2v1.4m0 2v1.4m0 -0.3v1.4m0 -0.2v1.4m0 7.9v1.4m0 5.7v1.4m0 -1.3v1.4m0 5.9v1.4m0 0.9v1.4m0 -1.1v1.4m0 -0.1v1.4m0 5.6v1.4M168.5 365v1.4m0 2v1.4m0 3.8v1.4m0 -0.5v1.4m0 0.1v1.4m0 -1v1.4m0 -0.1v1.4m0 1.6v1.4m0 -0.7v1.4m0 1.5v1.4m0 -1.1v1.4m0 15v1.4m0 0.2v1.4m0 -0.3v1.4m0 0.4v1.4m0 -1.4v1.4m0 -0.4v1.4m0 3.2v1.4m0 0.5v1.4m0 -0.7v1.4m0 -0.1v1.4m0 -0.1v1.4m0 -0.2v1.4m0 -0.9v1.4m0 -0.9v1.4m0 -0.8v1.4m0 5.9v1.4M173.8 368.3v1.4m0 0.2v1.4m0 -0.3v1.4m0 1.8v1.4m0 -1.1v1.4m0 -1.1v1.4m0 1.3v1.4m0 -1.2v1.4m0 -0.2v1.4m0 0.4v1.4m0 0.5v1.4m0 0v1.4m0 14.8v1.4m0 -0.4v1.4m0 -1.1v1.4m0 -1.2v1.4m0 -0.6v1.4m0 0.1v1.4m0 2.2v1.4m0 2.5v1.4m0 6.3v1.4M179 341.4v1.4m0 24.3v1.4m0 0.3v1.4m0 0.1v1.4m0 0.7v1.4m0 2v1.4m0 -1.3v1.4m0 0.2v1.4m0 -0.1v1.4m0 0.9v1.4m0 -0.1v1.4m0 2.1v1.4m0 1v1.4m0 2.1v1.4m0 1.3v1.4m0 5.5v1.4m0 -1.2v1.4m0 1.2v1.4m0 -1.3v1.4m0 3v1.4m0 -0.5v1.4m0 0.1v1.4m0 1.1v1.4m0 -1.1v1.4m0 -0.3v1.4M184.2 360.5v1.4m0 3.4v1.4m0 -1v1.4m0 3.7v1.4m0 -0.7v1.4m0 2v1.4m0 -1v1.4m0 -1.2v1.4m0 -0.6v1.4m0 -0.6v1.4m0 1.9v1.4m0 2.1v1.4m0 11.2v1.4m0 0.2v1.4m0 0.6v1.4m0 -1v1.4m0 -0.9v1.4m0 -0.3v1.4m0 1.4v1.4m0 -1.4v1.4m0 -1.3v1.4m0 0.6v1.4m0 0.2v1.4m0 2.4v1.4m0 -0.6v1.4M189.5 358.6v1.4m0 4.4v1.4m0 1.8v1.4m0 1.8v1.4m0 -0.9v1.4m0 0.9v1.4m0 0.5v1.4m0 -1.4v1.4m0 0.7v1.4m0 17.7v1.4m0 1v1.4m0 -1v1.4m0 1.5v1.4m0 -0.7v1.4m0 0.4v1.4m0 1v1.4m0 0.3v1.4m0 7v1.4M194.7 358.9v1.4m0 -0.7v1.4m0 4.7v1.4m0 -1.2v1.4m0 -0.3v1.4m0 0.1v1.4m0 -0.9v1.4m0 -0.7v1.4m0 1.3v1.4m0 -0.6v1.4m0 -0.1v1.4m0 -1.1v1.4m0 -0v1.4m0 -0.7v1.4m0 -1.4v1.4m0 -0.9v1.4m0 4v1.4m0 -1.2v1.4m0 7.2v1.4m0 2.9v1.4m0 -1.3v1.4m0 4.2v1.4m0 0.1v1.4m0 28.4v1.4M199.9 364.4v1.4m0 -1.2v1.4m0 0.6v1.4m0 0.6v1.4m0 -1.2v1.4m0 0.9v1.4m0 -0.9v1.4m0 -0.5v1.4m0 1.1v1.4m0 -1.2v1.4m0 -1.2v1.4m0 -0.4v1.4m0 0.2v1.4m0 -0.4v1.4m0 14.2v1.4m0 -0.7v1.4m0 4.2v1.4m0 0.4v1.4m0 -0.6v1.4m0 0.1v1.4m0 -1v1.4m0 -1.4v1.4m0 6.8v1.4m0 0.1v1.4m0 -0.1v1.4m0 12v1.4M205.2 354.4v1.4m0 0.4v1.4m0 0.5v1.4m0 4.6v1.4m0 1.4v1.4m0 -0.1v1.4m0 0.2v1.4m0 -0.5v1.4m0 -1v1.4m0 -1.3v1.4m0 -1.3v1.4m0 -0.3v1.4m0 -1v1.4m0 -0.1v1.4m0 -0.1v1.4m0 -0.6v1.4m0 0.4v1.4m0 -1v1.4m0 8v1.4m0 5.9v1.4m0 -1.3v1.4m0 -0.7v1.4m0 0.5v1.4m0 -1.4v1.4m0 -0.7v1.4m0 0.3v1.4m0 0.3v1.4m0 -0.8v1.4m0 0v1.4m0 -0.8v1.4m0 0.4v1.4m0 -1.3v1.4m0 -1.3v1.4m0 0.2v1.4m0 16.3v1.4M210.4 352.8v1.4m0 0.2v1.4m0 1.1v1.4m0 -1v1.4m0 -0.8v1.4m0 5.2v1.4m0 0.9v1.4m0 -1.3v1.4m0 -1v1.4m0 1v1.4m0 -0.6v1.4m0 -0.5v1.4m0 -0.8v1.4m0 0.6v1.4m0 -0.9v1.4m0 1.6v1.4m0 4.9v1.4m0 9.3v1.4m0 0.2v1.4m0 2v1.4m0 -1.4v1.4m0 -1.3v1.4m0 -1.2v1.4m0 6.5v1.4m0 5.5v1.4M215.6 348.2v1.4m0 7.7v1.4m0 -1.4v1.4m0 0.5v1.4m0 -0.2v1.4m0 3.1v1.4m0 -0.9v1.4m0 0.1v1.4m0 1.5v1.4m0 0.2v1.4m0 -1.4v1.4m0 0.5v1.4m0 2.8v1.4m0 3.4v1.4m0 5.1v1.4m0 0.4v1.4m0 -0.4v1.4m0 -1.4v1.4m0 1.5v1.4m0 2v1.4m0 -0v1.4m0 1.4v1.4m0 -0.1v1.4m0 -0.8v1.4m0 2.3v1.4M220.8 350v1.4m0 1v1.4m0 1.5v1.4m0 -0.8v1.4m0 1.3v1.4m0 -1v1.4m0 1v1.4m0 1.2v1.4m0 -1v1.4m0 0.1v1.4m0 -0.6v1.4m0 1.3v1.4m0 0.4v1.4m0 14v1.4m0 2.3v1.4m0 -0.9v1.4m0 2.8v1.4m0 -1.2v1.4m0 -0.8v1.4m0 -0.5v1.4m0 1.1v1.4m0 -1.4v1.4m0 0.6v1.4M226.1 348.1v1.4m0 0.4v1.4m0 -1.1v1.4m0 -0.4v1.4m0 0v1.4m0 -1.2v1.4m0 1.5v1.4m0 2v1.4m0 -0.2v1.4m0 -0.3v1.4m0 -0.8v1.4m0 -1.3v1.4m0 0.4v1.4m0 -0.4v1.4m0 0.2v1.4m0 -0.6v1.4m0 -0.2v1.4m0 -0.1v1.4m0 6v1.4m0 10.5v1.4m0 -0.9v1.4m0 -1.4v1.4m0 -0.8v1.4m0 -1v1.4m0 -1v1.4m0 -1.3v1.4m0 -1.2v1.4m0 0v1.4m0 -1.2v1.4m0 -1.4v1.4m0 0.5v1.4m0 -0.9v1.4m0 2.3v1.4m0 0.8v1.4M231.3 351.7v1.4m0 3.5v1.4m0 1.1v1.4m0 0.9v1.4m0 0.2v1.4m0 -0.9v1.4m0 0.1v1.4m0 -1.3v1.4m0 -1.3v1.4m0 -0.4v1.4m0 -0.7v1.4m0 -1.1v1.4m0 -1.3v1.4m0 -1v1.4m0 0.6v1.4m0 16.7v1.4m0 0.1v1.4m0 -1.3v1.4m0 0.8v1.4m0 -0.6v1.4m0 1.1v1.4m0 -1.3v1.4m0 -1.4v1.4m0 -0.5v1.4m0 -0.9v1.4m0 -0.9v1.4m0 0.8v1.4m0 4.8v1.4m0 -0.4v1.4m0 -0.2v1.4M236.5 348.6v1.4m0 1.4v1.4m0 2.7v1.4m0 -0v1.4m0 -0.6v1.4m0 0.2v1.4m0 -0.9v1.4m0 0.8v1.4m0 -0.4v1.4m0 -0.9v1.4m0 -1.2v1.4m0 -0.7v1.4m0 -1.4v1.4m0 8.5v1.4m0 11.6v1.4m0 -0.4v1.4m0 -0.4v1.4m0 1.5v1.4m0 -0.6v1.4m0 -0.5v1.4m0 1.4v1.4m0 0.2v1.4m0 -0.7v1.4m0 2.1v1.4m0 -1.3v1.4m0 0.5v1.4m0 0.1v1.4m0 8.5v1.4M241.8 343.1v1.4m0 1.3v1.4m0 4.3v1.4m0 -1.2v1.4m0 -1.3v1.4m0 3.6v1.4m0 -0.8v1.4m0 -0.8v1.4m0 0.1v1.4m0 3.6v1.4m0 -0.2v1.4m0 7.6v1.4m0 10.5v1.4m0 2.9v1.4m0 -0.9v1.4m0 0.1v1.4m0 0.8v1.4m0 -1.2v1.4m0 1.1v1.4m0 0.9v1.4m0 4v1.4m0 2v1.4M247 347.4v1.4m0 -1.1v1.4m0 2v1.4m0 2.4v1.4m0 -1v1.4m0 -0.8v1.4m0 -1.4v1.4m0 -0.6v1.4m0 -1v1.4m0 -1.3v1.4m0 -1.4v1.4m0 -1.1v1.4m0 -1.2v1.4m0 -1.1v1.4m0 0.8v1.4m0 -1.4v1.4m0 -0.6v1.4m0 -1.1v1.4m0 -1.3v1.4m0 -0.8v1.4m0 -0.5v1.4m0 -0.8v1.4m0 21.9v1.4m0 -0.3v1.4m0 -1.1v1.4m0 2.5v1.4m0 -0.6v1.4m0 -0.9v1.4m0 0.9v1.4m0 3.6v1.4m0 1.1v1.4M252.2 350.2v1.4m0 -1.4v1.4m0 -0.5v1.4m0 -0.8v1.4m0 0.3v1.4m0 0.4v1.4m0 -0.4v1.4m0 1.3v1.4m0 -1.2v1.4m0 2.1v1.4m0 -0.3v1.4m0 -1.3v1.4m0 1.3v1.4m0 2.5v1.4m0 13.1v1.4m0 0.9v1.4m0 -1.3v1.4m0 0.9v1.4m0 -1.3v1.4m0 0.8v1.4m0 1.9v1.4m0 10.7v1.4M257.5 334.7v1.4m0 16.3v1.4m0 0.4v1.4m0 -1.2v1.4m0 0.5v1.4m0 -0.1v1.4m0 -1.1v1.4m0 1.5v1.4m0 0.1v1.4m0 -1.2v1.4m0 0.2v1.4m0 2.9v1.4m0 0.7v1.4m0 8.5v1.4m0 5.4v1.4m0 -0.5v1.4m0 -0.2v1.4m0 -1.1v1.4m0 1.3v1.4m0 2.2v1.4m0 0.8v1.4m0 0.3v1.4m0 -0.6v1.4m0 2.1v1.4m0 7.8v1.4M262.7 343.8v1.4m0 2.9v1.4m0 0.3v1.4m0 0.5v1.4m0 -0.2v1.4m0 -0.8v1.4m0 1.2v1.4m0 -0.6v1.4m0 -0.8v1.4m0 -0.4v1.4m0 1.1v1.4m0 -1.2v1.4m0 0.2v1.4m0 0.1v1.4m0 3.1v1.4m0 12v1.4m0 -0.9v1.4m0 -0.1v1.4m0 2.1v1.4m0 -0.4v1.4m0 -1v1.4m0 -0.8v1.4m0 -0.6v1.4m0 -1.2v1.4m0 -0v1.4m0 -1.1v1.4m0 2.6v1.4M267.9 342.2v1.4m0 0.9v1.4m0 -1v1.4m0 -1.1v1.4m0 -0.7v1.4m0 -1.2v1.4m0 -1.2v1.4m0 -0.5v1.4m0 2.2v1.4m0 0.3v1.4m0 1.3v1.4m0 -1.3v1.4m0 0.6v1.4m0 -0.7v1.4m0 -0.5v1.4m0 -0.9v1.4m0 8.6v1.4m0 4.6v1.4m0 -1v1.4m0 0.1v1.4m0 9.4v1.4m0 2.1v1.4m0 2.1v1.4m0 1.1v1.4m0 2.2v1.4m0 1.6v1.4M273.1 334.2v1.4m0 2.6v1.4m0 1.4v1.4m0 -0.4v1.4m0 -0.6v1.4m0 2.6v1.4m0 -1.3v1.4m0 0.6v1.4m0 -0.1v1.4m0 -1.3v1.4m0 0.5v1.4m0 -1.2v1.4m0 -0.1v1.4m0 -0.6v1.4m0 -0.5v1.4m0 -0.3v1.4m0 -0.7v1.4m0 -0.9v1.4m0 -1.4v1.4m0 -1.2v1.4m0 -1v1.4m0 4v1.4m0 7.1v1.4m0 5.3v1.4m0 -0.2v1.4m0 3.1v1.4m0 -0.1v1.4m0 -0.8v1.4m0 -0.1v1.4m0 -1v1.4m0 -0.4v1.4m0 -1v1.4m0 -0.1v1.4m0 -0.5v1.4m0 3v1.4m0 -0.7v1.4M278.4 330.1v1.4m0 3.7v1.4m0 1v1.4m0 -0.8v1.4m0 0.7v1.4m0 2.2v1.4m0 0.6v1.4m0 -0.7v1.4m0 0v1.4m0 0.6v1.4m0 3.1v1.4m0 21.4v1.4m0 3.3v1.4m0 -0.8v1.4m0 -0.7v1.4m0 -1.1v1.4m0 1.6v1.4m0 1.2v1.4m0 -0.3v1.4m0 0v1.4m0 -1v1.4m0 0.5v1.4m0 4.7v1.4M283.6 320.4v1.4m0 7.6v1.4m0 6.3v1.4m0 0.2v1.4m0 1.2v1.4m0 -0.2v1.4m0 2.1v1.4m0 -0.3v1.4m0 0.7v1.4m0 -0.5v1.4m0 -1v1.4m0 0.3v1.4m0 -1.2v1.4m0 -0.9v1.4m0 -0.8v1.4m0 -1.3v1.4m0 5.6v1.4m0 1v1.4m0 14v1.4m0 -1.3v1.4m0 1.5v1.4m0 0.9v1.4m0 9.7v1.4M288.8 330.3v1.4m0 7.9v1.4m0 1.2v1.4m0 -0.2v1.4m0 0.5v1.4m0 2v1.4m0 -0.1v1.4m0 1.8v1.4m0 -0.3v1.4m0 8.7v1.4m0 7.8v1.4m0 2.1v1.4m0 0.8v1.4m0 0.2v1.4m0 2.9v1.4m0 4.8v1.4m0 1.5v1.4m0 2.2v1.4M294.1 342.2v1.4m0 6.3v1.4m0 2.4v1.4m0 31.5v1.4M299.3 334.6v1.4m0 2.7v1.4m0 0.1v1.4m0 4.8v1.4m0 -0.2v1.4m0 3v1.4m0 1.1v1.4m0 10.6v1.4m0 6.8v1.4m0 0.2v1.4m0 1.5v1.4m0 -0.7v1.4m0 -0.8v1.4m0 12.5v1.4M304.5 329.3v1.4m0 2.9v1.4m0 21.2v1.4m0 12.9v1.4m0 5.1v1.4m0 0.9v1.4m0 9.1v1.4M309.8 318.8v1.4m0 2.9v1.4m0 10.8v1.4m0 12v1.4m0 25.1v1.4m0 1.9v1.4M315 326.1v1.4m0 13.1v1.4m0 26.8v1.4M320.2 333.7v1.4M330.7 371v1.4M346.4 335v1.4m0 25.2v1.4" stroke="#6ab8e8" stroke-width="1.4" fill="none"/>
<path d="M131.9 378.8v1.4m0 10v1.4m0 3.9v1.4m0 0.5v1.4m0 13.1v1.4M137.2 382.3v1.4m0 2.7v1.4m0 -0.1v1.4m0 0.4v1.4m0 -0.4v1.4m0 0.6v1.4m0 -1.2v1.4m0 -1.2v1.4m0 0.4v1.4m0 2.3v1.4m0 8.9v1.4m0 -1.3v1.4m0 4.8v1.4M142.4 384.1v1.4m0 1.9v1.4m0 -1v1.4m0 -0.9v1.4m0 8v1.4m0 8.1v1.4m0 -0.7v1.4m0 0.9v1.4m0 0.5v1.4m0 0v1.4m0 0.7v1.4M147.6 370.5v1.4m0 5v1.4m0 -0.7v1.4m0 -1v1.4m0 2.5v1.4m0 0.8v1.4m0 -0.1v1.4m0 -1.3v1.4m0 0.4v1.4m0 -1.1v1.4m0 -1.3v1.4m0 -1.3v1.4m0 -0.8v1.4m0 -1.2v1.4m0 0.2v1.4m0 4.1v1.4m0 2.6v1.4m0 3.1v1.4m0 -0.9v1.4m0 1.7v1.4m0 -0.5v1.4m0 -1v1.4m0 -1.4v1.4m0 -1.2v1.4m0 0.4v1.4M152.9 379.8v1.4m0 -0.9v1.4m0 0.9v1.4m0 -0.8v1.4m0 0.8v1.4m0 -1.1v1.4m0 -1.3v1.4m0 0.2v1.4m0 -0.5v1.4m0 -0.5v1.4m0 -1.3v1.4m0 -0.5v1.4m0 1.3v1.4m0 -0.5v1.4m0 0.5v1.4m0 -1v1.4m0 1.2v1.4m0 -1v1.4m0 2v1.4m0 -1.2v1.4m0 -0.1v1.4m0 0.3v1.4m0 -1.2v1.4m0 -1.2v1.4m0 -1.3v1.4m0 -1.4v1.4m0 -1.2v1.4m0 -0.2v1.4m0 -0.6v1.4m0 -1.3v1.4m0 -1.3v1.4m0 -1.1v1.4m0 -1.4v1.4m0 0.4v1.4m0 -0.6v1.4m0 -0.5v1.4m0 -0.8v1.4m0 -0.2v1.4M158.1 367v1.4m0 4.8v1.4m0 0.9v1.4m0 4.2v1.4m0 0.3v1.4m0 -0.9v1.4m0 -0.4v1.4m0 0.3v1.4m0 0.8v1.4m0 2.8v1.4m0 -0.6v1.4m0 0.9v1.4m0 0.7v1.4m0 -0.2v1.4m0 -0.7v1.4m0 -0.7v1.4m0 2v1.4m0 -0.7v1.4m0 0v1.4m0 -1.1v1.4m0 -1.4v1.4m0 -1.1v1.4m0 0.9v1.4m0 1.7v1.4m0 2.3v1.4m0 -1.4v1.4m0 -1.1v1.4m0 6.3v1.4m0 13.5v1.4M163.3 370.8v1.4m0 -0.7v1.4m0 2.7v1.4m0 0.1v1.4m0 1.8v1.4m0 -1.2v1.4m0 1.4v1.4m0 -0.6v1.4m0 -1.2v1.4m0 -0v1.4m0 1v1.4m0 -0.3v1.4m0 5.3v1.4m0 -0.6v1.4m0 -0.5v1.4m0 -1.3v1.4m0 0.7v1.4m0 0.7v1.4m0 -0.5v1.4m0 -0.7v1.4m0 -0.7v1.4m0 -0.9v1.4m0 -1.3v1.4m0 -0.7v1.4m0 -1.3v1.4m0 -0.8v1.4m0 -0.8v1.4m0 -1v1.4m0 0v1.4m0 -0.9v1.4m0 -1.3v1.4M168.5 377.4v1.4m0 0.7v1.4m0 0.7v1.4m0 -0.1v1.4m0 -1.2v1.4m0 -0.6v1.4m0 -1.3v1.4m0 -1.3v1.4m0 4v1.4m0 0.3v1.4m0 0v1.4m0 6.5v1.4m0 -0.3v1.4m0 -0.7v1.4m0 -1.4v1.4m0 -0.9v1.4m0 -0.5v1.4m0 -0.5v1.4m0 -0.3v1.4m0 -1.3v1.4m0 -1.1v1.4m0 2.7v1.4M173.8 369.5v1.4m0 3.3v1.4m0 -1.1v1.4m0 -1.1v1.4m0 -1.3v1.4m0 -1.3v1.4m0 -1.1v1.4m0 -0.6v1.4m0 -0.1v1.4m0 -0.3v1.4m0 -0.4v1.4m0 -0.1v1.4m0 -1.3v1.4m0 -0.6v1.4m0 -0.5v1.4m0 -0.8v1.4m0 1.1v1.4m0 -0.8v1.4m0 3.8v1.4m0 -0.1v1.4m0 0.8v1.4m0 0.8v1.4m0 -0.4v1.4m0 -1.4v1.4m0 0.3v1.4m0 -0.7v1.4m0 -0.8v1.4m0 -0.8v1.4m0 -0.5v1.4m0 -1.2v1.4m0 -1.3v1.4m0 -1.2v1.4m0 -1.2v1.4m0 -0.6v1.4m0 -1.2v1.4m0 -0.9v1.4m0 1.5v1.4m0 0.4v1.4m0 -0.3v1.4m0 0.4v1.4m0 3.3v1.4M179 359.1v1.4m0 8.3v1.4m0 -1.1v1.4m0 0.2v1.4m0 -0.9v1.4m0 -1.1v1.4m0 -0.4v1.4m0 0.3v1.4m0 -0.4v1.4m0 0.1v1.4m0 -1v1.4m0 1.9v1.4m0 -0.8v1.4m0 -0.9v1.4m0 -1.1v1.4m0 -0.5v1.4m0 -1.3v1.4m0 -1.4v1.4m0 -1.2v1.4m0 0.4v1.4m0 -0v1.4m0 -1v1.4m0 4.6v1.4m0 -1.1v1.4m0 0.6v1.4m0 0.5v1.4m0 -0.7v1.4m0 0.2v1.4m0 -1.1v1.4m0 -1.1v1.4m0 -0.6v1.4m0 -1.4v1.4m0 -1.2v1.4m0 -1.3v1.4m0 -1.4v1.4m0 -1.4v1.4m0 0v1.4m0 -1.2v1.4m0 -1.2v1.4m0 -1.2v1.4m0 -1.3v1.4m0 -1.1v1.4m0 -1v1.4m0 0.9v1.4m0 -0.5v1.4m0 -1.3v1.4m0 -1v1.4m0 -1.3v1.4m0 -1.4v1.4m0 0.3v1.4M184.2 363.7v1.4m0 2.1v1.4m0 -0.1v1.4m0 -1.3v1.4m0 -0.7v1.4m0 -0.6v1.4m0 0.3v1.4m0 -1v1.4m0 -0.4v1.4m0 -0.7v1.4m0 -1.4v1.4m0 -1.2v1.4m0 -0.1v1.4m0 -0.5v1.4m0 -0.7v1.4m0 -1.1v1.4m0 -0.8v1.4m0 -1.4v1.4m0 0.5v1.4m0 -1.2v1.4m0 -1.4v1.4m0 -1.3v1.4m0 -1.4v1.4m0 -1.3v1.4m0 -0.8v1.4m0 -0v1.4m0 -0.6v1.4m0 3v1.4m0 4.2v1.4m0 0.6v1.4m0 0.1v1.4m0 -0.7v1.4m0 -0.9v1.4m0 -0.8v1.4m0 -1.3v1.4m0 -1.1v1.4m0 -1.3v1.4m0 -0.6v1.4m0 -0.7v1.4m0 -1.1v1.4m0 -1.2v1.4m0 -1.4v1.4m0 -1.1v1.4m0 -1.2v1.4m0 -1.3v1.4m0 -0.4v1.4m0 -0.8v1.4m0 -1.3v1.4m0 -1.2v1.4m0 2v1.4m0 -0.8v1.4M189.5 362.6v1.4m0 2.8v1.4m0 -0.2v1.4m0 -0.1v1.4m0 -0.7v1.4m0 0.3v1.4m0 -1.4v1.4m0 -0.1v1.4m0 -1.2v1.4m0 -0.4v1.4m0 0.1v1.4m0 -1v1.4m0 -0.7v1.4m0 -1.1v1.4m0 -1v1.4m0 -1.1v1.4m0 -1.3v1.4m0 -1.3v1.4m0 -0.9v1.4m0 -1.4v1.4m0 -1.4v1.4m0 -1v1.4m0 -1.2v1.4m0 -1.4v1.4m0 -0.9v1.4m0 -0.8v1.4m0 -0.9v1.4m0 -0.7v1.4m0 -1.4v1.4m0 -0.3v1.4m0 1.4v1.4m0 1v1.4m0 1v1.4m0 -0.3v1.4m0 -1v1.4m0 -0.7v1.4m0 2.2v1.4m0 -1.2v1.4m0 -1.1v1.4m0 -0.8v1.4m0 -1v1.4m0 -1.1v1.4m0 -1.2v1.4m0 -0.4v1.4m0 0.5v1.4m0 -0.7v1.4m0 -1v1.4m0 -1.1v1.4m0 -1.1v1.4m0 -1.3v1.4m0 -0.5v1.4m0 -1.4v1.4m0 -1.1v1.4m0 0.8v1.4m0 0.1v1.4m0 -0.8v1.4m0 -0.6v1.4m0 0.3v1.4M194.7 351.3v1.4m0 8v1.4m0 2.8v1.4m0 -0.4v1.4m0 -1.3v1.4m0 -0v1.4m0 -1.1v1.4m0 0.9v1.4m0 -1.3v1.4m0 -1.3v1.4m0 0.3v1.4m0 0.5v1.4m0 -1.3v1.4m0 -1.1v1.4m0 -1.4v1.4m0 -0.6v1.4m0 -1.3v1.4m0 -0.4v1.4m0 -0.7v1.4m0 -1.3v1.4m0 -1.1v1.4m0 -0.8v1.4m0 -0.6v1.4m0 -0.8v1.4m0 -1.2v1.4m0 -0.9v1.4m0 2.4v1.4m0 2v1.4m0 -0.1v1.4m0 -0.1v1.4m0 -1.3v1.4m0 0.4v1.4m0 0.9v1.4m0 -0v1.4m0 -1.4v1.4m0 -1.3v1.4m0 -1v1.4m0 -1v1.4m0 -1.3v1.4m0 0.2v1.4m0 -1.1v1.4m0 -0.4v1.4m0 -1.4v1.4m0 -1.3v1.4m0 -1.3v1.4m0 -1.4v1.4m0 -0.6v1.4m0 -1v1.4m0 -1v1.4m0 -0.3v1.4m0 0.4v1.4m0 -0.5v1.4m0 1.4v1.4m0 -0.6v1.4M199.9 354.2v1.4m0 3.6v1.4m0 0.4v1.4m0 -0.6v1.4m0 0.1v1.4m0 -0.6v1.4m0 -0.8v1.4m0 -1.2v1.4m0 -1.3v1.4m0 2.3v1.4m0 -1.2v1.4m0 0v1.4m0 -0.9v1.4m0 -1.4v1.4m0 -1.3v1.4m0 -0.1v1.4m0 -0.2v1.4m0 -0.9v1.4m0 -0v1.4m0 -0.6v1.4m0 -1.3v1.4m0 -1.2v1.4m0 -1v1.4m0 -0.5v1.4m0 3.5v1.4m0 -1v1.4m0 6.5v1.4m0 -1v1.4m0 -0.6v1.4m0 -0.8v1.4m0 -0.6v1.4m0 -0.8v1.4m0 -0.7v1.4m0 -0.5v1.4m0 -1.2v1.4m0 -1v1.4m0 -1.3v1.4m0 -1.1v1.4m0 -1.4v1.4m0 -1.4v1.4m0 -1v1.4m0 1.6v1.4m0 -1.1v1.4m0 0.6v1.4m0 -0.6v1.4M205.2 357.4v1.4m0 -1.4v1.4m0 2.1v1.4m0 2.6v1.4m0 -0.6v1.4m0 -1.1v1.4m0 0.3v1.4m0 -0.4v1.4m0 -0.6v1.4m0 -0.8v1.4m0 -0.7v1.4m0 -1.4v1.4m0 -0.2v1.4m0 -0.9v1.4m0 -1.1v1.4m0 -1v1.4m0 -0.5v1.4m0 -1.4v1.4m0 -0.7v1.4m0 -1.3v1.4m0 -1.1v1.4m0 -1v1.4m0 0.5v1.4m0 -1.4v1.4m0 -1v1.4m0 -1.3v1.4m0 -0.9v1.4m0 0.3v1.4m0 0.6v1.4m0 -1v1.4m0 -0.4v1.4m0 -1v1.4m0 2.2v1.4m0 -1.1v1.4m0 -0.2v1.4m0 -1.1v1.4m0 2.4v1.4m0 -1.4v1.4m0 -1.3v1.4m0 -1.4v1.4m0 -1v1.4m0 -1.4v1.4m0 -1.1v1.4m0 -1v1.4m0 0.8v1.4m0 -1.4v1.4m0 -0.6v1.4m0 -0.7v1.4m0 -0.5v1.4m0 -0.1v1.4m0 0.3v1.4m0 -1.4v1.4m0 0.7v1.4m0 0.3v1.4m0 -1v1.4m0 -0.7v1.4m0 1.9v1.4m0 1.2v1.4M210.4 350.5v1.4m0 6.1v1.4m0 -0.2v1.4m0 -0.7v1.4m0 1.5v1.4m0 0.4v1.4m0 -1.1v1.4m0 -0.2v1.4m0 -0.6v1.4m0 -1.4v1.4m0 -0.7v1.4m0 1.1v1.4m0 -0.7v1.4m0 -0.8v1.4m0 -0.5v1.4m0 -0.6v1.4m0 0v1.4m0 2.1v1.4m0 0.9v1.4m0 -1.1v1.4m0 -1v1.4m0 -1v1.4m0 0.5v1.4m0 0.5v1.4m0 -0.2v1.4m0 -0.6v1.4m0 -1v1.4m0 1.7v1.4m0 1.1v1.4m0 -0.9v1.4m0 -0.4v1.4m0 -1.3v1.4m0 -1.3v1.4m0 -0.2v1.4m0 -1.3v1.4m0 -0.1v1.4m0 -1.1v1.4m0 -1.1v1.4m0 -0.9v1.4m0 -1.2v1.4m0 -1.1v1.4m0 1.7v1.4m0 -1.3v1.4m0 -1.1v1.4m0 -0.2v1.4m0 5.1v1.4M215.6 356.4v1.4m0 -0.7v1.4m0 0.8v1.4m0 -0.8v1.4m0 -0.9v1.4m0 1.7v1.4m0 -1.3v1.4m0 -0.5v1.4m0 -0.8v1.4m0 -0.4v1.4m0 -1.3v1.4m0 -0.1v1.4m0 -0.1v1.4m0 -0.6v1.4m0 0.3v1.4m0 2.3v1.4m0 -0.6v1.4m0 1.5v1.4m0 -0.4v1.4m0 -1.4v1.4m0 1.4v1.4m0 3.1v1.4m0 -0v1.4m0 -0.3v1.4m0 -0.9v1.4m0 -1.2v1.4m0 -1.2v1.4m0 -1.3v1.4m0 -0.6v1.4m0 -0.6v1.4m0 -1.2v1.4m0 -1v1.4m0 -1.2v1.4m0 -0.8v1.4m0 -0.9v1.4m0 -1.4v1.4m0 -0.6v1.4m0 -1.2v1.4m0 -1.3v1.4m0 0.2v1.4m0 -0.2v1.4m0 -1v1.4m0 -0.3v1.4m0 -1.3v1.4m0 1.2v1.4m0 9.6v1.4M220.8 354.6v1.4m0 4v1.4m0 -1.4v1.4m0 -1.4v1.4m0 -1.2v1.4m0 2.8v1.4m0 -0.8v1.4m0 -1v1.4m0 -1v1.4m0 -0.2v1.4m0 -0.5v1.4m0 -1.3v1.4m0 -0.8v1.4m0 -1.2v1.4m0 0v1.4m0 -1.4v1.4m0 -0.4v1.4m0 -1.4v1.4m0 -1.3v1.4m0 -1.2v1.4m0 -1.2v1.4m0 -0.7v1.4m0 -1.4v1.4m0 -1.2v1.4m0 1.5v1.4m0 2.3v1.4m0 -0.5v1.4m0 0.1v1.4m0 3.1v1.4m0 0.6v1.4m0 -0.8v1.4m0 -0.9v1.4m0 -1.3v1.4m0 0.2v1.4m0 -1v1.4m0 -1.1v1.4m0 -1v1.4m0 -1.3v1.4m0 -1.3v1.4m0 -1.4v1.4m0 -1.4v1.4m0 0.5v1.4m0 0.1v1.4m0 -1.2v1.4m0 -0.6v1.4m0 -1.4v1.4m0 -0.7v1.4m0 -1.3v1.4m0 -1.3v1.4m0 -1.1v1.4m0 -0.3v1.4m0 8.8v1.4M226.1 354.6v1.4m0 0.3v1.4m0 2.1v1.4m0 -0.3v1.4m0 -0.5v1.4m0 0.1v1.4m0 -1.1v1.4m0 -0.5v1.4m0 -1.1v1.4m0 -1.3v1.4m0 -1.3v1.4m0 -0v1.4m0 -0.2v1.4m0 -1v1.4m0 -1v1.4m0 -1.1v1.4m0 -1.2v1.4m0 -0.7v1.4m0 0.9v1.4m0 0.4v1.4m0 4.7v1.4m0 2.5v1.4m0 1.8v1.4m0 0.1v1.4m0 -1.3v1.4m0 -0.5v1.4m0 -1.4v1.4m0 -0.8v1.4m0 1.1v1.4m0 -0.3v1.4m0 -1.1v1.4m0 -1.2v1.4m0 -0.6v1.4m0 -1.1v1.4m0 -0.9v1.4m0 -0.1v1.4m0 0.9v1.4m0 2.3v1.4m0 -1.2v1.4m0 3.3v1.4m0 1.4v1.4M231.3 343.4v1.4m0 7.6v1.4m0 -0.9v1.4m0 -0.1v1.4m0 -1.3v1.4m0 1v1.4m0 -1.2v1.4m0 1.7v1.4m0 0.8v1.4m0 -0.4v1.4m0 -1.4v1.4m0 0.4v1.4m0 -0.7v1.4m0 -1.2v1.4m0 0.3v1.4m0 -1.2v1.4m0 -1.2v1.4m0 -0.5v1.4m0 -1.1v1.4m0 -0.9v1.4m0 -0.2v1.4m0 -0.5v1.4m0 2.6v1.4m0 4.1v1.4m0 -1.1v1.4m0 1.8v1.4m0 -1.3v1.4m0 0.1v1.4m0 -0.8v1.4m0 -0.2v1.4m0 -0.2v1.4m0 -0.7v1.4m0 -1.2v1.4m0 -1.3v1.4m0 -1v1.4m0 0.6v1.4m0 -1.3v1.4m0 -1v1.4m0 0.5v1.4m0 -1.2v1.4m0 0v1.4m0 -1.2v1.4m0 -1.1v1.4m0 -1.4v1.4m0 0.3v1.4m0 2.2v1.4M236.5 325.7v1.4m0 26.7v1.4m0 -1.1v1.4m0 -0.4v1.4m0 2v1.4m0 -1.4v1.4m0 1v1.4m0 -1.2v1.4m0 -0.9v1.4m0 -1.4v1.4m0 -0.2v1.4m0 -1.4v1.4m0 -0.7v1.4m0 -1.2v1.4m0 -0.5v1.4m0 -0.9v1.4m0 -1.2v1.4m0 -1v1.4m0 -0.1v1.4m0 -1.1v1.4m0 -0.9v1.4m0 -0.3v1.4m0 -0.5v1.4m0 -0.6v1.4m0 1.5v1.4m0 1.5v1.4m0 -0.7v1.4m0 1.3v1.4m0 3.1v1.4m0 -0.5v1.4m0 1.6v1.4m0 -1.1v1.4m0 0.1v1.4m0 0.1v1.4m0 0v1.4m0 -0.7v1.4m0 -0.8v1.4m0 -1.3v1.4m0 -1.4v1.4m0 -0.5v1.4m0 -0.1v1.4m0 -0.1v1.4m0 0.2v1.4m0 3.8v1.4M241.8 349.6v1.4m0 -0.1v1.4m0 -0.5v1.4m0 -0.4v1.4m0 0.4v1.4m0 2.3v1.4m0 -0.8v1.4m0 0.2v1.4m0 -0.9v1.4m0 -1.4v1.4m0 1.2v1.4m0 -0.9v1.4m0 0.5v1.4m0 -0.4v1.4m0 0v1.4m0 -1v1.4m0 5.9v1.4m0 -0.1v1.4m0 0.2v1.4m0 -1.4v1.4m0 -1.1v1.4m0 -0.4v1.4m0 2.4v1.4m0 0.7v1.4m0 -1.2v1.4m0 -0.7v1.4m0 -0.9v1.4m0 -1.2v1.4m0 -1.1v1.4m0 -1.4v1.4m0 -1v1.4m0 -0.5v1.4m0 -0.8v1.4m0 -1.3v1.4m0 -0.9v1.4m0 -1.3v1.4m0 -0.9v1.4m0 -1v1.4m0 -1.2v1.4m0 -1.3v1.4m0 1.8v1.4m0 1.3v1.4m0 -1v1.4m0 -1v1.4m0 -1.2v1.4m0 2.7v1.4m0 3.1v1.4M247 353.6v1.4m0 -0.8v1.4m0 0.3v1.4m0 1.4v1.4m0 -0.5v1.4m0 -1v1.4m0 0.1v1.4m0 -0.7v1.4m0 0.8v1.4m0 0.3v1.4m0 -0.9v1.4m0 0.4v1.4m0 -1.2v1.4m0 -0.4v1.4m0 2.2v1.4m0 -0.6v1.4m0 -1.2v1.4m0 -0.9v1.4m0 0v1.4m0 -1.4v1.4m0 -0.3v1.4m0 1.3v1.4m0 -0.2v1.4m0 -0.6v1.4m0 -0.4v1.4m0 1.5v1.4m0 -0.9v1.4m0 -1.1v1.4m0 -0.8v1.4m0 -1.3v1.4m0 -1.2v1.4m0 -0.3v1.4m0 -0.3v1.4m0 -0.8v1.4m0 -1.3v1.4m0 -1.1v1.4m0 -1.3v1.4m0 2.9v1.4m0 -0.4v1.4m0 1.9v1.4M252.2 347.6v1.4m0 0.1v1.4m0 2v1.4m0 -0.9v1.4m0 1.8v1.4m0 -0.3v1.4m0 -0.9v1.4m0 -0.6v1.4m0 -1.2v1.4m0 -0.7v1.4m0 -0.6v1.4m0 -1.2v1.4m0 -0.8v1.4m0 -1.3v1.4m0 -0.6v1.4m0 -0.6v1.4m0 -0.2v1.4m0 0.6v1.4m0 -0.9v1.4m0 -1.3v1.4m0 1.7v1.4m0 -1.3v1.4m0 -1.3v1.4m0 2.4v1.4m0 0.5v1.4m0 1.3v1.4m0 1.8v1.4m0 1.2v1.4m0 -1.2v1.4m0 -1.4v1.4m0 -1v1.4m0 -0.9v1.4m0 -0.5v1.4m0 -1.1v1.4m0 -0.4v1.4m0 -1.1v1.4m0 -0.4v1.4m0 -1.1v1.4m0 -0.3v1.4m0 -1.1v1.4m0 0.4v1.4m0 -0.4v1.4m0 -1.3v1.4m0 0.4v1.4m0 -0.6v1.4m0 0.3v1.4m0 -0.8v1.4M257.5 348.5v1.4m0 -0.4v1.4m0 -0.6v1.4m0 -0.2v1.4m0 -1.2v1.4m0 -0.2v1.4m0 -0.4v1.4m0 0.4v1.4m0 -0.6v1.4m0 -0.4v1.4m0 -1.2v1.4m0 -0.4v1.4m0 -1.2v1.4m0 -0.5v1.4m0 -0.1v1.4m0 3.8v1.4m0 0.8v1.4m0 -0.3v1.4m0 -0.7v1.4m0 4v1.4m0 2.3v1.4m0 -0.9v1.4m0 -0.5v1.4m0 -0.6v1.4m0 -0.2v1.4m0 -0.9v1.4m0 -0.9v1.4m0 0.1v1.4m0 -1.2v1.4m0 -0.6v1.4m0 -1v1.4m0 -1.2v1.4m0 -1.2v1.4m0 -1.3v1.4m0 -1.4v1.4m0 -0.9v1.4m0 -1.2v1.4m0 -1v1.4m0 0.2v1.4m0 3.1v1.4M262.7 348.8v1.4m0 1.2v1.4m0 0.5v1.4m0 -0.7v1.4m0 -1v1.4m0 -0.9v1.4m0 -0.3v1.4m0 -0.3v1.4m0 -0.9v1.4m0 -0.5v1.4m0 -1.3v1.4m0 -0.4v1.4m0 -0.6v1.4m0 1.9v1.4m0 1.7v1.4m0 5.3v1.4m0 -0.7v1.4m0 3.2v1.4m0 2.1v1.4m0 1.5v1.4m0 -1.1v1.4m0 -0.9v1.4m0 -0.5v1.4m0 -0.5v1.4m0 -1.2v1.4m0 0.9v1.4m0 -0.6v1.4m0 -1.3v1.4m0 1.7v1.4M267.9 346.2v1.4m0 1.2v1.4m0 -0.9v1.4m0 0.2v1.4m0 0.1v1.4m0 -0.8v1.4m0 -1.1v1.4m0 -0.8v1.4m0 -1.3v1.4m0 -1v1.4m0 -1.1v1.4m0 -1.2v1.4m0 -1.3v1.4m0 -1.3v1.4m0 -1v1.4m0 -1.2v1.4m0 -1.3v1.4m0 -1.2v1.4m0 -0.9v1.4m0 0v1.4m0 -1.2v1.4m0 -1v1.4m0 -0.9v1.4m0 -1.1v1.4m0 -0.9v1.4m0 -0.2v1.4m0 -1.3v1.4m0 1.5v1.4m0 -0.7v1.4m0 -0.4v1.4m0 1.5v1.4m0 0.5v1.4m0 -0.7v1.4m0 -0.9v1.4m0 0.8v1.4m0 -0.2v1.4m0 2.6v1.4m0 0.3v1.4m0 -1v1.4m0 -1.4v1.4m0 -0.9v1.4m0 -1.4v1.4m0 -1v1.4m0 -1.1v1.4m0 -1.3v1.4m0 -1.1v1.4m0 -1.4v1.4m0 -1.2v1.4m0 -1.3v1.4m0 -1.4v1.4m0 -1.3v1.4m0 0.6v1.4m0 -1.2v1.4m0 0.6v1.4m0 -0.9v1.4m0 -0.1v1.4m0 -0.9v1.4m0 -0.9v1.4m0 -0.8v1.4m0 0.8v1.4m0 2.7v1.4M273.1 346.8v1.4m0 -1.3v1.4m0 -0.7v1.4m0 -0.7v1.4m0 1.4v1.4m0 -1v1.4m0 -1.2v1.4m0 -0.7v1.4m0 -0.3v1.4m0 -0.3v1.4m0 -0.6v1.4m0 -1.2v1.4m0 -0.8v1.4m0 -1.4v1.4m0 -0.7v1.4m0 0.3v1.4m0 -1.3v1.4m0 1.4v1.4m0 0v1.4m0 2v1.4m0 -0.1v1.4m0 -0.9v1.4m0 1.1v1.4m0 8.3v1.4m0 -1.4v1.4m0 0v1.4m0 -0.6v1.4m0 -1.2v1.4m0 -0.7v1.4m0 -1.1v1.4m0 -0.6v1.4m0 -1.2v1.4m0 -1.2v1.4m0 -0.4v1.4m0 -1v1.4m0 -0.6v1.4m0 -1.3v1.4m0 -0.4v1.4m0 -0.1v1.4m0 -0.5v1.4m0 -0.6v1.4m0 -0.7v1.4m0 -1.2v1.4m0 1.9v1.4M278.4 346.6v1.4m0 -0.3v1.4m0 -0.7v1.4m0 -0.3v1.4m0 0.5v1.4m0 -0.5v1.4m0 -0.9v1.4m0 -1.1v1.4m0 -0.4v1.4m0 -1.1v1.4m0 -1.2v1.4m0 -1.3v1.4m0 -0.6v1.4m0 1.7v1.4m0 -1.3v1.4m0 1.2v1.4m0 0.5v1.4m0 3.1v1.4m0 -0.8v1.4m0 -0.2v1.4m0 1.8v1.4m0 3.4v1.4m0 0.1v1.4m0 -1.1v1.4m0 1.2v1.4m0 -1.2v1.4m0 -1.3v1.4m0 -0.9v1.4m0 -1.2v1.4m0 0.8v1.4m0 0.1v1.4m0 -0.8v1.4m0 -0.3v1.4m0 -1.2v1.4m0 -0.9v1.4m0 -1v1.4m0 -1.3v1.4m0 -1.1v1.4m0 -0.4v1.4m0 4.2v1.4M283.6 339.1v1.4m0 0.8v1.4m0 2.5v1.4m0 -0.6v1.4m0 1.8v1.4m0 -1.4v1.4m0 -1.4v1.4m0 -1.4v1.4m0 -1.4v1.4m0 -0.2v1.4m0 1.5v1.4m0 0.7v1.4m0 -0.2v1.4m0 -0.7v1.4m0 5.7v1.4m0 2.5v1.4m0 -1.4v1.4m0 5.1v1.4m0 1.7v1.4m0 -1.2v1.4m0 1.6v1.4m0 -1.1v1.4m0 -1.4v1.4m0 -0.6v1.4m0 -0.1v1.4m0 -1v1.4m0 -0.6v1.4m0 2.2v1.4m0 -0.5v1.4m0 1v1.4m0 -1.2v1.4m0 -1.2v1.4m0 1.2v1.4M288.8 338.9v1.4m0 4.9v1.4m0 2.3v1.4m0 -1.2v1.4m0 1.9v1.4m0 3v1.4m0 1v1.4m0 -0v1.4m0 4.1v1.4m0 0.2v1.4m0 6.5v1.4m0 0.9v1.4m0 -1.4v1.4m0 -1v1.4m0 -1v1.4m0 -1.2v1.4m0 -0.2v1.4m0 -0.3v1.4m0 0.4v1.4m0 0.3v1.4m0 -1.2v1.4m0 -1.1v1.4m0 -1.3v1.4m0 1.5v1.4m0 4.1v1.4m0 8.4v1.4M294.1 333.8v1.4m0 4.3v1.4m0 -0.5v1.4m0 2.7v1.4m0 -0.2v1.4m0 -0.9v1.4m0 0.1v1.4m0 -0.2v1.4m0 -1v1.4m0 0.2v1.4m0 -1v1.4m0 -0.9v1.4m0 -0.9v1.4m0 -0.2v1.4m0 -1.3v1.4m0 1.9v1.4m0 4.3v1.4m0 0.5v1.4m0 2.4v1.4m0 5.3v1.4m0 -1v1.4m0 0.7v1.4m0 -0.9v1.4m0 -1.2v1.4m0 0.2v1.4m0 -1.2v1.4m0 0v1.4m0 -1.2v1.4m0 -0.5v1.4m0 -0.2v1.4M299.3 332.1v1.4m0 12.8v1.4m0 -1.1v1.4m0 -0.2v1.4m0 -0.6v1.4m0 0.9v1.4m0 -0.3v1.4m0 0.9v1.4m0 5.5v1.4m0 -0.7v1.4m0 0.8v1.4m0 -0.5v1.4m0 2.5v1.4m0 4.7v1.4m0 6.9v1.4m0 -1v1.4m0 0.1v1.4M304.5 339.7v1.4m0 4.3v1.4m0 -0.9v1.4m0 0.3v1.4m0 6.9v1.4m0 6.7v1.4m0 6.5v1.4m0 0.5v1.4m0 1.4v1.4m0 -1.1v1.4m0 2.4v1.4m0 -1.3v1.4m0 0.2v1.4M309.8 339.2v1.4m0 0.1v1.4m0 2v1.4m0 -0.8v1.4m0 3.1v1.4m0 18.4v1.4m0 4.8v1.4m0 1.5v1.4m0 1.3v1.4M315 345.6v1.4m0 0.1v1.4m0 25.1v1.4m0 2.5v1.4m0 0.3v1.4M320.2 338v1.4m0 21.8v1.4M325.4 348.1v1.4m0 6.7v1.4M330.7 336.5v1.4M335.9 334.3v1.4m0 2.7v1.4M341.1 365.5v1.4m0 13.8v1.4M351.6 339.5v1.4" stroke="#1a70b8" stroke-width="1.4" fill="none"/>
<path d="M131.9 391.2v1.4m0 5.9v1.4m0 1.2v1.4m0 2.4v1.4m0 1.5v1.4m0 0.8v1.4M137.2 390.3v1.4m0 3.7v1.4m0 2.7v1.4m0 3.9v1.4m0 1.3v1.4m0 0.6v1.4M142.4 383.3v1.4m0 6.2v1.4m0 -0.2v1.4m0 -0.1v1.4m0 0.3v1.4m0 0.3v1.4m0 -0.3v1.4m0 -0.9v1.4m0 0.1v1.4m0 0.9v1.4m0 -1.1v1.4m0 -1.4v1.4m0 2.4v1.4m0 -0v1.4M147.6 386v1.4m0 0.7v1.4m0 -0.9v1.4m0 -0.7v1.4m0 -1.4v1.4m0 -1.3v1.4m0 1.6v1.4m0 0.6v1.4m0 -0.2v1.4m0 -1.1v1.4m0 -1.4v1.4m0 0.9v1.4m0 1.1v1.4m0 -0.6v1.4m0 -1.2v1.4m0 -1v1.4m0 0.7v1.4m0 -0.6v1.4m0 -0.5v1.4m0 0.4v1.4m0 -1.3v1.4M152.9 374.9v1.4m0 3.9v1.4m0 -0.6v1.4m0 -0.8v1.4m0 0.1v1.4m0 -0.8v1.4m0 2.4v1.4m0 -1.3v1.4m0 -0.1v1.4m0 -0.9v1.4m0 -1.3v1.4m0 2.1v1.4m0 0.3v1.4m0 -0.2v1.4m0 -0.6v1.4m0 -0.1v1.4m0 -1.3v1.4m0 -1.2v1.4m0 -1v1.4m0 -1.2v1.4m0 -0.4v1.4m0 -1.1v1.4m0 1.7v1.4m0 0.8v1.4M158.1 365.6v1.4m0 14.1v1.4m0 0.2v1.4m0 -0.9v1.4m0 -1v1.4m0 -0.7v1.4m0 -0.9v1.4m0 -0.2v1.4m0 -0.9v1.4m0 -1.4v1.4m0 -1.4v1.4m0 -0.6v1.4m0 -0.9v1.4m0 -0.7v1.4m0 -0.9v1.4m0 -0.4v1.4m0 -0.7v1.4m0 -0.3v1.4m0 -1.1v1.4m0 -0.5v1.4m0 -1.3v1.4m0 -0.3v1.4m0 -1.1v1.4m0 -1.1v1.4m0 -0.7v1.4m0 -0.9v1.4m0 0.7v1.4m0 -0.5v1.4m0 -0.4v1.4m0 0.2v1.4m0 -0.4v1.4m0 0.3v1.4m0 -0.5v1.4m0 -0.3v1.4m0 3.5v1.4m0 -0.4v1.4m0 -0.5v1.4M163.3 379.7v1.4m0 -0.9v1.4m0 -0.6v1.4m0 0.4v1.4m0 -1.2v1.4m0 0v1.4m0 -1.3v1.4m0 -1.3v1.4m0 0.9v1.4m0 0.7v1.4m0 0.2v1.4m0 -0.4v1.4m0 -0.5v1.4m0 0.3v1.4m0 -1.3v1.4m0 -0.9v1.4m0 -0.6v1.4m0 0.6v1.4m0 -0.4v1.4m0 -1.4v1.4m0 0.3v1.4m0 0.2v1.4m0 -1.1v1.4m0 -0.5v1.4m0 0.1v1.4m0 -0.2v1.4m0 0.6v1.4m0 -0.8v1.4M168.5 372.6v1.4m0 2.1v1.4m0 1v1.4m0 0.1v1.4m0 -1.4v1.4m0 0.4v1.4m0 -1.2v1.4m0 2.7v1.4m0 0.7v1.4m0 1.8v1.4m0 -1.2v1.4m0 -0.4v1.4m0 -1.1v1.4m0 -0.5v1.4m0 -1.3v1.4m0 -0.5v1.4m0 -1.4v1.4m0 -0.5v1.4m0 -1.4v1.4m0 -0.4v1.4m0 1.3v1.4m0 -0.3v1.4m0 -1.1v1.4m0 -1.1v1.4m0 6v1.4m0 0.2v1.4M173.8 374.7v1.4m0 2.1v1.4m0 0.1v1.4m0 0.2v1.4m0 0.5v1.4m0 0.1v1.4m0 -0.1v1.4m0 0.1v1.4m0 -1.2v1.4m0 -1.1v1.4m0 -0.4v1.4m0 -0.9v1.4m0 -0.4v1.4m0 -1.1v1.4m0 -1.4v1.4m0 -1.1v1.4m0 -0.9v1.4m0 -1.4v1.4m0 -1.4v1.4m0 -1.1v1.4m0 -0.7v1.4m0 -1.2v1.4m0 -1.4v1.4m0 -1.1v1.4m0 -1.1v1.4m0 -1v1.4m0 -0.7v1.4m0 0v1.4m0 -0v1.4m0 2.6v1.4m0 -0.6v1.4m0 -0.9v1.4m0 -1.4v1.4m0 -0.1v1.4m0 6v1.4M179 375.7v1.4m0 -0.9v1.4m0 -1.2v1.4m0 2.2v1.4m0 -0.9v1.4m0 -0.6v1.4m0 0.2v1.4m0 -1.1v1.4m0 -0.3v1.4m0 -1v1.4m0 0.9v1.4m0 1.2v1.4m0 -0.6v1.4m0 -0.2v1.4m0 -1.2v1.4m0 -1.2v1.4m0 0.5v1.4m0 0.6v1.4m0 -1.3v1.4m0 -1.2v1.4m0 -0.1v1.4m0 -1v1.4m0 -0.5v1.4m0 -1.3v1.4m0 -1.1v1.4m0 -0.2v1.4m0 -0.2v1.4m0 6.1v1.4m0 1.8v1.4M184.2 373.9v1.4m0 -0.9v1.4m0 0.3v1.4m0 -0.2v1.4m0 0.5v1.4m0 -0.1v1.4m0 -0.9v1.4m0 -0.9v1.4m0 -1.2v1.4m0 3v1.4m0 -1.3v1.4m0 -0.4v1.4m0 -1.3v1.4m0 -1v1.4m0 -0.5v1.4m0 -0.4v1.4m0 -1.2v1.4m0 -0.9v1.4m0 -1.3v1.4m0 -0.5v1.4m0 -1.3v1.4m0 -1v1.4m0 -1.1v1.4m0 -0.3v1.4m0 -0.6v1.4m0 -1.2v1.4m0 2.2v1.4m0 -1.1v1.4m0 -1.1v1.4m0 0.4v1.4m0 -0.9v1.4m0 1.6v1.4m0 0.7v1.4m0 -0.8v1.4M189.5 364.3v1.4m0 6.7v1.4m0 0.4v1.4m0 -1.4v1.4m0 0.1v1.4m0 0.9v1.4m0 -0.1v1.4m0 -0.9v1.4m0 -1.1v1.4m0 -1.3v1.4m0 -1.2v1.4m0 -1.1v1.4m0 -0.8v1.4m0 1.6v1.4m0 -1.4v1.4m0 -0.9v1.4m0 -1.3v1.4m0 5.2v1.4m0 -1.1v1.4m0 -0.3v1.4m0 -0.6v1.4m0 1.9v1.4m0 -0.9v1.4m0 -1.2v1.4m0 -1.1v1.4m0 -1.2v1.4m0 0.1v1.4m0 -1.2v1.4m0 0v1.4m0 0.1v1.4m0 -1.3v1.4m0 -1.2v1.4M194.7 366.1v1.4m0 -0.3v1.4m0 -0.3v1.4m0 2.3v1.4m0 -0.7v1.4m0 0.4v1.4m0 -0.8v1.4m0 -0.7v1.4m0 -0.2v1.4m0 -1v1.4m0 -1v1.4m0 -1v1.4m0 0.6v1.4m0 1v1.4m0 -1.2v1.4m0 0v1.4m0 -0.9v1.4m0 -1.4v1.4m0 -1.2v1.4m0 1.4v1.4m0 -0.9v1.4m0 -1.4v1.4m0 -0.3v1.4m0 1.4v1.4m0 -1.4v1.4m0 -1.1v1.4m0 -0.6v1.4m0 -0.9v1.4m0 -1.1v1.4m0 0.3v1.4m0 -0.9v1.4m0 -1.1v1.4m0 -0.8v1.4m0 -1v1.4m0 -1.2v1.4m0 0.1v1.4m0 1.7v1.4M199.9 360.9v1.4m0 2.7v1.4m0 3.1v1.4m0 0.1v1.4m0 -1.1v1.4m0 -0.9v1.4m0 -0.9v1.4m0 -0.5v1.4m0 -1.2v1.4m0 -1.2v1.4m0 0.1v1.4m0 -1.3v1.4m0 -0.9v1.4m0 2.7v1.4m0 -0.2v1.4m0 0.3v1.4m0 -0.6v1.4m0 0.4v1.4m0 -1.2v1.4m0 -0.9v1.4m0 -0.6v1.4m0 -0.6v1.4m0 -0.4v1.4m0 -1.1v1.4m0 -0.8v1.4m0 -1.2v1.4m0 3.7v1.4m0 -1.3v1.4m0 -0.6v1.4m0 -1.3v1.4m0 -0.6v1.4m0 -1v1.4m0 -1.2v1.4m0 -1.1v1.4m0 -1.3v1.4m0 1.5v1.4m0 0.5v1.4M205.2 364.9v1.4m0 2.5v1.4m0 -0.9v1.4m0 -1.4v1.4m0 -0.3v1.4m0 0.1v1.4m0 -1.1v1.4m0 -1.1v1.4m0 -1.2v1.4m0 -0.3v1.4m0 0.4v1.4m0 1.3v1.4m0 -0.6v1.4m0 0.3v1.4m0 -1.2v1.4m0 -1.4v1.4m0 -0.5v1.4m0 -1.2v1.4m0 1.2v1.4m0 -1.3v1.4m0 -0.6v1.4m0 -0.4v1.4m0 -1.3v1.4m0 -1.2v1.4m0 -1.3v1.4m0 -1.2v1.4m0 0.4v1.4m0 0.1v1.4m0 -0.9v1.4m0 1.1v1.4m0 -0.7v1.4m0 -1v1.4m0 -0.8v1.4m0 -0.8v1.4m0 -1.2v1.4m0 1.1v1.4m0 1.9v1.4m0 4.5v1.4M210.4 365.4v1.4m0 -0.2v1.4m0 3.1v1.4m0 -1v1.4m0 -0.8v1.4m0 -1.3v1.4m0 -1.3v1.4m0 -1.4v1.4m0 -1.3v1.4m0 -1.4v1.4m0 -0.8v1.4m0 -0.9v1.4m0 2.9v1.4m0 -0.2v1.4m0 0.3v1.4m0 -1v1.4m0 0.1v1.4m0 -1.1v1.4m0 -0.6v1.4m0 -1.3v1.4m0 -0.9v1.4m0 -1v1.4m0 -0.7v1.4m0 -1.4v1.4m0 -0.7v1.4m0 -0.6v1.4m0 -0.7v1.4m0 1.4v1.4m0 -1.4v1.4m0 0.5v1.4m0 -1.4v1.4m0 -1.2v1.4m0 -1v1.4m0 -0.4v1.4m0 -0.9v1.4m0 -0.7v1.4m0 -1.3v1.4m0 -0.7v1.4m0 0.1v1.4m0 -0.5v1.4m0 -1.3v1.4M215.6 361.5v1.4m0 5.3v1.4m0 -0.6v1.4m0 -1.4v1.4m0 2.5v1.4m0 -1.4v1.4m0 -1.4v1.4m0 -1.3v1.4m0 -1v1.4m0 -0.1v1.4m0 0.5v1.4m0 -0.9v1.4m0 -1.2v1.4m0 -1v1.4m0 -0.1v1.4m0 -1.1v1.4m0 -0.5v1.4m0 -1.2v1.4m0 -0.2v1.4m0 -0.5v1.4m0 -1.2v1.4m0 -1.1v1.4m0 0.3v1.4m0 -1.2v1.4m0 -0.7v1.4m0 0.4v1.4m0 -0.5v1.4m0 -1.3v1.4m0 -1.1v1.4m0 0.9v1.4m0 -1.2v1.4m0 -0.5v1.4m0 -0.7v1.4m0 -1v1.4m0 -1v1.4m0 -1.2v1.4m0 -0.5v1.4m0 -1.4v1.4m0 -1.1v1.4m0 -0.7v1.4M220.8 363.1v1.4m0 0.7v1.4m0 1.3v1.4m0 -1.2v1.4m0 0.6v1.4m0 -0.6v1.4m0 -1.1v1.4m0 0.3v1.4m0 0.7v1.4m0 -0.2v1.4m0 -0.8v1.4m0 -0.1v1.4m0 4.2v1.4m0 -0.4v1.4m0 -1v1.4m0 -1.3v1.4m0 -1.1v1.4m0 2v1.4m0 -0.6v1.4m0 -1.1v1.4m0 -0.7v1.4m0 -1.2v1.4m0 -1.3v1.4m0 -0.8v1.4m0 -1.4v1.4m0 -0.6v1.4m0 0v1.4m0 -0.8v1.4m0 -1v1.4m0 0.5v1.4m0 -0.8v1.4M226.1 366.1v1.4m0 -0.2v1.4m0 -1.2v1.4m0 -1.2v1.4m0 0.1v1.4m0 -1.4v1.4m0 1.9v1.4m0 1.6v1.4m0 1.1v1.4m0 1.6v1.4m0 0.1v1.4m0 -1.4v1.4m0 -0.8v1.4m0 -0.6v1.4m0 -1.2v1.4m0 -0.5v1.4m0 0.6v1.4m0 -0.5v1.4m0 -1.1v1.4m0 -0.5v1.4m0 -1.3v1.4m0 1v1.4m0 -1.3v1.4m0 -0.9v1.4m0 -0.5v1.4m0 -1.1v1.4m0 -1.3v1.4m0 -0.1v1.4m0 0.3v1.4m0 0.6v1.4m0 -1.2v1.4M231.3 354.4v1.4m0 -0.1v1.4m0 8.1v1.4m0 0.3v1.4m0 -1.2v1.4m0 -0.3v1.4m0 -1.3v1.4m0 -1.4v1.4m0 -1.4v1.4m0 -1.4v1.4m0 -1.4v1.4m0 -1.4v1.4m0 -1.2v1.4m0 -0.8v1.4m0 -0.2v1.4m0 5.4v1.4m0 -0.1v1.4m0 0.4v1.4m0 -1.4v1.4m0 -0.3v1.4m0 -1v1.4m0 0.4v1.4m0 -1.3v1.4m0 -0.7v1.4m0 -0.7v1.4m0 -0.9v1.4m0 1.1v1.4m0 -1.2v1.4m0 0.6v1.4m0 -0.1v1.4m0 1v1.4m0 1v1.4M236.5 355.1v1.4m0 0.8v1.4m0 -1.1v1.4m0 0.5v1.4m0 3.3v1.4m0 -1.1v1.4m0 -1.3v1.4m0 0.2v1.4m0 -0.9v1.4m0 -0v1.4m0 -1.1v1.4m0 -1.2v1.4m0 1.1v1.4m0 -0.6v1.4m0 0.7v1.4m0 0.1v1.4m0 -1.2v1.4m0 -0.2v1.4m0 -1.2v1.4m0 0.5v1.4m0 -1.1v1.4m0 -0.6v1.4m0 -0.8v1.4m0 -0.8v1.4m0 -1.1v1.4m0 -0.6v1.4m0 -0.7v1.4m0 -0.6v1.4m0 -1.2v1.4m0 -0.9v1.4m0 1.5v1.4m0 -1.3v1.4m0 -1.3v1.4m0 -0.7v1.4m0 -1.2v1.4m0 0.1v1.4m0 -1.4v1.4m0 -1.3v1.4m0 -1.2v1.4m0 -1.3v1.4m0 0.4v1.4m0 -1.1v1.4m0 0.1v1.4m0 -0v1.4m0 -1.3v1.4m0 0.6v1.4m0 -0.6v1.4M241.8 349.5v1.4m0 1.4v1.4m0 6.3v1.4m0 1.5v1.4m0 -0.2v1.4m0 -1.3v1.4m0 -1.4v1.4m0 -1.4v1.4m0 -0.3v1.4m0 -1.3v1.4m0 0.8v1.4m0 -1.1v1.4m0 1.4v1.4m0 -1v1.4m0 0.4v1.4m0 -0.1v1.4m0 -1.4v1.4m0 -0.9v1.4m0 -0.4v1.4m0 -0.8v1.4m0 -0.5v1.4m0 -0.7v1.4m0 -0.6v1.4m0 0.8v1.4m0 -1.3v1.4m0 -0.1v1.4m0 -1.4v1.4m0 -0.8v1.4m0 -1.2v1.4m0 1.3v1.4m0 -1.3v1.4m0 -1.2v1.4m0 -0.5v1.4m0 -1.1v1.4m0 -1.3v1.4m0 -1.3v1.4m0 -0.4v1.4m0 -1.2v1.4m0 -1.2v1.4m0 2.7v1.4M247 347.6v1.4m0 10.6v1.4m0 0.4v1.4m0 -0.6v1.4m0 -0.6v1.4m0 -0.9v1.4m0 -1v1.4m0 -1.3v1.4m0 -1.3v1.4m0 -0.7v1.4m0 -0.1v1.4m0 5.2v1.4m0 -0.3v1.4m0 -1.2v1.4m0 0.1v1.4m0 -0.3v1.4m0 0.5v1.4m0 -1.3v1.4m0 2.4v1.4m0 -0.4v1.4m0 -0.9v1.4m0 -0.2v1.4m0 -0.7v1.4m0 0.1v1.4m0 -1.3v1.4m0 -0.2v1.4m0 -0.9v1.4m0 -1.2v1.4m0 -1.2v1.4m0 1.7v1.4m0 -0.9v1.4M252.2 347.8v1.4m0 1.4v1.4m0 6v1.4m0 -0.3v1.4m0 -1.3v1.4m0 -0.4v1.4m0 -1.2v1.4m0 1.6v1.4m0 -1.2v1.4m0 -1.1v1.4m0 -0.7v1.4m0 -0.6v1.4m0 2.2v1.4m0 -0.8v1.4m0 -0.5v1.4m0 -0.4v1.4m0 -0.8v1.4m0 -1v1.4m0 -0.9v1.4m0 -0.8v1.4m0 -0.1v1.4m0 0.8v1.4m0 1.9v1.4m0 -1v1.4m0 -1.1v1.4m0 1.4v1.4m0 -0.1v1.4m0 -0.8v1.4m0 -1v1.4m0 1.9v1.4m0 0.2v1.4m0 11v1.4M257.5 356.5v1.4m0 -1.1v1.4m0 -1.3v1.4m0 -1v1.4m0 -0.6v1.4m0 -0.4v1.4m0 -1.3v1.4m0 -0.1v1.4m0 -0.8v1.4m0 -0.8v1.4m0 -0.8v1.4m0 -1v1.4m0 -1.3v1.4m0 0.1v1.4m0 0.2v1.4m0 0.8v1.4m0 -0v1.4m0 -0.3v1.4m0 0.6v1.4m0 -1.3v1.4m0 -1.2v1.4m0 -0.6v1.4m0 -0.3v1.4m0 -0.6v1.4m0 -1v1.4m0 -0.8v1.4m0 -1.3v1.4m0 -1.2v1.4m0 -0.6v1.4m0 -0.4v1.4m0 -0.8v1.4m0 -1.4v1.4m0 -0.5v1.4m0 -0.8v1.4m0 0.2v1.4m0 -0.1v1.4m0 1.4v1.4m0 0.1v1.4m0 0.6v1.4m0 3.9v1.4M262.7 348.9v1.4m0 -0.1v1.4m0 0.7v1.4m0 2.2v1.4m0 -0.9v1.4m0 -1v1.4m0 -1.3v1.4m0 -1v1.4m0 0.8v1.4m0 -0.8v1.4m0 -0.9v1.4m0 -0.2v1.4m0 1.3v1.4m0 -0.6v1.4m0 -1.1v1.4m0 0.4v1.4m0 -0.3v1.4m0 -0.6v1.4m0 0.4v1.4m0 -1.3v1.4m0 -0v1.4m0 -0.2v1.4m0 -1.1v1.4m0 -1v1.4m0 -0.3v1.4m0 0v1.4m0 -1.2v1.4m0 0.7v1.4m0 -1.2v1.4m0 2v1.4m0 -1.1v1.4m0 -1v1.4m0 -1.1v1.4m0 -0.9v1.4m0 -1.2v1.4m0 -1.3v1.4m0 0.9v1.4m0 -0.6v1.4m0 1.9v1.4m0 8v1.4M267.9 348.5v1.4m0 1.6v1.4m0 -1v1.4m0 -0.9v1.4m0 -1.3v1.4m0 -1.4v1.4m0 2.7v1.4m0 -0.6v1.4m0 -0.9v1.4m0 0.2v1.4m0 -0.8v1.4m0 -1.4v1.4m0 1.2v1.4m0 -0.2v1.4m0 -0.4v1.4m0 -1.3v1.4m0 -0.4v1.4m0 0.8v1.4m0 0.2v1.4m0 -1.1v1.4m0 -1v1.4m0 -1v1.4m0 1.9v1.4m0 5.6v1.4m0 -1.1v1.4m0 -1.2v1.4m0 0.1v1.4m0 -1v1.4m0 -1v1.4m0 2.1v1.4M273.1 349.6v1.4m0 1v1.4m0 -1v1.4m0 -0.7v1.4m0 -1.4v1.4m0 -1.4v1.4m0 -0.6v1.4m0 -0.6v1.4m0 -1.4v1.4m0 -1.1v1.4m0 4.1v1.4m0 0.2v1.4m0 -0.3v1.4m0 -1.2v1.4m0 0.4v1.4m0 -0v1.4m0 0.2v1.4m0 -0.7v1.4m0 -1.3v1.4m0 -1.2v1.4m0 -0.9v1.4m0 -0.7v1.4m0 1.4v1.4m0 -0.8v1.4m0 -1.4v1.4m0 0.1v1.4m0 -0.9v1.4m0 2.6v1.4m0 -1.3v1.4m0 -1.1v1.4m0 -1v1.4m0 -1.1v1.4m0 -0.4v1.4m0 -1.1v1.4m0 -0.5v1.4m0 0.5v1.4m0 1.7v1.4m0 -0.8v1.4M278.4 346.8v1.4m0 0.8v1.4m0 2.4v1.4m0 -0.3v1.4m0 -1.3v1.4m0 0v1.4m0 -1.3v1.4m0 -1.2v1.4m0 -1v1.4m0 -0.5v1.4m0 -1.2v1.4m0 -0.6v1.4m0 -1.2v1.4m0 -1.3v1.4m0 1.8v1.4m0 -0.9v1.4m0 1.9v1.4m0 -1v1.4m0 -0.7v1.4m0 1v1.4m0 -0v1.4m0 0v1.4m0 1.1v1.4m0 0.6v1.4m0 -0.2v1.4m0 -0.3v1.4m0 -0.8v1.4m0 -1.3v1.4m0 -0.7v1.4m0 0.7v1.4m0 -0.8v1.4m0 0.2v1.4m0 -0.6v1.4M283.6 343.7v1.4m0 4.8v1.4m0 1.7v1.4m0 1.2v1.4m0 -0.3v1.4m0 -1.2v1.4m0 -0.7v1.4m0 1.2v1.4m0 -0.1v1.4m0 -0.8v1.4m0 -0.6v1.4m0 -1.4v1.4m0 3.8v1.4m0 -0v1.4m0 -1.3v1.4m0 -0.8v1.4m0 0.3v1.4m0 -0.8v1.4m0 4v1.4m0 1.1v1.4m0 -0.4v1.4m0 -1.1v1.4m0 -1v1.4m0 -0.3v1.4m0 0.7v1.4m0 3.3v1.4M288.8 341.6v1.4m0 0.2v1.4m0 0.3v1.4m0 -0.1v1.4m0 0.9v1.4m0 0.4v1.4m0 -1.1v1.4m0 -0.2v1.4m0 -0.2v1.4m0 1v1.4m0 -0.4v1.4m0 0.4v1.4m0 -0.2v1.4m0 1.6v1.4m0 -0.1v1.4m0 -1v1.4m0 -0.9v1.4m0 -1.4v1.4m0 -0.7v1.4m0 -0.1v1.4m0 -0.7v1.4m0 -0.7v1.4m0 -1.3v1.4m0 -1.2v1.4m0 0.8v1.4m0 2.3v1.4m0 1.7v1.4m0 -1.4v1.4m0 -1.2v1.4m0 -1.2v1.4m0 1.1v1.4m0 -1.3v1.4m0 1.1v1.4M294.1 340.9v1.4m0 0.4v1.4m0 4.9v1.4m0 -0.2v1.4m0 1.1v1.4m0 -0.6v1.4m0 -0.9v1.4m0 3.8v1.4m0 -0.2v1.4m0 0.7v1.4m0 -0.6v1.4m0 -0.8v1.4m0 -0.7v1.4m0 1v1.4m0 -0.7v1.4m0 -0.2v1.4m0 -0.8v1.4m0 -0.2v1.4m0 -0.6v1.4m0 -0.8v1.4m0 3v1.4m0 -0.8v1.4m0 0.2v1.4m0 -0.3v1.4m0 -1.2v1.4m0 -1.2v1.4m0 2.7v1.4M299.3 340.1v1.4m0 6v1.4m0 1.9v1.4m0 -1.2v1.4m0 2.4v1.4m0 2.7v1.4m0 -0.5v1.4m0 2.3v1.4m0 3.1v1.4m0 -1.1v1.4m0 1v1.4m0 0v1.4m0 -0.3v1.4m0 0.3v1.4m0 -1.4v1.4m0 -1.3v1.4m0 -1.1v1.4m0 0.6v1.4m0 0.3v1.4m0 -0.3v1.4m0 2.5v1.4M304.5 343.6v1.4m0 -0.1v1.4m0 0.3v1.4m0 1.7v1.4m0 -0.8v1.4m0 -1.2v1.4m0 -1.3v1.4m0 1.4v1.4m0 -0.3v1.4m0 10.3v1.4m0 5v1.4m0 -0.3v1.4m0 1v1.4m0 -1.2v1.4m0 -1.2v1.4m0 1.3v1.4m0 1.8v1.4M309.8 340.9v1.4m0 3.2v1.4m0 1.7v1.4m0 18.2v1.4m0 -0v1.4m0 -0.7v1.4m0 -1.1v1.4m0 2.8v1.4M315 338.8v1.4m0 0.3v1.4m0 0v1.4m0 3.5v1.4m0 -0.5v1.4m0 -0.9v1.4m0 0.6v1.4m0 0.4v1.4m0 1.3v1.4m0 -0.5v1.4m0 1.6v1.4m0 2.7v1.4m0 7.7v1.4M320.2 346.6v1.4m0 7.5v1.4m0 2.9v1.4m0 0.6v1.4m0 2.2v1.4M325.4 343.5v1.4m0 25.4v1.4M330.7 340.2v1.4m0 7.2v1.4M335.9 349.2v1.4m0 16.5v1.4M341.1 360.2v1.4" stroke="#0a4890" stroke-width="1.4" fill="none"/>
<path d="M142.4 379l41.8 -8.4M168.5 408.6l15.7 -3.1M184.2 410.5l20.9 -4.2M257.5 358.3l31.4 -6.3M179 372.1l31.4 -6.3M236.5 383.9l26.2 -5.2M278.4 386.6l26.2 -5.2M210.4 381l15.7 -3.1M168.5 379.7l47.1 -9.4M194.7 366.4l31.4 -6.3M220.8 393.8l36.6 -7.4M278.4 334.8l41.8 -8.4M147.6 388.3l36.6 -7.3M194.7 404.6l41.8 -8.4M220.8 374.1l15.7 -3.2M199.9 400.6l36.6 -7.4M147.6 381.2l20.9 -4.2M194.7 396l41.8 -8.4M173.8 408.1l41.8 -8.4M199.9 372l41.8 -8.4M163.3 414.9l26.2 -5.2M131.9 412l31.4 -6.3M152.9 386.9l36.6 -7.3M252.2 368.6l31.4 -6.3M205.2 374.4l36.6 -7.4M205.2 360.5l41.8 -8.4M137.2 391.4l31.4 -6.3M299.3 378.4l41.8 -8.4M152.9 415.1l41.8 -8.4M236.5 394.9l41.8 -8.4M184.2 376.1l15.7 -3.1M231.3 365.3l15.7 -3.1M131.9 412.1l31.4 -6.3M137.2 379.6l20.9 -4.2M158.1 372l41.8 -8.4M257.5 358.4l31.4 -6.3M252.2 391.6l41.8 -8.4M210.4 355.8l41.8 -8.4M252.2 355.3l41.8 -8.4M179 375.5l31.4 -6.3M147.6 391l41.8 -8.4M152.9 381l41.8 -8.4M215.6 407.6l41.8 -8.4M257.5 381.4l41.8 -8.4M158.1 411.7l41.8 -8.4M147.6 407.7l41.8 -8.4M278.4 384.2l10.5 -2.1M194.7 380.1l15.7 -3.2M194.7 361.6l31.4 -6.3M137.2 398.3l36.6 -7.3M131.9 383.1l41.8 -8.4M231.3 355.8l47.1 -9.4M236.5 387.9l47.1 -9.4M278.4 389.8l10.5 -2.1M131.9 387.9l10.5 -2.1M179 400.1l36.6 -7.3M205.2 370.8l10.5 -2.1M267.9 356.4l41.8 -8.4M247 363.3l41.8 -8.4M142.4 380.4l36.6 -7.4M273.1 370.9l31.4 -6.3M142.4 411.2l36.6 -7.3M267.9 338l41.8 -8.4M257.5 399.9l26.1 -5.2M137.2 408.7l36.6 -7.3M226.1 352.4l15.7 -3.1M267.9 386.5l15.7 -3.2M179 369.1l26.2 -5.2M241.8 363.6l41.8 -8.4M137.2 410.3l31.4 -6.3" stroke="#86c8ee" stroke-width="0.6" fill="none"/>
<path d="M220.8 389l20.9 -4.2M163.3 397.2l31.4 -6.3M262.7 356.5l31.4 -6.3M184.2 383.8l31.4 -6.3M241.8 353.5l31.4 -6.3M158.1 402.6l15.7 -3.1M241.8 385.8l31.4 -6.3M205.2 364.9l47.1 -9.5M142.4 408l15.7 -3.1M184.2 364.9l31.4 -6.3M210.4 395.1l47.1 -9.4M257.5 391.5l31.4 -6.3M137.2 400.8l36.6 -7.3M278.4 342.1l26.2 -5.3M131.9 393.4l20.9 -4.2M267.9 356.5l31.4 -6.3M215.6 395.3l36.6 -7.4M215.6 388.9l41.8 -8.4M205.2 395.4l47.1 -9.5M179 381.9l10.5 -2.1M205.2 392.3l31.4 -6.3M163.3 392.1l26.2 -5.2M184.2 378.7l31.4 -6.3M210.4 372.8l31.4 -6.3M257.5 361.2l41.8 -8.4M236.5 397.7l10.5 -2.1M189.5 400.7l41.8 -8.4M231.3 361.6l41.8 -8.4M267.9 357.6l31.4 -6.3M199.9 393.5l26.2 -5.2M184.2 368.7l41.8 -8.4M194.7 395.4l15.7 -3.1M173.8 376.1l41.8 -8.4M184.2 366.3l15.7 -3.1M194.7 380.6l31.4 -6.3M231.3 368.7l41.8 -8.4M194.7 374l41.8 -8.4M137.2 412.7l20.9 -4.2M142.4 384.5l31.4 -6.3M137.2 418.1l41.8 -8.4M267.9 385.8l15.7 -3.2M257.5 361.4l20.9 -4.2M210.4 393.6l31.4 -6.3M273.1 376.5l41.8 -8.4M273.1 380.6l15.7 -3.2M199.9 378.4l31.4 -6.3M247 375.5l47.1 -9.4M262.7 361.3l36.6 -7.3M252.2 387.1l10.5 -2.1M210.4 390.2l31.4 -6.3M147.6 403.7l47.1 -9.4M131.9 397.8l41.8 -8.4M226.1 351.5l31.4 -6.3M205.2 396.7l26.1 -5.2M199.9 377.7l31.4 -6.3M184.2 395.5l47.1 -9.5M236.5 370.1l41.8 -8.4M163.3 400.2l36.6 -7.3M236.5 395.8l10.5 -2.1M194.7 390.5l41.8 -8.4M241.8 370.9l26.2 -5.2M231.3 370.7l41.8 -8.4M137.2 411.4l36.6 -7.3M231.3 373.6l41.8 -8.4M168.5 399.9l15.7 -3.1M147.6 385.9l41.8 -8.4M247 361.5l31.4 -6.3M142.4 403.1l26.2 -5.2M152.9 400.4l41.8 -8.4M179 402.3l31.4 -6.3M247 361.7l36.6 -7.4M220.8 369.5l31.4 -6.3M184.2 400.5l31.4 -6.3M220.8 390.7l41.8 -8.4M210.4 400.9l15.7 -3.2M273.1 353l36.6 -7.4M152.9 411.5l26.1 -5.2M158.1 389.4l20.9 -4.2M241.8 359.5l31.4 -6.3M152.9 388.4l41.8 -8.4M262.7 363.8l31.4 -6.3M142.4 386.6l36.6 -7.4M241.8 389.8l10.5 -2.1M231.3 364l36.6 -7.4M231.3 378.7l20.9 -4.2M241.8 366.9l10.5 -2.1M215.6 387.3l36.6 -7.3M147.6 389.3l41.8 -8.4M173.8 385.3l31.4 -6.3M199.9 389.3l15.7 -3.2M267.9 368.6l10.5 -2.1M226.1 403.2l41.8 -8.4M226.1 359.8l20.9 -4.2M147.6 392.1l20.9 -4.2M236.5 367.1l26.2 -5.2M158.1 398.5l26.2 -5.2M257.5 361.9l47.1 -9.4M158.1 383.2l15.7 -3.2M163.3 402.6l36.6 -7.4M273.1 352.4l41.8 -8.4M236.5 383.7l36.6 -7.3M142.4 397.7l36.6 -7.3M179 374.4l26.2 -5.2M194.7 393.1l10.5 -2.1M137.2 404l41.8 -8.4M252.2 387.7l47.1 -9.4M210.4 358.1l31.4 -6.3M241.8 369.1l20.9 -4.2M231.3 358.3l41.8 -8.4M163.3 387.7l47.1 -9.4M247 368.1l10.5 -2.1M252.2 391.9l36.6 -7.4M199.9 374.2l36.6 -7.3M294.1 355.5l52.3 -10.5M189.5 377.9l26.1 -5.2M257.5 363.7l26.1 -5.2M142.4 404l26.2 -5.2M168.5 396.2l36.6 -7.3M205.2 391.9l10.5 -2.1M215.6 389.9l15.7 -3.2M194.7 376.1l41.8 -8.4M267.9 378.6l36.6 -7.4M257.5 381.5l41.8 -8.4M267.9 387.1l20.9 -4.2M189.5 391.4l41.8 -8.4M205.2 394l41.8 -8.4M273.1 381.4l41.8 -8.4M205.2 372l41.8 -8.4M152.9 412.5l20.9 -4.2M220.8 394.6l41.8 -8.4M241.8 395.3l47.1 -9.5M194.7 360.9l36.6 -7.4M252.2 382.2l41.8 -8.4M210.4 383.1l15.7 -3.1M299.3 374.3l31.4 -6.3M236.5 361l41.8 -8.4M267.9 387.7l26.2 -5.2M194.7 382.5l10.5 -2.1M257.5 379.8l31.4 -6.3M147.6 394.5l20.9 -4.2M131.9 410.9l36.6 -7.4M199.9 365.9l15.7 -3.1M278.4 378.2l41.8 -8.4M179 413.2l36.6 -7.4M163.3 409.3l31.4 -6.3M152.9 376.9l36.6 -7.3M152.9 392l31.4 -6.3M205.2 398.3l36.6 -7.4M205.2 377.5l41.8 -8.4M184.2 379l20.9 -4.2M194.7 375.1l31.4 -6.3M257.5 348.2l36.6 -7.4M168.5 387.1l26.1 -5.2M189.5 383.8l15.7 -3.1M158.1 390.2l41.8 -8.4M152.9 407.7l41.8 -8.4M147.6 389.8l15.7 -3.1M236.5 359l31.4 -6.3M158.1 383.7l36.6 -7.3M173.8 392.8l31.4 -6.3M236.5 381.3l41.8 -8.4M173.8 398l41.8 -8.4M252.2 386.1l31.4 -6.3M152.9 402.2l41.8 -8.4M241.8 379.9l31.4 -6.3M173.8 374.4l36.6 -7.3M137.2 398.3l47.1 -9.4M262.7 366.1l36.6 -7.3M179 388.7l41.8 -8.4M215.6 369.1l10.5 -2.1M199.9 397l47.1 -9.4M226.1 383.8l41.8 -8.4M184.2 401.1l41.8 -8.4M158.1 404.6l36.6 -7.4M194.7 392.2l15.7 -3.1M147.6 387.1l10.5 -2.1M247 389.3l41.8 -8.4M205.2 391.6l36.6 -7.4M273.1 371.2l41.8 -8.4M231.3 391l10.5 -2.1M226.1 365.9l20.9 -4.2M247 364.3l26.1 -5.2M278.4 357.3l26.2 -5.2M142.4 409l31.4 -6.3M236.5 375.1l31.4 -6.3M273.1 353.2l10.5 -2.1M252.2 386.8l31.4 -6.3M131.9 391.5l31.4 -6.3M147.6 391.6l36.6 -7.3M267.9 355.8l31.4 -6.3M163.3 386.8l41.8 -8.4M131.9 407.7l41.8 -8.4" stroke="#2e8ed2" stroke-width="0.6" fill="none"/>
<path d="M163.3 386.1l41.8 -8.4M173.8 394.3l26.2 -5.2M215.6 381.3l31.4 -6.3M194.7 381.9l20.9 -4.2M257.5 376.8l41.8 -8.4M231.3 375.2l20.9 -4.2M267.9 384.5l36.6 -7.4M147.6 391.3l15.7 -3.2M152.9 399.6l36.6 -7.4M247 365.7l41.8 -8.4M220.8 371.2l10.5 -2.1M194.7 386.6l31.4 -6.3M131.9 404.1l31.4 -6.3M215.6 372l31.4 -6.3M168.5 392.1l41.8 -8.4M173.8 401.4l15.7 -3.2M137.2 404.4l26.1 -5.2M231.3 390.4l41.8 -8.4M184.2 386.8l10.5 -2.1M220.8 375.2l36.6 -7.3M163.3 387.2l47.1 -9.4M142.4 394.4l10.5 -2.1M147.6 393.7l41.8 -8.4M199.9 395l26.2 -5.2M273.1 373.2l31.4 -6.3M267.9 378.4l26.2 -5.2M194.7 403.8l47.1 -9.5M199.9 400.9l47.1 -9.4M231.3 372.7l47.1 -9.4M184.2 380.5l41.8 -8.4M220.8 383.4l10.5 -2.1M236.5 368.5l26.2 -5.2M231.3 365.2l26.2 -5.2M205.2 383.3l41.8 -8.4M179 397.3l31.4 -6.3M252.2 363.6l15.7 -3.1M189.5 390.4l36.6 -7.3M220.8 376.5l41.8 -8.4M262.7 381.5l36.6 -7.4M278.4 356.4l10.5 -2.1M173.8 389.5l10.5 -2.1M173.8 389.8l31.4 -6.3M257.5 371.2l26.1 -5.2M173.8 400.7l41.8 -8.4M262.7 387l36.6 -7.3M226.1 386.7l26.2 -5.2M267.9 379.7l41.8 -8.4M137.2 403.3l26.1 -5.2M168.5 392.6l20.9 -4.2M158.1 409.1l41.8 -8.4M163.3 384.6l36.6 -7.3M257.5 359.4l47.1 -9.5M189.5 398.5l47.1 -9.4M137.2 384.1l41.8 -8.4M173.8 388l41.8 -8.4M184.2 399.3l20.9 -4.2M131.9 406.5l31.4 -6.3M152.9 399.9l41.8 -8.4M231.3 386.5l47.1 -9.4M247 389.5l31.4 -6.3M163.3 393.7l31.4 -6.3M210.4 387.9l31.4 -6.3M131.9 402.8l15.7 -3.1M179 393.6l36.6 -7.3M267.9 375.9l41.8 -8.4M262.7 370l15.7 -3.1M231.3 372.7l31.4 -6.3M252.2 379.3l20.9 -4.2M131.9 403.9l41.8 -8.4M194.7 396.1l41.8 -8.4M194.7 385.7l47.1 -9.4M257.5 380.4l31.4 -6.3M194.7 378.7l36.6 -7.4M158.1 387.6l10.5 -2.1M241.8 383.4l31.4 -6.3M226.1 388l20.9 -4.2M158.1 399.3l41.8 -8.4M226.1 394.5l41.8 -8.4M189.5 390.4l31.4 -6.3M257.5 386.5l36.6 -7.3M220.8 388.3l15.7 -3.2M236.5 396.5l15.7 -3.2M189.5 381.6l31.4 -6.3M247 384.1l41.8 -8.4M199.9 385.8l36.6 -7.4M247 363.8l36.6 -7.3M257.5 367.7l15.7 -3.2M262.7 346.4l41.8 -8.4M262.7 374.2l10.5 -2.1M179 403.7l26.2 -5.2M152.9 395.2l41.8 -8.4M147.6 403.6l41.8 -8.4M226.1 371.3l41.8 -8.4M194.7 374.9l31.4 -6.3M278.4 369.3l41.8 -8.4M267.9 375.4l41.8 -8.4M267.9 360.6l31.4 -6.3M262.7 386.2l15.7 -3.2M173.8 397.8l26.2 -5.2M137.2 391.4l47.1 -9.4M205.2 380.5l20.9 -4.2M158.1 399.3l47.1 -9.4M252.2 366.5l36.6 -7.3M226.1 375.1l41.8 -8.4M205.2 379.3l26.1 -5.2M267.9 374.5l31.4 -6.3M158.1 396.3l41.8 -8.4M267.9 368.3l41.8 -8.4M189.5 389.1l26.1 -5.2M147.6 398.9l10.5 -2.1M231.3 392.8l47.1 -9.4M278.4 379l41.8 -8.4M226.1 388.8l41.8 -8.4M173.8 377.7l10.5 -2.1M152.9 406.6l36.6 -7.3M194.7 368.4l36.6 -7.3M205.2 383l41.8 -8.4M262.7 377.1l10.5 -2.1M210.4 393.3l31.4 -6.3M152.9 385.4l36.6 -7.3M267.9 361.7l41.8 -8.4M152.9 385.2l31.4 -6.3M278.4 357.4l26.2 -5.2M210.4 391.8l15.7 -3.1M231.3 380l10.5 -2.1M147.6 397.7l41.8 -8.4M194.7 387.7l26.2 -5.2M231.3 394.3l36.6 -7.4M184.2 395.4l20.9 -4.2M278.4 378.9l31.4 -6.3M152.9 389.2l36.6 -7.3M215.6 375.2l31.4 -6.3M236.5 379.7l41.8 -8.4M267.9 373l31.4 -6.3M257.5 385l41.8 -8.4M147.6 388.5l20.9 -4.2M267.9 368.9l41.8 -8.4M241.8 379l41.8 -8.4M262.7 382.2l31.4 -6.3M173.8 396.3l31.4 -6.3M220.8 389.7l36.6 -7.4M273.1 355.6l36.6 -7.3M267.9 369.1l10.5 -2.1M231.3 393.8l31.4 -6.3M215.6 386l47.1 -9.4M278.4 360.8l10.5 -2.1M179 400.3l36.6 -7.4M241.8 379.8l41.8 -8.4M215.6 391.7l41.8 -8.4M158.1 395.9l31.4 -6.3M267.9 349.2l41.8 -8.4M163.3 389.4l41.8 -8.4M226.1 390.5l47.1 -9.4M226.1 379.6l36.6 -7.3M215.6 386.5l41.8 -8.4M168.5 387.6l36.6 -7.4M236.5 360.5l15.7 -3.1M262.7 368.5l10.5 -2.1M252.2 361.1l15.7 -3.2M152.9 381.8l36.6 -7.3M142.4 395.4l41.8 -8.4M189.5 375.2l36.6 -7.4M137.2 394.5l41.8 -8.4M179 375.9l26.2 -5.2M231.3 383.5l41.8 -8.4M152.9 405.5l41.8 -8.4M257.5 365.6l20.9 -4.2M210.4 372.2l20.9 -4.2M241.8 379.4l41.8 -8.4M241.8 397.4l47.1 -9.4M131.9 397.9l31.4 -6.3M252.2 364.5l41.8 -8.4M205.2 393.9l20.9 -4.2M131.9 402.2l31.4 -6.3M257.5 364.6l41.8 -8.4M194.7 396.5l31.4 -6.3M236.5 367l41.8 -8.4M173.8 383.2l36.6 -7.4M179 374.2l41.8 -8.4M173.8 392.2l41.8 -8.4M131.9 398.2l31.4 -6.3M173.8 400.3l26.2 -5.2M215.6 396.5l41.8 -8.4M137.2 394.8l36.6 -7.4M199.9 393l36.6 -7.3M210.4 395.8l31.4 -6.3M194.7 379.1l41.8 -8.4M210.4 377.1l15.7 -3.1M226.1 387.8l20.9 -4.2M236.5 384l36.6 -7.3M252.2 369.5l20.9 -4.2M273.1 371.7l47.1 -9.4M163.3 398.8l41.8 -8.4M131.9 392.1l20.9 -4.2M231.3 369.3l20.9 -4.2M142.4 395.3l41.8 -8.4M210.4 374l20.9 -4.2M205.2 391.2l36.6 -7.3M194.7 378.5l41.8 -8.4M231.3 365.2l15.7 -3.2M215.6 368.4l41.8 -8.4M247 386.5l41.8 -8.4M131.9 412.5l31.4 -6.3M189.5 394.5l36.6 -7.3M189.5 401l41.8 -8.4M304.5 372.8l31.4 -6.3M257.5 366.9l47.1 -9.4M205.2 377.7l26.1 -5.2M231.3 393.2l31.4 -6.3M152.9 390.8l41.8 -8.4M189.5 399.1l31.4 -6.3M163.3 399.6l26.2 -5.2M215.6 396.8l41.8 -8.4M262.7 383.8l41.8 -8.4M267.9 373.8l47.1 -9.5M199.9 382.9l31.4 -6.3M163.3 388.6l31.4 -6.3M163.3 404.2l36.6 -7.4M152.9 395.5l36.6 -7.3M220.8 368l20.9 -4.2M226.1 388.4l47.1 -9.4M226.1 382.6l41.8 -8.4M278.4 366.2l41.8 -8.4M231.3 385.3l41.8 -8.4M158.1 384.4l31.4 -6.3M294.1 351l41.8 -8.4M210.4 390.5l47.1 -9.4M205.2 391.5l36.6 -7.4M163.3 391.2l31.4 -6.3M252.2 362.5l36.6 -7.3M267.9 372l36.6 -7.4M273.1 391.7l10.5 -2.1M142.4 406.8l47.1 -9.4M168.5 392.5l41.8 -8.4M194.7 388.8l26.2 -5.2M278.4 350.2l41.8 -8.4M184.2 387l10.5 -2.1M163.3 395.7l31.4 -6.3M252.2 372l41.8 -8.4M210.4 377.6l26.2 -5.2M236.5 375.8l31.4 -6.3M173.8 390.9l31.4 -6.3M210.4 372.7l41.8 -8.4M184.2 384.7l15.7 -3.1M199.9 387.4l36.6 -7.4M199.9 373.8l41.8 -8.4M252.2 365.5l47.1 -9.5M205.2 383l20.9 -4.2M158.1 396.2l20.9 -4.2M210.4 355.8l41.8 -8.4M189.5 380.7l47.1 -9.4M226.1 376.1l36.6 -7.3M252.2 372.2l41.8 -8.4M210.4 402.4l31.4 -6.3M194.7 388.5l47.1 -9.4M262.7 390.8l41.8 -8.4M241.8 389.1l15.7 -3.2M194.7 392.1l31.4 -6.3M278.4 384.9l10.5 -2.1M158.1 392l31.4 -6.3M173.8 395.9l41.8 -8.4M278.4 372.2l41.8 -8.4M226.1 361.8l47.1 -9.5M215.6 386.9l20.9 -4.2M184.2 382.2l36.6 -7.4M199.9 384.9l31.4 -6.3M215.6 387.4l47.1 -9.4M163.3 385.3l41.8 -8.4M163.3 392l36.6 -7.3M184.2 394.8l36.6 -7.3M142.4 404.8l20.9 -4.2M147.6 392.6l10.5 -2.1M252.2 375.5l10.5 -2.1M184.2 387.6l20.9 -4.2M194.7 400.7l15.7 -3.1M252.2 367.7l31.4 -6.3M173.8 391.6l31.4 -6.3M247 387.4l10.5 -2.1M194.7 393.8l31.4 -6.3M210.4 378.1l41.8 -8.4M262.7 355.9l31.4 -6.3M131.9 400.4l20.9 -4.2M220.8 371.5l36.6 -7.4M199.9 376.8l31.4 -6.3M210.4 383l20.9 -4.2M147.6 401.7l41.8 -8.4M236.5 365l41.8 -8.4M262.7 366.9l20.9 -4.2M231.3 356.8l26.2 -5.2M152.9 392.8l31.4 -6.3M131.9 413.2l15.7 -3.1M163.3 393.8l36.6 -7.4M168.5 407.2l31.4 -6.3M247 378l20.9 -4.2M147.6 400.1l36.6 -7.3M210.4 396.5l10.5 -2.1M163.3 398.9l36.6 -7.4M231.3 371.2l36.6 -7.3M236.5 378.3l41.8 -8.4M273.1 378.1l20.9 -4.2M278.4 383.3l15.7 -3.1M231.3 363.4l15.7 -3.2M226.1 386.3l31.4 -6.3M220.8 388.3l47.1 -9.5M226.1 391.7l31.4 -6.3M205.2 382.6l20.9 -4.2M247 378.6l20.9 -4.2M163.3 402.8l31.4 -6.3M247 377.4l41.8 -8.4M168.5 387.4l20.9 -4.2M278.4 375.3l31.4 -6.3M262.7 382.6l41.8 -8.4M194.7 378l10.5 -2.1M273.1 363.3l20.9 -4.2M179 397.4l41.8 -8.4M226.1 357.5l15.7 -3.1M278.4 373.8l26.2 -5.2M158.1 388.8l26.2 -5.2M252.2 372.3l10.5 -2.1M262.7 375l26.1 -5.2M189.5 388.9l47.1 -9.4M184.2 387.9l20.9 -4.2M226.1 376.9l41.8 -8.4M194.7 394.3l36.6 -7.3M147.6 397.6l41.8 -8.4M199.9 385.8l31.4 -6.3M278.4 387.3l26.2 -5.2M226.1 385.1l15.7 -3.2M257.5 385.8l41.8 -8.4M241.8 381.2l36.6 -7.4M179 381l41.8 -8.4M231.3 378.5l31.4 -6.3M173.8 372.3l31.4 -6.3M152.9 407.3l41.8 -8.4M131.9 396.8l31.4 -6.3M220.8 374.2l36.6 -7.4M137.2 395.4l31.4 -6.3M147.6 389.3l10.5 -2.1M189.5 389.4l41.8 -8.4M205.2 389.9l41.8 -8.4M173.8 391.2l36.6 -7.4M220.8 387.1l31.4 -6.3" stroke="#0a64b2" stroke-width="0.6" fill="none"/>
<path d="M184.2 385.6l10.5 -2.1M257.5 382.4l41.8 -8.4M210.4 382.3l26.2 -5.2M158.1 394.8l31.4 -6.3M231.3 380.7l10.5 -2.1M163.3 394.3l41.8 -8.4M194.7 385.8l26.2 -5.2M273.1 373.1l31.4 -6.3M189.5 397.2l31.4 -6.3M179 402l41.8 -8.4M163.3 389.7l41.8 -8.4M220.8 375.8l47.1 -9.4M247 376.1l31.4 -6.3M273.1 367.1l41.8 -8.4M262.7 369.6l15.7 -3.2M179 397.9l47.1 -9.5M184.2 396l31.4 -6.3M163.3 395.9l20.9 -4.2M257.5 374.3l10.5 -2.1M163.3 402l41.8 -8.4M173.8 395.3l26.2 -5.2M173.8 403.9l15.7 -3.2M262.7 372.5l31.4 -6.3M158.1 395.9l47.1 -9.4M252.2 385.6l15.7 -3.1M184.2 384.4l31.4 -6.3M236.5 389l31.4 -6.3M231.3 370.7l41.8 -8.4M163.3 395.9l36.6 -7.3M194.7 396.6l36.6 -7.3M152.9 396.4l41.8 -8.4M241.8 382.4l31.4 -6.3M179 397.3l20.9 -4.2M184.2 382.5l15.7 -3.1M278.4 375.2l36.6 -7.4M194.7 384.9l26.2 -5.2M158.1 395.8l26.2 -5.2M179 389.5l36.6 -7.3M184.2 389l10.5 -2.1M267.9 363.7l15.7 -3.1M220.8 379.5l31.4 -6.3M163.3 394.4l15.7 -3.1M184.2 381.6l47.1 -9.4M236.5 375.8l31.4 -6.3M179 379l36.6 -7.3M236.5 375.2l31.4 -6.3M184.2 393.2l41.8 -8.4M236.5 378.8l26.2 -5.2M257.5 368.1l10.5 -2.1M147.6 394.3l36.6 -7.4M241.8 387.7l36.6 -7.4M163.3 401.4l41.8 -8.4M152.9 397.7l10.5 -2.1M158.1 392.2l36.6 -7.3M247 376.4l20.9 -4.2M194.7 398.8l31.4 -6.3M205.2 389.1l41.8 -8.4M257.5 364.1l26.1 -5.2M137.2 401.4l41.8 -8.4M210.4 392.4l20.9 -4.2M194.7 392.6l31.4 -6.3M152.9 397.6l20.9 -4.2M137.2 392l41.8 -8.4M194.7 388.3l31.4 -6.3M273.1 366.4l36.6 -7.4M205.2 384.8l10.5 -2.1M299.3 377.4l52.3 -10.5M267.9 370.5l36.6 -7.4M205.2 401.3l47.1 -9.4M194.7 388.8l31.4 -6.3M184.2 383.6l26.2 -5.2M158.1 397.5l36.6 -7.3M273.1 369.6l15.7 -3.1M220.8 374l36.6 -7.3M262.7 367.3l26.1 -5.2M168.5 399.6l36.6 -7.4M179 379.9l15.7 -3.1M142.4 398.9l41.8 -8.4M226.1 386.1l36.6 -7.4M173.8 389.5l31.4 -6.3M262.7 361l26.1 -5.2M315 362.9l31.4 -6.3M267.9 367.2l31.4 -6.3M257.5 373.6l15.7 -3.1M267.9 366.9l36.6 -7.3M163.3 401.4l41.8 -8.4M278.4 370.3l15.7 -3.1M205.2 385.8l20.9 -4.2M142.4 403.7l36.6 -7.4M278.4 378.5l26.2 -5.2M131.9 400.6l31.4 -6.3M194.7 389.4l31.4 -6.3M267.9 372.4l20.9 -4.2M267.9 382.5l41.8 -8.4M278.4 359.3l31.4 -6.3M247 367.9l41.8 -8.4M158.1 399.6l20.9 -4.2M262.7 372.5l20.9 -4.2M158.1 398.4l47.1 -9.4M252.2 366.2l10.5 -2.1M179 387.7l26.2 -5.2M147.6 401.5l36.6 -7.4M252.2 371.1l26.1 -5.2M184.2 389.6l47.1 -9.5M184.2 385.8l36.6 -7.4M257.5 387.2l36.6 -7.3M215.6 387.4l20.9 -4.2M252.2 378.3l41.8 -8.4M131.9 398l26.2 -5.2M278.4 375.6l36.6 -7.3M179 392.1l10.5 -2.1M262.7 372.9l36.6 -7.4M173.8 389.5l10.5 -2.1M257.5 374.3l36.6 -7.4M278.4 371.8l36.6 -7.4M158.1 390l36.6 -7.3M231.3 378.7l20.9 -4.2M241.8 382.8l31.4 -6.3M278.4 361.3l36.6 -7.4M158.1 400.6l15.7 -3.1M262.7 373.7l20.9 -4.2M163.3 394.6l36.6 -7.3M189.5 378.8l31.4 -6.3M247 374.2l36.6 -7.4M220.8 377.6l47.1 -9.5M267.9 367.6l26.2 -5.2M215.6 387.7l31.4 -6.3M163.3 386.8l41.8 -8.4M131.9 397.4l47.1 -9.4M142.4 397.9l10.5 -2.1M194.7 383.2l41.8 -8.4M309.8 369.1l36.6 -7.4M163.3 395.7l26.2 -5.2M231.3 375l26.2 -5.2M220.8 383.1l41.8 -8.4M220.8 392l26.1 -5.2M179 390.4l47.1 -9.4M163.3 397.7l41.8 -8.4M241.8 383.5l10.5 -2.1M179 391.8l41.8 -8.4M247 373.6l36.6 -7.4M173.8 394.3l36.6 -7.4M194.7 383.8l41.8 -8.4M142.4 393.9l41.8 -8.4M131.9 408.1l36.6 -7.3M226.1 385l41.8 -8.4M179 388.3l41.8 -8.4M267.9 390.5l20.9 -4.2M205.2 389l31.4 -6.3M194.7 382.2l36.6 -7.3M278.4 372.3l41.8 -8.4M142.4 395.3l41.8 -8.4M236.5 383.7l41.8 -8.4M220.8 375.7l41.8 -8.4M215.6 380.1l47.1 -9.5M152.9 394.5l36.6 -7.4M220.8 377.9l41.8 -8.4M257.5 377.5l41.8 -8.4M278.4 375.9l31.4 -6.3M179 377.1l20.9 -4.2M220.8 380.4l26.1 -5.2M267.9 385l36.6 -7.3M236.5 362.8l36.6 -7.4M158.1 390.6l41.8 -8.4M273.1 367.3l36.6 -7.4M215.6 377.3l31.4 -6.3M278.4 362.2l41.8 -8.4M131.9 399.6l15.7 -3.2M205.2 393.6l41.8 -8.4M210.4 379.3l15.7 -3.1M131.9 397.1l20.9 -4.2M179 391.6l31.4 -6.3M131.9 400.2l31.4 -6.3M236.5 387.8l31.4 -6.3M152.9 393.5l41.8 -8.4M131.9 406.2l31.4 -6.3M231.3 389.5l41.8 -8.4M273.1 366.8l15.7 -3.2M273.1 371.5l41.8 -8.4M142.4 394.7l15.7 -3.1M168.5 382.8l10.5 -2.1M205.2 373.2l31.4 -6.3M189.5 380.4l31.4 -6.3M220.8 383l20.9 -4.2M137.2 406.1l47.1 -9.4M142.4 399l10.5 -2.1M199.9 396.1l41.8 -8.4M184.2 395.4l31.4 -6.3M147.6 396.9l41.8 -8.4M194.7 393.1l26.2 -5.2M220.8 386.5l36.6 -7.3M194.7 383.3l15.7 -3.1M147.6 396.8l36.6 -7.4M137.2 404.7l10.5 -2.1M220.8 384.1l41.8 -8.4M241.8 384l36.6 -7.4M199.9 375l36.6 -7.4M179 405.4l36.6 -7.3M179 387l36.6 -7.3M205.2 379.6l36.6 -7.4M137.2 408.1l26.1 -5.2M241.8 371.1l31.4 -6.3M152.9 388.5l41.8 -8.4M247 369.9l26.1 -5.2M220.8 377.9l41.8 -8.4M168.5 397.9l41.8 -8.4M163.3 403.9l36.6 -7.3M278.4 363.9l20.9 -4.2M205.2 392.4l41.8 -8.4M267.9 376.5l41.8 -8.4M163.3 393.5l26.2 -5.2M147.6 395.4l41.8 -8.4M184.2 376.8l26.2 -5.2M210.4 394.3l31.4 -6.3M137.2 391.4l10.5 -2.1M158.1 400.4l41.8 -8.4M189.5 379.1l47.1 -9.4M226.1 368.2l41.8 -8.4M231.3 377.9l36.6 -7.4M168.5 395.8l31.4 -6.3M147.6 399.5l31.4 -6.3M278.4 364.1l20.9 -4.2M226.1 378.6l15.7 -3.2M215.6 380.5l36.6 -7.4M189.5 391.2l20.9 -4.2M315 366.5l20.9 -4.2M131.9 400.4l10.5 -2.1M147.6 399.8l15.7 -3.2M220.8 379.8l31.4 -6.3M241.8 364.3l47.1 -9.4M252.2 368l31.4 -6.3M252.2 373.2l36.6 -7.4M199.9 391.6l47.1 -9.4M194.7 384.7l36.6 -7.4M231.3 373.2l20.9 -4.2M199.9 382.7l36.6 -7.3M247 362.1l26.1 -5.2M220.8 384.6l47.1 -9.4M131.9 397.9l41.8 -8.4M179 387.3l36.6 -7.4M257.5 369.3l41.8 -8.4M241.8 375l31.4 -6.3M168.5 396.8l36.6 -7.4M147.6 400.4l41.8 -8.4M220.8 388.5l10.5 -2.1M194.7 387.8l26.2 -5.2M137.2 405.3l15.7 -3.1M215.6 384.4l31.4 -6.3M184.2 386.5l36.6 -7.3M247 383.2l10.5 -2.1M262.7 371.2l31.4 -6.3M215.6 383.5l20.9 -4.2M278.4 369l41.8 -8.4M262.7 369.4l41.8 -8.4M137.2 402l15.7 -3.1M179 389.7l41.8 -8.4M205.2 386.5l10.5 -2.1M137.2 400.4l47.1 -9.4M184.2 389.7l15.7 -3.2M267.9 366.4l36.6 -7.3M158.1 394.7l36.6 -7.3M205.2 388.3l10.5 -2.1M215.6 378.5l47.1 -9.4M236.5 383.3l31.4 -6.3M205.2 385.7l31.4 -6.3M142.4 404.7l41.8 -8.4M131.9 402.9l15.7 -3.2M278.4 361.5l36.6 -7.3M273.1 369.9l41.8 -8.4M278.4 362.5l20.9 -4.2M194.7 390.2l41.8 -8.4M194.7 378.3l36.6 -7.3M241.8 359.7l41.8 -8.4M320.2 365.9l10.5 -2.1M194.7 390.5l36.6 -7.3M173.8 402.7l15.7 -3.1M137.2 400.8l15.7 -3.1M210.4 386.9l31.4 -6.3M257.5 370.6l26.1 -5.2M137.2 383.2l36.6 -7.4M173.8 398.2l47.1 -9.4M247 363.7l31.4 -6.3M236.5 390.1l41.8 -8.4M152.9 401.8l31.4 -6.3M252.2 381.8l41.8 -8.4M158.1 393l36.6 -7.4M278.4 373.3l26.2 -5.2M309.8 349l41.8 -8.4M179 389.4l31.4 -6.3M184.2 392.8l31.4 -6.3M273.1 372.9l26.2 -5.2M262.7 365.1l26.1 -5.2M189.5 389.3l47.1 -9.4M205.2 379.3l15.7 -3.1M184.2 391.6l36.6 -7.4M273.1 351.3l47.1 -9.4M131.9 401.5l47.1 -9.4M247 367.6l41.8 -8.4M257.5 378.6l47.1 -9.4M278.4 355.5l41.8 -8.4M241.8 375.9l41.8 -8.4M168.5 396.2l26.1 -5.2M220.8 388.7l15.7 -3.1M252.2 367.2l31.4 -6.3M215.6 372.3l36.6 -7.4M168.5 394.4l41.8 -8.4M241.8 378.4l41.8 -8.4M199.9 389l41.8 -8.4M179 395.7l41.8 -8.4M231.3 383l31.4 -6.3M163.3 400l31.4 -6.3M131.9 406.7l15.7 -3.1M231.3 384.1l26.2 -5.2M247 376l47.1 -9.4M194.7 388.8l41.8 -8.4M262.7 374l36.6 -7.3M210.4 385.7l26.2 -5.2M210.4 377.1l36.6 -7.4M199.9 385l10.5 -2.1M278.4 377.1l20.9 -4.2M210.4 381.3l31.4 -6.3M184.2 390.9l41.8 -8.4M252.2 371.3l26.1 -5.2M247 375.7l47.1 -9.4M226.1 377.9l10.5 -2.1M131.9 404l36.6 -7.4M131.9 400.3l20.9 -4.2M179 392.3l31.4 -6.3M194.7 389.6l41.8 -8.4M173.8 389.1l36.6 -7.3M199.9 391l41.8 -8.4M226.1 379.4l31.4 -6.3M236.5 377.3l31.4 -6.3M158.1 392.4l36.6 -7.3M199.9 387.8l10.5 -2.1M137.2 402.6l15.7 -3.1M220.8 383l26.1 -5.2M252.2 378.9l15.7 -3.2M163.3 386.5l31.4 -6.3M152.9 393.9l41.8 -8.4M215.6 388.1l36.6 -7.4M168.5 389.1l15.7 -3.2M273.1 378l26.2 -5.2M158.1 398.5l36.6 -7.4M215.6 387.7l15.7 -3.1M210.4 386.7l26.2 -5.2M220.8 381.9l31.4 -6.3M236.5 372.7l36.6 -7.4M147.6 397.2l26.2 -5.2M179 387.6l41.8 -8.4M236.5 366.4l41.8 -8.4M241.8 384.5l31.4 -6.3M142.4 398.5l41.8 -8.4M262.7 377.8l36.6 -7.3M179 390.6l31.4 -6.3M252.2 368.4l10.5 -2.1M262.7 358.1l31.4 -6.3M184.2 390.6l26.2 -5.2M163.3 402.5l20.9 -4.2M199.9 391.5l47.1 -9.4M194.7 383.2l20.9 -4.2M137.2 402.2l20.9 -4.2M241.8 378.8l20.9 -4.2M147.6 402.2l15.7 -3.1M257.5 371.6l15.7 -3.1M262.7 374.1l31.4 -6.3M273.1 364.4l41.8 -8.4M131.9 408.8l41.8 -8.4M226.1 384.3l36.6 -7.3M158.1 398.7l15.7 -3.2M152.9 398.2l26.1 -5.2M278.4 362.1l41.8 -8.4M273.1 355.2l47.1 -9.4M257.5 375.4l31.4 -6.3M226.1 375.1l20.9 -4.2M194.7 403.2l20.9 -4.2M252.2 358.6l36.6 -7.4M179 394l41.8 -8.4M226.1 384.3l15.7 -3.2M184.2 388.5l26.2 -5.2M142.4 400.6l26.2 -5.2M199.9 385.4l20.9 -4.2M147.6 399.6l41.8 -8.4M152.9 397.6l41.8 -8.4M247 376.3l41.8 -8.4M147.6 392.5l41.8 -8.4M158.1 397.9l41.8 -8.4M231.3 380.5l26.2 -5.2M199.9 394.6l31.4 -6.3M257.5 358.9l41.8 -8.4M252.2 375.1l36.6 -7.4M252.2 374l31.4 -6.3M184.2 389.2l20.9 -4.2M210.4 380.8l36.6 -7.3M278.4 366.8l10.5 -2.1M262.7 385.4l41.8 -8.4" stroke="#004e98" stroke-width="0.6" fill="none"/></g>
<g clip-path="url(#cBr)"><path d="M424.5 392.6v1.4m0 8v1.4m0 15.8v1.4M429.7 386.3v1.4m0 -0.6v1.4m0 9.1v1.4m0 1v1.4m0 -0.8v1.4m0 -0.1v1.4m0 -0.6v1.4m0 10.7v1.4m0 1.2v1.4m0 1.3v1.4m0 2.4v1.4m0 4.3v1.4m0 -0.8v1.4M434.9 390.7v1.4m0 3v1.4m0 1v1.4m0 0.4v1.4m0 -1.1v1.4m0 -0.8v1.4m0 0.1v1.4m0 8.2v1.4m0 1.3v1.4m0 1.6v1.4m0 3v1.4M440.2 381v1.4m0 5.1v1.4m0 1.2v1.4m0 1.1v1.4m0 3v1.4m0 0.5v1.4m0 0.5v1.4m0 6.9v1.4m0 2.4v1.4m0 -0.8v1.4m0 -0.8v1.4m0 1.5v1.4m0 0.1v1.4m0 0.7v1.4m0 3.1v1.4M445.4 384.2v1.4m0 6.8v1.4m0 -0.3v1.4m0 -0.4v1.4m0 -1.2v1.4m0 1.1v1.4m0 -0.7v1.4m0 -0.8v1.4m0 -0.8v1.4m0 8.7v1.4m0 0.9v1.4m0 -0.4v1.4m0 0.2v1.4m0 -0.8v1.4m0 -1.1v1.4m0 -0.6v1.4m0 -0.1v1.4m0 1.1v1.4m0 -1.1v1.4m0 0.8v1.4m0 10.5v1.4M450.6 369v1.4m0 16.4v1.4m0 -0v1.4m0 -0.1v1.4m0 0.3v1.4m0 0v1.4m0 -0.2v1.4m0 0.2v1.4m0 -0.4v1.4m0 -1v1.4m0 -0.8v1.4m0 -1.3v1.4m0 7.3v1.4m0 0.6v1.4m0 -0.2v1.4m0 2.2v1.4m0 -0.7v1.4m0 -1v1.4m0 0.4v1.4m0 -0.2v1.4m0 -0.8v1.4m0 -0.6v1.4m0 -0.9v1.4m0 -1.4v1.4m0 -0.1v1.4m0 2.9v1.4m0 0.8v1.4M455.9 369.2v1.4m0 15.3v1.4m0 0.3v1.4m0 -0.6v1.4m0 -0.6v1.4m0 -0.9v1.4m0 -1.4v1.4m0 -1.4v1.4m0 0v1.4m0 -1v1.4m0 1v1.4m0 -1.1v1.4m0 -0.8v1.4m0 -0.8v1.4m0 -0.8v1.4m0 1.8v1.4m0 1.4v1.4m0 -0.9v1.4m0 -0.4v1.4m0 1.1v1.4m0 0.7v1.4m0 0.2v1.4m0 -0.7v1.4m0 -1.3v1.4m0 -0.7v1.4m0 -0.8v1.4m0 0.3v1.4m0 -1.1v1.4m0 -1.2v1.4m0 -0.7v1.4m0 4.4v1.4m0 2.9v1.4m0 -0.7v1.4M461.1 354.8v1.4m0 23v1.4m0 5.7v1.4m0 -0.7v1.4m0 0.9v1.4m0 -1.4v1.4m0 -0.1v1.4m0 0.2v1.4m0 -0.6v1.4m0 -1.3v1.4m0 -1.4v1.4m0 5.2v1.4m0 5.8v1.4m0 1.6v1.4m0 -1.4v1.4m0 -0.9v1.4m0 -0.7v1.4m0 0.5v1.4m0 -1v1.4m0 -0.5v1.4m0 -0.5v1.4m0 -0.6v1.4m0 1.4v1.4m0 -0.7v1.4M466.3 374.9v1.4m0 1.8v1.4m0 4.4v1.4m0 -1.3v1.4m0 -1.1v1.4m0 -0.4v1.4m0 -0.4v1.4m0 -1.2v1.4m0 -0.4v1.4m0 -0.6v1.4m0 -0.2v1.4m0 -0.6v1.4m0 -0.4v1.4m0 -0.2v1.4m0 13.8v1.4m0 -1.2v1.4m0 -0.2v1.4m0 -1.4v1.4m0 0v1.4m0 -1v1.4m0 1.4v1.4m0 3.7v1.4m0 -0.7v1.4M471.5 371.6v1.4m0 3.9v1.4m0 0.6v1.4m0 0.4v1.4m0 1.5v1.4m0 -1v1.4m0 2.2v1.4m0 -0.8v1.4m0 -0.6v1.4m0 -0.3v1.4m0 -0.8v1.4m0 1.8v1.4m0 -0.9v1.4m0 -1.2v1.4m0 1.7v1.4m0 6.3v1.4m0 0.1v1.4m0 -0.7v1.4m0 -1v1.4m0 0.1v1.4m0 4v1.4m0 -0.1v1.4m0 -1.3v1.4m0 -0.1v1.4m0 -1.1v1.4m0 3v1.4M476.8 379.9v1.4m0 -0.9v1.4m0 0v1.4m0 -0.6v1.4m0 -0.1v1.4m0 -0.9v1.4m0 -1v1.4m0 -0.8v1.4m0 0v1.4m0 -0.1v1.4m0 -0.9v1.4m0 2v1.4m0 2.1v1.4m0 1v1.4m0 1.5v1.4m0 1.6v1.4m0 -1.1v1.4m0 1.1v1.4m0 -1.2v1.4m0 -0.9v1.4m0 -0.9v1.4m0 -0.7v1.4m0 0.9v1.4m0 -0.9v1.4m0 -1.2v1.4m0 -0.9v1.4m0 -0.7v1.4m0 0.1v1.4m0 0.5v1.4m0 -0v1.4m0 -0.7v1.4M482 375.7v1.4m0 0.4v1.4m0 0v1.4m0 -0.1v1.4m0 3.9v1.4m0 -1.3v1.4m0 -0.5v1.4m0 -0.2v1.4m0 0.1v1.4m0 6.3v1.4m0 5.9v1.4m0 0.5v1.4m0 -1v1.4m0 -1v1.4m0 -0.5v1.4m0 -0.2v1.4m0 3.1v1.4m0 2.9v1.4M487.2 343.9v1.4m0 32.3v1.4m0 -0.6v1.4m0 -0.7v1.4m0 0.9v1.4m0 1v1.4m0 -0.4v1.4m0 -1.3v1.4m0 -0.9v1.4m0 3.1v1.4m0 14.1v1.4m0 -1.1v1.4m0 -0.5v1.4m0 -0.8v1.4m0 -1v1.4m0 -0.6v1.4m0 -1v1.4m0 -0.6v1.4m0 -0.1v1.4m0 1.7v1.4m0 -0.6v1.4m0 -1.2v1.4m0 19.4v1.4M492.4 371.5v1.4m0 2.3v1.4m0 -0.6v1.4m0 4.3v1.4m0 1.1v1.4m0 0.1v1.4m0 -0.4v1.4m0 3.7v1.4m0 2.2v1.4m0 3.5v1.4m0 1.3v1.4m0 -0.4v1.4m0 -1.3v1.4m0 -1.2v1.4m0 -1.3v1.4m0 0.1v1.4m0 2.3v1.4m0 -0.9v1.4m0 3.4v1.4m0 1.8v1.4M497.7 369.4v1.4m0 -0.8v1.4m0 5.5v1.4m0 -1.1v1.4m0 -0.6v1.4m0 -1.3v1.4m0 -1.3v1.4m0 -0.9v1.4m0 3v1.4m0 -0.3v1.4m0 -0.9v1.4m0 -1.1v1.4m0 6.1v1.4m0 2.7v1.4m0 -0.7v1.4m0 -1.2v1.4m0 1.5v1.4m0 0.4v1.4m0 -1v1.4m0 -0.3v1.4m0 -0.8v1.4m0 -1.2v1.4m0 -0.7v1.4m0 0.1v1.4m0 -0.6v1.4m0 -1.4v1.4m0 0.3v1.4m0 3.5v1.4M502.9 368.3v1.4m0 -0.7v1.4m0 5.5v1.4m0 -1.2v1.4m0 -1.1v1.4m0 0.1v1.4m0 1v1.4m0 0.7v1.4m0 0.5v1.4m0 1.1v1.4m0 12.4v1.4m0 2.3v1.4m0 1.6v1.4m0 -1.3v1.4m0 -0.7v1.4m0 -0.3v1.4m0 -1.1v1.4m0 5.1v1.4m0 -1.2v1.4M508.1 351.6v1.4m0 17v1.4m0 4.1v1.4m0 0.4v1.4m0 -0.7v1.4m0 -0.6v1.4m0 1.5v1.4m0 2.1v1.4m0 12.2v1.4m0 -0.7v1.4m0 0.1v1.4m0 2.3v1.4m0 0.7v1.4m0 -1v1.4m0 1.3v1.4m0 -0.7v1.4M513.3 373.2v1.4m0 -0.7v1.4m0 0.4v1.4m0 0.9v1.4m0 -0.7v1.4m0 -0.3v1.4m0 1.3v1.4m0 1.4v1.4m0 6.9v1.4m0 0.5v1.4m0 0.3v1.4m0 0.3v1.4m0 2v1.4m0 -0.7v1.4m0 0.6v1.4m0 -0.2v1.4m0 2.9v1.4m0 3v1.4M518.6 364v1.4m0 6.2v1.4m0 3.3v1.4m0 -0.8v1.4m0 5.4v1.4m0 0.7v1.4m0 0.4v1.4m0 8v1.4m0 -0.3v1.4m0 -0.7v1.4m0 -1v1.4m0 -0.6v1.4m0 2.4v1.4m0 -0.7v1.4m0 3v1.4M523.8 356.6v1.4m0 0.2v1.4m0 7.4v1.4m0 3v1.4m0 8.4v1.4m0 17.6v1.4m0 1.9v1.4m0 0.7v1.4m0 -1.3v1.4m0 0.9v1.4m0 0.8v1.4M529 356v1.4m0 5.5v1.4m0 0.6v1.4m0 -0.3v1.4m0 13.8v1.4m0 -0.4v1.4m0 18.3v1.4m0 -1.3v1.4m0 0.7v1.4m0 3.8v1.4M534.2 352.3v1.4m0 7.9v1.4m0 3.2v1.4m0 0v1.4m0 2.6v1.4m0 12v1.4m0 6.5v1.4m0 1.2v1.4m0 1.9v1.4m0 -1.1v1.4m0 -0.9v1.4m0 -0.5v1.4m0 2.2v1.4M539.5 356.2v1.4m0 37v1.4m0 0.3v1.4m0 3.6v1.4m0 6.6v1.4m0 1.2v1.4M544.7 365.1v1.4m0 -0.9v1.4m0 12v1.4m0 11.7v1.4m0 1.5v1.4m0 0.8v1.4m0 -0.9v1.4m0 2.2v1.4M549.9 353.1v1.4m0 -1.1v1.4m0 1.9v1.4m0 6.6v1.4m0 -1.3v1.4m0 5.1v1.4m0 27v1.4m0 -1.1v1.4m0 0.1v1.4m0 2.1v1.4M555.1 348.5v1.4m0 2.8v1.4m0 10.1v1.4m0 2v1.4m0 12.7v1.4m0 12.8v1.4m0 -1.3v1.4m0 4.2v1.4m0 -0.8v1.4m0 -1v1.4M560.4 350.5v1.4m0 9.5v1.4m0 41.8v1.4M565.6 362.1v1.4m0 15.6v1.4m0 3.1v1.4m0 5.5v1.4m0 0.8v1.4m0 -1.3v1.4m0 1.8v1.4m0 1.6v1.4M570.8 349.7v1.4m0 -0.4v1.4m0 -1.4v1.4m0 19.9v1.4m0 21.8v1.4M576 347.2v1.4m0 5.6v1.4m0 -1.1v1.4m0 8.7v1.4m0 26.9v1.4M581.3 346.7v1.4m0 0.8v1.4m0 6.6v1.4m0 31.3v1.4m0 5.6v1.4M586.5 345.3v1.4m0 2.1v1.4m0 12.1v1.4m0 33.1v1.4M591.7 381.6v1.4m0 0.7v1.4M597 346.5v1.4M602.2 353.1v1.4m0 19.5v1.4M607.4 338.4v1.4m0 27.3v1.4m0 6.3v1.4" stroke="#f4a4a4" stroke-width="1.4" fill="none"/>
<path d="M424.5 400.8v1.4m0 1.1v1.4m0 2.1v1.4m0 -1.2v1.4m0 8.4v1.4m0 0.8v1.4M429.7 397.9v1.4m0 1v1.4m0 -0.4v1.4m0 -0.1v1.4m0 0.7v1.4m0 -1.3v1.4m0 -0.2v1.4m0 0.1v1.4m0 -1.3v1.4m0 0.6v1.4m0 0.6v1.4m0 0.1v1.4m0 -0.9v1.4m0 -0.3v1.4m0 -0.2v1.4m0 2v1.4m0 7.3v1.4M434.9 379.9v1.4m0 10.1v1.4m0 4.2v1.4m0 0.1v1.4m0 -0.3v1.4m0 -0.2v1.4m0 -1.4v1.4m0 -1.1v1.4m0 -1.4v1.4m0 -1v1.4m0 2.4v1.4m0 -1v1.4m0 -0.6v1.4m0 1.5v1.4m0 -0.4v1.4m0 0.2v1.4m0 -0.7v1.4m0 -0.3v1.4m0 -1.3v1.4m0 0.2v1.4m0 4.1v1.4M440.2 391.8v1.4m0 2.1v1.4m0 2.6v1.4m0 -1.1v1.4m0 -0.9v1.4m0 -0.1v1.4m0 -1.3v1.4m0 -1.2v1.4m0 -0.4v1.4m0 -0.5v1.4m0 -1.4v1.4m0 0.2v1.4m0 0.4v1.4m0 -0.8v1.4m0 -0.5v1.4m0 -0.3v1.4m0 -1v1.4m0 0.5v1.4m0 -1.4v1.4m0 -0.6v1.4m0 -1.1v1.4m0 -0.2v1.4m0 -1.3v1.4m0 -0.6v1.4m0 1.2v1.4M445.4 371.7v1.4m0 11.2v1.4m0 1.4v1.4m0 3v1.4m0 -0.6v1.4m0 -0.6v1.4m0 0.8v1.4m0 -0.9v1.4m0 0.4v1.4m0 -0.5v1.4m0 0.2v1.4m0 -0.3v1.4m0 -0.7v1.4m0 -1.1v1.4m0 1.8v1.4m0 2.3v1.4m0 -1v1.4m0 -0.5v1.4m0 -1.2v1.4m0 -0.9v1.4m0 -0.7v1.4m0 -1.3v1.4m0 0.6v1.4m0 4.7v1.4M450.6 384.5v1.4m0 7.4v1.4m0 1.3v1.4m0 -1.1v1.4m0 -0.1v1.4m0 -1.2v1.4m0 -1.2v1.4m0 -0.9v1.4m0 -0.6v1.4m0 -1.4v1.4m0 1.9v1.4m0 2.4v1.4m0 -1.2v1.4m0 -0.1v1.4m0 -1.3v1.4m0 -1v1.4m0 -0.9v1.4m0 -0.1v1.4m0 -1.3v1.4m0 -0.6v1.4m0 -1.1v1.4m0 -1.2v1.4m0 -0.8v1.4m0 -0.9v1.4m0 0.5v1.4m0 -0.6v1.4M455.9 386.8v1.4m0 0.4v1.4m0 1.3v1.4m0 -0.4v1.4m0 -0.7v1.4m0 -1.1v1.4m0 -0.4v1.4m0 -0.6v1.4m0 -0.9v1.4m0 -0.2v1.4m0 -1.2v1.4m0 -0.6v1.4m0 -0.7v1.4m0 1.5v1.4m0 -0.9v1.4m0 -0.1v1.4m0 -1v1.4m0 0.6v1.4m0 0.9v1.4m0 1.5v1.4m0 -0.9v1.4m0 -1.3v1.4m0 -0.4v1.4m0 -1.4v1.4m0 1.1v1.4M461.1 382.3v1.4m0 5.3v1.4m0 -1.2v1.4m0 0.2v1.4m0 -1.2v1.4m0 0.5v1.4m0 -0.9v1.4m0 -0.4v1.4m0 -0.1v1.4m0 -1.4v1.4m0 -1.1v1.4m0 -0.4v1.4m0 -1.2v1.4m0 -1v1.4m0 -1.3v1.4m0 -0.3v1.4m0 -1v1.4m0 -1.3v1.4m0 0.9v1.4m0 -0.7v1.4m0 1.6v1.4m0 -1.3v1.4m0 -1.2v1.4m0 -0.9v1.4m0 -0.3v1.4m0 -1.3v1.4m0 -0.6v1.4m0 -1.3v1.4m0 -1.2v1.4m0 -1.3v1.4m0 -1v1.4m0 -1.4v1.4m0 -1.2v1.4m0 -0.9v1.4m0 -0.6v1.4m0 -0.8v1.4m0 -1v1.4m0 -0.5v1.4m0 -0.6v1.4m0 -0.2v1.4m0 -0.1v1.4m0 -1.1v1.4M466.3 364.6v1.4m0 22.4v1.4m0 0.1v1.4m0 -0.6v1.4m0 -1v1.4m0 -1.1v1.4m0 -1.4v1.4m0 -0.9v1.4m0 -1.3v1.4m0 -0.9v1.4m0 -1v1.4m0 -0.5v1.4m0 -0.8v1.4m0 -1.2v1.4m0 -1.3v1.4m0 -1.4v1.4m0 0v1.4m0 0v1.4m0 -1.3v1.4m0 0.1v1.4m0 -0.5v1.4m0 0.5v1.4m0 -1.2v1.4m0 -0.5v1.4m0 -0.2v1.4m0 -0.8v1.4m0 -1v1.4m0 -0.8v1.4m0 -1.2v1.4m0 -0.8v1.4m0 -1v1.4m0 -1.3v1.4m0 -0.7v1.4m0 -0.5v1.4m0 -0.8v1.4m0 -0.8v1.4m0 -1.2v1.4m0 0.3v1.4m0 1.2v1.4m0 7.5v1.4M471.5 380.2v1.4m0 3v1.4m0 -1.3v1.4m0 -0.5v1.4m0 2.5v1.4m0 -0.3v1.4m0 -1.3v1.4m0 -1.1v1.4m0 -0.4v1.4m0 -1.3v1.4m0 -1.1v1.4m0 -0.9v1.4m0 -1.1v1.4m0 -1v1.4m0 -1v1.4m0 -0.6v1.4m0 -0.3v1.4m0 -0.7v1.4m0 -0.6v1.4m0 -1.1v1.4m0 -1.4v1.4m0 -1v1.4m0 1.5v1.4m0 -0.8v1.4m0 -0.9v1.4m0 -1.2v1.4m0 -1.4v1.4m0 -0.9v1.4m0 -0.8v1.4m0 0.7v1.4m0 -0.6v1.4m0 -1v1.4m0 1.5v1.4m0 -1.3v1.4m0 -0.4v1.4m0 1v1.4M476.8 386.9v1.4m0 3.1v1.4m0 -1.3v1.4m0 -1.2v1.4m0 -1.3v1.4m0 -0.8v1.4m0 0.8v1.4m0 -0.1v1.4m0 1.1v1.4m0 -0.5v1.4m0 1.4v1.4m0 -0.9v1.4m0 -0.2v1.4m0 -1.3v1.4m0 -0.9v1.4m0 -0.4v1.4m0 -1.2v1.4m0 -1.2v1.4m0 -1.4v1.4m0 -1v1.4m0 -0.6v1.4m0 0.4v1.4m0 0.4v1.4m0 -0.2v1.4m0 0.4v1.4m0 2.9v1.4m0 0.9v1.4M482 355.2v1.4m0 18v1.4m0 4.4v1.4m0 -1.2v1.4m0 -0.8v1.4m0 -0.2v1.4m0 2.1v1.4m0 0.4v1.4m0 -1v1.4m0 -0.9v1.4m0 -0.8v1.4m0 -1.1v1.4m0 -1v1.4m0 -0.6v1.4m0 -0.5v1.4m0 -1.3v1.4m0 -1.1v1.4m0 0.3v1.4m0 -1v1.4m0 -0.9v1.4m0 -0.6v1.4m0 -0.7v1.4m0 1.3v1.4m0 -1.3v1.4m0 -0.7v1.4m0 -0.5v1.4m0 -1v1.4m0 -0.4v1.4m0 -1v1.4m0 -0.9v1.4m0 -0.9v1.4m0 -1v1.4m0 -1v1.4m0 -0.8v1.4m0 -0.9v1.4m0 -0.2v1.4m0 -0.7v1.4m0 0.1v1.4m0 -1.1v1.4m0 0.2v1.4m0 14.6v1.4M487.2 374.9v1.4m0 5.3v1.4m0 0.6v1.4m0 -0.3v1.4m0 -0.6v1.4m0 0.2v1.4m0 -0.9v1.4m0 -0.4v1.4m0 -1v1.4m0 0v1.4m0 -0.5v1.4m0 -0.1v1.4m0 0.7v1.4m0 -0.8v1.4m0 2v1.4m0 -0.4v1.4m0 1v1.4m0 -0.9v1.4m0 -0.7v1.4m0 -1.2v1.4m0 -1.2v1.4m0 -1.2v1.4m0 -0.8v1.4m0 -1.3v1.4m0 -1.4v1.4m0 -0.6v1.4m0 -0.6v1.4m0 -0.3v1.4m0 -0.2v1.4m0 4.4v1.4m0 1v1.4M492.4 376.7v1.4m0 0.7v1.4m0 -0.7v1.4m0 -0.3v1.4m0 -1.1v1.4m0 -1.2v1.4m0 -0.7v1.4m0 3.7v1.4m0 -1.4v1.4m0 -0.7v1.4m0 0.5v1.4m0 -0.2v1.4m0 -1.4v1.4m0 0.8v1.4m0 -1.2v1.4m0 0.2v1.4m0 0.3v1.4m0 -1v1.4m0 -0.3v1.4m0 -0.9v1.4m0 0.5v1.4m0 0.8v1.4m0 -1.3v1.4m0 -0.8v1.4m0 -1.1v1.4m0 -0.7v1.4m0 -0.2v1.4m0 -1.3v1.4m0 -1.3v1.4m0 -1.1v1.4m0 0.4v1.4m0 -1.3v1.4m0 1.2v1.4M497.7 363.6v1.4m0 15.3v1.4m0 0.5v1.4m0 -1.1v1.4m0 0.3v1.4m0 2.1v1.4m0 1.5v1.4m0 5.6v1.4m0 -1.2v1.4m0 -1.4v1.4m0 -1.1v1.4m0 -0.6v1.4m0 2v1.4m0 -1.3v1.4m0 -1.3v1.4m0 -1.4v1.4m0 0.8v1.4m0 0.1v1.4m0 6.6v1.4M502.9 374.7v1.4m0 1v1.4m0 -0.8v1.4m0 -1.3v1.4m0 3.2v1.4m0 -0.4v1.4m0 -1.1v1.4m0 0.8v1.4m0 -1.2v1.4m0 -0.6v1.4m0 -0.5v1.4m0 0.2v1.4m0 1.2v1.4m0 0.1v1.4m0 -0.7v1.4m0 1v1.4m0 0.6v1.4m0 0.5v1.4m0 0.1v1.4m0 -0.2v1.4m0 -0.7v1.4m0 0.2v1.4m0 -0.3v1.4m0 9.1v1.4M508.1 365.2v1.4m0 7.2v1.4m0 -0.3v1.4m0 -0.9v1.4m0 -0.4v1.4m0 -0.1v1.4m0 -0.7v1.4m0 -0.1v1.4m0 0v1.4m0 -0.2v1.4m0 -0v1.4m0 -1.3v1.4m0 1v1.4m0 2v1.4m0 -0.4v1.4m0 4.9v1.4m0 1.4v1.4m0 -1.3v1.4m0 3.8v1.4m0 -0.5v1.4m0 0.6v1.4m0 -0.6v1.4M513.3 370v1.4m0 3.2v1.4m0 -1v1.4m0 0.3v1.4m0 0.3v1.4m0 3.1v1.4m0 -1.2v1.4m0 0.5v1.4m0 1.6v1.4m0 0.9v1.4m0 0.6v1.4m0 -1v1.4m0 0.1v1.4m0 -1v1.4m0 -1v1.4m0 -0.4v1.4m0 3.9v1.4m0 -0.6v1.4m0 -0.5v1.4m0 -0.8v1.4m0 -0.1v1.4m0 0.3v1.4M518.6 370.3v1.4m0 -0.8v1.4m0 2v1.4m0 -0.5v1.4m0 -0.4v1.4m0 0.5v1.4m0 -0.6v1.4m0 -0.9v1.4m0 -1.2v1.4m0 0.5v1.4m0 1.3v1.4m0 0.9v1.4m0 -1.2v1.4m0 -1v1.4m0 -0.7v1.4m0 1.4v1.4m0 0.1v1.4m0 1.8v1.4m0 1.5v1.4m0 4.7v1.4m0 -0v1.4m0 2.1v1.4M523.8 370.1v1.4m0 1.6v1.4m0 -1.4v1.4m0 -0v1.4m0 0.2v1.4m0 1v1.4m0 -1.2v1.4m0 -1.3v1.4m0 0.3v1.4m0 2.2v1.4m0 0.1v1.4m0 0.1v1.4m0 4.5v1.4m0 -0.6v1.4m0 0v1.4m0 -0.7v1.4m0 -0.7v1.4m0 -0.9v1.4m0 2.9v1.4m0 -0.4v1.4M529 369v1.4m0 3.1v1.4m0 -1v1.4m0 -0.4v1.4m0 0.3v1.4m0 6.3v1.4m0 0.7v1.4m0 4.7v1.4m0 -0.8v1.4m0 -0.7v1.4m0 -1.1v1.4m0 0.5v1.4m0 1v1.4m0 -0.8v1.4m0 2.1v1.4m0 -0.7v1.4M534.2 354.7v1.4m0 16.5v1.4m0 0.7v1.4m0 0v1.4m0 1.5v1.4m0 -0.2v1.4m0 0.7v1.4m0 8.6v1.4m0 1.1v1.4m0 -1v1.4m0 -0.2v1.4m0 -0.5v1.4m0 1.8v1.4m0 -1.3v1.4m0 3.8v1.4M539.5 365.1v1.4m0 3.3v1.4m0 -0.7v1.4m0 0.2v1.4m0 6.6v1.4m0 2v1.4m0 1.9v1.4m0 -0.5v1.4m0 -0v1.4m0 1.8v1.4m0 1v1.4m0 -0.9v1.4m0 -1.1v1.4m0 -1.2v1.4m0 6.7v1.4m0 1.3v1.4M544.7 365.4v1.4m0 -1.2v1.4m0 15.5v1.4m0 -1v1.4m0 1.9v1.4m0 -0.8v1.4M549.9 373.5v1.4m0 5.5v1.4m0 3v1.4m0 0.6v1.4m0 2.1v1.4m0 0.1v1.4m0 -0.3v1.4m0 -1.1v1.4m0 4.7v1.4M555.1 376.3v1.4m0 0.2v1.4m0 -0.4v1.4m0 -0.7v1.4m0 2.8v1.4m0 6.5v1.4m0 0.5v1.4m0 -1.3v1.4m0 -0.5v1.4m0 2.1v1.4m0 4.1v1.4M560.4 365.2v1.4m0 5.5v1.4m0 -0.6v1.4m0 7.3v1.4m0 1.3v1.4m0 -1.2v1.4m0 1.6v1.4m0 1.2v1.4m0 -0.1v1.4m0 0.8v1.4m0 -0.7v1.4m0 4.2v1.4m0 4.4v1.4M565.6 348.9v1.4m0 6.1v1.4m0 26v1.4m0 0.7v1.4m0 4.8v1.4m0 -1.1v1.4M570.8 357.6v1.4m0 -1.3v1.4m0 18.4v1.4m0 0.9v1.4m0 -0.5v1.4m0 5.1v1.4m0 0.5v1.4m0 -0.8v1.4m0 4v1.4M576 373.9v1.4m0 10.6v1.4m0 5.4v1.4M581.3 353v1.4m0 21.2v1.4m0 4.4v1.4M586.5 367v1.4m0 5.7v1.4M591.7 350.8v1.4m0 1.9v1.4m0 5.5v1.4m0 -1.1v1.4m0 11.5v1.4M597 384v1.4M602.2 368.2v1.4m0 12.9v1.4M607.4 370.1v1.4" stroke="#e43434" stroke-width="1.4" fill="none"/>
<path d="M424.5 402.8v1.4m0 1.4v1.4m0 3.7v1.4m0 -0.3v1.4m0 3.1v1.4M429.7 398.6v1.4m0 2.5v1.4m0 -1.4v1.4m0 -0.9v1.4m0 -0.9v1.4m0 -0.3v1.4m0 2v1.4m0 -1.2v1.4m0 -1.1v1.4m0 -1.2v1.4m0 3.5v1.4M434.9 396.6v1.4m0 1v1.4m0 -0.1v1.4m0 -1.1v1.4m0 -0.9v1.4m0 -1.2v1.4m0 -1v1.4m0 -1.2v1.4m0 -1v1.4m0 0.1v1.4m0 -0.4v1.4m0 -0.8v1.4m0 -1v1.4m0 -0.5v1.4m0 -0.9v1.4m0 -0.9v1.4m0 -0.2v1.4m0 -1.3v1.4m0 -1.1v1.4m0 1.4v1.4m0 -0.7v1.4m0 2.2v1.4m0 4.6v1.4M440.2 389.4v1.4m0 3.9v1.4m0 0.4v1.4m0 0.8v1.4m0 0.5v1.4m0 0.2v1.4m0 -1.4v1.4m0 -0.5v1.4m0 -0.7v1.4m0 -1.3v1.4m0 -1.2v1.4m0 -0.6v1.4m0 -1.1v1.4m0 -1v1.4m0 -0v1.4m0 -1.3v1.4m0 -1v1.4m0 -1.3v1.4m0 -1.3v1.4m0 -1.1v1.4m0 0.4v1.4m0 1.5v1.4m0 4.4v1.4M445.4 393.3v1.4m0 -0.1v1.4m0 -0.8v1.4m0 -0.1v1.4m0 0.6v1.4m0 -0.7v1.4m0 -0.4v1.4m0 -0.5v1.4m0 -0.5v1.4m0 -1.3v1.4m0 -1.2v1.4m0 -0.6v1.4m0 -1.2v1.4m0 -0.2v1.4m0 -1.3v1.4m0 -1.2v1.4m0 -1.4v1.4m0 -1.3v1.4m0 -1.4v1.4m0 -0.9v1.4m0 -1.3v1.4m0 -0.7v1.4m0 -1.2v1.4m0 -0.6v1.4m0 -1.3v1.4m0 -1.1v1.4m0 -1.1v1.4m0 -1.2v1.4m0 -1.2v1.4m0 -1v1.4m0 -1.4v1.4m0 -1.3v1.4m0 -0.7v1.4m0 -0.8v1.4m0 -0.1v1.4M450.6 393.9v1.4m0 -1v1.4m0 -0v1.4m0 -0.6v1.4m0 -1.3v1.4m0 1.8v1.4m0 -1.3v1.4m0 -0.7v1.4m0 -1.2v1.4m0 -0.9v1.4m0 -1v1.4m0 -1.3v1.4m0 -1.3v1.4m0 -1.1v1.4m0 -1.4v1.4m0 -0.9v1.4m0 -1.2v1.4m0 -1.3v1.4m0 -0.6v1.4m0 -1.3v1.4m0 -1.4v1.4m0 -0.7v1.4m0 -0.5v1.4m0 -0.6v1.4m0 -1.2v1.4m0 -0.4v1.4m0 -1.3v1.4m0 -1.1v1.4m0 -0.4v1.4m0 -1.3v1.4m0 -1.4v1.4m0 -0.1v1.4m0 -1v1.4m0 0.1v1.4m0 -0.5v1.4m0 0.3v1.4M455.9 390.4v1.4m0 -1v1.4m0 -0.9v1.4m0 0v1.4m0 -0.4v1.4m0 1.5v1.4m0 -0.9v1.4m0 -0.1v1.4m0 0.4v1.4m0 -1.2v1.4m0 -0.3v1.4m0 -1v1.4m0 -1v1.4m0 -1.2v1.4m0 -1.3v1.4m0 -0.9v1.4m0 -0.6v1.4m0 -1.4v1.4m0 -1.2v1.4m0 -1v1.4m0 -1.3v1.4m0 -1.1v1.4m0 -0.4v1.4m0 -1.2v1.4m0 -1.3v1.4m0 -1.3v1.4m0 -1v1.4m0 -0.3v1.4m0 -1.2v1.4m0 -0.9v1.4m0 0.9v1.4m0 -0.5v1.4m0 -1.3v1.4m0 2v1.4M461.1 392v1.4m0 -0.6v1.4m0 -1v1.4m0 0v1.4m0 -0.6v1.4m0 -0.6v1.4m0 -0.7v1.4m0 -0.9v1.4m0 -1.1v1.4m0 0.3v1.4m0 -1.2v1.4m0 -0.5v1.4m0 -1v1.4m0 -1.2v1.4m0 -0.7v1.4m0 -1v1.4m0 -1.3v1.4m0 -1.2v1.4m0 -1.2v1.4m0 -0.6v1.4m0 -0.6v1.4m0 -0.1v1.4m0 -1.3v1.4m0 -1.4v1.4m0 -0.5v1.4m0 1.4v1.4M466.3 390.4v1.4m0 0.5v1.4m0 -0.3v1.4m0 0.5v1.4m0 -1.3v1.4m0 -1.2v1.4m0 -0.3v1.4m0 -1.1v1.4m0 -0.4v1.4m0 -1.4v1.4m0 -1.1v1.4m0 -0.8v1.4m0 -1.2v1.4m0 -1.1v1.4m0 -1.1v1.4m0 -0.6v1.4m0 -0.6v1.4m0 -0.8v1.4m0 -1.3v1.4m0 -1.3v1.4m0 -0.7v1.4m0 -1.3v1.4m0 -0.8v1.4m0 -0.4v1.4m0 -1.4v1.4m0 -0.8v1.4m0 -1.4v1.4m0 -1.2v1.4m0 0.9v1.4m0 -1v1.4M471.5 387v1.4m0 1.5v1.4m0 1.5v1.4m0 -0.9v1.4m0 -1v1.4m0 -0.9v1.4m0 -1.4v1.4m0 -0.5v1.4m0 -1.3v1.4m0 -1.3v1.4m0 -0.6v1.4m0 -0.3v1.4m0 -1.1v1.4m0 -0.3v1.4m0 -0.8v1.4m0 -1.1v1.4m0 -1.2v1.4m0 -0.8v1.4m0 -1.4v1.4m0 -1.2v1.4m0 -1v1.4m0 -1.3v1.4m0 -1.1v1.4m0 -1.3v1.4m0 -1.2v1.4m0 -1v1.4m0 -0.6v1.4m0 -1.4v1.4m0 -0.8v1.4m0 -0.1v1.4m0 -1.2v1.4m0 -1.2v1.4m0 -1.1v1.4m0 -0.7v1.4m0 0.2v1.4m0 -0.3v1.4m0 2.2v1.4M476.8 385.2v1.4m0 4.4v1.4m0 0.7v1.4m0 -1v1.4m0 -0.6v1.4m0 -1v1.4m0 0.3v1.4m0 -0.9v1.4m0 -1.3v1.4m0 -1.4v1.4m0 -0.4v1.4m0 -1.3v1.4m0 -1.3v1.4m0 -1.2v1.4m0 -0.6v1.4m0 -1.3v1.4m0 -1v1.4m0 -1.3v1.4m0 -1.1v1.4m0 -0.8v1.4m0 -0.1v1.4m0 -0.7v1.4m0 -1.3v1.4m0 -0.9v1.4m0 -1.3v1.4m0 -1.2v1.4m0 -1.1v1.4m0 -1v1.4m0 -1.1v1.4m0 -1.3v1.4m0 0.4v1.4m0 4v1.4M482 369.9v1.4m0 13.4v1.4m0 -1.2v1.4m0 0.2v1.4m0 1.8v1.4m0 -0.2v1.4m0 -0.6v1.4m0 -0.3v1.4m0 0.9v1.4m0 0v1.4m0 -1.2v1.4m0 -0.8v1.4m0 -1v1.4m0 -1.2v1.4m0 -0.7v1.4m0 -0.8v1.4m0 -1.4v1.4m0 -0.8v1.4m0 -0.9v1.4m0 -0.5v1.4m0 -1.2v1.4m0 -1.4v1.4m0 -1.3v1.4m0 -1v1.4m0 -1.4v1.4m0 -1.1v1.4m0 -0.9v1.4m0 -0.7v1.4m0 -0.7v1.4m0 -1v1.4m0 -1.2v1.4m0 -0.7v1.4m0 -1.2v1.4m0 -1.2v1.4m0 0.5v1.4M487.2 379.5v1.4m0 0.9v1.4m0 0.4v1.4m0 0.9v1.4m0 0.5v1.4m0 -0.2v1.4m0 -0.8v1.4m0 0.6v1.4m0 -1.2v1.4m0 0.3v1.4m0 -1.3v1.4m0 0.2v1.4m0 -1.3v1.4m0 -0.6v1.4m0 -1.4v1.4m0 -0.8v1.4m0 -1.4v1.4m0 -0.2v1.4m0 -1.1v1.4m0 -1.2v1.4m0 -0.2v1.4m0 -1.1v1.4m0 -0.3v1.4m0 -1.3v1.4m0 -1.2v1.4m0 -1v1.4m0 -1.3v1.4m0 -0.7v1.4m0 -1.1v1.4m0 -0v1.4m0 -1.1v1.4m0 -1.2v1.4M492.4 382v1.4m0 1v1.4m0 -1.1v1.4m0 0.6v1.4m0 0.8v1.4m0 0.7v1.4m0 0.8v1.4m0 -1.4v1.4m0 -1.3v1.4m0 -1v1.4m0 -0.3v1.4m0 -0.1v1.4m0 -0.6v1.4m0 -1.2v1.4m0 -0.6v1.4m0 -1v1.4m0 -0.7v1.4m0 -1.3v1.4m0 -0.7v1.4m0 -0.9v1.4m0 -1.4v1.4m0 -1.1v1.4m0 -1v1.4m0 -1v1.4m0 -1.3v1.4m0 0.6v1.4m0 -0.2v1.4m0 -0.8v1.4m0 -0.8v1.4M497.7 383.1v1.4m0 0.7v1.4m0 -1.3v1.4m0 0.8v1.4m0 -1.2v1.4m0 0.4v1.4m0 0.1v1.4m0 0.2v1.4m0 -0.6v1.4m0 -1.1v1.4m0 -1.4v1.4m0 -1.2v1.4m0 0.5v1.4m0 -0.9v1.4m0 -1.4v1.4m0 -1.4v1.4m0 -0v1.4m0 0.7v1.4m0 -0.5v1.4m0 0.2v1.4m0 1.7v1.4m0 0.3v1.4m0 -0.9v1.4M502.9 384.6v1.4m0 -0.4v1.4m0 -1.3v1.4m0 0.4v1.4m0 1.1v1.4m0 -1.4v1.4m0 0.1v1.4m0 -0.3v1.4m0 0.2v1.4m0 -1.2v1.4m0 -1.1v1.4m0 -1.1v1.4m0 -1.2v1.4m0 -1v1.4m0 -1v1.4m0 -0.8v1.4m0 -1v1.4m0 -0.5v1.4m0 -1.1v1.4m0 -0.4v1.4m0 -0.9v1.4m0 -0.2v1.4m0 5.5v1.4M508.1 383v1.4m0 0.6v1.4m0 -0.9v1.4m0 -0v1.4m0 -0.9v1.4m0 -1.4v1.4m0 -0.6v1.4m0 -0v1.4m0 -0.4v1.4m0 -0.4v1.4m0 -0.7v1.4m0 -0.6v1.4m0 -1.1v1.4m0 -0.2v1.4m0 -0.4v1.4m0 -1.4v1.4m0 0.8v1.4m0 -1.2v1.4m0 -0.5v1.4m0 0.5v1.4m0 -0.8v1.4m0 -0.1v1.4m0 2.6v1.4M513.3 374.5v1.4m0 1.6v1.4m0 1.9v1.4m0 0.1v1.4m0 -1v1.4m0 -1.3v1.4m0 0.3v1.4m0 0.3v1.4m0 -0.3v1.4m0 -0.8v1.4m0 -0.4v1.4m0 -1.2v1.4m0 1.6v1.4m0 -0.3v1.4m0 -1.3v1.4m0 -1.1v1.4m0 -0.8v1.4m0 -1.2v1.4m0 -1.1v1.4m0 -1v1.4m0 5.1v1.4M518.6 376.4v1.4m0 -1.2v1.4m0 -0.7v1.4m0 -0.9v1.4m0 2.4v1.4m0 2v1.4m0 3.5v1.4m0 0.5v1.4m0 -0.6v1.4m0 3.4v1.4m0 4.1v1.4M523.8 375.6v1.4m0 -0.7v1.4m0 -1.3v1.4m0 5.1v1.4m0 -0.1v1.4m0 2.1v1.4m0 1v1.4m0 -0.2v1.4m0 -1.2v1.4m0 -1.2v1.4m0 -1.1v1.4m0 -0.9v1.4m0 -1.3v1.4m0 -1.2v1.4m0 -1.2v1.4m0 -1.3v1.4m0 2.4v1.4m0 -1v1.4M529 371.6v1.4m0 3.2v1.4m0 -0.8v1.4m0 -1v1.4m0 2.7v1.4m0 -1v1.4m0 1.6v1.4m0 -1.3v1.4m0 0.3v1.4m0 -1.4v1.4m0 -0.1v1.4m0 -1.1v1.4m0 -0.2v1.4m0 -1v1.4m0 -1.2v1.4m0 -0.3v1.4m0 -0.8v1.4m0 -1.4v1.4m0 -1.2v1.4m0 -0.6v1.4m0 1.1v1.4M534.2 368.2v1.4m0 10.5v1.4m0 -1.3v1.4m0 0.5v1.4m0 -0.1v1.4m0 3.3v1.4m0 -0v1.4m0 -0.5v1.4m0 -0.7v1.4m0 0.9v1.4m0 3.9v1.4M539.5 367.6v1.4m0 9.1v1.4m0 0.8v1.4m0 0.1v1.4m0 1.3v1.4m0 -0.8v1.4m0 3.2v1.4m0 0.6v1.4m0 -0.7v1.4m0 -0v1.4m0 5.5v1.4M544.7 371.3v1.4m0 -0.6v1.4m0 -0.9v1.4m0 3.8v1.4m0 6.4v1.4m0 -1.2v1.4m0 -0.2v1.4m0 2.9v1.4m0 0v1.4m0 9.6v1.4M549.9 366.8v1.4m0 7.8v1.4m0 0.1v1.4m0 0.8v1.4m0 -0.5v1.4m0 -0.1v1.4m0 -0.5v1.4m0 -1.1v1.4m0 0.1v1.4m0 2.5v1.4m0 -0.1v1.4m0 0.9v1.4m0 -0.9v1.4m0 -0.8v1.4M555.1 371.8v1.4m0 1.6v1.4m0 -0.9v1.4m0 -0.7v1.4m0 3.9v1.4m0 -0.8v1.4m0 2.2v1.4m0 -0.3v1.4m0 -1.1v1.4m0 1v1.4m0 -0.8v1.4m0 -1.2v1.4m0 1.1v1.4M560.4 370.5v1.4m0 -0.6v1.4m0 5.4v1.4m0 4.8v1.4m0 0.6v1.4m0 -1.4v1.4m0 0.1v1.4m0 0.9v1.4m0 -1.4v1.4m0 0.4v1.4M565.6 366.1v1.4m0 7.6v1.4m0 1.5v1.4m0 -1v1.4m0 5.8v1.4m0 6.2v1.4M570.8 360.2v1.4m0 13.2v1.4m0 0.1v1.4m0 -1v1.4m0 -0.6v1.4m0 0.1v1.4m0 0.6v1.4m0 0.2v1.4m0 0.9v1.4m0 2.1v1.4m0 2.1v1.4M576 350.6v1.4m0 23.8v1.4m0 -0.6v1.4m0 0.1v1.4m0 3.6v1.4m0 -0.6v1.4M581.3 366.8v1.4m0 4.2v1.4M586.5 347.6v1.4m0 15.1v1.4m0 8.2v1.4m0 4v1.4M591.7 368.3v1.4m0 5.2v1.4m0 -0.9v1.4m0 11.2v1.4M597 366.1v1.4m0 1.1v1.4m0 8v1.4M602.2 380.3v1.4M607.4 382.6v1.4" stroke="#bc0000" stroke-width="1.4" fill="none"/>
<path d="M555.1 399.1l10.5 -2.1M529 353.2l26.1 -5.2M455.9 417l41.8 -8.4M513.3 411l10.5 -2.1M450.6 414.1l26.1 -5.2M492.4 389.5l36.6 -7.4M471.5 404l41.8 -8.4M471.5 412.5l41.8 -8.4M461.1 387.4l15.7 -3.2M487.2 404.8l31.4 -6.3M461.1 412.9l10.5 -2.1M440.2 414.4l10.5 -2.1M429.7 399.9l41.8 -8.4M440.2 420.5l47 -9.4M487.2 383l10.5 -2.1M429.7 414.6l31.4 -6.3M434.9 420.9l15.7 -3.2M508.1 375.6l10.5 -2.1M434.9 399.4l26.1 -5.2M424.5 415.1l31.4 -6.3M529 365.9l41.8 -8.4M440.2 397.5l41.8 -8.4M476.8 411.5l15.7 -3.1M487.2 377.1l41.8 -8.4M434.9 405.2l31.4 -6.3M461.1 390.2l36.6 -7.4M461.1 383l26.1 -5.2M429.7 413.3l31.4 -6.3M429.7 399l36.6 -7.4M466.3 374.2l36.6 -7.4M466.3 404.2l10.5 -2.1M429.7 419.3l31.4 -6.3M450.6 411.9l26.1 -5.2M492.4 411.5l31.4 -6.3M508.1 403.8l31.4 -6.3M466.3 409l36.6 -7.3M476.8 379.3l36.6 -7.4M450.6 387.4l47 -9.5M450.6 400.7l47 -9.5M476.8 409.5l26.1 -5.2M466.3 381.9l47 -9.5M424.5 396.1l36.6 -7.4M424.5 412.3l15.7 -3.2M482 378.6l41.8 -8.4M476.8 413.1l26.1 -5.2M508.1 381.8l15.7 -3.2M534.2 396.4l10.5 -2.1M455.9 420.5l41.8 -8.4M518.6 409.6l10.5 -2.1M424.5 421.9l10.5 -2.1M529 401.5l47 -9.5M482 415.3l31.4 -6.3" stroke="#f8c4c4" stroke-width="0.6" fill="none"/>
<path d="M476.8 407.1l20.9 -4.2M450.6 410.5l15.7 -3.1M440.2 404.5l10.5 -2.1M450.6 413.9l41.8 -8.4M487.2 391l31.4 -6.3M570.8 355.9l36.6 -7.4M502.9 388.8l10.5 -2.1M434.9 405.9l47 -9.5M429.7 401.7l41.8 -8.4M497.7 402.5l47 -9.5M502.9 389.7l31.4 -6.3M518.6 374.7l36.6 -7.4M471.5 388.4l20.9 -4.2M450.6 398.2l41.8 -8.4M424.5 407.1l31.4 -6.3M471.5 408.7l20.9 -4.2M429.7 415.7l41.8 -8.4M445.4 394.9l36.6 -7.4M461.1 409.8l20.9 -4.2M455.9 406.1l36.6 -7.4M450.6 399.5l15.7 -3.2M445.4 408.1l41.8 -8.4M529 398.9l10.5 -2.1M455.9 411.4l31.4 -6.3M476.8 404.4l36.6 -7.4M476.8 406.1l31.4 -6.3M466.3 409.3l31.4 -6.3M482 390.8l41.8 -8.4M429.7 414.5l47 -9.4M440.2 409.6l31.4 -6.3M513.3 365.7l15.7 -3.2M429.7 411.1l41.8 -8.4M450.6 391.6l41.8 -8.4M471.5 410.5l26.1 -5.2M445.4 417.3l10.5 -2.1M555.1 388l10.5 -2.1M434.9 397.1l36.6 -7.4M455.9 396.7l36.6 -7.4M445.4 408l10.5 -2.1M523.8 379.4l31.4 -6.3M429.7 402.4l15.7 -3.2M544.7 385.8l10.5 -2.1M492.4 378l31.4 -6.3M555.1 397.5l41.8 -8.4M497.7 380.9l20.9 -4.2M440.2 411.1l36.6 -7.4M471.5 399.1l41.8 -8.4M471.5 394.9l26.1 -5.2M434.9 418l26.1 -5.2M450.6 401.9l31.4 -6.3M466.3 387.1l47 -9.4M513.3 400.2l15.7 -3.2M518.6 399.7l26.1 -5.2M508.1 374.7l26.1 -5.2M471.5 399.4l10.5 -2.1M450.6 388.6l41.8 -8.4M440.2 404.2l10.5 -2.1M508.1 391.9l20.9 -4.2M461.1 405.1l41.8 -8.4M445.4 409.6l47 -9.4M534.2 403.7l31.4 -6.3M502.9 381.6l31.4 -6.3M476.8 398.1l31.4 -6.3M445.4 412.5l36.6 -7.4M508.1 380.1l31.4 -6.3M560.4 349.5l26.1 -5.2M429.7 407.1l47 -9.5M440.2 399.8l41.8 -8.4M455.9 395.7l26.1 -5.2M482 406.5l41.8 -8.4M440.2 403.4l36.6 -7.3M492.4 408.7l31.4 -6.3M461.1 397.6l31.4 -6.3M450.6 398.1l36.6 -7.4M424.5 413.9l31.4 -6.3M518.6 397.1l20.9 -4.2M461.1 399.9l41.8 -8.4M455.9 411.7l41.8 -8.4M424.5 401.3l41.8 -8.4M455.9 411.6l26.1 -5.2M461.1 410.8l41.8 -8.4M450.6 399.2l10.5 -2.1M455.9 390.6l15.7 -3.2M440.2 394.3l41.8 -8.4M466.3 404.7l31.4 -6.3M518.6 392.5l47 -9.5M518.6 377.4l41.8 -8.4M429.7 412.7l41.8 -8.4M445.4 410.3l31.4 -6.3M434.9 412.9l10.5 -2.1M450.6 410.8l41.8 -8.4M429.7 401.4l36.6 -7.3M555.1 390.1l41.8 -8.4M492.4 404.7l31.4 -6.3M429.7 394l31.4 -6.3M445.4 393.6l26.1 -5.2M508.1 405.6l26.1 -5.2M508.1 401.8l31.4 -6.3M466.3 412.8l10.5 -2.1M424.5 404.4l10.5 -2.1M466.3 389.4l31.4 -6.3" stroke="#f27878" stroke-width="0.6" fill="none"/>
<path d="M445.4 400.4l36.6 -7.4M440.2 402.7l41.8 -8.4M450.6 403.6l36.6 -7.4M466.3 406.3l41.8 -8.4M455.9 393.5l20.9 -4.2M424.5 405.7l36.6 -7.4M424.5 408.1l15.7 -3.2M466.3 402.8l31.4 -6.3M434.9 405.1l20.9 -4.2M455.9 410l41.8 -8.4M476.8 408.1l26.1 -5.2M565.6 388.6l41.8 -8.4M508.1 391.2l20.9 -4.2M429.7 400.4l26.1 -5.2M466.3 400l20.9 -4.2M513.3 395l26.1 -5.2M482 405.2l10.5 -2.1M508.1 398.2l47 -9.4M424.5 404.6l41.8 -8.4M549.9 391.2l26.1 -5.2M482 389.7l36.6 -7.3M440.2 404.2l26.1 -5.2M461.1 405.5l31.4 -6.3M455.9 400.2l26.1 -5.2M471.5 399l26.1 -5.2M440.2 400.4l41.8 -8.4M440.2 402.4l15.7 -3.1M445.4 410.4l41.8 -8.4M476.8 403.5l41.8 -8.4M445.4 408.2l36.6 -7.4M529 385l10.5 -2.1M424.5 411l41.8 -8.4M429.7 402.9l10.5 -2.1M461.1 401.1l26.1 -5.2M565.6 357.9l15.7 -3.1M487.2 383l36.6 -7.3M482 390.2l41.8 -8.4M445.4 408.8l31.4 -6.3M445.4 400.8l41.8 -8.4M461.1 403.1l47 -9.4M440.2 408.1l41.8 -8.4M523.8 411.9l15.7 -3.1M497.7 405.5l15.7 -3.1M482 397.4l47 -9.5M487.2 390.4l41.8 -8.4M539.5 392.6l36.6 -7.3M513.3 389.5l47 -9.4M534.2 394.7l41.8 -8.4M492.4 393.8l36.6 -7.4M492.4 402.5l15.7 -3.1M455.9 410l26.1 -5.2M440.2 411.5l36.6 -7.4M560.4 368.4l41.8 -8.4M445.4 403.6l10.5 -2.1M455.9 404.6l36.6 -7.4M482 402.5l31.4 -6.3M471.5 404.8l26.1 -5.2M424.5 420.8l31.4 -6.3M529 398.2l31.4 -6.3M466.3 397.4l41.8 -8.4M429.7 402.4l20.9 -4.2M497.7 392.9l41.8 -8.4M508.1 389.7l20.9 -4.2M445.4 412.1l47 -9.4M440.2 409.6l36.6 -7.3M466.3 408.9l47 -9.4M492.4 399.1l47 -9.4M466.3 403.8l36.6 -7.4M529 382.7l31.4 -6.3M471.5 400.9l41.8 -8.4M476.8 401.6l10.5 -2.1M461.1 394.7l47 -9.4M466.3 410.3l41.8 -8.4M492.4 403l41.8 -8.4M492.4 384.3l31.4 -6.3M450.6 413.8l41.8 -8.4M466.3 394.7l47 -9.4M544.7 380.7l41.8 -8.4M445.4 405.6l41.8 -8.4M429.7 406.2l36.6 -7.3M455.9 409.1l36.6 -7.4M434.9 406l31.4 -6.3M560.4 383l41.8 -8.4M487.2 386.5l36.6 -7.3M424.5 411.8l41.8 -8.4M539.5 394.8l31.4 -6.3M455.9 404.5l15.7 -3.2M466.3 393.9l20.9 -4.2M471.5 404.1l36.6 -7.4M471.5 393.8l31.4 -6.3M549.9 355.3l41.8 -8.4M502.9 388.5l41.8 -8.4M497.7 397.4l36.6 -7.4M492.4 406.2l26.1 -5.2M482 401.5l36.6 -7.3M534.2 395l36.6 -7.3M455.9 397.9l26.1 -5.2M508.1 398l15.7 -3.2M455.9 409.4l41.8 -8.4M429.7 402.8l20.9 -4.2M487.2 397l31.4 -6.3M466.3 404.3l26.1 -5.2M424.5 409.3l20.9 -4.2M471.5 395.8l41.8 -8.4M434.9 407.1l36.6 -7.4M523.8 383.9l20.9 -4.2M518.6 386.9l10.5 -2.1M440.2 408.8l36.6 -7.3M424.5 406l31.4 -6.3M450.6 405.4l20.9 -4.2M497.7 403.8l31.4 -6.3M549.9 382.4l20.9 -4.2M471.5 393.5l36.6 -7.4M476.8 392.9l26.1 -5.2M502.9 390.8l10.5 -2.1M476.8 394l15.7 -3.2M482 401.9l41.8 -8.4M565.6 378.4l10.5 -2.1M434.9 406.7l41.8 -8.4M476.8 403.2l31.4 -6.3M502.9 383.9l31.4 -6.3M424.5 408.6l20.9 -4.2M445.4 407.9l15.7 -3.1M471.5 392.9l41.8 -8.4M518.6 379.5l15.7 -3.1M466.3 398.2l47 -9.4M497.7 387l31.4 -6.3M450.6 399.4l31.4 -6.3M523.8 393.5l10.5 -2.1M502.9 402.1l10.5 -2.1M429.7 412.3l47 -9.4M455.9 403.5l36.6 -7.4M529 391.9l41.8 -8.4M529 396.4l20.9 -4.2" stroke="#e82222" stroke-width="0.6" fill="none"/>
<path d="M434.9 406.9l36.6 -7.4M523.8 386.7l31.4 -6.3M429.7 400.1l36.6 -7.4M466.3 400.8l31.4 -6.3M440.2 407.3l31.4 -6.3M518.6 385.9l41.8 -8.4M497.7 401l47 -9.4M424.5 413.2l36.6 -7.3M471.5 406.3l36.6 -7.4M508.1 388.5l10.5 -2.1M502.9 396.9l20.9 -4.2M424.5 413.1l36.6 -7.4M487.2 397.4l10.5 -2.1M471.5 406.6l20.9 -4.2M429.7 409.7l41.8 -8.4M508.1 377.8l41.8 -8.4M424.5 406.2l10.5 -2.1M424.5 408.6l31.4 -6.3M455.9 402.4l31.4 -6.3M471.5 391.9l36.6 -7.4M445.4 405.4l15.7 -3.1M450.6 405.6l10.5 -2.1M497.7 395.6l36.6 -7.3M424.5 406.3l41.8 -8.4M424.5 410.8l15.7 -3.1M455.9 401.4l41.8 -8.4M555.1 384.5l47 -9.4M440.2 400.4l41.8 -8.4M445.4 403.2l47 -9.4M471.5 403.6l20.9 -4.2M434.9 410.2l47 -9.4M445.4 407.5l41.8 -8.4M487.2 388.6l41.8 -8.4M424.5 407l41.8 -8.4M424.5 408.8l15.7 -3.2M492.4 398.7l31.4 -6.3M429.7 415l36.6 -7.3M450.6 405.4l41.8 -8.4M549.9 386.8l36.6 -7.4M466.3 401.8l31.4 -6.3M424.5 409.6l26.1 -5.2M534.2 389.8l26.1 -5.2M518.6 396.5l41.8 -8.4M476.8 399.9l31.4 -6.3M565.6 373.4l41.8 -8.4M450.6 406.6l26.1 -5.2M539.5 386.2l31.4 -6.3M450.6 398.2l36.6 -7.3M482 402.3l31.4 -6.3M497.7 389.2l41.8 -8.4M549.9 385.9l36.6 -7.3M434.9 407.7l31.4 -6.3M502.9 389.2l41.8 -8.4M434.9 408l20.9 -4.2M424.5 411.5l41.8 -8.4M445.4 403.2l15.7 -3.2M560.4 382.2l41.8 -8.4M476.8 401.8l26.1 -5.2M502.9 387.4l10.5 -2.1M502.9 402.5l36.6 -7.3M487.2 394.8l15.7 -3.2M471.5 401.7l36.6 -7.3M513.3 398.7l41.8 -8.4M445.4 402.7l31.4 -6.3M429.7 409.9l36.6 -7.4M455.9 395.3l31.4 -6.3M440.2 403l10.5 -2.1M518.6 391.9l20.9 -4.2M445.4 409.5l36.6 -7.4M424.5 403.9l47 -9.4M544.7 390.2l15.7 -3.2M445.4 399.5l47 -9.4M466.3 401.3l15.7 -3.2M492.4 398.4l10.5 -2.1M565.6 378.1l41.8 -8.4M492.4 397.3l47 -9.4M476.8 399.9l31.4 -6.3M445.4 404.2l36.6 -7.4M570.8 375.8l20.9 -4.2M502.9 381.2l41.8 -8.4M529 391.8l10.5 -2.1M455.9 406.7l10.5 -2.1M461.1 400.5l41.8 -8.4M424.5 408l41.8 -8.4M434.9 407.5l20.9 -4.2M492.4 389l20.9 -4.2M461.1 405.7l31.4 -6.3M434.9 403.1l41.8 -8.4M518.6 388.9l10.5 -2.1M429.7 408.8l36.6 -7.4M534.2 401l36.6 -7.3M424.5 410.8l47 -9.4M508.1 386.2l26.1 -5.2M461.1 401.7l26.1 -5.2M445.4 409.5l10.5 -2.1M434.9 407.9l41.8 -8.4M461.1 405l31.4 -6.3M476.8 399.1l36.6 -7.4M429.7 409.9l31.4 -6.3M434.9 407.6l47 -9.4M434.9 402.1l47 -9.4M455.9 397.2l20.9 -4.2M529 384.2l41.8 -8.4M445.4 405.7l47 -9.4M450.6 408.8l47 -9.4M440.2 412.3l10.5 -2.1M497.7 400.8l15.7 -3.1M445.4 410.7l36.6 -7.3M445.4 404.2l36.6 -7.4M497.7 396.8l31.4 -6.3M434.9 407.9l31.4 -6.3M570.8 386.4l36.6 -7.3M518.6 386.4l31.4 -6.3M440.2 410l31.4 -6.3M502.9 394l31.4 -6.3M513.3 392.2l15.7 -3.2M466.3 394.7l10.5 -2.1M513.3 387.7l47 -9.4M487.2 398.1l26.1 -5.2M461.1 394.1l26.1 -5.2M450.6 400.8l36.6 -7.4M450.6 408l41.8 -8.4M492.4 391.8l47 -9.4M461.1 405.4l26.1 -5.2M534.2 384.8l15.7 -3.2M434.9 411.7l31.4 -6.3M534.2 392.7l41.8 -8.4M529 392.2l20.9 -4.2M523.8 379.9l26.1 -5.2M450.6 407l36.6 -7.4M544.7 392.9l20.9 -4.2M429.7 405.7l36.6 -7.4M429.7 408l15.7 -3.1" stroke="#c40606" stroke-width="0.6" fill="none"/></g>
<g clip-path="url(#cC)"><path d="M130.9 629v1.4m0 30.6v1.4m0 35.8v1.4M136.1 643.8v1.4m0 4.6v1.4m0 36.4v1.4m0 8.1v1.4m0 -0.3v1.4m0 27.4v1.4M141.3 618.8v1.4m0 6.9v1.4m0 4.2v1.4m0 0.2v1.4m0 2.2v1.4m0 3.6v1.4m0 12.1v1.4m0 -0.7v1.4m0 -0.9v1.4m0 1.8v1.4m0 -1v1.4m0 7v1.4m0 14.4v1.4m0 4v1.4m0 1.4v1.4m0 -0.3v1.4m0 8.5v1.4m0 5.7v1.4m0 2.7v1.4M146.6 628.7v1.4m0 9.8v1.4m0 3.4v1.4m0 -0.9v1.4m0 -1.4v1.4m0 -1.3v1.4m0 1.5v1.4m0 -0.2v1.4m0 42.1v1.4m0 0.7v1.4m0 1.1v1.4m0 -1.2v1.4m0 -1.3v1.4m0 6.4v1.4m0 -0.3v1.4m0 3.9v1.4M151.8 618.7v1.4m0 4.4v1.4m0 2.1v1.4m0 7.4v1.4m0 -1.3v1.4m0 -0.8v1.4m0 -1.1v1.4m0 1.4v1.4m0 7.6v1.4m0 -0v1.4m0 2v1.4m0 -0.2v1.4m0 23.7v1.4m0 -0.1v1.4m0 1.3v1.4m0 5.2v1.4m0 -0.4v1.4m0 0.6v1.4m0 -1.1v1.4m0 -0.5v1.4m0 0v1.4m0 -0.7v1.4m0 0.4v1.4m0 5.3v1.4m0 -0.4v1.4m0 0.5v1.4M157 619.6v1.4m0 0.5v1.4m0 19.1v1.4m0 -0.1v1.4m0 11.1v1.4m0 26.3v1.4m0 1.3v1.4m0 -0.6v1.4m0 -0.4v1.4m0 0.9v1.4m0 -1.2v1.4m0 2.2v1.4m0 -0.8v1.4m0 1.1v1.4m0 -1.4v1.4m0 -0.4v1.4m0 2.3v1.4m0 5.7v1.4m0 0.8v1.4M162.3 623.5v1.4m0 -0.1v1.4m0 2.1v1.4m0 -0.4v1.4m0 8.7v1.4m0 0.3v1.4m0 -1.4v1.4m0 3.8v1.4m0 0.1v1.4m0 -0.7v1.4m0 -1.3v1.4m0 26.3v1.4m0 4.9v1.4m0 -0.9v1.4m0 -1.3v1.4m0 -0.6v1.4m0 3.6v1.4m0 -0.7v1.4m0 -0.2v1.4m0 -0.2v1.4m0 -0.3v1.4m0 -0.4v1.4m0 4.4v1.4m0 -0.6v1.4m0 2.3v1.4m0 1v1.4M167.5 603.3v1.4m0 15.1v1.4m0 1.4v1.4m0 -1.1v1.4m0 -1.3v1.4m0 5v1.4m0 10v1.4m0 6.3v1.4m0 11.5v1.4m0 18.6v1.4m0 -0.6v1.4m0 -0.8v1.4m0 -1.3v1.4m0 -0.9v1.4m0 -0.5v1.4m0 -1.1v1.4m0 0.7v1.4m0 -1v1.4m0 -0.8v1.4m0 1.4v1.4m0 0v1.4m0 -0.6v1.4m0 1.3v1.4m0 -1.3v1.4m0 0.1v1.4m0 0.7v1.4m0 0.5v1.4m0 19.9v1.4M172.7 604.7v1.4m0 1.6v1.4m0 3.9v1.4m0 11.8v1.4m0 3.1v1.4m0 0.5v1.4m0 2.6v1.4m0 2.6v1.4m0 0.3v1.4m0 -0.5v1.4m0 0.9v1.4m0 0.2v1.4m0 17.8v1.4m0 4.6v1.4m0 2.5v1.4m0 5.3v1.4m0 -0.9v1.4m0 -1.2v1.4m0 4.6v1.4m0 -0.8v1.4m0 -1.3v1.4m0 0.8v1.4m0 0.3v1.4m0 2.8v1.4m0 0.2v1.4m0 0.4v1.4m0 1.5v1.4M178 610.8v1.4m0 -0.3v1.4m0 2.6v1.4m0 0.4v1.4m0 12.1v1.4m0 -1.1v1.4m0 -0.7v1.4m0 -1v1.4m0 2.8v1.4m0 1.9v1.4m0 -0.4v1.4m0 -1.4v1.4m0 11.9v1.4m0 2.3v1.4m0 19.3v1.4m0 0.9v1.4m0 -1.2v1.4m0 -1.3v1.4m0 -0.7v1.4m0 -1.2v1.4m0 -0.8v1.4m0 -0.5v1.4m0 -0.9v1.4m0 -0.7v1.4m0 -0.6v1.4m0 -1.4v1.4m0 1.5v1.4m0 4.4v1.4m0 -0.1v1.4m0 0.6v1.4m0 15.3v1.4M183.2 585.2v1.4m0 21.4v1.4m0 0.2v1.4m0 1.9v1.4m0 1.1v1.4m0 -0.1v1.4m0 2.5v1.4m0 2.5v1.4m0 7v1.4m0 -1.4v1.4m0 2.7v1.4m0 -0.9v1.4m0 -0.4v1.4m0 -0.9v1.4m0 5.9v1.4m0 11.2v1.4m0 14.8v1.4m0 2.3v1.4m0 0.6v1.4m0 0.1v1.4m0 -0.9v1.4m0 -0v1.4m0 -0.2v1.4m0 -0.5v1.4m0 3.1v1.4m0 0.6v1.4m0 -0.2v1.4m0 -0.3v1.4m0 -0.6v1.4m0 10v1.4M188.4 611.7v1.4m0 4.8v1.4m0 9.5v1.4m0 -0.4v1.4m0 -1.1v1.4m0 -1.1v1.4m0 2.4v1.4m0 0.8v1.4m0 -1.4v1.4m0 -0.2v1.4m0 3.6v1.4m0 -0.7v1.4m0 8.5v1.4m0 19.4v1.4m0 3.6v1.4m0 -1.4v1.4m0 1.3v1.4m0 3.3v1.4m0 -1.4v1.4m0 1.7v1.4m0 1.5v1.4m0 0.6v1.4m0 -0.2v1.4m0 7.1v1.4m0 0.4v1.4m0 23.4v1.4M193.6 598.5v1.4m0 -1.3v1.4m0 6v1.4m0 -0.4v1.4m0 1.6v1.4m0 1.8v1.4m0 14v1.4m0 1.6v1.4m0 -0.2v1.4m0 5.2v1.4m0 -0.8v1.4m0 6v1.4m0 13.4v1.4m0 4.9v1.4m0 5.5v1.4m0 -0.1v1.4m0 0.2v1.4m0 -0.7v1.4m0 2.4v1.4m0 -0.3v1.4m0 0.2v1.4m0 -1v1.4m0 -0.1v1.4m0 0.2v1.4m0 -0.9v1.4m0 -1.3v1.4m0 -0.6v1.4m0 0.1v1.4m0 2.9v1.4m0 0.6v1.4m0 3.8v1.4m0 -0.4v1.4m0 3.4v1.4m0 0.4v1.4M198.9 592.7v1.4m0 23.2v1.4m0 -0.4v1.4m0 0.2v1.4m0 3v1.4m0 7.2v1.4m0 1.2v1.4m0 17.1v1.4m0 19.6v1.4m0 -0.5v1.4m0 -0.8v1.4m0 -1.3v1.4m0 1.1v1.4m0 4.4v1.4m0 -1.3v1.4m0 0.2v1.4m0 -1.2v1.4m0 -0.1v1.4m0 7.6v1.4m0 14.7v1.4M204.1 584.1v1.4m0 17v1.4m0 9.1v1.4m0 0v1.4m0 0.3v1.4m0 0v1.4m0 4.7v1.4m0 5.5v1.4m0 11.4v1.4m0 33.7v1.4m0 -1v1.4m0 3.1v1.4m0 1v1.4m0 2.7v1.4m0 0.4v1.4m0 10.2v1.4m0 3.4v1.4M209.3 593.8v1.4m0 10v1.4m0 -1.1v1.4m0 1.7v1.4m0 2.4v1.4m0 2.2v1.4m0 0.9v1.4m0 -0.3v1.4m0 0.2v1.4m0 5.4v1.4m0 1.4v1.4m0 -1v1.4m0 -0.2v1.4m0 -0.1v1.4m0 22.1v1.4m0 6.1v1.4m0 -0.7v1.4m0 6.6v1.4m0 2v1.4m0 -0.9v1.4m0 -0v1.4m0 -1.1v1.4m0 -0.4v1.4m0 8.5v1.4m0 0.9v1.4m0 -1.2v1.4m0 8v1.4m0 0.1v1.4m0 9.6v1.4m0 7.9v1.4M214.6 595.1v1.4m0 4.9v1.4m0 -1.3v1.4m0 -0.1v1.4m0 -0.3v1.4m0 -0.3v1.4m0 9.4v1.4m0 3.9v1.4m0 0.7v1.4m0 6.8v1.4m0 1.2v1.4m0 30.7v1.4m0 7.2v1.4m0 4.9v1.4m0 -1.3v1.4m0 3.7v1.4m0 -1v1.4m0 -0.8v1.4m0 -0.2v1.4m0 -0.3v1.4m0 4.7v1.4m0 7.5v1.4m0 15.4v1.4M219.8 576.1v1.4m0 12.2v1.4m0 4.5v1.4m0 1.5v1.4m0 -0.6v1.4m0 4.2v1.4m0 0.1v1.4m0 2.2v1.4m0 -0.7v1.4m0 8.6v1.4m0 2.2v1.4m0 1.3v1.4m0 5.6v1.4m0 36.8v1.4m0 1.8v1.4m0 -0.6v1.4m0 -1v1.4m0 3v1.4m0 1.5v1.4m0 1.8v1.4m0 -0.3v1.4m0 -1.2v1.4m0 3.8v1.4m0 0.7v1.4m0 0.6v1.4m0 3.4v1.4m0 6.6v1.4m0 1.4v1.4M225 594.5v1.4m0 1.6v1.4m0 10.5v1.4m0 1.4v1.4m0 11.3v1.4m0 5.4v1.4m0 -0.9v1.4m0 15.5v1.4m0 2v1.4m0 13.2v1.4m0 5v1.4m0 0.3v1.4m0 -0.2v1.4m0 2.9v1.4m0 -1.3v1.4m0 -1.2v1.4m0 -1.4v1.4m0 3.3v1.4m0 -0.1v1.4m0 -0.8v1.4m0 1.3v1.4m0 -0.9v1.4m0 8.6v1.4m0 0.4v1.4m0 -0.1v1.4m0 0.9v1.4M230.3 572.2v1.4m0 10.9v1.4m0 9.6v1.4m0 -0.2v1.4m0 9.9v1.4m0 -1.2v1.4m0 -0.3v1.4m0 5.6v1.4m0 2.3v1.4m0 -0.2v1.4m0 2.7v1.4m0 42.9v1.4m0 2.5v1.4m0 3.1v1.4m0 -0.3v1.4m0 2.4v1.4m0 -0.2v1.4m0 0.1v1.4m0 -0.9v1.4m0 -0.7v1.4m0 -0.4v1.4m0 0.3v1.4m0 -0.8v1.4m0 1.4v1.4m0 0.3v1.4m0 7.1v1.4M235.5 557.6v1.4m0 6.2v1.4m0 18.9v1.4m0 12.4v1.4m0 2.1v1.4m0 3.3v1.4m0 -1.1v1.4m0 0.6v1.4m0 2.2v1.4m0 1.5v1.4m0 -1.2v1.4m0 2.1v1.4m0 3.2v1.4m0 0.5v1.4m0 -0.6v1.4m0 8.7v1.4m0 0.4v1.4m0 10.5v1.4m0 1.1v1.4m0 6.6v1.4m0 7.4v1.4m0 0v1.4m0 -0.2v1.4m0 -0.3v1.4m0 -0.8v1.4m0 -0.1v1.4m0 5.4v1.4m0 -0.4v1.4m0 0.1v1.4m0 1.1v1.4m0 0.4v1.4m0 2.2v1.4m0 -0.8v1.4m0 -0.5v1.4m0 -0.1v1.4m0 -0.5v1.4m0 3.9v1.4M240.7 565.1v1.4m0 0.5v1.4m0 6.6v1.4m0 6.9v1.4m0 6.9v1.4m0 2.6v1.4m0 3.1v1.4m0 0.6v1.4m0 2.4v1.4m0 -0.5v1.4m0 1.6v1.4m0 8v1.4m0 0.9v1.4m0 50.2v1.4m0 -0.7v1.4m0 8.7v1.4m0 -1v1.4m0 -0.2v1.4m0 2.4v1.4m0 20.4v1.4M245.9 550.1v1.4m0 23v1.4m0 1.4v1.4m0 0.6v1.4m0 11.6v1.4m0 14.3v1.4m0 -1.3v1.4m0 -1v1.4m0 2.2v1.4m0 2.8v1.4m0 3.5v1.4m0 2v1.4m0 0.4v1.4m0 8v1.4m0 0.4v1.4m0 31.8v1.4m0 2v1.4m0 -0.8v1.4m0 -0v1.4m0 -0.6v1.4m0 1.2v1.4m0 -0.1v1.4m0 1v1.4m0 1.8v1.4m0 0.6v1.4m0 -0.5v1.4m0 0.7v1.4m0 -1v1.4M251.2 552.1v1.4m0 19.3v1.4m0 5v1.4m0 5v1.4m0 1.4v1.4m0 4.9v1.4m0 3v1.4m0 5.8v1.4m0 4.1v1.4m0 -0.3v1.4m0 -1.1v1.4m0 5.5v1.4m0 7.4v1.4m0 14.8v1.4m0 21.9v1.4m0 0.4v1.4m0 0.5v1.4m0 -0v1.4m0 -0.9v1.4m0 -0.1v1.4m0 -0.3v1.4m0 3.8v1.4m0 -0.1v1.4m0 1.1v1.4m0 -0.9v1.4m0 3.8v1.4m0 -0.9v1.4m0 14.5v1.4m0 5.6v1.4M256.4 547.9v1.4m0 2.6v1.4m0 32.7v1.4m0 -1.2v1.4m0 4.5v1.4m0 1.9v1.4m0 0v1.4m0 -1.3v1.4m0 2.8v1.4m0 0.6v1.4m0 0.9v1.4m0 2.6v1.4m0 0v1.4m0 1.9v1.4m0 4.8v1.4m0 2.3v1.4m0 2.2v1.4m0 8.3v1.4m0 21v1.4m0 5.1v1.4m0 2.2v1.4m0 -1.1v1.4m0 -0.4v1.4m0 -1.2v1.4m0 1.9v1.4m0 -0.2v1.4m0 2v1.4m0 -0.2v1.4m0 2v1.4m0 12.3v1.4m0 9.2v1.4m0 18.6v1.4M261.6 555.4v1.4m0 12.9v1.4m0 7.2v1.4m0 15.3v1.4m0 0.3v1.4m0 1.2v1.4m0 4.7v1.4m0 3.9v1.4m0 0.8v1.4m0 25.7v1.4m0 8.6v1.4m0 15.5v1.4m0 0.3v1.4m0 0.1v1.4m0 0.5v1.4m0 1.1v1.4m0 1.5v1.4m0 -0.4v1.4m0 2.3v1.4m0 -1.3v1.4m0 0.2v1.4m0 -0.9v1.4m0 0.1v1.4m0 10.7v1.4m0 1.9v1.4m0 2.4v1.4M266.9 552.6v1.4m0 2.9v1.4m0 5.1v1.4m0 3.6v1.4m0 13.6v1.4m0 3.6v1.4m0 3.3v1.4m0 1.2v1.4m0 3v1.4m0 -0.9v1.4m0 1.8v1.4m0 1v1.4m0 5.2v1.4m0 1.7v1.4m0 20v1.4m0 9.4v1.4m0 10.2v1.4m0 5.8v1.4m0 2.5v1.4m0 -0.3v1.4m0 3v1.4m0 -0.6v1.4m0 3.6v1.4m0 0.6v1.4m0 0.5v1.4m0 -0.8v1.4m0 3v1.4m0 0.6v1.4m0 23.2v1.4m0 3.6v1.4M272.1 555.5v1.4m0 10.7v1.4m0 -0.2v1.4m0 0.6v1.4m0 10v1.4m0 8v1.4m0 -0.9v1.4m0 -1.3v1.4m0 1.2v1.4m0 14.7v1.4m0 1.2v1.4m0 -1.1v1.4m0 22.3v1.4m0 16.8v1.4m0 9.7v1.4m0 3.6v1.4m0 2.3v1.4m0 -0.5v1.4m0 2v1.4m0 -0.8v1.4m0 2.1v1.4m0 2.2v1.4m0 2.5v1.4m0 -1.2v1.4m0 0.3v1.4m0 1.2v1.4M277.3 565.1v1.4m0 2.7v1.4m0 15.2v1.4m0 1.3v1.4m0 1.3v1.4m0 2.5v1.4m0 -0.9v1.4m0 -0.4v1.4m0 0.4v1.4m0 -0.2v1.4m0 1v1.4m0 4.9v1.4m0 0.9v1.4m0 -1.2v1.4m0 12.7v1.4m0 -1v1.4m0 15v1.4m0 20.4v1.4m0 6.7v1.4m0 -0.4v1.4m0 -1.2v1.4m0 0.3v1.4m0 0.4v1.4m0 -0.8v1.4m0 -1.3v1.4m0 -0.1v1.4m0 -1.3v1.4m0 -0.1v1.4m0 1.2v1.4m0 -0.8v1.4m0 0.4v1.4m0 -1.3v1.4m0 -1.2v1.4m0 0.5v1.4m0 -0.6v1.4m0 -1v1.4m0 1.1v1.4m0 8.4v1.4m0 10.1v1.4M282.6 562.4v1.4m0 17.4v1.4m0 -1.3v1.4m0 4.2v1.4m0 -1.2v1.4m0 5.4v1.4m0 -0.1v1.4m0 -0.4v1.4m0 -0.7v1.4m0 8v1.4m0 25.3v1.4m0 8.5v1.4m0 4v1.4m0 7.8v1.4m0 7.9v1.4m0 2.1v1.4m0 1.8v1.4m0 -1.2v1.4m0 -1.3v1.4m0 1.2v1.4m0 1.2v1.4m0 -0.6v1.4m0 -1.3v1.4m0 -0.9v1.4m0 -0.3v1.4m0 -0.9v1.4m0 -1.1v1.4m0 4.4v1.4m0 3.5v1.4m0 -1.3v1.4m0 10.2v1.4M287.8 542.3v1.4m0 6.2v1.4m0 4.8v1.4m0 4.1v1.4m0 6.1v1.4m0 4.2v1.4m0 5.5v1.4m0 14.2v1.4m0 7.4v1.4m0 8.1v1.4m0 47.6v1.4m0 13.2v1.4m0 4.3v1.4m0 0.4v1.4M293 557.1v1.4m0 17.4v1.4m0 7.4v1.4m0 17.9v1.4m0 2.8v1.4m0 11.4v1.4m0 49.3v1.4m0 10v1.4m0 17.7v1.4M298.2 547.4v1.4m0 6v1.4m0 0.6v1.4m0 35v1.4m0 8.7v1.4m0 59.3v1.4m0 -0.1v1.4m0 0.4v1.4m0 -0.2v1.4m0 2.8v1.4m0 -0.3v1.4m0 1.2v1.4m0 0.8v1.4M303.5 555.7v1.4m0 31.2v1.4m0 1.8v1.4m0 3.7v1.4m0 56v1.4m0 -0.6v1.4m0 4v1.4m0 2.7v1.4m0 -0.1v1.4m0 -0.9v1.4m0 -0.1v1.4m0 1.2v1.4m0 1.4v1.4m0 1.4v1.4m0 20.3v1.4M308.7 566.7v1.4m0 18.6v1.4m0 74.9v1.4m0 6.1v1.4m0 11.4v1.4m0 -0.6v1.4M313.9 568.6v1.4m0 21v1.4m0 56.7v1.4m0 6.9v1.4m0 5.1v1.4m0 5.1v1.4M324.4 537.2v1.4m0 136.2v1.4m0 4.5v1.4M329.6 571.4v1.4M334.9 611.2v1.4" stroke="#6ab8e8" stroke-width="1.4" fill="none"/>
<path d="M130.9 633.6v1.4m0 14.9v1.4m0 -0.6v1.4m0 0.2v1.4m0 2.5v1.4m0 10.9v1.4m0 19v1.4m0 -0.9v1.4M136.1 632.1v1.4m0 3.5v1.4m0 8.4v1.4m0 3.8v1.4m0 -1v1.4m0 0.4v1.4m0 0.6v1.4m0 -0.6v1.4m0 6.1v1.4m0 -0.9v1.4m0 -0.6v1.4m0 -0.6v1.4m0 8.8v1.4m0 4.4v1.4m0 2.1v1.4m0 -0.7v1.4m0 -0.6v1.4m0 3.5v1.4m0 -1.4v1.4m0 0.1v1.4m0 1.3v1.4m0 5.5v1.4M141.3 615.9v1.4m0 16.6v1.4m0 3v1.4m0 0.6v1.4m0 0.8v1.4m0 1.2v1.4m0 1.1v1.4m0 -1.1v1.4m0 -0.3v1.4m0 1.5v1.4m0 3.2v1.4m0 2v1.4m0 -1.2v1.4m0 10.7v1.4m0 0.8v1.4m0 -0.3v1.4m0 5.4v1.4m0 -1.1v1.4m0 -1.2v1.4m0 0.4v1.4m0 -1.2v1.4m0 1.6v1.4m0 -0.4v1.4m0 -1.3v1.4m0 -0.1v1.4m0 -1.2v1.4m0 -1v1.4m0 -1.2v1.4m0 -0.6v1.4m0 1.5v1.4m0 0.2v1.4m0 2.6v1.4m0 0.2v1.4M146.6 626.8v1.4m0 -0.6v1.4m0 12.2v1.4m0 0.7v1.4m0 -1.1v1.4m0 -0.8v1.4m0 -0.7v1.4m0 -1.4v1.4m0 -0.4v1.4m0 0.5v1.4m0 -1.3v1.4m0 -1.2v1.4m0 -0.6v1.4m0 -1.3v1.4m0 -1v1.4m0 0.2v1.4m0 0.2v1.4m0 -0.7v1.4m0 1.1v1.4m0 -0.7v1.4m0 0.2v1.4m0 -0.7v1.4m0 0.7v1.4m0 3.1v1.4m0 1.3v1.4m0 3v1.4m0 -0.2v1.4m0 1.9v1.4m0 2.3v1.4m0 1.1v1.4m0 -1.4v1.4m0 -0.4v1.4m0 -0.3v1.4m0 -1.2v1.4m0 -0.7v1.4m0 -1.3v1.4m0 -1.3v1.4m0 -1.2v1.4m0 -0.9v1.4m0 -1.1v1.4m0 -1.2v1.4m0 1.6v1.4m0 -1.1v1.4m0 0.8v1.4m0 6.7v1.4m0 -1.3v1.4M151.8 630.2v1.4m0 3.3v1.4m0 -1.3v1.4m0 1.4v1.4m0 1.5v1.4m0 -1v1.4m0 -0.7v1.4m0 0.2v1.4m0 2v1.4m0 -1.1v1.4m0 -1.2v1.4m0 -0.3v1.4m0 0.1v1.4m0 -1.1v1.4m0 -1.2v1.4m0 -0.8v1.4m0 -0.8v1.4m0 4.4v1.4m0 10.7v1.4m0 -1.3v1.4m0 -1.2v1.4m0 1.8v1.4m0 4.5v1.4m0 3.4v1.4m0 -0.5v1.4m0 -0.5v1.4m0 0.4v1.4m0 -0.8v1.4m0 -0.1v1.4m0 -0.6v1.4m0 0.8v1.4m0 3.2v1.4m0 -0.7v1.4m0 -0.7v1.4m0 -0.8v1.4m0 21.8v1.4M157 615.3v1.4m0 4.5v1.4m0 -0.4v1.4m0 8.4v1.4m0 9.7v1.4m0 -0.9v1.4m0 0.5v1.4m0 -0.9v1.4m0 -1v1.4m0 -0.7v1.4m0 -0.6v1.4m0 -0.9v1.4m0 -1.2v1.4m0 -0.7v1.4m0 -1.3v1.4m0 -0.7v1.4m0 0.3v1.4m0 -0.9v1.4m0 4.1v1.4m0 -0.6v1.4m0 3.5v1.4m0 3v1.4m0 -0.9v1.4m0 -1.2v1.4m0 5.5v1.4m0 1.3v1.4m0 0.8v1.4m0 -1.3v1.4m0 -0.6v1.4m0 -1v1.4m0 -0.6v1.4m0 -1.2v1.4m0 -0.8v1.4m0 -0.1v1.4m0 -1.3v1.4m0 -1.1v1.4m0 -0.7v1.4m0 -0.7v1.4m0 -1.1v1.4m0 -1.2v1.4m0 0.3v1.4m0 -1v1.4m0 -1.3v1.4m0 -0.4v1.4m0 -0.7v1.4m0 2.8v1.4m0 1.3v1.4m0 -1.3v1.4m0 -1.3v1.4m0 25.1v1.4M162.3 602.7v1.4m0 9.4v1.4m0 3.3v1.4m0 5.5v1.4m0 -0.8v1.4m0 -0.9v1.4m0 -0.9v1.4m0 1.5v1.4m0 -0.4v1.4m0 0.3v1.4m0 1.6v1.4m0 -0.1v1.4m0 -0.5v1.4m0 1.3v1.4m0 0.9v1.4m0 -0.8v1.4m0 -0.2v1.4m0 1.3v1.4m0 -0.7v1.4m0 -1.1v1.4m0 -0.9v1.4m0 -0.7v1.4m0 -1.1v1.4m0 -1.1v1.4m0 -0.8v1.4m0 -1.2v1.4m0 -0.6v1.4m0 -1.3v1.4m0 0.8v1.4m0 1.3v1.4m0 0.2v1.4m0 -0.9v1.4m0 2.8v1.4m0 0.5v1.4m0 0.1v1.4m0 -0.5v1.4m0 -0.9v1.4m0 -0.2v1.4m0 -0.6v1.4m0 -1v1.4m0 0v1.4m0 2.8v1.4m0 2.1v1.4m0 -1.3v1.4m0 0.1v1.4m0 -0.5v1.4m0 -0.9v1.4m0 -1.1v1.4m0 -0.2v1.4m0 -0.6v1.4m0 -0.3v1.4m0 -1.1v1.4m0 -1.2v1.4m0 -1.3v1.4m0 -0.9v1.4m0 -1.2v1.4m0 -1.3v1.4m0 -1.4v1.4m0 -1v1.4m0 -0v1.4m0 -0.6v1.4m0 -0.8v1.4m0 -1.1v1.4m0 -0.5v1.4m0 -1v1.4m0 -0.5v1.4m0 -0.8v1.4m0 -0.9v1.4m0 -1v1.4m0 -1.1v1.4m0 1.9v1.4m0 0.5v1.4m0 0.9v1.4m0 3.4v1.4M167.5 619.8v1.4m0 -0.6v1.4m0 5.2v1.4m0 -0.5v1.4m0 2.9v1.4m0 -1.1v1.4m0 -0.4v1.4m0 -0.8v1.4m0 -0.6v1.4m0 0.7v1.4m0 -1.3v1.4m0 -1.2v1.4m0 -0.4v1.4m0 0.2v1.4m0 -1.3v1.4m0 -1.1v1.4m0 0.8v1.4m0 -0.1v1.4m0 -1.3v1.4m0 -0.6v1.4m0 0.4v1.4m0 -1.1v1.4m0 0.6v1.4m0 7.2v1.4m0 -1.1v1.4m0 0.8v1.4m0 0.7v1.4m0 3.5v1.4m0 1.5v1.4m0 -1.2v1.4m0 -1.1v1.4m0 1.8v1.4m0 5v1.4m0 0.7v1.4m0 -1.1v1.4m0 -0.7v1.4m0 -0.8v1.4m0 -0.9v1.4m0 -1.1v1.4m0 -1.2v1.4m0 -0.8v1.4m0 -1.3v1.4m0 -1.3v1.4m0 -1.3v1.4m0 -0.5v1.4m0 -0.8v1.4m0 0.6v1.4m0 -1.3v1.4m0 -0.2v1.4m0 -0.9v1.4m0 -1v1.4m0 -1.2v1.4m0 -0.6v1.4m0 -1v1.4m0 2.2v1.4m0 -0.2v1.4M172.7 602.6v1.4m0 21.9v1.4m0 -1.1v1.4m0 -0.3v1.4m0 1v1.4m0 -0.2v1.4m0 -0.4v1.4m0 1.5v1.4m0 -1.3v1.4m0 2.5v1.4m0 -1.3v1.4m0 -0.9v1.4m0 0.6v1.4m0 -0.6v1.4m0 -0.8v1.4m0 -0.1v1.4m0 -0.4v1.4m0 0.7v1.4m0 0.6v1.4m0 0.7v1.4m0 -1.3v1.4m0 1.2v1.4m0 -0.2v1.4m0 -1.4v1.4m0 0.2v1.4m0 -1.4v1.4m0 0.3v1.4m0 2.6v1.4m0 -1.3v1.4m0 0.6v1.4m0 -1v1.4m0 0.2v1.4m0 3.4v1.4m0 2.9v1.4m0 -1.3v1.4m0 -1.1v1.4m0 1.4v1.4m0 -0.1v1.4m0 -0.8v1.4m0 -0.9v1.4m0 -1.1v1.4m0 -0.6v1.4m0 -1.1v1.4m0 -1.1v1.4m0 -0.9v1.4m0 0.2v1.4m0 -0.8v1.4m0 0.5v1.4m0 -1.3v1.4m0 -0.5v1.4m0 -0.3v1.4m0 -0.6v1.4m0 -0.8v1.4m0 -1.2v1.4m0 -1.3v1.4m0 -1v1.4m0 10.6v1.4m0 -0.4v1.4m0 -0.1v1.4m0 10.4v1.4M178 612v1.4m0 0.6v1.4m0 2.3v1.4m0 6.7v1.4m0 -0.3v1.4m0 0.1v1.4m0 0.6v1.4m0 4.2v1.4m0 0.7v1.4m0 -0.6v1.4m0 -1v1.4m0 -0.1v1.4m0 -1.4v1.4m0 -0.9v1.4m0 -0.5v1.4m0 -0.9v1.4m0 -1.3v1.4m0 -0.6v1.4m0 -0.8v1.4m0 -0.7v1.4m0 3v1.4m0 -0.7v1.4m0 -1.1v1.4m0 1v1.4m0 -0.2v1.4m0 5.3v1.4m0 2.2v1.4m0 6.6v1.4m0 2.5v1.4m0 -0v1.4m0 -0.1v1.4m0 0.3v1.4m0 -0.9v1.4m0 -1.4v1.4m0 -1v1.4m0 -0.7v1.4m0 -1.3v1.4m0 -0.7v1.4m0 -0.8v1.4m0 -1.2v1.4m0 -0.6v1.4m0 -1.4v1.4m0 -1.1v1.4m0 -0.7v1.4m0 -1.4v1.4m0 -0.8v1.4m0 -1.3v1.4m0 -1.3v1.4m0 -0.8v1.4m0 1v1.4m0 -1.4v1.4m0 -1.4v1.4m0 -1.4v1.4m0 -0.9v1.4m0 -0.9v1.4m0 0.3v1.4m0 -0.9v1.4m0 -0.4v1.4m0 2v1.4m0 -1.4v1.4m0 1.3v1.4m0 11.7v1.4M183.2 608.5v1.4m0 7v1.4m0 1.6v1.4m0 8.2v1.4m0 -1.1v1.4m0 -1.3v1.4m0 -0.7v1.4m0 -0.9v1.4m0 -1.4v1.4m0 -0.8v1.4m0 -1.2v1.4m0 1.2v1.4m0 1v1.4m0 -1.2v1.4m0 -0.7v1.4m0 -0.5v1.4m0 -0.7v1.4m0 -1v1.4m0 -0.2v1.4m0 -1.1v1.4m0 -0.9v1.4m0 -0.4v1.4m0 3.6v1.4m0 3.2v1.4m0 -0.5v1.4m0 1.1v1.4m0 0.3v1.4m0 0.3v1.4m0 -1.2v1.4m0 1.3v1.4m0 1.9v1.4m0 7.4v1.4m0 2.7v1.4m0 -1.3v1.4m0 -0.6v1.4m0 0.4v1.4m0 -0.6v1.4m0 -1.3v1.4m0 0v1.4m0 -0.3v1.4m0 -1.3v1.4m0 -1.3v1.4m0 -1.2v1.4m0 -1.1v1.4m0 -1.1v1.4m0 -0.5v1.4m0 -0.5v1.4m0 -0.8v1.4m0 -0.5v1.4m0 0.8v1.4m0 -1.3v1.4m0 -1.4v1.4m0 -0.6v1.4m0 -0.8v1.4m0 -1.1v1.4m0 -0.5v1.4m0 -0.1v1.4m0 1.3v1.4m0 2.6v1.4m0 0.4v1.4M188.4 614.4v1.4m0 0.1v1.4m0 -1v1.4m0 3.8v1.4m0 3.4v1.4m0 -0.9v1.4m0 -0.4v1.4m0 -1v1.4m0 0.7v1.4m0 -0.2v1.4m0 -0.3v1.4m0 -1.1v1.4m0 0.3v1.4m0 -0.2v1.4m0 0.1v1.4m0 -1v1.4m0 0.4v1.4m0 -0.4v1.4m0 -1.4v1.4m0 4.3v1.4m0 -0.4v1.4m0 0.7v1.4m0 6.8v1.4m0 9.9v1.4m0 1.8v1.4m0 -0.8v1.4m0 -0.8v1.4m0 0.8v1.4m0 -1.2v1.4m0 -1.2v1.4m0 -0.8v1.4m0 0.7v1.4m0 -0.7v1.4m0 -1.1v1.4m0 -0.1v1.4m0 -0.2v1.4m0 -1v1.4m0 -1.2v1.4m0 -1.3v1.4m0 -0.5v1.4m0 -1.2v1.4m0 -1v1.4m0 -0.9v1.4m0 -1.4v1.4m0 -0.8v1.4m0 2v1.4m0 -0v1.4m0 -0.5v1.4m0 0.7v1.4m0 -0.4v1.4m0 0.6v1.4m0 7.2v1.4m0 0.8v1.4m0 8.3v1.4m0 2v1.4M193.6 599.8v1.4m0 4.5v1.4m0 1.1v1.4m0 10.4v1.4m0 0.2v1.4m0 1.5v1.4m0 -0.1v1.4m0 -1.3v1.4m0 -0.1v1.4m0 1.8v1.4m0 1.2v1.4m0 -1v1.4m0 -0.9v1.4m0 -1.2v1.4m0 -1.4v1.4m0 -1.3v1.4m0 -1.3v1.4m0 2.1v1.4m0 -1.1v1.4m0 -0.2v1.4m0 -1.1v1.4m0 2.1v1.4m0 0.1v1.4m0 2.8v1.4m0 2.3v1.4m0 -1v1.4m0 1.7v1.4m0 3.5v1.4m0 6.7v1.4m0 0.3v1.4m0 0.3v1.4m0 -0.7v1.4m0 1.2v1.4m0 0.4v1.4m0 -1.1v1.4m0 -1.1v1.4m0 -1v1.4m0 -1.4v1.4m0 -1.2v1.4m0 -0.6v1.4m0 -0.3v1.4m0 -0.9v1.4m0 -1.4v1.4m0 -0.9v1.4m0 -0.9v1.4m0 -0.7v1.4m0 -0.8v1.4m0 -1.3v1.4m0 -0.7v1.4m0 1.1v1.4m0 -1.4v1.4m0 -0.8v1.4m0 0.7v1.4m0 -0.4v1.4M198.9 613.9v1.4m0 -0.6v1.4m0 2.2v1.4m0 -1.3v1.4m0 0.5v1.4m0 1.7v1.4m0 -0.7v1.4m0 -1v1.4m0 -1v1.4m0 -0.8v1.4m0 -1.1v1.4m0 -0.1v1.4m0 -0.1v1.4m0 -0.6v1.4m0 0.6v1.4m0 0.5v1.4m0 -0.7v1.4m0 -0.7v1.4m0 -1.4v1.4m0 -1.3v1.4m0 0.2v1.4m0 -0.4v1.4m0 -1v1.4m0 2.5v1.4m0 0.4v1.4m0 -0.3v1.4m0 0.2v1.4m0 -0.2v1.4m0 10v1.4m0 1.3v1.4m0 3.8v1.4m0 -1.1v1.4m0 -0.2v1.4m0 0.1v1.4m0 -0.8v1.4m0 1.6v1.4m0 0.1v1.4m0 -0.9v1.4m0 -0.9v1.4m0 -0.3v1.4m0 -0.5v1.4m0 -1.3v1.4m0 -1.1v1.4m0 -1.3v1.4m0 -0.6v1.4m0 -1.3v1.4m0 -1.2v1.4m0 -0.9v1.4m0 -0.1v1.4m0 -0.9v1.4m0 -0.7v1.4m0 -0.2v1.4m0 0.1v1.4m0 -0.4v1.4m0 -0.8v1.4m0 -0.7v1.4m0 -1.1v1.4m0 -0.7v1.4m0 -0.7v1.4m0 -0.6v1.4m0 -0.5v1.4m0 10.9v1.4M204.1 610.9v1.4m0 -1.3v1.4m0 2.1v1.4m0 8.1v1.4m0 -0.8v1.4m0 0.9v1.4m0 -0v1.4m0 -1.2v1.4m0 -0.2v1.4m0 0.7v1.4m0 -1.2v1.4m0 1.3v1.4m0 -0.3v1.4m0 -0.9v1.4m0 1.5v1.4m0 5.7v1.4m0 0.6v1.4m0 3.6v1.4m0 -0.9v1.4m0 1.6v1.4m0 1.7v1.4m0 0.2v1.4m0 -1.4v1.4m0 0.1v1.4m0 -0.7v1.4m0 0.1v1.4m0 0.9v1.4m0 0.2v1.4m0 2.7v1.4m0 -0.6v1.4m0 -1.3v1.4m0 -1.3v1.4m0 -0.9v1.4m0 -0.2v1.4m0 -1.3v1.4m0 1v1.4m0 -0.9v1.4m0 -1.3v1.4m0 -0.4v1.4m0 -0.9v1.4m0 -1.1v1.4m0 -0.7v1.4m0 -1.2v1.4m0 -0.7v1.4m0 -1.2v1.4m0 -0.7v1.4m0 -0.3v1.4m0 -0.8v1.4m0 -0.1v1.4m0 -0v1.4m0 1.6v1.4m0 -0.6v1.4m0 -0.6v1.4m0 -0.9v1.4M209.3 593.2v1.4m0 5.1v1.4m0 1.5v1.4m0 -0.5v1.4m0 2.7v1.4m0 2.7v1.4m0 -0v1.4m0 -0.9v1.4m0 1.3v1.4m0 0.7v1.4m0 1.7v1.4m0 2.5v1.4m0 -1.4v1.4m0 -1.2v1.4m0 -1.4v1.4m0 0.2v1.4m0 -1.4v1.4m0 1.6v1.4m0 -0.3v1.4m0 -0.8v1.4m0 -0.1v1.4m0 -0.4v1.4m0 0.9v1.4m0 0.5v1.4m0 4.1v1.4m0 7.5v1.4m0 7.4v1.4m0 0.3v1.4m0 1.3v1.4m0 0.5v1.4m0 -1v1.4m0 0.7v1.4m0 -1.2v1.4m0 0.9v1.4m0 1.3v1.4m0 1.2v1.4m0 -1v1.4m0 -0.7v1.4m0 -1.1v1.4m0 -1.4v1.4m0 -0.9v1.4m0 -0.2v1.4m0 1v1.4m0 0.2v1.4m0 0.1v1.4m0 -1v1.4m0 -0.2v1.4m0 -0.6v1.4m0 0.4v1.4m0 0.6v1.4m0 1.2v1.4m0 -1.2v1.4m0 -0.6v1.4m0 11.2v1.4M214.6 598.2v1.4m0 10.3v1.4m0 -0.4v1.4m0 2.3v1.4m0 -1.2v1.4m0 -0.3v1.4m0 9.7v1.4m0 -0.3v1.4m0 -0.5v1.4m0 -0.3v1.4m0 -1.1v1.4m0 0.2v1.4m0 -1.3v1.4m0 1v1.4m0 -0.8v1.4m0 -0.9v1.4m0 1.2v1.4m0 6.1v1.4m0 -1.1v1.4m0 0.9v1.4m0 -0.7v1.4m0 0.2v1.4m0 -1.2v1.4m0 0.8v1.4m0 4.4v1.4m0 1.7v1.4m0 -1.3v1.4m0 11.2v1.4m0 -1.4v1.4m0 -1.4v1.4m0 0.8v1.4m0 -0.8v1.4m0 -0.5v1.4m0 -1.1v1.4m0 -0.7v1.4m0 -0.6v1.4m0 -1.2v1.4m0 -1.2v1.4m0 -1.2v1.4m0 -0.2v1.4m0 -0.4v1.4m0 -1.4v1.4m0 -1.1v1.4m0 0.4v1.4m0 1v1.4m0 -1.1v1.4m0 -1.2v1.4m0 -1.2v1.4m0 0.6v1.4m0 -0.2v1.4m0 -0.8v1.4m0 0.2v1.4m0 1.6v1.4m0 30.1v1.4M219.8 585.2v1.4m0 5.8v1.4m0 5v1.4m0 1.7v1.4m0 5.1v1.4m0 -0.8v1.4m0 3.8v1.4m0 3.4v1.4m0 0.3v1.4m0 -1.2v1.4m0 0.2v1.4m0 -0.7v1.4m0 -0.5v1.4m0 0v1.4m0 0.2v1.4m0 0.4v1.4m0 -1.3v1.4m0 -1.3v1.4m0 -1.1v1.4m0 -1.3v1.4m0 -1.3v1.4m0 0.9v1.4m0 -1.1v1.4m0 4v1.4m0 3v1.4m0 0.2v1.4m0 0.9v1.4m0 -0.6v1.4m0 -1.1v1.4m0 2.2v1.4m0 -0.4v1.4m0 -0.6v1.4m0 0.1v1.4m0 2.8v1.4m0 5.3v1.4m0 3.1v1.4m0 0.8v1.4m0 0v1.4m0 0.1v1.4m0 -0.9v1.4m0 -0.6v1.4m0 -1.2v1.4m0 -0.8v1.4m0 -1.1v1.4m0 -1.1v1.4m0 -0.8v1.4m0 -0.8v1.4m0 -1.1v1.4m0 -1.4v1.4m0 -1.2v1.4m0 -1v1.4m0 0.1v1.4m0 -1.2v1.4m0 -1.2v1.4m0 -0.7v1.4m0 1.9v1.4m0 -0.8v1.4m0 -1.2v1.4m0 -0.6v1.4m0 -1v1.4m0 0.6v1.4m0 3v1.4m0 0.4v1.4m0 11.3v1.4M225 605.3v1.4m0 -0.2v1.4m0 -0.6v1.4m0 0.8v1.4m0 -0.1v1.4m0 -1v1.4m0 -0.2v1.4m0 1.4v1.4m0 0.1v1.4m0 -1v1.4m0 -1.2v1.4m0 0.8v1.4m0 -0.1v1.4m0 1.3v1.4m0 0.4v1.4m0 1.6v1.4m0 1v1.4m0 -0.9v1.4m0 3v1.4m0 10.6v1.4m0 5.1v1.4m0 -0.4v1.4m0 -0.8v1.4m0 -0.6v1.4m0 6.1v1.4m0 -0.2v1.4m0 0.1v1.4m0 0.7v1.4m0 -0.9v1.4m0 -0.4v1.4m0 -1.3v1.4m0 -1.3v1.4m0 0.7v1.4m0 1.1v1.4m0 -0.6v1.4m0 -0.4v1.4m0 -0.5v1.4m0 -0.9v1.4m0 -1.1v1.4m0 -1.4v1.4m0 -1.3v1.4m0 -0v1.4m0 -1.3v1.4m0 -0.8v1.4m0 -0.6v1.4m0 -1.3v1.4m0 -1.4v1.4m0 -0.9v1.4m0 1.3v1.4m0 -1.4v1.4m0 -1v1.4m0 -0.2v1.4m0 3.2v1.4m0 1v1.4M230.3 597.6v1.4m0 1.4v1.4m0 -1.1v1.4m0 2.2v1.4m0 5.9v1.4m0 -0.3v1.4m0 2.4v1.4m0 -1v1.4m0 1.7v1.4m0 -1v1.4m0 -1v1.4m0 0.8v1.4m0 -0.5v1.4m0 0.1v1.4m0 -0.7v1.4m0 -0.6v1.4m0 3.1v1.4m0 -0.2v1.4m0 2.2v1.4m0 1.5v1.4m0 -0.5v1.4m0 4.7v1.4m0 -0.4v1.4m0 -1.3v1.4m0 6v1.4m0 1.4v1.4m0 -1.2v1.4m0 -0.6v1.4m0 0.4v1.4m0 -1.3v1.4m0 0.3v1.4m0 6v1.4m0 -1.2v1.4m0 -1.3v1.4m0 -0.7v1.4m0 0.4v1.4m0 -0.1v1.4m0 0.2v1.4m0 -0.5v1.4m0 -0.9v1.4m0 -1.4v1.4m0 -0.5v1.4m0 -1.3v1.4m0 -1.4v1.4m0 -1.3v1.4m0 -0.8v1.4m0 -0.6v1.4m0 -0.5v1.4m0 -1.4v1.4m0 -1.3v1.4m0 -1.2v1.4m0 -0.6v1.4m0 -0.5v1.4m0 -1.1v1.4m0 -1.4v1.4m0 -0.9v1.4m0 -1v1.4m0 -1.3v1.4m0 -1.2v1.4m0 -1.3v1.4m0 -0.7v1.4m0 -0.7v1.4m0 -0.1v1.4m0 0.2v1.4m0 -1.1v1.4m0 -1.3v1.4m0 -1v1.4m0 -1.4v1.4m0 3.5v1.4m0 -0.3v1.4m0 -0.8v1.4m0 2.3v1.4M235.5 583.1v1.4m0 6.7v1.4m0 0.8v1.4m0 6.2v1.4m0 1v1.4m0 1.4v1.4m0 0.4v1.4m0 2.2v1.4m0 0.6v1.4m0 1.3v1.4m0 -0.9v1.4m0 -0.6v1.4m0 0.2v1.4m0 -0.6v1.4m0 1.5v1.4m0 -0.3v1.4m0 0.8v1.4m0 2.4v1.4m0 0.6v1.4m0 1.8v1.4m0 4.9v1.4m0 2.9v1.4m0 0.6v1.4m0 1v1.4m0 -0.6v1.4m0 1.6v1.4m0 14v1.4m0 0.9v1.4m0 -0.2v1.4m0 -1.1v1.4m0 -1.1v1.4m0 -1.4v1.4m0 -1.1v1.4m0 -0.9v1.4m0 -1.1v1.4m0 -1.3v1.4m0 -0.4v1.4m0 -1.4v1.4m0 -1.3v1.4m0 -1.4v1.4m0 -1.4v1.4m0 -1.4v1.4m0 -0.4v1.4m0 -0.8v1.4m0 -1.4v1.4m0 0.3v1.4m0 -0.4v1.4m0 -1.4v1.4m0 -0.9v1.4m0 -0.8v1.4m0 7.7v1.4m0 8.1v1.4M240.7 597.4v1.4m0 4.9v1.4m0 0.5v1.4m0 0.5v1.4m0 -0.1v1.4m0 1.3v1.4m0 0.6v1.4m0 -0.4v1.4m0 0.3v1.4m0 0.5v1.4m0 -1.1v1.4m0 0.3v1.4m0 0.6v1.4m0 -1.2v1.4m0 -0.9v1.4m0 -0.9v1.4m0 0.6v1.4m0 2v1.4m0 5.7v1.4m0 -0.9v1.4m0 1.7v1.4m0 -1v1.4m0 -1.1v1.4m0 -0.1v1.4m0 1.5v1.4m0 -1v1.4m0 -0.6v1.4m0 -0.5v1.4m0 -1.1v1.4m0 -0.4v1.4m0 2.6v1.4m0 9v1.4m0 1.7v1.4m0 0.7v1.4m0 -0.4v1.4m0 1.6v1.4m0 -1.3v1.4m0 0.5v1.4m0 -1.1v1.4m0 1v1.4m0 -1.2v1.4m0 -1.4v1.4m0 -0.2v1.4m0 -0.4v1.4m0 -1v1.4m0 -0.9v1.4m0 -0.9v1.4m0 -0.7v1.4m0 -1.1v1.4m0 -0.5v1.4m0 0.1v1.4m0 -1.1v1.4m0 -0.7v1.4m0 -1.3v1.4m0 0.4v1.4m0 0.2v1.4m0 1.1v1.4m0 0.5v1.4m0 0.4v1.4m0 4.4v1.4M245.9 563v1.4m0 21.4v1.4m0 1.6v1.4m0 2.1v1.4m0 2.3v1.4m0 -0.7v1.4m0 2.9v1.4m0 1.6v1.4m0 -0.6v1.4m0 -1.2v1.4m0 0.7v1.4m0 -0.9v1.4m0 -0v1.4m0 -1.1v1.4m0 -0.7v1.4m0 -0.8v1.4m0 1.1v1.4m0 -1.1v1.4m0 -1.1v1.4m0 -0.6v1.4m0 6.3v1.4m0 2.2v1.4m0 1.9v1.4m0 7.7v1.4m0 0.7v1.4m0 2.6v1.4m0 5v1.4m0 2.6v1.4m0 0.8v1.4m0 1.4v1.4m0 1.3v1.4m0 -1.2v1.4m0 0.4v1.4m0 -1v1.4m0 1.5v1.4m0 -0.2v1.4m0 0.7v1.4m0 -0.1v1.4m0 -1v1.4m0 0.2v1.4m0 -1.1v1.4m0 -1.2v1.4m0 -0.6v1.4m0 -0.1v1.4m0 -1v1.4m0 -0.2v1.4m0 -1v1.4m0 -1.2v1.4m0 -0.2v1.4m0 -0v1.4m0 -0.9v1.4m0 -1.3v1.4m0 1v1.4m0 3.3v1.4m0 18.2v1.4M251.2 578.9v1.4m0 4v1.4m0 5.3v1.4m0 -1.1v1.4m0 -1.2v1.4m0 0.6v1.4m0 7.3v1.4m0 3.4v1.4m0 -0.6v1.4m0 2.9v1.4m0 -1.3v1.4m0 -1v1.4m0 -0.5v1.4m0 -1.3v1.4m0 0v1.4m0 -0.6v1.4m0 -1.1v1.4m0 -1.3v1.4m0 -1.3v1.4m0 -0.4v1.4m0 0.4v1.4m0 -0.9v1.4m0 -0.3v1.4m0 -0.7v1.4m0 1.2v1.4m0 2.7v1.4m0 1.1v1.4m0 -1v1.4m0 0.6v1.4m0 4.9v1.4m0 1.5v1.4m0 4.1v1.4m0 5.8v1.4m0 6.9v1.4m0 1.5v1.4m0 -1v1.4m0 1.6v1.4m0 -0.1v1.4m0 -0.7v1.4m0 -0.6v1.4m0 -1.2v1.4m0 1.1v1.4m0 1.3v1.4m0 -0.7v1.4m0 -1.2v1.4m0 0.5v1.4m0 -1.3v1.4m0 2v1.4M256.4 562.6v1.4m0 1.2v1.4m0 4.3v1.4m0 -0.2v1.4m0 4.8v1.4m0 7.4v1.4m0 2.3v1.4m0 0.5v1.4m0 0.7v1.4m0 -1.1v1.4m0 0.9v1.4m0 0.7v1.4m0 -0.4v1.4m0 2.3v1.4m0 -0.9v1.4m0 0.3v1.4m0 -0.6v1.4m0 4.1v1.4m0 1.8v1.4m0 -0.6v1.4m0 -1.1v1.4m0 0.5v1.4m0 -0.9v1.4m0 -0.7v1.4m0 -0.3v1.4m0 3v1.4m0 2.1v1.4m0 7v1.4m0 2.8v1.4m0 12.9v1.4m0 3.8v1.4m0 0.1v1.4m0 0.1v1.4m0 -0.8v1.4m0 0.8v1.4m0 -1.3v1.4m0 -0.4v1.4m0 -1.2v1.4m0 -0.5v1.4m0 0.4v1.4m0 -1v1.4m0 -1.2v1.4m0 -0.6v1.4m0 -1.3v1.4m0 -1.2v1.4m0 -1.2v1.4m0 -1.1v1.4m0 -0.6v1.4m0 1.3v1.4m0 -0.4v1.4m0 -1.3v1.4m0 0v1.4m0 -1.3v1.4m0 -0.7v1.4m0 0.4v1.4m0 -1.2v1.4m0 -0.5v1.4m0 0.1v1.4m0 -1.3v1.4m0 -0.4v1.4m0 -1.2v1.4m0 5.1v1.4m0 14.6v1.4M261.6 559.8v1.4m0 13.6v1.4m0 10.6v1.4m0 1.7v1.4m0 2.4v1.4m0 -1.4v1.4m0 -0.1v1.4m0 1.2v1.4m0 -1.3v1.4m0 -0.9v1.4m0 2.4v1.4m0 2.4v1.4m0 1.3v1.4m0 -0.7v1.4m0 -1v1.4m0 -1.2v1.4m0 0.6v1.4m0 -0v1.4m0 -0.6v1.4m0 -0.6v1.4m0 4.3v1.4m0 1.2v1.4m0 3.7v1.4m0 -0.6v1.4m0 -1v1.4m0 6.9v1.4m0 7.5v1.4m0 2.4v1.4m0 3.5v1.4m0 2.5v1.4m0 0.8v1.4m0 1.5v1.4m0 1.2v1.4m0 0.2v1.4m0 -1v1.4m0 -1.2v1.4m0 -0.6v1.4m0 -1.3v1.4m0 -1.1v1.4m0 -0.3v1.4m0 -0.9v1.4m0 2.2v1.4m0 -1v1.4m0 -0.7v1.4m0 -0.5v1.4m0 1v1.4m0 4.5v1.4m0 2.4v1.4m0 4.6v1.4M266.9 513v1.4m0 50.5v1.4m0 7v1.4m0 1.8v1.4m0 0.4v1.4m0 5v1.4m0 -0.3v1.4m0 2.6v1.4m0 -0.7v1.4m0 2.1v1.4m0 -0.9v1.4m0 -0.1v1.4m0 6.7v1.4m0 1.3v1.4m0 1.4v1.4m0 -0.8v1.4m0 -0.3v1.4m0 0.8v1.4m0 2.5v1.4m0 -0.7v1.4m0 0.9v1.4m0 -0.8v1.4m0 -0v1.4m0 -0.1v1.4m0 -0.3v1.4m0 5.2v1.4m0 3v1.4m0 -0.1v1.4m0 0.7v1.4m0 8v1.4m0 -0.8v1.4m0 1.5v1.4m0 0.3v1.4m0 4.5v1.4m0 0.6v1.4m0 0.6v1.4m0 -0.5v1.4m0 -1.1v1.4m0 -0.1v1.4m0 -0.6v1.4m0 -1.2v1.4m0 -0.4v1.4m0 -1.1v1.4m0 -1.4v1.4m0 -0.3v1.4m0 -0.4v1.4m0 -1.4v1.4m0 -1.3v1.4m0 -0.9v1.4m0 -1.3v1.4m0 0v1.4m0 0.8v1.4m0 -0.7v1.4m0 -0.4v1.4m0 1.7v1.4m0 3v1.4m0 -1.3v1.4m0 -0.8v1.4m0 5.9v1.4m0 1.6v1.4M272.1 557v1.4m0 6.3v1.4m0 8.2v1.4m0 13.2v1.4m0 2.2v1.4m0 0.2v1.4m0 0.3v1.4m0 3.5v1.4m0 -1.1v1.4m0 2.2v1.4m0 0.2v1.4m0 1.5v1.4m0 -0.4v1.4m0 0.3v1.4m0 0.4v1.4m0 -0.9v1.4m0 -1.2v1.4m0 7.9v1.4m0 -1.3v1.4m0 3.4v1.4m0 -0.7v1.4m0 -0.3v1.4m0 -1v1.4m0 -1v1.4m0 -0v1.4m0 -0.1v1.4m0 2.1v1.4m0 13.5v1.4m0 0v1.4m0 13.4v1.4m0 -1.3v1.4m0 -0.6v1.4m0 -0.2v1.4m0 -1.2v1.4m0 -1.2v1.4m0 -0.2v1.4m0 -0.9v1.4m0 -1.1v1.4m0 -1.1v1.4m0 -0.9v1.4m0 -0.9v1.4m0 -1.3v1.4m0 -0.9v1.4m0 -1.3v1.4m0 -0.9v1.4m0 -0.1v1.4m0 -1.4v1.4m0 -0.4v1.4m0 -1v1.4m0 -0.8v1.4m0 -1.3v1.4m0 2.2v1.4m0 -1.3v1.4m0 2.3v1.4m0 0.4v1.4m0 -1v1.4m0 -0.3v1.4m0 0.3v1.4m0 12.1v1.4m0 4.3v1.4m0 9.9v1.4M277.3 557.3v1.4m0 11.2v1.4m0 0.5v1.4m0 1.7v1.4m0 8v1.4m0 0.7v1.4m0 1.1v1.4m0 0.8v1.4m0 2.3v1.4m0 4.6v1.4m0 0.3v1.4m0 1.1v1.4m0 -0.2v1.4m0 1.7v1.4m0 0.3v1.4m0 -0.9v1.4m0 -0.2v1.4m0 -1.4v1.4m0 -1.1v1.4m0 7.8v1.4m0 0.1v1.4m0 1.1v1.4m0 1.3v1.4m0 14.7v1.4m0 1.7v1.4m0 -0.5v1.4m0 6.7v1.4m0 -0.8v1.4m0 0.6v1.4m0 0.9v1.4m0 -0.2v1.4m0 2.7v1.4m0 -1.3v1.4m0 -1.2v1.4m0 -1.1v1.4m0 -1.3v1.4m0 -1v1.4m0 -1v1.4m0 -1.3v1.4m0 -1.1v1.4m0 -1.1v1.4m0 -1.3v1.4m0 -0.7v1.4m0 -0.9v1.4m0 -0.4v1.4m0 -1.4v1.4m0 1.3v1.4m0 -1v1.4m0 -0.9v1.4m0 0.2v1.4m0 -0.4v1.4m0 -0.8v1.4m0 0.4v1.4m0 -1.2v1.4m0 -1.3v1.4m0 -0.6v1.4m0 -0.5v1.4m0 1.7v1.4m0 -0.9v1.4m0 -0.7v1.4M282.6 540.8v1.4m0 29.7v1.4m0 17.9v1.4m0 2.9v1.4m0 2.1v1.4m0 0.5v1.4m0 0.8v1.4m0 0.2v1.4m0 0.2v1.4m0 9.4v1.4m0 41.5v1.4m0 0.8v1.4m0 2.1v1.4m0 -1.3v1.4m0 -0.1v1.4m0 -0.8v1.4m0 0.1v1.4m0 0v1.4m0 -1.1v1.4m0 1.5v1.4m0 -1v1.4m0 -1.4v1.4m0 -0.1v1.4m0 -0.6v1.4m0 -1.3v1.4m0 -1.4v1.4m0 -1.2v1.4m0 5.7v1.4m0 2.5v1.4m0 1.7v1.4M287.8 553.1v1.4m0 10.1v1.4m0 22.9v1.4m0 9.7v1.4m0 -0.1v1.4m0 -1.2v1.4m0 0.2v1.4m0 0.2v1.4m0 -0.6v1.4m0 0.4v1.4m0 0.9v1.4m0 -0.9v1.4m0 12.4v1.4m0 3.4v1.4m0 2.5v1.4m0 -1v1.4m0 4v1.4m0 0.6v1.4m0 0.5v1.4m0 17.8v1.4m0 -1v1.4m0 -0.1v1.4m0 0.5v1.4m0 -0.7v1.4m0 -0.6v1.4m0 -1.2v1.4m0 -0.7v1.4m0 0.5v1.4m0 1.4v1.4m0 1.6v1.4m0 -0.5v1.4m0 -0.1v1.4m0 1v1.4m0 2.2v1.4m0 -0.2v1.4m0 2.5v1.4m0 2.2v1.4M293 552.7v1.4m0 6.6v1.4m0 -0.7v1.4m0 30.5v1.4m0 3.7v1.4m0 -1v1.4m0 1.9v1.4m0 6.3v1.4m0 20.4v1.4m0 7.3v1.4m0 4.3v1.4m0 -0.9v1.4m0 0.6v1.4m0 4.9v1.4m0 2.8v1.4m0 -0.7v1.4m0 -1v1.4m0 3.9v1.4m0 -1.2v1.4m0 -1.2v1.4m0 -0.7v1.4m0 0.5v1.4m0 0.2v1.4m0 2.1v1.4m0 0.5v1.4M298.2 553.2v1.4m0 12.2v1.4m0 0.1v1.4m0 16.7v1.4m0 6.6v1.4m0 -0.6v1.4m0 1.1v1.4m0 1v1.4m0 -1.3v1.4m0 2.6v1.4m0 3.2v1.4m0 18.1v1.4m0 15.1v1.4m0 6v1.4m0 -1.2v1.4m0 7.9v1.4m0 -0.4v1.4m0 5.7v1.4m0 -1.3v1.4m0 2.7v1.4m0 2.4v1.4m0 2.5v1.4m0 -0.4v1.4m0 4.8v1.4M303.5 550.1v1.4m0 12.3v1.4m0 2.8v1.4m0 32.7v1.4m0 1.9v1.4m0 -1.1v1.4m0 -0.3v1.4m0 2.1v1.4m0 7.6v1.4m0 3.9v1.4m0 12.6v1.4m0 1.6v1.4m0 -1v1.4m0 10.6v1.4m0 5.7v1.4m0 -0.1v1.4m0 -1.3v1.4m0 1.1v1.4m0 3.3v1.4m0 1.4v1.4m0 2.2v1.4m0 -0.9v1.4M308.7 556.6v1.4m0 21.7v1.4m0 2.3v1.4m0 7.6v1.4m0 1.3v1.4m0 -1.1v1.4m0 8.3v1.4m0 3.5v1.4m0 2v1.4m0 -0.8v1.4m0 10.1v1.4m0 21v1.4m0 -0.2v1.4m0 7v1.4m0 7.9v1.4m0 -1v1.4m0 -0.1v1.4m0 7.6v1.4m0 -0.8v1.4m0 -0.7v1.4M313.9 583.1v1.4m0 13v1.4m0 1.6v1.4m0 13.4v1.4m0 1.8v1.4m0 15.1v1.4m0 1.5v1.4m0 14.3v1.4m0 44.3v1.4M319.2 665.6v1.4m0 3.8v1.4m0 2.4v1.4m0 5v1.4M329.6 594.8v1.4m0 39.9v1.4m0 1.8v1.4m0 15.9v1.4m0 3v1.4M340.1 582v1.4m0 82.5v1.4M345.3 645.2v1.4" stroke="#1a70b8" stroke-width="1.4" fill="none"/>
<path d="M130.9 652.4v1.4m0 4.4v1.4m0 -1v1.4m0 5.2v1.4m0 2v1.4m0 2.7v1.4m0 6.1v1.4m0 5.7v1.4m0 -0.2v1.4m0 -0.1v1.4M136.1 648.5v1.4m0 2.1v1.4m0 -0.9v1.4m0 -1.1v1.4m0 -1.1v1.4m0 0.4v1.4m0 1v1.4m0 0.4v1.4m0 0.7v1.4m0 -0.4v1.4m0 -0.3v1.4m0 4.9v1.4m0 8.9v1.4m0 1.1v1.4m0 3.8v1.4m0 -1.1v1.4m0 -1.4v1.4m0 -0.6v1.4m0 1v1.4m0 -0.9v1.4m0 11.7v1.4M141.3 647.5v1.4m0 1.5v1.4m0 1.3v1.4m0 1.8v1.4m0 -1v1.4m0 -1.4v1.4m0 2.3v1.4m0 3.1v1.4m0 3.7v1.4m0 1.6v1.4m0 -0.9v1.4m0 0.3v1.4m0 -0.4v1.4m0 -0.9v1.4m0 -0.1v1.4m0 2.1v1.4m0 -1.4v1.4m0 -1.2v1.4m0 0.9v1.4m0 8.3v1.4m0 -1v1.4m0 -0.8v1.4m0 3v1.4M146.6 637.6v1.4m0 10.4v1.4m0 -0v1.4m0 -0.6v1.4m0 -0.8v1.4m0 -1.1v1.4m0 1.4v1.4m0 3.7v1.4m0 -0.7v1.4m0 -1.4v1.4m0 0.5v1.4m0 -1v1.4m0 1.2v1.4m0 -0.7v1.4m0 -1.1v1.4m0 -1.3v1.4m0 -0.9v1.4m0 -0.3v1.4m0 -0.3v1.4m0 0.1v1.4m0 -1v1.4m0 -1.2v1.4m0 -1.3v1.4m0 -1.2v1.4m0 -0.9v1.4m0 -1.4v1.4m0 3.6v1.4m0 -1.3v1.4m0 -0.1v1.4m0 4.8v1.4m0 -0.7v1.4m0 -1.1v1.4m0 -0.8v1.4m0 -1.3v1.4m0 -0.2v1.4m0 -1.4v1.4m0 -1.1v1.4m0 -0.7v1.4m0 -0.6v1.4m0 0.4v1.4m0 -1.1v1.4m0 7.6v1.4m0 -1.3v1.4m0 1.5v1.4M151.8 629.7v1.4m0 8v1.4m0 2.7v1.4m0 0.4v1.4m0 1.6v1.4m0 0.5v1.4m0 -0.6v1.4m0 0.4v1.4m0 -0.8v1.4m0 1.8v1.4m0 -1v1.4m0 -0.2v1.4m0 -1.1v1.4m0 -1.1v1.4m0 -1.3v1.4m0 -1.1v1.4m0 -1v1.4m0 -1v1.4m0 4.1v1.4m0 0.7v1.4m0 0.3v1.4m0 -0.8v1.4m0 -0.7v1.4m0 -0.8v1.4m0 -0.3v1.4m0 -1.3v1.4m0 -1.3v1.4m0 0.6v1.4m0 1.2v1.4m0 2.9v1.4m0 -1v1.4m0 1.1v1.4m0 -1.1v1.4m0 -0.8v1.4m0 -0.3v1.4m0 -0.1v1.4m0 -1.1v1.4m0 -0.3v1.4m0 -0.3v1.4m0 2.5v1.4m0 4.8v1.4M157 632.1v1.4m0 -0.1v1.4m0 0.7v1.4m0 -0.8v1.4m0 -1.3v1.4m0 -0.6v1.4m0 -1.4v1.4m0 1.1v1.4m0 -0.9v1.4m0 2.7v1.4m0 -1.2v1.4m0 -1.4v1.4m0 -0.5v1.4m0 -0.9v1.4m0 -1.3v1.4m0 0.1v1.4m0 0.5v1.4m0 -0.1v1.4m0 0.6v1.4m0 -1.2v1.4m0 -0.9v1.4m0 -0.2v1.4m0 1.4v1.4m0 0.1v1.4m0 2.1v1.4m0 0.5v1.4m0 -1v1.4m0 -0.6v1.4m0 -0.9v1.4m0 4.6v1.4m0 3.3v1.4m0 -1.1v1.4m0 -0.6v1.4m0 -0.7v1.4m0 1.1v1.4m0 -0.7v1.4m0 -1v1.4m0 -0.1v1.4m0 -1.3v1.4m0 -1v1.4m0 -0.9v1.4m0 -0.8v1.4m0 -0.7v1.4m0 0.9v1.4m0 -1.2v1.4m0 0.3v1.4m0 -0.4v1.4m0 -1.4v1.4m0 -0.3v1.4m0 -0.6v1.4m0 3.9v1.4m0 1.1v1.4M162.3 628.7v1.4m0 3.3v1.4m0 1.7v1.4m0 -0.4v1.4m0 -0.7v1.4m0 1.2v1.4m0 0.4v1.4m0 -0.5v1.4m0 -1.1v1.4m0 -0.7v1.4m0 -0.3v1.4m0 -0.2v1.4m0 -0.8v1.4m0 -0.6v1.4m0 -1.1v1.4m0 -1v1.4m0 2.3v1.4m0 1v1.4m0 4.4v1.4m0 -0.3v1.4m0 -1.3v1.4m0 1.7v1.4m0 -0.1v1.4m0 1.5v1.4m0 -0.7v1.4m0 1.2v1.4m0 -0.6v1.4m0 2.1v1.4m0 0.7v1.4m0 -1.2v1.4m0 -0.6v1.4m0 -0.1v1.4m0 -1.1v1.4m0 -0.2v1.4m0 -1.3v1.4m0 0.3v1.4m0 -1.4v1.4m0 -0.8v1.4m0 -0.7v1.4m0 -1v1.4m0 -1.4v1.4m0 -0.8v1.4m0 0.1v1.4m0 -1.1v1.4m0 -0.5v1.4m0 -1.1v1.4m0 -0.3v1.4m0 -0.7v1.4m0 1.4v1.4m0 1.2v1.4M167.5 617.1v1.4m0 13v1.4m0 -1.3v1.4m0 -0.2v1.4m0 -0.7v1.4m0 -1.3v1.4m0 1.6v1.4m0 3v1.4m0 0.1v1.4m0 1.1v1.4m0 8v1.4m0 3v1.4m0 2.6v1.4m0 0.2v1.4m0 -1.2v1.4m0 1.9v1.4m0 -0.9v1.4m0 -0.9v1.4m0 -1v1.4m0 -1.2v1.4m0 -0.1v1.4m0 0.5v1.4m0 -1.1v1.4m0 0v1.4m0 -0.6v1.4m0 -1v1.4m0 2.7v1.4m0 -0.9v1.4m0 -1.2v1.4m0 -1.2v1.4m0 -1.2v1.4m0 -1.1v1.4m0 -0.8v1.4m0 -0.8v1.4m0 -1.3v1.4m0 -1.4v1.4m0 -1.3v1.4m0 -0.8v1.4m0 -0.7v1.4m0 -1.3v1.4m0 -1.3v1.4m0 -1.2v1.4m0 -0.7v1.4m0 -1.3v1.4m0 -1.3v1.4m0 -1.4v1.4m0 -1v1.4m0 -0.5v1.4m0 -0.6v1.4m0 -1.2v1.4m0 -1v1.4m0 -1.2v1.4m0 -1.2v1.4m0 -0.7v1.4m0 -0.3v1.4m0 -0.9v1.4m0 -1.1v1.4m0 1.7v1.4M172.7 609.2v1.4m0 3.5v1.4m0 5.7v1.4m0 6.6v1.4m0 2.9v1.4m0 0.4v1.4m0 -1.1v1.4m0 1.9v1.4m0 -1.3v1.4m0 -0.1v1.4m0 -1.2v1.4m0 -0.8v1.4m0 -0.8v1.4m0 1.5v1.4m0 -1.3v1.4m0 -1.2v1.4m0 -0.7v1.4m0 -0.7v1.4m0 -0.1v1.4m0 0.9v1.4m0 -1.2v1.4m0 1.8v1.4m0 -0.8v1.4m0 -1.4v1.4m0 0.4v1.4m0 -1.4v1.4m0 5.3v1.4m0 -1.3v1.4m0 -0.8v1.4m0 -0.9v1.4m0 -0.7v1.4m0 0.2v1.4m0 -0.3v1.4m0 -1.1v1.4m0 -1.4v1.4m0 0.2v1.4m0 -0.9v1.4m0 0v1.4m0 -1.3v1.4m0 -0.2v1.4m0 -0.1v1.4m0 1.1v1.4m0 -0.4v1.4m0 -0.6v1.4m0 -0.6v1.4m0 -0.7v1.4m0 -1.2v1.4m0 -0.4v1.4m0 -1.2v1.4m0 -1v1.4m0 -1.2v1.4m0 -0.9v1.4m0 -1.2v1.4m0 -1.2v1.4m0 -1v1.4m0 -0.5v1.4m0 -0.8v1.4m0 -0v1.4m0 -0.8v1.4m0 -1.3v1.4m0 0.2v1.4m0 -0v1.4m0 0.5v1.4m0 1.4v1.4m0 5.6v1.4M178 617.3v1.4m0 3.9v1.4m0 -0.8v1.4m0 -0.9v1.4m0 8.1v1.4m0 -1.4v1.4m0 0.3v1.4m0 1.4v1.4m0 -0.1v1.4m0 1.6v1.4m0 -1.3v1.4m0 -1.2v1.4m0 -0.9v1.4m0 4.5v1.4m0 2.9v1.4m0 2.8v1.4m0 0.9v1.4m0 3.7v1.4m0 -0.8v1.4m0 -0.6v1.4m0 -0.4v1.4m0 -0.4v1.4m0 -1v1.4m0 -0.2v1.4m0 2.3v1.4m0 -0.7v1.4m0 -1.1v1.4m0 -1.1v1.4m0 2v1.4m0 -0.7v1.4m0 -1v1.4m0 -1v1.4m0 -1.3v1.4m0 -1v1.4m0 -0.3v1.4m0 -0.8v1.4m0 -0.5v1.4m0 0.4v1.4m0 -1.1v1.4m0 -0.1v1.4m0 0.5v1.4m0 -1.1v1.4m0 -1.3v1.4m0 -1.3v1.4m0 -1.1v1.4m0 1.2v1.4m0 -0.6v1.4m0 6.1v1.4M183.2 614.2v1.4m0 1.7v1.4m0 4.4v1.4m0 0.5v1.4m0 -1v1.4m0 -0.1v1.4m0 2.4v1.4m0 -0.7v1.4m0 -0.5v1.4m0 0.7v1.4m0 1v1.4m0 0.1v1.4m0 -1.3v1.4m0 -0.7v1.4m0 -1v1.4m0 -1.2v1.4m0 0v1.4m0 0.8v1.4m0 -1v1.4m0 1.9v1.4m0 -1.3v1.4m0 6.9v1.4m0 -0.4v1.4m0 0.6v1.4m0 -1.3v1.4m0 -1.2v1.4m0 0.3v1.4m0 -0.9v1.4m0 -0.7v1.4m0 -0.6v1.4m0 -0.9v1.4m0 -0.1v1.4m0 -1.1v1.4m0 -1.2v1.4m0 -1.3v1.4m0 -0.2v1.4m0 -0.6v1.4m0 -0.6v1.4m0 0.1v1.4m0 -0.3v1.4m0 -1.3v1.4m0 -0.9v1.4m0 -0.4v1.4m0 -1.1v1.4m0 -0.8v1.4m0 -0.8v1.4m0 0.4v1.4m0 -1.1v1.4m0 -0.9v1.4m0 -0.8v1.4m0 -0.7v1.4m0 -1.2v1.4m0 0.7v1.4m0 -1.3v1.4m0 -1.4v1.4m0 0.6v1.4m0 0.4v1.4m0 -0.6v1.4m0 -0.3v1.4m0 2.4v1.4m0 0.7v1.4M188.4 617.9v1.4m0 7.2v1.4m0 0.9v1.4m0 2.2v1.4m0 1v1.4m0 -1.1v1.4m0 -0.9v1.4m0 -1.1v1.4m0 1.5v1.4m0 -0.8v1.4m0 -1.1v1.4m0 -0.8v1.4m0 3.7v1.4m0 0v1.4m0 -1v1.4m0 -1.4v1.4m0 -1.1v1.4m0 1.1v1.4m0 -0.4v1.4m0 -1.4v1.4m0 2.2v1.4m0 0.4v1.4m0 0.8v1.4m0 -1v1.4m0 -1.1v1.4m0 0.4v1.4m0 -0.1v1.4m0 -1.4v1.4m0 -1.4v1.4m0 -0.7v1.4m0 -1.2v1.4m0 -0.4v1.4m0 -0.5v1.4m0 -0.3v1.4m0 4.3v1.4m0 -1.2v1.4m0 -1.1v1.4m0 2.9v1.4m0 0.2v1.4m0 -0.8v1.4m0 0v1.4m0 -1.3v1.4m0 -1v1.4m0 -0.9v1.4m0 -0.5v1.4m0 -0.8v1.4m0 -1v1.4m0 -0.7v1.4m0 -1.2v1.4m0 -0.6v1.4m0 -1.2v1.4m0 -1v1.4m0 -1.3v1.4m0 0.5v1.4m0 0.4v1.4m0 0.8v1.4M193.6 618.1v1.4m0 -0.9v1.4m0 7.3v1.4m0 2.7v1.4m0 -1.4v1.4m0 -1v1.4m0 -0.1v1.4m0 -1.4v1.4m0 -0.9v1.4m0 -0.8v1.4m0 -0.2v1.4m0 0v1.4m0 -0.3v1.4m0 -0.6v1.4m0 -0.2v1.4m0 -0.1v1.4m0 3.1v1.4m0 0.9v1.4m0 2.3v1.4m0 -0.7v1.4m0 -0.4v1.4m0 1.7v1.4m0 -0.9v1.4m0 -0.9v1.4m0 0.4v1.4m0 -0.3v1.4m0 0.7v1.4m0 -0.5v1.4m0 -1.1v1.4m0 -1.4v1.4m0 -0.6v1.4m0 0.6v1.4m0 -0.9v1.4m0 -0.9v1.4m0 -1.4v1.4m0 -1v1.4m0 2.1v1.4m0 1v1.4m0 0.3v1.4m0 -0.7v1.4m0 0.2v1.4m0 -0.4v1.4m0 0.1v1.4m0 -0.9v1.4m0 2.8v1.4m0 -0.8v1.4m0 -1.1v1.4m0 -0.9v1.4m0 -1.1v1.4m0 -0.6v1.4M198.9 618.3v1.4m0 -0.2v1.4m0 0.6v1.4m0 3.4v1.4m0 -0.7v1.4m0 1.3v1.4m0 4.6v1.4m0 0.1v1.4m0 -1.1v1.4m0 -1.1v1.4m0 0.2v1.4m0 6v1.4m0 0.8v1.4m0 1.2v1.4m0 -0.4v1.4m0 0.1v1.4m0 -1.2v1.4m0 -0.4v1.4m0 1v1.4m0 -0.5v1.4m0 -1.2v1.4m0 -0.7v1.4m0 1.1v1.4m0 -0.9v1.4m0 -1.3v1.4m0 -1.2v1.4m0 -1.1v1.4m0 -1v1.4m0 -1v1.4m0 -1.4v1.4m0 0v1.4m0 1.6v1.4m0 -0.2v1.4m0 0.4v1.4m0 -0.7v1.4m0 -0.4v1.4m0 0.1v1.4m0 -1.3v1.4m0 -1.2v1.4m0 -0.9v1.4m0 0.5v1.4m0 -0.7v1.4m0 -1v1.4m0 -1.1v1.4m0 2.8v1.4m0 0.6v1.4m0 -0.7v1.4m0 -1.1v1.4m0 -0.1v1.4m0 -0.3v1.4m0 4.2v1.4m0 -1.2v1.4m0 5.1v1.4M204.1 601.3v1.4m0 12.1v1.4m0 6.2v1.4m0 -1.2v1.4m0 -1.3v1.4m0 -1v1.4m0 0v1.4m0 2.3v1.4m0 1.6v1.4m0 4v1.4m0 -0.7v1.4m0 -1.1v1.4m0 6v1.4m0 4.2v1.4m0 1.9v1.4m0 3v1.4m0 -0.5v1.4m0 0.1v1.4m0 1.8v1.4m0 0.5v1.4m0 -1.4v1.4m0 -1.3v1.4m0 4v1.4m0 2.3v1.4m0 0.1v1.4m0 -1v1.4m0 -1.2v1.4m0 -0.9v1.4m0 -1.4v1.4m0 -1.3v1.4m0 2.3v1.4m0 -1.3v1.4m0 -1.3v1.4m0 -1.1v1.4m0 1.2v1.4m0 0.9v1.4m0 -1.2v1.4m0 -1.4v1.4m0 -1v1.4M209.3 593.9v1.4m0 1.4v1.4m0 -0.3v1.4m0 16.3v1.4m0 0.9v1.4m0 -0.1v1.4m0 0.6v1.4m0 -0.8v1.4m0 0.7v1.4m0 7.5v1.4m0 -1.3v1.4m0 0.3v1.4m0 2.2v1.4m0 -0.3v1.4m0 -0.5v1.4m0 2.7v1.4m0 -1v1.4m0 -1.2v1.4m0 0v1.4m0 5.5v1.4m0 -1v1.4m0 3.1v1.4m0 0.1v1.4m0 0.4v1.4m0 -0.6v1.4m0 -0.7v1.4m0 -1.4v1.4m0 0.1v1.4m0 1v1.4m0 -1v1.4m0 -1.4v1.4m0 0.5v1.4m0 0.5v1.4m0 -0.6v1.4m0 1v1.4m0 -0.1v1.4m0 -1.2v1.4m0 -0.7v1.4m0 -1.3v1.4m0 -1.3v1.4m0 0.4v1.4m0 -1.1v1.4m0 -1.2v1.4m0 0.7v1.4m0 0.6v1.4m0 0.3v1.4m0 -0.5v1.4m0 0.6v1.4M214.6 609.5v1.4m0 12.1v1.4m0 1.5v1.4m0 -1v1.4m0 0.8v1.4m0 0.9v1.4m0 -1v1.4m0 -1v1.4m0 0.3v1.4m0 -0.9v1.4m0 0.3v1.4m0 2.8v1.4m0 -0.5v1.4m0 -0.8v1.4m0 -0.5v1.4m0 1.1v1.4m0 -1v1.4m0 -1.1v1.4m0 -0.3v1.4m0 5.6v1.4m0 5.7v1.4m0 -0.1v1.4m0 0.9v1.4m0 0.4v1.4m0 0.2v1.4m0 0.7v1.4m0 -1v1.4m0 -1v1.4m0 -1.4v1.4m0 -0.5v1.4m0 -1.1v1.4m0 -1v1.4m0 0.7v1.4m0 -0v1.4m0 -0.8v1.4m0 -0v1.4m0 -0.8v1.4m0 -0.4v1.4m0 4.1v1.4m0 4.2v1.4M219.8 601.9v1.4m0 0.5v1.4m0 4.9v1.4m0 0.9v1.4m0 -1.3v1.4m0 -0.4v1.4m0 -1.2v1.4m0 0.9v1.4m0 2.8v1.4m0 -0.1v1.4m0 1v1.4m0 0.4v1.4m0 0.2v1.4m0 -0.7v1.4m0 3v1.4m0 -0v1.4m0 2.8v1.4m0 2.2v1.4m0 -1.2v1.4m0 -1.1v1.4m0 -0.5v1.4m0 -0.1v1.4m0 1.6v1.4m0 3.8v1.4m0 1.3v1.4m0 -0.1v1.4m0 -1.2v1.4m0 -0.7v1.4m0 -0.1v1.4m0 1.7v1.4m0 -0.8v1.4m0 -1.4v1.4m0 -1.3v1.4m0 -1.3v1.4m0 -0.4v1.4m0 -0.7v1.4m0 0.2v1.4m0 -0.3v1.4m0 -0.4v1.4m0 1.4v1.4m0 1v1.4m0 -0.6v1.4m0 -1.2v1.4m0 -1.2v1.4m0 -1.4v1.4m0 -1v1.4m0 -1.3v1.4m0 -1.2v1.4m0 -0.8v1.4m0 -1v1.4m0 -0.2v1.4m0 -0.2v1.4m0 -1.1v1.4m0 -1.3v1.4m0 0v1.4m0 -0.6v1.4m0 0.9v1.4m0 -0.4v1.4m0 0.4v1.4m0 -0.9v1.4M225 604.4v1.4m0 -0.4v1.4m0 8.7v1.4m0 -0.1v1.4m0 -1.3v1.4m0 0.5v1.4m0 -0.7v1.4m0 -0.9v1.4m0 -0.7v1.4m0 -0.9v1.4m0 0.4v1.4m0 1.1v1.4m0 0.1v1.4m0 -0.4v1.4m0 0.6v1.4m0 0.1v1.4m0 3.6v1.4m0 -1v1.4m0 -0.7v1.4m0 1.8v1.4m0 -1v1.4m0 3.6v1.4m0 1.1v1.4m0 -0.4v1.4m0 2v1.4m0 -1.4v1.4m0 1.6v1.4m0 -0.2v1.4m0 0.9v1.4m0 0.1v1.4m0 -1.1v1.4m0 0.5v1.4m0 -1v1.4m0 -0.9v1.4m0 -0.6v1.4m0 -0.9v1.4m0 -1.3v1.4m0 -1.1v1.4m0 0.9v1.4m0 -1v1.4m0 -0.4v1.4m0 3.9v1.4m0 -0.8v1.4m0 -1.1v1.4m0 -0.7v1.4m0 0.4v1.4m0 -0.9v1.4m0 -1.2v1.4m0 -0.8v1.4m0 -1.2v1.4m0 -1.4v1.4m0 2.7v1.4m0 -1.1v1.4m0 1.7v1.4m0 12.1v1.4M230.3 599.8v1.4m0 4.9v1.4m0 2.4v1.4m0 3.2v1.4m0 0.4v1.4m0 0.8v1.4m0 -0.2v1.4m0 -1v1.4m0 -0.7v1.4m0 1.7v1.4m0 -1.1v1.4m0 -1.2v1.4m0 -1.2v1.4m0 1.1v1.4m0 4.9v1.4m0 0.2v1.4m0 0.4v1.4m0 5.2v1.4m0 -0.7v1.4m0 1.8v1.4m0 1.6v1.4m0 1v1.4m0 -0.2v1.4m0 -1.1v1.4m0 -1.3v1.4m0 0.2v1.4m0 0.3v1.4m0 -0.8v1.4m0 -0.9v1.4m0 -0.7v1.4m0 -0.4v1.4m0 1.2v1.4m0 -0.6v1.4m0 0.6v1.4m0 -0.7v1.4m0 -1.3v1.4m0 3.6v1.4m0 -0.7v1.4m0 -1.1v1.4m0 -1.3v1.4m0 -0.7v1.4m0 -1.4v1.4m0 -0.2v1.4m0 -0.8v1.4m0 -1.3v1.4m0 -0.5v1.4m0 -0.8v1.4m0 -1.3v1.4m0 -1.1v1.4m0 -1.2v1.4m0 1.6v1.4m0 -1.3v1.4m0 -0.8v1.4m0 0.4v1.4m0 -0.5v1.4m0 -0.8v1.4M235.5 595.6v1.4m0 4.7v1.4m0 -0.7v1.4m0 16.3v1.4m0 -1.4v1.4m0 1v1.4m0 2.1v1.4m0 1.4v1.4m0 -0.8v1.4m0 6.2v1.4m0 1.2v1.4m0 0.1v1.4m0 3v1.4m0 -0.8v1.4m0 3.5v1.4m0 2v1.4m0 0.4v1.4m0 -1.4v1.4m0 -0v1.4m0 -1.2v1.4m0 -0.6v1.4m0 1.5v1.4m0 2.2v1.4m0 -0.9v1.4m0 -1v1.4m0 -1.2v1.4m0 -0.7v1.4m0 0.8v1.4m0 -0.2v1.4m0 -1.1v1.4m0 -0.3v1.4m0 0.2v1.4m0 -1.4v1.4m0 -1.3v1.4m0 -0.8v1.4m0 -1.1v1.4m0 -0v1.4m0 -1.4v1.4m0 -1v1.4m0 -0v1.4m0 -1.4v1.4m0 -1.2v1.4m0 -0v1.4m0 1v1.4m0 0.4v1.4m0 5.5v1.4M240.7 597.8v1.4m0 -0.5v1.4m0 5.8v1.4m0 0.7v1.4m0 -0.8v1.4m0 -0.9v1.4m0 -0.8v1.4m0 0.6v1.4m0 2v1.4m0 -0.9v1.4m0 1.3v1.4m0 0.8v1.4m0 -0.7v1.4m0 -1.3v1.4m0 1.5v1.4m0 6.8v1.4m0 5.2v1.4m0 4.8v1.4m0 3.9v1.4m0 0.7v1.4m0 -0.9v1.4m0 -0.2v1.4m0 0.1v1.4m0 -1.1v1.4m0 -0.6v1.4m0 -1.1v1.4m0 0.7v1.4m0 4.5v1.4m0 -1.1v1.4m0 -1.1v1.4m0 -1.3v1.4m0 -0.3v1.4m0 0v1.4m0 -0.1v1.4m0 -0.9v1.4m0 -1v1.4m0 -1v1.4m0 -1.4v1.4m0 1.9v1.4m0 -0.7v1.4m0 -1.2v1.4m0 -1v1.4m0 -0.8v1.4m0 -1.4v1.4m0 -1.4v1.4m0 -0.1v1.4m0 -1.3v1.4m0 -1.1v1.4m0 -0.6v1.4m0 -0.2v1.4m0 0.5v1.4m0 -1.4v1.4m0 1.4v1.4m0 -0.9v1.4m0 5v1.4m0 0v1.4M245.9 593.4v1.4m0 -0.7v1.4m0 4.5v1.4m0 2.7v1.4m0 1.9v1.4m0 -0.2v1.4m0 0.3v1.4m0 -1v1.4m0 2.2v1.4m0 0.8v1.4m0 -1.3v1.4m0 0.6v1.4m0 2.3v1.4m0 2.2v1.4m0 3.3v1.4m0 1.5v1.4m0 -0.1v1.4m0 6v1.4m0 0.3v1.4m0 -0.2v1.4m0 -0v1.4m0 1.5v1.4m0 0v1.4m0 -0.8v1.4m0 0.4v1.4m0 0.2v1.4m0 0.5v1.4m0 -1.1v1.4m0 -1.3v1.4m0 -0.8v1.4m0 -0.9v1.4m0 -1v1.4m0 -0.7v1.4m0 -0.5v1.4m0 -1.2v1.4m0 -0.9v1.4m0 0.1v1.4m0 -1v1.4m0 1v1.4m0 -0.3v1.4m0 1.6v1.4m0 -0v1.4m0 0.4v1.4m0 -1.1v1.4m0 -0.6v1.4m0 -1.2v1.4m0 -0.6v1.4m0 0.4v1.4m0 4.9v1.4m0 -0.2v1.4m0 1.2v1.4M251.2 569.6v1.4m0 20.7v1.4m0 1.4v1.4m0 0.8v1.4m0 3.4v1.4m0 2.8v1.4m0 2.3v1.4m0 -1.3v1.4m0 3.9v1.4m0 -1v1.4m0 0.6v1.4m0 0.1v1.4m0 0.5v1.4m0 -1.4v1.4m0 -0.5v1.4m0 11.6v1.4m0 0.7v1.4m0 -0.5v1.4m0 -1.2v1.4m0 -1.2v1.4m0 1.5v1.4m0 7.2v1.4m0 -1.1v1.4m0 1v1.4m0 -1.2v1.4m0 0.1v1.4m0 1v1.4m0 -0.8v1.4m0 -0.2v1.4m0 -0.8v1.4m0 0.1v1.4m0 -0.5v1.4m0 1.7v1.4m0 -1.4v1.4m0 -1.1v1.4m0 1.7v1.4m0 -1.3v1.4m0 -0.1v1.4m0 -1v1.4m0 -1.2v1.4m0 -0.9v1.4m0 -1.1v1.4m0 0.6v1.4m0 0v1.4m0 -1.3v1.4m0 -1.2v1.4m0 -0.6v1.4m0 -0.6v1.4m0 1.2v1.4m0 -0.8v1.4m0 -1.4v1.4m0 -1.4v1.4m0 -1.4v1.4m0 0.9v1.4m0 -1.2v1.4m0 2.6v1.4m0 12.7v1.4M256.4 596.8v1.4m0 0.7v1.4m0 -0.1v1.4m0 1.6v1.4m0 -0.5v1.4m0 2.8v1.4m0 -0.4v1.4m0 0.1v1.4m0 3.4v1.4m0 -1.1v1.4m0 2.6v1.4m0 -1.2v1.4m0 -1.2v1.4m0 3.4v1.4m0 1.8v1.4m0 1.9v1.4m0 1.3v1.4m0 -0.6v1.4m0 0.5v1.4m0 -0.5v1.4m0 0v1.4m0 0.6v1.4m0 6.3v1.4m0 0.4v1.4m0 0v1.4m0 -0.7v1.4m0 -1.1v1.4m0 -0.6v1.4m0 -1.3v1.4m0 -1.3v1.4m0 -0.5v1.4m0 -1.3v1.4m0 1.5v1.4m0 -1.1v1.4m0 -0.6v1.4m0 -1.3v1.4m0 -0.8v1.4m0 1.1v1.4m0 -1v1.4m0 -0.5v1.4m0 -1.2v1.4m0 0.2v1.4m0 -1.2v1.4m0 0.7v1.4m0 -0.9v1.4m0 -0.2v1.4m0 -1.1v1.4m0 -1.3v1.4m0 -0.8v1.4m0 -1.4v1.4m0 -1v1.4m0 -0.8v1.4m0 -1.2v1.4m0 -0.9v1.4m0 -1.1v1.4m0 -1.1v1.4m0 -1.3v1.4m0 -1.3v1.4m0 0.4v1.4m0 -0.6v1.4m0 -1.2v1.4m0 -1v1.4m0 -1.4v1.4m0 -1.3v1.4m0 -1.3v1.4m0 -1.3v1.4m0 3.3v1.4m0 -1.1v1.4M261.6 568.2v1.4m0 21.2v1.4m0 0.6v1.4m0 5v1.4m0 3.7v1.4m0 -0.2v1.4m0 2.9v1.4m0 2.3v1.4m0 -0.7v1.4m0 -1.1v1.4m0 2.2v1.4m0 2.7v1.4m0 3.4v1.4m0 -1.2v1.4m0 2.5v1.4m0 3.3v1.4m0 2.6v1.4m0 -1.3v1.4m0 1v1.4m0 -1.2v1.4m0 -0.8v1.4m0 6.1v1.4m0 -0.9v1.4m0 -1.2v1.4m0 -0.3v1.4m0 1.5v1.4m0 -0.8v1.4m0 -1v1.4m0 -1.2v1.4m0 -0.3v1.4m0 -0.7v1.4m0 0.6v1.4m0 -0.5v1.4m0 -1.2v1.4m0 -0.6v1.4m0 -0.6v1.4m0 -0.1v1.4m0 -1.3v1.4m0 1.3v1.4m0 -0.6v1.4m0 -1.4v1.4m0 -0.8v1.4m0 0.1v1.4m0 -1.3v1.4m0 -1.1v1.4m0 -1v1.4m0 -0.3v1.4m0 -0.3v1.4m0 -0.1v1.4m0 -1.3v1.4m0 -0.8v1.4m0 1.4v1.4m0 -0.5v1.4m0 0.5v1.4m0 -1.2v1.4m0 -0.7v1.4m0 -0.2v1.4m0 2.8v1.4m0 -0.6v1.4m0 5.9v1.4M266.9 561.2v1.4m0 15.5v1.4m0 15.7v1.4m0 1.7v1.4m0 0.8v1.4m0 3.9v1.4m0 1.1v1.4m0 0.1v1.4m0 -1.1v1.4m0 -0.2v1.4m0 -0.9v1.4m0 -1.2v1.4m0 0.6v1.4m0 0.6v1.4m0 -0.6v1.4m0 -0.6v1.4m0 1.1v1.4m0 2.6v1.4m0 4.9v1.4m0 1.5v1.4m0 -0.6v1.4m0 2.4v1.4m0 3.1v1.4m0 -0.7v1.4m0 2.9v1.4m0 -0.5v1.4m0 -1v1.4m0 -0.6v1.4m0 2.2v1.4m0 -0.2v1.4m0 -0.8v1.4m0 -0.4v1.4m0 -1.3v1.4m0 1.2v1.4m0 -0.8v1.4m0 -0.4v1.4m0 -1.2v1.4m0 -0.2v1.4m0 1.5v1.4m0 2.4v1.4m0 -0.8v1.4m0 -1.2v1.4m0 -0.3v1.4m0 -1.4v1.4m0 -1.1v1.4m0 -1.1v1.4m0 -1.2v1.4m0 -0.6v1.4m0 0.1v1.4m0 -1.3v1.4m0 -0.7v1.4m0 0.2v1.4m0 0.1v1.4m0 5.9v1.4M272.1 571.8v1.4m0 8.5v1.4m0 5.6v1.4m0 3.3v1.4m0 7.1v1.4m0 -0.3v1.4m0 -0.7v1.4m0 4.7v1.4m0 -0.8v1.4m0 -0.1v1.4m0 -1.3v1.4m0 -0.7v1.4m0 0.3v1.4m0 2.2v1.4m0 -0.3v1.4m0 13.1v1.4m0 1.2v1.4m0 -1.2v1.4m0 -0.6v1.4m0 1.1v1.4m0 -1.3v1.4m0 -0.4v1.4m0 0.6v1.4m0 -1.3v1.4m0 0.3v1.4m0 0.1v1.4m0 -0.9v1.4m0 0.4v1.4m0 -1.1v1.4m0 -1.1v1.4m0 1.8v1.4m0 1.1v1.4m0 -1.3v1.4m0 2v1.4m0 -0.4v1.4m0 -1.2v1.4m0 -1.4v1.4m0 -0.7v1.4m0 0.1v1.4m0 -1.2v1.4m0 -1.1v1.4m0 -1.3v1.4m0 -0.7v1.4m0 2.4v1.4m0 -0.9v1.4m0 -0.9v1.4m0 1.3v1.4m0 -0.8v1.4m0 -0.9v1.4m0 -1.3v1.4m0 -1.2v1.4m0 -1.4v1.4m0 3.5v1.4m0 4.4v1.4m0 0.1v1.4M277.3 562.9v1.4m0 4.2v1.4m0 17.3v1.4m0 -0.3v1.4m0 -1.2v1.4m0 -1.2v1.4m0 5v1.4m0 0.1v1.4m0 1.7v1.4m0 -1v1.4m0 -0.6v1.4m0 -0.7v1.4m0 5.6v1.4m0 0.4v1.4m0 -0.5v1.4m0 1.4v1.4m0 -1.3v1.4m0 0.5v1.4m0 0.6v1.4m0 -0.2v1.4m0 8.6v1.4m0 0.8v1.4m0 0.1v1.4m0 4.2v1.4m0 -1.2v1.4m0 -0.7v1.4m0 -0.9v1.4m0 0.1v1.4m0 2.3v1.4m0 -1v1.4m0 -0v1.4m0 1.6v1.4m0 -0.2v1.4m0 -0.1v1.4m0 0.5v1.4m0 -0.8v1.4m0 -0.6v1.4m0 0.3v1.4m0 -1.3v1.4m0 0.6v1.4m0 -1.2v1.4m0 3.2v1.4m0 -0.3v1.4m0 -0.7v1.4m0 -0.8v1.4m0 2.2v1.4m0 -0.4v1.4m0 -0.2v1.4m0 0.4v1.4m0 0.2v1.4m0 3.2v1.4m0 1v1.4m0 0.9v1.4m0 0.5v1.4m0 6.4v1.4M282.6 565.6v1.4m0 21.2v1.4m0 -0.8v1.4m0 -1v1.4m0 0v1.4m0 4.3v1.4m0 5.1v1.4m0 -0v1.4m0 -1.1v1.4m0 -0.3v1.4m0 -0.9v1.4m0 -0.2v1.4m0 -0.8v1.4m0 -0.9v1.4m0 1.4v1.4m0 7.5v1.4m0 4.8v1.4m0 4.8v1.4m0 -1v1.4m0 -0.5v1.4m0 -0.8v1.4m0 0.7v1.4m0 -0v1.4m0 -0.4v1.4m0 -1.3v1.4m0 0.2v1.4m0 -0.6v1.4m0 -0.3v1.4m0 -1v1.4m0 0.4v1.4m0 -0.4v1.4m0 -1.1v1.4m0 -1.3v1.4m0 -0.5v1.4m0 -1.3v1.4m0 -1v1.4m0 0.2v1.4m0 -0.1v1.4m0 0.2v1.4m0 5.1v1.4m0 -0.4v1.4m0 0.3v1.4m0 -0.2v1.4m0 -0.9v1.4m0 -1.2v1.4m0 1.5v1.4m0 -1.2v1.4m0 -0.9v1.4m0 -1.3v1.4m0 -0.4v1.4m0 -1.1v1.4m0 -1.3v1.4m0 -1.2v1.4m0 -1.3v1.4m0 -1.3v1.4m0 0.7v1.4m0 -0.4v1.4m0 -0.1v1.4m0 -1.3v1.4m0 -1.4v1.4m0 0v1.4m0 3.7v1.4m0 3.1v1.4m0 2.9v1.4M287.8 574.1v1.4m0 12.4v1.4m0 0.3v1.4m0 -0.6v1.4m0 -1.2v1.4m0 5.6v1.4m0 -0.9v1.4m0 -0.4v1.4m0 1.6v1.4m0 -0.9v1.4m0 1.6v1.4m0 -0.3v1.4m0 0.5v1.4m0 -0.7v1.4m0 -0.2v1.4m0 9v1.4m0 3.8v1.4m0 -0.1v1.4m0 3.5v1.4m0 0v1.4m0 8.6v1.4m0 -0.7v1.4m0 4.2v1.4m0 3.1v1.4m0 -0.8v1.4m0 0.2v1.4m0 -1v1.4m0 -0.3v1.4m0 1.1v1.4m0 0.1v1.4m0 2.2v1.4m0 -1.3v1.4m0 -0.9v1.4m0 -1.2v1.4m0 -0.9v1.4m0 -1.2v1.4m0 -1.2v1.4m0 -0.6v1.4m0 -1.2v1.4m0 0.4v1.4m0 4.1v1.4m0 -0.5v1.4m0 -1.2v1.4M293 571.6v1.4m0 4.8v1.4m0 7.7v1.4m0 -0.3v1.4m0 1.3v1.4m0 -0.9v1.4m0 1.6v1.4m0 0.4v1.4m0 -0.9v1.4m0 -0.6v1.4m0 8.5v1.4m0 0.7v1.4m0 0.1v1.4m0 -1.2v1.4m0 4.2v1.4m0 9v1.4m0 4.9v1.4m0 0.8v1.4m0 -0.9v1.4m0 2.9v1.4m0 -1.2v1.4m0 0.9v1.4m0 2v1.4m0 1v1.4m0 0.5v1.4m0 0.5v1.4m0 1.2v1.4m0 -0.8v1.4m0 5v1.4m0 1.5v1.4m0 -1.1v1.4m0 -1.4v1.4m0 0.3v1.4m0 -1.1v1.4m0 -1.3v1.4m0 0.4v1.4m0 -1.1v1.4m0 -1.2v1.4m0 0.4v1.4m0 -1.1v1.4m0 1v1.4m0 0v1.4M298.2 577.1v1.4m0 4.8v1.4m0 0.9v1.4m0 10.3v1.4m0 -1.3v1.4m0 -0.7v1.4m0 0.2v1.4m0 6.6v1.4m0 2.6v1.4m0 5.4v1.4m0 0.7v1.4m0 1.1v1.4m0 -0.6v1.4m0 4.3v1.4m0 3v1.4m0 0.8v1.4m0 -1.4v1.4m0 0.8v1.4m0 8.1v1.4m0 1.2v1.4m0 -0.8v1.4m0 -1.1v1.4m0 -0.9v1.4m0 -1.3v1.4m0 -0.9v1.4m0 3.5v1.4m0 1.8v1.4m0 1.4v1.4m0 0.2v1.4m0 -0.7v1.4m0 -0.6v1.4m0 -0.6v1.4m0 -1.3v1.4m0 -1.2v1.4m0 -1.4v1.4m0 -1v1.4m0 1.8v1.4m0 -1v1.4m0 0.2v1.4m0 0.6v1.4m0 -0.8v1.4m0 1.6v1.4m0 6.4v1.4M303.5 563.8v1.4m0 13.1v1.4m0 3.2v1.4m0 15.6v1.4m0 1.7v1.4m0 3.5v1.4m0 2.7v1.4m0 8.2v1.4m0 0.8v1.4m0 10.4v1.4m0 3.6v1.4m0 1.2v1.4m0 0.2v1.4m0 4.9v1.4m0 -0.3v1.4m0 1.1v1.4m0 4.2v1.4m0 1.3v1.4m0 -1.3v1.4m0 -1v1.4m0 2.6v1.4m0 -0.9v1.4m0 5.1v1.4m0 1.3v1.4M308.7 556.1v1.4m0 4.2v1.4m0 17.4v1.4m0 19v1.4m0 12.3v1.4m0 16.7v1.4m0 6.2v1.4m0 13.9v1.4m0 1.2v1.4m0 3.1v1.4m0 -0.1v1.4m0 0.4v1.4m0 17v1.4M313.9 569.4v1.4m0 18.8v1.4m0 10.6v1.4m0 42.7v1.4m0 -1v1.4m0 2.8v1.4m0 2.6v1.4m0 -0.5v1.4m0 -1v1.4m0 2.8v1.4m0 -1v1.4m0 -0.7v1.4m0 -0.9v1.4m0 2.1v1.4m0 -0.7v1.4m0 -1.3v1.4m0 11.4v1.4m0 8.7v1.4M319.2 601.6v1.4m0 60.2v1.4m0 3.8v1.4m0 6.8v1.4M324.4 662.8v1.4m0 2.7v1.4M329.6 544.9v1.4m0 112.6v1.4m0 5v1.4M334.9 538.6v1.4m0 107.1v1.4" stroke="#0a4890" stroke-width="1.4" fill="none"/>
<path d="M245.9 684.3l41.8 -8.8M172.7 687.5l36.6 -7.7M130.9 664l10.5 -2.2M204.1 677.4l31.4 -6.6M230.3 694.5l15.7 -3.3M204.1 683.8l36.6 -7.7M230.3 682.1l41.8 -8.8M235.5 673.4l20.9 -4.4M193.6 635.8l31.4 -6.6M256.4 640.3l31.4 -6.6M245.9 606l31.4 -6.6M141.3 691l41.8 -8.8M130.9 658.3l36.6 -7.7M136.1 700.1l47.1 -9.9M162.3 618.7l20.9 -4.4M261.6 584.6l36.6 -7.7M151.8 642.2l47.1 -9.9M256.4 629.6l47.1 -9.9M198.9 696.4l41.8 -8.8M146.6 703.6l20.9 -4.4M209.3 685.6l36.6 -7.7M183.2 638.4l41.8 -8.8M193.6 638.9l47.1 -9.9M240.7 582.3l41.8 -8.8M162.3 683.3l47.1 -9.9M151.8 683.5l47.1 -9.9M219.8 613.5l41.8 -8.8M277.3 693l36.6 -7.7M219.8 652.1l36.6 -7.7M167.5 677l41.8 -8.8M225 648.2l20.9 -4.4M146.6 649.8l36.6 -7.7M256.4 555.5l41.8 -8.8M209.3 699.4l36.6 -7.7M266.9 571.4l31.4 -6.6M157 693l41.8 -8.8M151.8 633.2l10.5 -2.2M256.4 555.8l31.4 -6.6M214.6 664.6l31.4 -6.6M183.2 670.2l36.6 -7.7M209.3 681.3l31.4 -6.6M256.4 686.4l20.9 -4.4M225 675.1l41.8 -8.8M261.6 586l47.1 -9.9M219.8 675l31.4 -6.6M198.9 686.6l41.8 -8.8M230.3 573.6l41.8 -8.8M172.7 610.4l15.7 -3.3M303.5 550.5l31.4 -6.6M261.6 667l26.1 -5.5M209.3 679.7l26.2 -5.5M151.8 636.9l15.7 -3.3M214.6 607.3l31.4 -6.6M256.4 588.2l47.1 -9.9M277.3 693.8l36.6 -7.7M261.6 625.5l41.8 -8.8M225 681l36.6 -7.7M157 690.2l36.6 -7.7M245.9 629.6l41.8 -8.8M162.3 696.3l26.1 -5.5M256.4 692.7l47.1 -9.9M209.3 681.9l47.1 -9.9M167.5 692.2l36.6 -7.7M256.4 671.1l31.4 -6.6M209.3 606l36.6 -7.7M157 695.9l47.1 -9.9M209.3 699.1l31.4 -6.6M219.8 687.5l20.9 -4.4M162.3 615.4l47.1 -9.9M167.5 653.3l47.1 -9.9M136.1 680.9l36.6 -7.7" stroke="#86c8ee" stroke-width="0.6" fill="none"/>
<path d="M225 672l47.1 -9.9M272.1 688.3l31.4 -6.6M272.1 588.3l36.6 -7.7M209.3 674.3l36.6 -7.7M251.2 637.2l31.4 -6.6M151.8 640.4l47.1 -9.9M277.3 593.7l36.6 -7.7M272.1 677.1l20.9 -4.4M225 605.7l36.6 -7.7M219.8 681.8l10.5 -2.2M204.1 650.1l26.2 -5.5M151.8 686.3l36.6 -7.7M235.5 680.7l26.2 -5.5M245.9 579.8l31.4 -6.6M130.9 644.8l47.1 -9.9M256.4 679.4l41.8 -8.8M214.6 670.4l31.4 -6.6M225 619.6l41.8 -8.8M162.3 662.2l15.7 -3.3M178 651.2l15.7 -3.3M151.8 664l15.7 -3.3M136.1 696.5l41.8 -8.8M178 622l26.1 -5.5M225 668.6l15.7 -3.3M214.6 619.1l47.1 -9.9M183.2 670.7l41.8 -8.8M230.3 603.8l36.6 -7.7M151.8 670.7l47.1 -9.9M235.5 680.8l41.8 -8.8M225 647.8l41.8 -8.8M178 603.4l31.4 -6.6M157 689.9l31.4 -6.6M219.8 675.6l10.5 -2.2M198.9 633.1l15.7 -3.3M225 622.6l20.9 -4.4M198.9 671.4l36.6 -7.7M277.3 609.8l36.6 -7.7M136.1 692.1l41.8 -8.8M198.9 677.3l41.8 -8.8M146.6 682.6l26.1 -5.5M225 633.9l36.6 -7.7M240.7 673.9l26.2 -5.5M146.6 688.5l36.6 -7.7M209.3 667.5l20.9 -4.4M146.6 631.3l20.9 -4.4M188.4 675.5l20.9 -4.4M151.8 694.8l41.8 -8.8M198.9 669.2l41.8 -8.8M219.8 623.1l20.9 -4.4M219.8 612.5l31.4 -6.6M167.5 628.7l26.2 -5.5M178 678.1l41.8 -8.8M245.9 681.3l41.8 -8.8M204.1 676.5l36.6 -7.7M198.9 604.2l47.1 -9.9M209.3 635l31.4 -6.6M266.9 632.3l41.8 -8.8M141.3 687.6l36.6 -7.7M141.3 678.9l41.8 -8.8M183.2 642.7l26.2 -5.5M272.1 628.6l41.8 -8.8M240.7 680.1l41.8 -8.8M130.9 699.4l36.6 -7.7M130.9 669.3l36.6 -7.7M130.9 647.9l41.8 -8.8M151.8 696.4l31.4 -6.6M277.3 645.1l36.6 -7.7M167.5 679.8l20.9 -4.4M157 675.3l31.4 -6.6M251.2 616.6l41.8 -8.8M235.5 629l31.4 -6.6M141.3 629.4l41.8 -8.8M141.3 684.7l36.6 -7.7M272.1 626.3l41.8 -8.8M225 641l20.9 -4.4M141.3 695l41.8 -8.8M172.7 644.8l41.8 -8.8M219.8 690.7l10.5 -2.2M141.3 685.6l31.4 -6.6M162.3 652l26.1 -5.5M130.9 650.5l20.9 -4.4M146.6 642.6l20.9 -4.4M136.1 657.8l26.2 -5.5M251.2 665.5l10.5 -2.2M266.9 676.9l10.5 -2.2M157 633.6l26.2 -5.5M219.8 617.9l41.8 -8.8M277.3 667.7l10.5 -2.2M261.6 679.4l31.4 -6.6M261.6 571.7l10.5 -2.2M251.2 658.7l15.7 -3.3M167.5 677.7l36.6 -7.7M235.5 669.1l15.7 -3.3M157 673.6l31.4 -6.6M130.9 679l15.7 -3.3M146.6 687.5l47.1 -9.9M157 665.3l26.2 -5.5M209.3 600.6l31.4 -6.6M198.9 672.4l10.5 -2.2M157 673.5l47.1 -9.9M235.5 680.5l20.9 -4.4M245.9 605.8l31.4 -6.6M157 698.7l36.6 -7.7M136.1 656.5l36.6 -7.7M266.9 670l31.4 -6.6M183.2 693.1l41.8 -8.8M225 643.1l41.8 -8.8M188.4 616.6l36.6 -7.7M308.7 676.2l20.9 -4.4M240.7 631.1l31.4 -6.6M209.3 680.3l41.8 -8.8M277.3 675.2l10.5 -2.2M130.9 687.4l20.9 -4.4M204.1 675l31.4 -6.6M193.6 681.5l47.1 -9.9M230.3 673.9l10.5 -2.2M136.1 649.6l41.8 -8.8M193.6 674.6l10.5 -2.2M245.9 596.2l41.8 -8.8M141.3 660.8l15.7 -3.3M240.7 672.7l31.4 -6.6M188.4 681.3l31.4 -6.6M141.3 686.7l31.4 -6.6M136.1 664.8l36.6 -7.7M151.8 689.9l31.4 -6.6M225 668.9l41.8 -8.8M141.3 693.5l31.4 -6.6M225 682.2l26.2 -5.5M240.7 676.7l31.4 -6.6M245.9 669.9l31.4 -6.6M188.4 624.8l36.6 -7.7M157 680l15.7 -3.3M209.3 639l20.9 -4.4M157 636.4l41.8 -8.8M261.6 622.7l41.8 -8.8M256.4 674.1l36.6 -7.7M225 697.3l31.4 -6.6M266.9 665.4l41.8 -8.8M183.2 643.7l36.6 -7.7M245.9 602.2l36.6 -7.7M261.6 623.8l41.8 -8.8M172.7 669.8l26.2 -5.5M178 689.8l41.8 -8.8M162.3 660.5l47.1 -9.9M225 627.6l36.6 -7.7M198.9 681.1l41.8 -8.8M204.1 610.4l41.8 -8.8M157 682l36.6 -7.7M256.4 672.4l41.8 -8.8M188.4 618.6l15.7 -3.3M198.9 657.6l41.8 -8.8M204.1 639.6l26.2 -5.5M167.5 682.6l15.7 -3.3M245.9 680.5l41.8 -8.8M188.4 637l47.1 -9.9M251.2 651.7l47.1 -9.9M209.3 678.5l20.9 -4.4M225 671.9l41.8 -8.8M261.6 608.9l36.6 -7.7M204.1 682l26.2 -5.5M178 641.8l10.5 -2.2M214.6 691.9l41.8 -8.8M230.3 676l41.8 -8.8M172.7 623.2l31.4 -6.6M162.3 680.6l26.1 -5.5M204.1 620.9l15.7 -3.3M157 654l26.2 -5.5M183.2 625.7l41.8 -8.8M245.9 643l47.1 -9.9M251.2 677.8l47.1 -9.9M157 678.7l20.9 -4.4M130.9 649.3l31.4 -6.6M183.2 641l47.1 -9.9M219.8 682.3l26.2 -5.5M188.4 661.3l20.9 -4.4M277.3 667.7l26.2 -5.5M193.6 636.7l41.8 -8.8M219.8 620.5l10.5 -2.2M287.8 622l41.8 -8.8M130.9 686l36.6 -7.7M256.4 595.5l36.6 -7.7M136.1 674.5l20.9 -4.4M204.1 633l26.2 -5.5M266.9 677.6l41.8 -8.8M272.1 663.2l41.8 -8.8M130.9 656.6l31.4 -6.6M204.1 638.3l31.4 -6.6M245.9 674.6l31.4 -6.6M172.7 638.2l41.8 -8.8M277.3 678.6l36.6 -7.7M272.1 576.4l10.5 -2.2M183.2 679.9l15.7 -3.3M198.9 692.4l41.8 -8.8M261.6 671.1l47.1 -9.9M261.6 666l31.4 -6.6M235.5 624.3l36.6 -7.7M235.5 671.2l41.8 -8.8M277.3 662.2l26.2 -5.5M162.3 673.9l36.6 -7.7M193.6 670.5l41.8 -8.8M172.7 647.4l26.2 -5.5M162.3 662.1l10.5 -2.2M245.9 608.5l15.7 -3.3M256.4 663.9l10.5 -2.2M136.1 654.8l20.9 -4.4M214.6 616.3l41.8 -8.8M198.9 669.7l15.7 -3.3M251.2 670.3l15.7 -3.3M251.2 667.6l41.8 -8.8M230.3 674.2l41.8 -8.8M157 663.2l41.8 -8.8M272.1 623.3l31.4 -6.6M219.8 668.7l26.2 -5.5M266.9 636.2l41.8 -8.8M193.6 678.8l26.2 -5.5M214.6 609.4l36.6 -7.7M251.2 598l41.8 -8.8M136.1 656.3l20.9 -4.4M277.3 667.7l36.6 -7.7M240.7 564.3l36.6 -7.7M183.2 676.8l31.4 -6.6M157 657l36.6 -7.7M219.8 672.8l10.5 -2.2M136.1 637.4l31.4 -6.6M245.9 606.1l41.8 -8.8M209.3 611.3l31.4 -6.6M277.3 647.7l36.6 -7.7M141.3 697.8l36.6 -7.7M136.1 679.2l15.7 -3.3M256.4 662.2l41.8 -8.8M209.3 602.3l31.4 -6.6M193.6 683l15.7 -3.3M225 632.8l31.4 -6.6M235.5 603.8l47.1 -9.9M146.6 644.3l36.6 -7.7M157 694.7l36.6 -7.7M204.1 654.7l15.7 -3.3M157 680.7l47.1 -9.9M214.6 685.8l26.1 -5.5M251.2 655.3l20.9 -4.4M245.9 672.4l36.6 -7.7M193.6 690l31.4 -6.6M151.8 633.7l36.6 -7.7M225 668.6l20.9 -4.4M219.8 632.4l15.7 -3.3M277.3 683.2l36.6 -7.7M277.3 670.5l36.6 -7.7M266.9 674.4l26.1 -5.5M141.3 652.4l20.9 -4.4M209.3 596.7l36.6 -7.7M266.9 693.7l20.9 -4.4M141.3 692.1l36.6 -7.7M167.5 682.7l41.8 -8.8M225 691.5l31.4 -6.6M136.1 696.5l41.8 -8.8M136.1 682.1l20.9 -4.4M198.9 687.3l20.9 -4.4M209.3 657.3l20.9 -4.4M183.2 638l41.8 -8.8M141.3 672.5l41.8 -8.8M256.4 671.3l36.6 -7.7M193.6 681.6l41.8 -8.8M261.6 625.7l15.7 -3.3M141.3 692.2l31.4 -6.6M277.3 658.2l36.6 -7.7M272.1 562.4l36.6 -7.7M219.8 635.4l41.8 -8.8M256.4 594.1l10.5 -2.2M146.6 688.2l41.8 -8.8M167.5 679.3l41.8 -8.8M225 676l15.7 -3.3" stroke="#2e8ed2" stroke-width="0.6" fill="none"/>
<path d="M225 668.4l31.4 -6.6M272.1 657.5l41.8 -8.8M277.3 636.9l20.9 -4.4M157 663.4l31.4 -6.6M151.8 665.1l41.8 -8.8M235.5 639.7l10.5 -2.2M235.5 631.3l41.8 -8.8M167.5 675.1l31.4 -6.6M240.7 623l31.4 -6.6M209.3 668.3l26.2 -5.5M272.1 620.3l31.4 -6.6M146.6 661.7l15.7 -3.3M167.5 670.6l31.4 -6.6M266.9 609l41.8 -8.8M167.5 670.3l20.9 -4.4M162.3 691.4l41.8 -8.8M240.7 671.7l36.6 -7.7M157 688.2l41.8 -8.8M130.9 670.7l41.8 -8.8M172.7 675.1l36.6 -7.7M141.3 654.3l41.8 -8.8M183.2 645.4l31.4 -6.6M178 675.3l10.5 -2.2M277.3 599.7l36.6 -7.7M157 654.2l47.1 -9.9M204.1 615.7l15.7 -3.3M136.1 669l20.9 -4.4M162.3 647.5l47.1 -9.9M151.8 685.1l15.7 -3.3M167.5 631.8l26.2 -5.5M219.8 668.4l31.4 -6.6M209.3 665.3l31.4 -6.6M157 693l41.8 -8.8M157 686.3l20.9 -4.4M157 683.7l36.6 -7.7M136.1 669.8l31.4 -6.6M198.9 668.1l10.5 -2.2M214.6 624l36.6 -7.7M225 665.6l41.8 -8.8M272.1 630.9l31.4 -6.6M183.2 678.4l41.8 -8.8M225 672.9l10.5 -2.2M193.6 644.8l41.8 -8.8M277.3 662.6l26.2 -5.5M188.4 684.3l47.1 -9.9M214.6 674.8l31.4 -6.6M277.3 637.5l36.6 -7.7M251.2 680.6l15.7 -3.3M245.9 627l26.2 -5.5M266.9 615.9l31.4 -6.6M178 668l26.1 -5.5M277.3 633.8l36.6 -7.7M188.4 676.5l47.1 -9.9M167.5 680.2l41.8 -8.8M251.2 643.4l15.7 -3.3M162.3 690.8l47.1 -9.9M172.7 642.8l36.6 -7.7M151.8 678.3l36.6 -7.7M151.8 648l10.5 -2.2M256.4 678l31.4 -6.6M225 653.9l31.4 -6.6M193.6 614.8l31.4 -6.6M245.9 660.7l36.6 -7.7M188.4 649.3l36.6 -7.7M256.4 672.7l15.7 -3.3M146.6 681.8l10.5 -2.2M219.8 655.2l20.9 -4.4M141.3 680.6l20.9 -4.4M219.8 679.6l41.8 -8.8M251.2 573.1l41.8 -8.8M157 637.9l10.5 -2.2M251.2 663.8l36.6 -7.7M230.3 620.9l41.8 -8.8M151.8 656.4l47.1 -9.9M230.3 666.9l31.4 -6.6M245.9 670.2l20.9 -4.4M198.9 667l36.6 -7.7M245.9 613l36.6 -7.7M272.1 646.7l10.5 -2.2M157 683.3l47.1 -9.9M183.2 664.2l36.6 -7.7M193.6 654.1l36.6 -7.7M235.5 641.9l10.5 -2.2M183.2 648l47.1 -9.9M183.2 667.2l47.1 -9.9M230.3 665.8l41.8 -8.8M235.5 643.2l31.4 -6.6M272.1 675.6l41.8 -8.8M188.4 659.2l31.4 -6.6M235.5 672.5l36.6 -7.7M167.5 647.6l26.2 -5.5M251.2 624.3l31.4 -6.6M151.8 687.9l26.2 -5.5M245.9 626.3l41.8 -8.8M204.1 634.9l41.8 -8.8M172.7 697.3l15.7 -3.3M245.9 629.2l31.4 -6.6M198.9 673.9l41.8 -8.8M162.3 680.7l36.6 -7.7M151.8 690.1l36.6 -7.7M225 644.5l10.5 -2.2M235.5 682.4l41.8 -8.8M261.6 663.3l47.1 -9.9M130.9 671.9l41.8 -8.8M130.9 675.9l26.1 -5.5M136.1 684.8l26.2 -5.5M225 665l31.4 -6.6M151.8 680.1l41.8 -8.8M214.6 683.2l20.9 -4.4M167.5 687.9l31.4 -6.6M235.5 671.3l20.9 -4.4M178 676.1l41.8 -8.8M151.8 680.5l15.7 -3.3M146.6 652.5l20.9 -4.4M256.4 662.9l20.9 -4.4M214.6 626.3l41.8 -8.8M225 648.1l15.7 -3.3M261.6 647.8l31.4 -6.6M130.9 658.4l20.9 -4.4M230.3 678.9l41.8 -8.8M225 647l26.2 -5.5M225 647.5l31.4 -6.6M266.9 660.2l20.9 -4.4M235.5 652.2l31.4 -6.6M136.1 679.7l31.4 -6.6M209.3 683.3l47.1 -9.9M245.9 668.4l36.6 -7.7M183.2 673l15.7 -3.3M162.3 635.8l20.9 -4.4M146.6 676.2l47.1 -9.9M146.6 637.8l10.5 -2.2M157 693.2l26.2 -5.5M178 665.6l26.1 -5.5M193.6 670.9l36.6 -7.7M225 667.6l41.8 -8.8M146.6 665l10.5 -2.2M219.8 610.3l41.8 -8.8M136.1 674.5l15.7 -3.3M130.9 663.7l31.4 -6.6M136.1 688.8l31.4 -6.6M198.9 667l10.5 -2.2M178 679.8l15.7 -3.3M162.3 688.1l36.6 -7.7M225 666.5l41.8 -8.8M277.3 676.9l31.4 -6.6M272.1 660.4l41.8 -8.8M167.5 658.2l20.9 -4.4M240.7 659.5l15.7 -3.3M251.2 606.4l41.8 -8.8M162.3 674.3l26.1 -5.5M188.4 687.3l10.5 -2.2M146.6 667.8l36.6 -7.7M266.9 657.8l26.1 -5.5M198.9 675.6l10.5 -2.2M209.3 647.2l41.8 -8.8M251.2 692.3l47.1 -9.9M183.2 655.9l31.4 -6.6M162.3 676.2l10.5 -2.2M261.6 669.6l41.8 -8.8M240.7 662.1l31.4 -6.6M162.3 628.9l31.4 -6.6M272.1 662.4l31.4 -6.6M151.8 664.4l31.4 -6.6M225 626.8l10.5 -2.2M261.6 644.4l41.8 -8.8M256.4 662.7l15.7 -3.3M193.6 684.8l15.7 -3.3M188.4 617l36.6 -7.7M235.5 675.4l31.4 -6.6M198.9 636l15.7 -3.3M240.7 669.8l36.6 -7.7M130.9 646.2l10.5 -2.2M251.2 651.3l10.5 -2.2M178 679.5l41.8 -8.8M204.1 644.7l31.4 -6.6M157 683.2l41.8 -8.8M277.3 662l36.6 -7.7M219.8 642.9l31.4 -6.6M204.1 688.5l36.6 -7.7M141.3 682.1l31.4 -6.6M261.6 585.8l31.4 -6.6M162.3 688.2l36.6 -7.7M136.1 685.8l31.4 -6.6M183.2 687.1l36.6 -7.7M146.6 685.1l41.8 -8.8M256.4 671.7l36.6 -7.7M167.5 632l41.8 -8.8M261.6 634.4l36.6 -7.7M178 678l41.8 -8.8M183.2 673.7l36.6 -7.7M157 685.8l31.4 -6.6M261.6 646.5l20.9 -4.4M204.1 660.9l41.8 -8.8M157 664.2l31.4 -6.6M245.9 634.9l36.6 -7.7M256.4 685.8l41.8 -8.8M130.9 685.6l36.6 -7.7M235.5 662.3l36.6 -7.7M141.3 643.8l31.4 -6.6M214.6 670.7l26.1 -5.5M261.6 668.1l26.1 -5.5M272.1 665.2l31.4 -6.6M266.9 637.3l36.6 -7.7M303.5 614.7l36.6 -7.7M256.4 642l47.1 -9.9M193.6 668.3l31.4 -6.6M141.3 662.7l31.4 -6.6M251.2 665.8l36.6 -7.7M209.3 695.6l41.8 -8.8M251.2 623.9l20.9 -4.4M157 674.4l15.7 -3.3M240.7 620.1l36.6 -7.7M130.9 640.2l26.1 -5.5M214.6 620.4l36.6 -7.7M209.3 671.8l36.6 -7.7M277.3 605.8l36.6 -7.7M235.5 668.2l15.7 -3.3M256.4 669.3l36.6 -7.7M251.2 667.1l15.7 -3.3M266.9 629.6l47.1 -9.9M230.3 687.8l36.6 -7.7M219.8 681.4l41.8 -8.8M240.7 675.9l31.4 -6.6M277.3 616.9l36.6 -7.7M240.7 669.3l41.8 -8.8M261.6 647.9l41.8 -8.8M240.7 667.3l41.8 -8.8M136.1 659.5l41.8 -8.8M178 658.7l36.6 -7.7M162.3 657.2l47.1 -9.9M193.6 618.7l41.8 -8.8M183.2 671l47.1 -9.9M183.2 665l41.8 -8.8M193.6 675l41.8 -8.8M251.2 614.6l47.1 -9.9M167.5 679.4l31.4 -6.6M261.6 657.4l10.5 -2.2M251.2 639.8l47.1 -9.9M188.4 643.7l26.2 -5.5M141.3 672.4l26.1 -5.5M204.1 673l31.4 -6.6M266.9 680.8l47.1 -9.9M167.5 688.7l20.9 -4.4M183.2 649.6l15.7 -3.3M272.1 634.5l20.9 -4.4M251.2 668.7l15.7 -3.3M204.1 672.1l15.7 -3.3M130.9 679.1l41.8 -8.8M209.3 648.7l31.4 -6.6M172.7 648.8l20.9 -4.4M162.3 649.7l31.4 -6.6M167.5 669.8l26.2 -5.5M188.4 675.6l10.5 -2.2M256.4 677.6l20.9 -4.4M219.8 676.7l41.8 -8.8M146.6 684.9l36.6 -7.7M261.6 662.9l36.6 -7.7M293 659.1l36.6 -7.7M251.2 686.4l31.4 -6.6M235.5 639.8l36.6 -7.7M178 667.7l15.7 -3.3M157 643.8l36.6 -7.7M240.7 646.7l26.2 -5.5M167.5 675.2l10.5 -2.2M146.6 661.4l31.4 -6.6M266.9 649.9l10.5 -2.2M209.3 637.4l47.1 -9.9M298.2 660.9l26.1 -5.5M293 660.7l41.8 -8.8M157 669.7l47.1 -9.9M198.9 638.3l31.4 -6.6M219.8 670.6l26.2 -5.5M141.3 663.7l36.6 -7.7M204.1 641.1l31.4 -6.6M146.6 691.8l26.1 -5.5M277.3 562.5l31.4 -6.6M167.5 644.3l31.4 -6.6M157 647l26.2 -5.5M146.6 679.5l36.6 -7.7M225 629.1l41.8 -8.8M235.5 650.8l36.6 -7.7M172.7 648.3l31.4 -6.6M136.1 687.3l10.5 -2.2M157 644.2l36.6 -7.7M261.6 661.1l10.5 -2.2M136.1 645.2l36.6 -7.7M240.7 667.1l20.9 -4.4M130.9 660.3l26.1 -5.5M193.6 679.2l15.7 -3.3M162.3 661.9l31.4 -6.6M214.6 680.9l41.8 -8.8M251.2 669.7l47.1 -9.9M130.9 667.8l36.6 -7.7M261.6 668.4l31.4 -6.6M230.3 674.2l31.4 -6.6M256.4 650.3l41.8 -8.8M225 671.7l36.6 -7.7M235.5 657.1l47.1 -9.9M225 628.2l41.8 -8.8M146.6 679.6l41.8 -8.8M204.1 668.2l15.7 -3.3M157 652.4l41.8 -8.8M183.2 673.2l31.4 -6.6M151.8 673.6l36.6 -7.7M235.5 645.6l41.8 -8.8M157 674.3l47.1 -9.9M251.2 611.1l26.2 -5.5M204.1 654.6l10.5 -2.2M230.3 664l41.8 -8.8M256.4 612l10.5 -2.2M219.8 675.1l15.7 -3.3M225 676.8l41.8 -8.8M136.1 651.5l47.1 -9.9M167.5 674.7l47.1 -9.9M230.3 608.3l10.5 -2.2M178 617.6l41.8 -8.8M172.7 644.8l41.8 -8.8M277.3 671.2l36.6 -7.7M141.3 655.5l10.5 -2.2M230.3 665.9l47.1 -9.9M136.1 677.5l36.6 -7.7M240.7 631.3l31.4 -6.6M235.5 658l36.6 -7.7M162.3 675.8l15.7 -3.3M178 649.7l20.9 -4.4M130.9 664.1l10.5 -2.2M235.5 659.8l36.6 -7.7M141.3 677.9l41.8 -8.8M141.3 662.9l36.6 -7.7M214.6 673l36.6 -7.7M261.6 668.6l41.8 -8.8M204.1 658.4l41.8 -8.8M245.9 609.7l31.4 -6.6M141.3 668l10.5 -2.2M136.1 687.9l47.1 -9.9M225 661.2l47.1 -9.9M251.2 619.4l41.8 -8.8M198.9 679.8l31.4 -6.6M313.9 637l20.9 -4.4M151.8 646.7l47.1 -9.9M256.4 648.2l15.7 -3.3M272.1 635.9l31.4 -6.6M266.9 610.5l10.5 -2.2M183.2 679.4l26.2 -5.5M240.7 618.6l15.7 -3.3M219.8 688.5l10.5 -2.2M178 639.1l36.6 -7.7M266.9 640.9l41.8 -8.8M245.9 675l41.8 -8.8M261.6 663.1l36.6 -7.7M209.3 666.3l36.6 -7.7M266.9 669.4l47.1 -9.9M130.9 652.1l20.9 -4.4M261.6 633l10.5 -2.2M266.9 637.9l41.8 -8.8M235.5 620.9l41.8 -8.8M146.6 686.5l20.9 -4.4M240.7 624.1l47.1 -9.9M172.7 639.7l41.8 -8.8M162.3 693.8l31.4 -6.6M146.6 684.4l15.7 -3.3M219.8 669.6l26.2 -5.5M146.6 684.2l26.1 -5.5M198.9 637.6l41.8 -8.8M251.2 664.1l41.8 -8.8M130.9 663.8l41.8 -8.8M230.3 664.4l41.8 -8.8M230.3 643.7l26.1 -5.5M167.5 645l20.9 -4.4M172.7 672.9l26.2 -5.5M136.1 666.2l41.8 -8.8M141.3 669.9l10.5 -2.2M193.6 681.7l31.4 -6.6M130.9 667.5l41.8 -8.8M277.3 667.8l36.6 -7.7M245.9 622.6l36.6 -7.7M130.9 692l15.7 -3.3M214.6 664.3l41.8 -8.8M198.9 649.6l10.5 -2.2M204.1 684.7l15.7 -3.3M157 664.1l41.8 -8.8M266.9 663l20.9 -4.4M240.7 689.6l41.8 -8.8M172.7 652.9l31.4 -6.6M251.2 693.4l26.2 -5.5M209.3 678.7l10.5 -2.2M308.7 643.4l20.9 -4.4M198.9 674.9l31.4 -6.6M151.8 659l41.8 -8.8M277.3 663.3l36.6 -7.7M225 667.6l31.4 -6.6M141.3 691l31.4 -6.6M157 643.4l26.2 -5.5M225 671.9l41.8 -8.8M157 676.1l10.5 -2.2M193.6 684.6l31.4 -6.6M130.9 679.4l20.9 -4.4M162.3 680l10.5 -2.2M209.3 644.4l31.4 -6.6M214.6 687.7l10.5 -2.2M209.3 612l41.8 -8.8M146.6 678.9l36.6 -7.7M204.1 652.2l41.8 -8.8M230.3 665.8l31.4 -6.6M136.1 651.3l26.2 -5.5M188.4 663l20.9 -4.4M235.5 666l41.8 -8.8M219.8 621.4l31.4 -6.6M162.3 662.8l41.8 -8.8M235.5 667.4l31.4 -6.6M261.6 666.7l10.5 -2.2M277.3 611l36.6 -7.7M193.6 633l41.8 -8.8M146.6 645.5l15.7 -3.3M130.9 662.1l41.8 -8.8M136.1 667.7l36.6 -7.7M162.3 683.9l47.1 -9.9M178 678.3l31.4 -6.6M230.3 652.2l41.8 -8.8M256.4 648.9l15.7 -3.3M198.9 667.9l31.4 -6.6M261.6 657.7l41.8 -8.8M240.7 664.1l36.6 -7.7M256.4 665.4l36.6 -7.7M188.4 670.9l41.8 -8.8M188.4 642.8l20.9 -4.4M146.6 650.2l31.4 -6.6M219.8 677l31.4 -6.6M256.4 647.5l31.4 -6.6M214.6 669.2l36.6 -7.7M157 675.4l31.4 -6.6M193.6 646l31.4 -6.6M256.4 674.7l36.6 -7.7M240.7 665.8l47.1 -9.9M245.9 693.9l36.6 -7.7M172.7 649.6l31.4 -6.6M240.7 650.3l36.6 -7.7M130.9 656.2l20.9 -4.4M219.8 638.8l41.8 -8.8M162.3 660.3l36.6 -7.7M183.2 672.2l26.2 -5.5M277.3 647.5l15.7 -3.3M251.2 666.2l36.6 -7.7M266.9 593l20.9 -4.4M251.2 618.1l26.2 -5.5M141.3 677.4l31.4 -6.6M146.6 670.1l31.4 -6.6M157 651.2l41.8 -8.8M146.6 669l41.8 -8.8M209.3 681.6l41.8 -8.8M251.2 650l20.9 -4.4M251.2 670.1l31.4 -6.6M219.8 674.6l10.5 -2.2M130.9 671.5l31.4 -6.6M178 667.7l41.8 -8.8M183.2 644.7l36.6 -7.7M225 663.1l47.1 -9.9M272.1 666.6l31.4 -6.6M219.8 633.3l10.5 -2.2M178 640.2l31.4 -6.6M136.1 664.2l41.8 -8.8M198.9 669.1l31.4 -6.6M235.5 577.8l41.8 -8.8M130.9 685.7l31.4 -6.6M183.2 648.1l10.5 -2.2M193.6 674.6l47.1 -9.9M256.4 675.4l20.9 -4.4M209.3 649l47.1 -9.9M157 687.9l15.7 -3.3M167.5 677.8l36.6 -7.7M230.3 624.8l41.8 -8.8M272.1 658l41.8 -8.8M172.7 686.6l20.9 -4.4M240.7 623.7l10.5 -2.2M146.6 650.1l26.1 -5.5M235.5 644.9l31.4 -6.6M198.9 673.3l10.5 -2.2M235.5 667.8l31.4 -6.6M172.7 630.8l15.7 -3.3M240.7 678.9l41.8 -8.8M245.9 664.1l20.9 -4.4M146.6 670.6l26.1 -5.5M251.2 651.9l26.2 -5.5M214.6 652.7l41.8 -8.8M256.4 669.2l10.5 -2.2M198.9 647.7l20.9 -4.4M272.1 669.4l36.6 -7.7M277.3 585.2l31.4 -6.6M251.2 655.7l47.1 -9.9M219.8 671.5l41.8 -8.8M266.9 661.2l31.4 -6.6M146.6 691.8l41.8 -8.8M136.1 669.9l41.8 -8.8M204.1 675l41.8 -8.8M157 687.4l10.5 -2.2M178 645.1l41.8 -8.8M272.1 660.9l10.5 -2.2M178 697.1l31.4 -6.6M136.1 697.5l31.4 -6.6M261.6 617l41.8 -8.8M277.3 664.8l36.6 -7.7M225 667.3l31.4 -6.6M293 666.8l31.4 -6.6M209.3 647.5l41.8 -8.8M162.3 657l31.4 -6.6M245.9 610.5l31.4 -6.6M272.1 606.8l20.9 -4.4M167.5 675.6l41.8 -8.8M209.3 655.8l31.4 -6.6M214.6 671.6l31.4 -6.6M146.6 693.2l47.1 -9.9M245.9 661.6l31.4 -6.6M209.3 613.2l15.7 -3.3M141.3 685.5l10.5 -2.2M214.6 670.2l31.4 -6.6M188.4 639l41.8 -8.8M219.8 669l15.7 -3.3M272.1 600.4l26.1 -5.5M209.3 635.3l41.8 -8.8M157 655.6l31.4 -6.6M214.6 648.4l41.8 -8.8M198.9 652.2l36.6 -7.7M277.3 624.4l31.4 -6.6M235.5 623l47.1 -9.9M183.2 660.8l36.6 -7.7M157 659.5l41.8 -8.8M219.8 682.6l26.2 -5.5M204.1 634.3l20.9 -4.4M136.1 684.1l15.7 -3.3M167.5 649.4l10.5 -2.2M277.3 588.2l36.6 -7.7M240.7 606.5l47.1 -9.9M240.7 677.6l41.8 -8.8M141.3 690.2l36.6 -7.7M167.5 657.5l47.1 -9.9M219.8 655.8l20.9 -4.4M272.1 593.3l41.8 -8.8M151.8 684.4l26.2 -5.5M256.4 601.7l41.8 -8.8M209.3 624.7l47.1 -9.9M130.9 679.2l41.8 -8.8M266.9 626.8l47.1 -9.9M219.8 670l47.1 -9.9M157 690.8l41.8 -8.8M178 688.7l15.7 -3.3M214.6 652.8l36.6 -7.7M240.7 681l41.8 -8.8M162.3 630.8l41.8 -8.8M240.7 577.1l10.5 -2.2M235.5 665.1l41.8 -8.8M266.9 669.7l15.7 -3.3M266.9 657.7l47.1 -9.9M141.3 667l10.5 -2.2M219.8 622.2l41.8 -8.8M256.4 672.9l31.4 -6.6M141.3 639.1l36.6 -7.7M146.6 647.9l31.4 -6.6M230.3 674.8l41.8 -8.8M277.3 655.8l31.4 -6.6M146.6 657.1l36.6 -7.7M130.9 676.2l20.9 -4.4M167.5 665.4l36.6 -7.7M167.5 676.3l10.5 -2.2M266.9 652.3l36.6 -7.7M167.5 678.2l41.8 -8.8M256.4 669.8l15.7 -3.3M136.1 658.1l41.8 -8.8M130.9 669.3l41.8 -8.8M277.3 668.7l20.9 -4.4M204.1 662.9l41.8 -8.8" stroke="#0a64b2" stroke-width="0.6" fill="none"/>
<path d="M272.1 658.5l31.4 -6.6M240.7 661.4l31.4 -6.6M198.9 670.1l36.6 -7.7M235.5 662.4l31.4 -6.6M230.3 645.8l15.7 -3.3M272.1 646.5l26.1 -5.5M151.8 669.7l47.1 -9.9M141.3 661.1l10.5 -2.2M272.1 657.3l41.8 -8.8M162.3 676.7l31.4 -6.6M261.6 661.5l36.6 -7.7M193.6 649l36.6 -7.7M256.4 635.1l10.5 -2.2M245.9 645.5l26.2 -5.5M225 674.6l41.8 -8.8M256.4 675.8l41.8 -8.8M146.6 668.9l26.1 -5.5M277.3 667.4l36.6 -7.7M151.8 676.8l26.2 -5.5M193.6 659.7l41.8 -8.8M209.3 674.9l31.4 -6.6M204.1 654.2l15.7 -3.3M230.3 639.5l10.5 -2.2M141.3 683.4l31.4 -6.6M141.3 677.1l31.4 -6.6M230.3 666.4l10.5 -2.2M277.3 672.5l36.6 -7.7M272.1 632.7l31.4 -6.6M261.6 660.6l41.8 -8.8M256.4 641.5l41.8 -8.8M193.6 670.4l10.5 -2.2M251.2 626.3l41.8 -8.8M277.3 659.8l36.6 -7.7M251.2 668.7l47.1 -9.9M183.2 665.8l41.8 -8.8M209.3 636.6l36.6 -7.7M261.6 661.7l47.1 -9.9M193.6 655.3l10.5 -2.2M235.5 663.9l26.2 -5.5M214.6 632l41.8 -8.8M141.3 658.4l10.5 -2.2M293 602.4l41.8 -8.8M219.8 619.2l41.8 -8.8M167.5 671.4l47.1 -9.9M251.2 665.1l41.8 -8.8M188.4 675.1l41.8 -8.8M204.1 672.3l31.4 -6.6M251.2 663.5l47.1 -9.9M240.7 599.2l41.8 -8.8M209.3 668.9l41.8 -8.8M146.6 677.3l31.4 -6.6M313.9 582.1l26.1 -5.5M256.4 658.3l41.8 -8.8M141.3 656l26.1 -5.5M240.7 664.4l36.6 -7.7M204.1 665.6l36.6 -7.7M251.2 637.3l31.4 -6.6M266.9 649.8l15.7 -3.3M266.9 638.3l41.8 -8.8M136.1 676.8l20.9 -4.4M266.9 664.9l41.8 -8.8M167.5 674l15.7 -3.3M209.3 665.4l41.8 -8.8M151.8 651.6l20.9 -4.4M157 667.9l41.8 -8.8M162.3 643.2l15.7 -3.3M303.5 672.8l31.4 -6.6M162.3 626l20.9 -4.4M235.5 663l31.4 -6.6M209.3 661.4l41.8 -8.8M136.1 678.7l10.5 -2.2M251.2 662.4l36.6 -7.7M251.2 632.3l26.2 -5.5M251.2 658.1l31.4 -6.6M214.6 653l31.4 -6.6M245.9 618.4l31.4 -6.6M219.8 670.9l41.8 -8.8M167.5 658l36.6 -7.7M146.6 679.8l41.8 -8.8M141.3 674.3l20.9 -4.4M188.4 657.4l36.6 -7.7M183.2 672.3l26.2 -5.5M240.7 637.8l41.8 -8.8M272.1 604.5l15.7 -3.3M214.6 654.2l31.4 -6.6M193.6 652.3l20.9 -4.4M172.7 674.9l26.2 -5.5M266.9 641.1l15.7 -3.3M240.7 659.7l15.7 -3.3M188.4 663.8l31.4 -6.6M230.3 678.5l15.7 -3.3M157 665.1l36.6 -7.7M209.3 662l26.2 -5.5M209.3 673.3l10.5 -2.2M272.1 645.4l31.4 -6.6M183.2 675l41.8 -8.8M261.6 639.1l36.6 -7.7M214.6 675.5l15.7 -3.3M235.5 625.8l47.1 -9.9M183.2 675.7l10.5 -2.2M198.9 658.4l41.8 -8.8M146.6 664.6l15.7 -3.3M219.8 670.3l41.8 -8.8M141.3 679.5l31.4 -6.6M235.5 656.7l31.4 -6.6M167.5 646.9l15.7 -3.3M188.4 670.5l15.7 -3.3M272.1 670.5l20.9 -4.4M178 655.2l41.8 -8.8M172.7 675l47.1 -9.9M146.6 661.6l41.8 -8.8M193.6 676l47.1 -9.9M209.3 665.6l41.8 -8.8M240.7 667.7l36.6 -7.7M204.1 660.7l36.6 -7.7M157 670.1l31.4 -6.6M162.3 662.1l41.8 -8.8M214.6 672.1l47.1 -9.9M225 668.5l47.1 -9.9M261.6 640.1l41.8 -8.8M219.8 664.4l15.7 -3.3M235.5 664l36.6 -7.7M272.1 627.9l41.8 -8.8M245.9 622l41.8 -8.8M245.9 659.2l15.7 -3.3M214.6 666.4l20.9 -4.4M157 671.5l15.7 -3.3M240.7 661.4l15.7 -3.3M219.8 667.7l41.8 -8.8M162.3 679.5l15.7 -3.3M178 641.6l31.4 -6.6M162.3 673.4l36.6 -7.7M130.9 676.3l26.1 -5.5M136.1 664l26.2 -5.5M162.3 682.2l10.5 -2.2M272.1 661.5l41.8 -8.8M162.3 665.8l31.4 -6.6M230.3 648.6l47.1 -9.9M251.2 658.6l20.9 -4.4M209.3 627.6l41.8 -8.8M162.3 668l10.5 -2.2M141.3 670.1l26.1 -5.5M141.3 677l47.1 -9.9M188.4 666.7l26.2 -5.5M230.3 667.9l36.6 -7.7M240.7 671.3l20.9 -4.4M277.3 656.9l36.6 -7.7M225 664.3l47.1 -9.9M151.8 652.3l41.8 -8.8M151.8 685.3l15.7 -3.3M157 635.1l47.1 -9.9M198.9 676.8l36.6 -7.7M136.1 676.9l31.4 -6.6M141.3 666.9l26.1 -5.5M219.8 634.8l47.1 -9.9M214.6 665.3l36.6 -7.7M157 679.5l20.9 -4.4M293 640.9l47.1 -9.9M183.2 661.1l36.6 -7.7M130.9 674.8l31.4 -6.6M146.6 675.6l41.8 -8.8M219.8 665.7l31.4 -6.6M146.6 671l31.4 -6.6M130.9 653.5l41.8 -8.8M204.1 675.4l20.9 -4.4M146.6 659.1l36.6 -7.7M261.6 615.9l36.6 -7.7M130.9 679.2l36.6 -7.7M136.1 675.9l36.6 -7.7M214.6 668.3l20.9 -4.4M235.5 662.1l31.4 -6.6M245.9 665.4l47.1 -9.9M136.1 675.2l36.6 -7.7M151.8 673.7l41.8 -8.8M178 662.3l41.8 -8.8M277.3 672.8l10.5 -2.2M172.7 669.3l10.5 -2.2M151.8 678.9l10.5 -2.2M162.3 630.3l36.6 -7.7M136.1 677.9l31.4 -6.6M219.8 665.8l26.2 -5.5M178 658.7l31.4 -6.6M162.3 632.2l31.4 -6.6M230.3 680.4l36.6 -7.7M183.2 661.1l31.4 -6.6M130.9 690.2l47.1 -9.9M151.8 679.2l15.7 -3.3M141.3 667.2l20.9 -4.4M272.1 659.1l26.1 -5.5M235.5 666l20.9 -4.4M204.1 674.8l41.8 -8.8M141.3 679.6l15.7 -3.3M193.6 672.9l20.9 -4.4M183.2 660.8l15.7 -3.3M188.4 669.5l41.8 -8.8M256.4 670l15.7 -3.3M136.1 678.7l41.8 -8.8M146.6 676.2l41.8 -8.8M293 641.2l31.4 -6.6M251.2 678.8l36.6 -7.7M172.7 673.4l36.6 -7.7M245.9 663.7l41.8 -8.8M230.3 623.2l20.9 -4.4M219.8 678.2l47.1 -9.9M157 673.7l41.8 -8.8M261.6 629.5l15.7 -3.3M183.2 646.2l36.6 -7.7M266.9 659.9l36.6 -7.7M136.1 686.1l31.4 -6.6M235.5 662l36.6 -7.7M130.9 674.1l41.8 -8.8M261.6 661.1l41.8 -8.8M136.1 667.2l31.4 -6.6M141.3 678.9l20.9 -4.4M219.8 669.9l10.5 -2.2M157 695.3l26.2 -5.5M146.6 678.3l31.4 -6.6M245.9 660l36.6 -7.7M256.4 640.1l20.9 -4.4M141.3 684.3l31.4 -6.6M219.8 673.9l41.8 -8.8M183.2 643l31.4 -6.6M141.3 658l36.6 -7.7M183.2 669.8l31.4 -6.6M167.5 675.3l41.8 -8.8M225 662.9l41.8 -8.8M172.7 651.7l36.6 -7.7M146.6 679.8l41.8 -8.8M214.6 664l36.6 -7.7M141.3 673.1l41.8 -8.8M230.3 675.1l26.1 -5.5M235.5 629.6l31.4 -6.6M219.8 653.7l31.4 -6.6M183.2 673.2l31.4 -6.6M293 634.2l52.3 -11M219.8 681.9l36.6 -7.7M240.7 665.2l47.1 -9.9M130.9 685.9l31.4 -6.6M183.2 678.6l41.8 -8.8M245.9 655.3l31.4 -6.6M162.3 671.8l41.8 -8.8M204.1 670.7l26.2 -5.5M209.3 621l10.5 -2.2M162.3 655.5l31.4 -6.6M130.9 678.1l31.4 -6.6M272.1 649.9l41.8 -8.8M188.4 657l10.5 -2.2M225 662.4l41.8 -8.8M151.8 659.7l20.9 -4.4M204.1 624.1l36.6 -7.7M141.3 678.1l36.6 -7.7M235.5 678.9l36.6 -7.7M225 637.1l31.4 -6.6M198.9 669l41.8 -8.8M162.3 659.7l41.8 -8.8M151.8 646.6l10.5 -2.2M272.1 606.1l41.8 -8.8M287.8 676l36.6 -7.7M251.2 658.3l36.6 -7.7M235.5 669l31.4 -6.6M277.3 665.3l36.6 -7.7M261.6 657.7l10.5 -2.2M178 673.5l47.1 -9.9M167.5 656.8l20.9 -4.4M240.7 660.6l36.6 -7.7M151.8 681.6l15.7 -3.3M178 654.5l36.6 -7.7M167.5 653.7l36.6 -7.7M256.4 665.4l36.6 -7.7M188.4 670.9l36.6 -7.7M157 681.8l41.8 -8.8M256.4 660.6l10.5 -2.2M167.5 660.4l41.8 -8.8M151.8 673.2l31.4 -6.6M214.6 651.1l20.9 -4.4M198.9 643.7l41.8 -8.8M178 670.1l41.8 -8.8M277.3 620.2l31.4 -6.6M136.1 676.6l31.4 -6.6M162.3 669.8l31.4 -6.6M225 665.6l31.4 -6.6M272.1 661.7l10.5 -2.2M167.5 683.9l41.8 -8.8M251.2 654.9l41.8 -8.8M251.2 615.9l31.4 -6.6M146.6 684.8l36.6 -7.7M256.4 666.4l31.4 -6.6M272.1 658.2l26.1 -5.5M251.2 671.4l36.6 -7.7M277.3 635.7l36.6 -7.7M230.3 676.1l41.8 -8.8M188.4 671.4l41.8 -8.8M272.1 657.5l31.4 -6.6M172.7 675.7l41.8 -8.8M136.1 666.5l36.6 -7.7M277.3 640.2l10.5 -2.2M130.9 679.4l31.4 -6.6M193.6 661.5l36.6 -7.7M240.7 672.3l41.8 -8.8M157 660.3l41.8 -8.8M130.9 669.5l10.5 -2.2M266.9 672.3l36.6 -7.7M130.9 670l15.7 -3.3M272.1 677.8l15.7 -3.3M146.6 659.5l36.6 -7.7M141.3 689.7l47.1 -9.9M204.1 663.9l41.8 -8.8M162.3 667l36.6 -7.7M245.9 656.5l31.4 -6.6M157 675.7l41.8 -8.8M277.3 662l31.4 -6.6M219.8 667.6l26.2 -5.5M272.1 662.9l26.1 -5.5M219.8 631.6l20.9 -4.4M204.1 675.8l31.4 -6.6M146.6 628.9l47.1 -9.9M272.1 663.5l31.4 -6.6M136.1 662.9l31.4 -6.6M172.7 682.1l10.5 -2.2M256.4 645.8l36.6 -7.7M251.2 665.4l31.4 -6.6M167.5 661.4l20.9 -4.4M162.3 685.8l41.8 -8.8M287.8 653.6l41.8 -8.8M272.1 654.2l10.5 -2.2M214.6 668l20.9 -4.4M167.5 655.3l47.1 -9.9M225 662.3l20.9 -4.4M240.7 660.9l31.4 -6.6M141.3 681.3l36.6 -7.7M146.6 673.5l20.9 -4.4M178 680.8l41.8 -8.8M209.3 598.4l15.7 -3.3M277.3 661.3l31.4 -6.6M272.1 673l20.9 -4.4M172.7 663.7l47.1 -9.9M141.3 661.8l47.1 -9.9M188.4 658.4l31.4 -6.6M188.4 677.4l31.4 -6.6M188.4 660.9l26.2 -5.5M193.6 674.1l20.9 -4.4M266.9 613.3l36.6 -7.7M293 669.1l52.3 -11M162.3 676.8l31.4 -6.6M256.4 628.9l41.8 -8.8M256.4 599l36.6 -7.7M146.6 672.6l36.6 -7.7M151.8 679.5l47.1 -9.9M157 668.7l41.8 -8.8M277.3 615.1l36.6 -7.7M277.3 660.2l15.7 -3.3M130.9 650.5l41.8 -8.8M188.4 660.2l41.8 -8.8M235.5 629.3l10.5 -2.2M146.6 678.8l15.7 -3.3M157 694.8l36.6 -7.7M193.6 633.2l36.6 -7.7M167.5 677.5l41.8 -8.8M136.1 688.5l47.1 -9.9M251.2 671.1l31.4 -6.6M146.6 682.2l15.7 -3.3M235.5 663.8l41.8 -8.8M204.1 649l36.6 -7.7M240.7 637.9l10.5 -2.2M204.1 653l10.5 -2.2M225 625.9l31.4 -6.6M266.9 648.1l31.4 -6.6M172.7 671.5l36.6 -7.7M167.5 671.9l41.8 -8.8M198.9 664l15.7 -3.3M193.6 670.8l47.1 -9.9M204.1 667.5l41.8 -8.8M256.4 648.7l36.6 -7.7M209.3 649.4l20.9 -4.4M157 678.4l36.6 -7.7M178 681.6l36.6 -7.7M230.3 664.7l26.1 -5.5M251.2 674.4l15.7 -3.3M266.9 633.2l15.7 -3.3M225 678.5l20.9 -4.4M261.6 598.9l31.4 -6.6M198.9 667.4l31.4 -6.6M245.9 610.3l41.8 -8.8M251.2 659.2l20.9 -4.4M219.8 657.1l20.9 -4.4M172.7 684.5l36.6 -7.7M209.3 679.4l41.8 -8.8M136.1 675.5l36.6 -7.7M230.3 665.4l41.8 -8.8M198.9 673.1l20.9 -4.4M136.1 661.3l41.8 -8.8M183.2 645.7l36.6 -7.7M172.7 676.3l47.1 -9.9M151.8 659.3l47.1 -9.9M141.3 687.7l41.8 -8.8M261.6 637.3l15.7 -3.3M251.2 644l31.4 -6.6M178 644.2l10.5 -2.2M183.2 635.6l47.1 -9.9M230.3 641.2l15.7 -3.3M188.4 639.2l26.2 -5.5M178 660l31.4 -6.6M136.1 678.1l36.6 -7.7M188.4 656.1l47.1 -9.9M225 663.5l26.2 -5.5M277.3 656.9l36.6 -7.7M178 632.9l36.6 -7.7M151.8 665.2l10.5 -2.2M266.9 659.9l20.9 -4.4M219.8 662.5l20.9 -4.4M219.8 639.3l20.9 -4.4M151.8 681.9l41.8 -8.8M193.6 678.1l41.8 -8.8M193.6 665.4l31.4 -6.6M146.6 656.6l31.4 -6.6M209.3 677.9l36.6 -7.7M178 674.3l31.4 -6.6M178 660.8l15.7 -3.3M251.2 653.8l10.5 -2.2M272.1 641.1l36.6 -7.7M225 676.9l26.2 -5.5M136.1 679.7l41.8 -8.8M178 664.1l31.4 -6.6M136.1 673.7l41.8 -8.8M214.6 659.8l41.8 -8.8M219.8 666.4l41.8 -8.8M172.7 670.3l41.8 -8.8M245.9 657.9l31.4 -6.6M151.8 677.6l47.1 -9.9M167.5 638.2l31.4 -6.6M157 679.7l15.7 -3.3M178 677.2l36.6 -7.7M157 681.8l15.7 -3.3M209.3 668.5l47.1 -9.9M230.3 651.5l10.5 -2.2M204.1 659l41.8 -8.8M209.3 639.2l31.4 -6.6M214.6 662.5l41.8 -8.8M225 673.5l31.4 -6.6M272.1 614.4l36.6 -7.7M183.2 664.2l10.5 -2.2M225 624.8l41.8 -8.8M188.4 683.9l31.4 -6.6M167.5 669.9l31.4 -6.6M178 670.4l31.4 -6.6M240.7 631.9l15.7 -3.3M198.9 668.9l15.7 -3.3M151.8 678.6l47.1 -9.9M178 652.2l47.1 -9.9M251.2 666.7l41.8 -8.8M245.9 651.9l10.5 -2.2M141.3 688.6l41.8 -8.8M183.2 673.8l31.4 -6.6M256.4 627.6l47.1 -9.9M272.1 676.8l41.8 -8.8M183.2 680l31.4 -6.6M251.2 647.5l26.2 -5.5M219.8 671.8l36.6 -7.7M204.1 661.6l10.5 -2.2M183.2 668.5l41.8 -8.8M157 677.3l31.4 -6.6M146.6 677.9l31.4 -6.6M261.6 658.6l26.1 -5.5M251.2 664.1l41.8 -8.8M272.1 641.3l31.4 -6.6M256.4 610.1l47.1 -9.9M272.1 573.5l31.4 -6.6M240.7 629.3l41.8 -8.8M272.1 612.7l31.4 -6.6M136.1 674.7l15.7 -3.3M240.7 668.5l10.5 -2.2M162.3 669.9l41.8 -8.8M136.1 678l41.8 -8.8M141.3 687.5l41.8 -8.8M183.2 667l41.8 -8.8M277.3 660.3l26.2 -5.5M151.8 670.4l31.4 -6.6M198.9 626.3l41.8 -8.8M230.3 671.6l41.8 -8.8M261.6 651.4l10.5 -2.2M130.9 679.4l31.4 -6.6M261.6 644.9l31.4 -6.6M230.3 650.8l36.6 -7.7M146.6 678.5l41.8 -8.8M293 632.3l47.1 -9.9M277.3 641.4l36.6 -7.7M146.6 661.3l36.6 -7.7M193.6 665.8l41.8 -8.8M272.1 641.4l36.6 -7.7M225 669.8l36.6 -7.7M214.6 654l26.1 -5.5M245.9 664.8l26.2 -5.5M188.4 678.6l47.1 -9.9M162.3 678.3l26.1 -5.5M130.9 663.9l36.6 -7.7M219.8 654.8l41.8 -8.8M256.4 654.6l36.6 -7.7M235.5 637.9l41.8 -8.8M204.1 660.1l15.7 -3.3M293 655.5l52.3 -11M151.8 688.4l41.8 -8.8M261.6 627.1l36.6 -7.7M146.6 679.7l41.8 -8.8M245.9 659.6l20.9 -4.4M251.2 667.3l41.8 -8.8M172.7 671.4l41.8 -8.8M178 677l47.1 -9.9M277.3 668.7l36.6 -7.7M193.6 661.2l36.6 -7.7M235.5 664.3l36.6 -7.7M245.9 608.7l26.2 -5.5M167.5 638.3l36.6 -7.7M188.4 629.4l47.1 -9.9M136.1 686.4l31.4 -6.6M141.3 646.9l26.1 -5.5M256.4 646l26.1 -5.5M235.5 674.8l36.6 -7.7M230.3 671.2l36.6 -7.7M261.6 612.7l47.1 -9.9M151.8 667.7l20.9 -4.4M157 671.6l15.7 -3.3M178 670.5l20.9 -4.4M162.3 682.9l31.4 -6.6M240.7 646.8l47.1 -9.9M214.6 667.2l36.6 -7.7M167.5 686.8l36.6 -7.7M256.4 660.4l31.4 -6.6M272.1 668.7l26.1 -5.5M245.9 666l41.8 -8.8M151.8 671.4l31.4 -6.6M240.7 651.8l41.8 -8.8M162.3 672.4l36.6 -7.7M146.6 675.2l41.8 -8.8M136.1 668.2l41.8 -8.8M146.6 663l15.7 -3.3M251.2 650l36.6 -7.7M183.2 686.4l41.8 -8.8M151.8 667.7l41.8 -8.8M266.9 663.4l15.7 -3.3M235.5 658.1l36.6 -7.7M230.3 669.3l41.8 -8.8M162.3 683.1l15.7 -3.3M235.5 656.2l41.8 -8.8M230.3 653.7l36.6 -7.7M272.1 656.9l20.9 -4.4M240.7 632.8l26.2 -5.5M167.5 646.6l36.6 -7.7M256.4 663.1l41.8 -8.8M188.4 667.9l26.2 -5.5M240.7 665.8l20.9 -4.4M277.3 654.8l36.6 -7.7M157 668.6l41.8 -8.8M277.3 644.6l10.5 -2.2M198.9 663.5l41.8 -8.8M198.9 677.8l41.8 -8.8M209.3 642.9l15.7 -3.3M209.3 616.5l41.8 -8.8M219.8 664.6l31.4 -6.6M130.9 676.5l47.1 -9.9M136.1 674.8l41.8 -8.8M261.6 622.2l36.6 -7.7M136.1 678.7l41.8 -8.8M235.5 672.2l31.4 -6.6M146.6 659.5l41.8 -8.8M225 666.4l36.6 -7.7M204.1 635.6l20.9 -4.4M225 661.5l47.1 -9.9M225 664l26.2 -5.5M193.6 660.2l10.5 -2.2M219.8 645.6l20.9 -4.4M272.1 673.8l31.4 -6.6M245.9 665.5l20.9 -4.4M141.3 682.5l41.8 -8.8M178 661.7l10.5 -2.2M230.3 673.7l41.8 -8.8M178 668.9l31.4 -6.6M261.6 665.2l36.6 -7.7M277.3 665.5l26.2 -5.5M198.9 676.9l41.8 -8.8M272.1 630.3l20.9 -4.4M209.3 647.6l20.9 -4.4M193.6 686.4l47.1 -9.9M204.1 692.4l26.2 -5.5M157 674.1l41.8 -8.8M172.7 687.5l26.2 -5.5M157 676.9l15.7 -3.3M188.4 672.8l20.9 -4.4M136.1 676.2l41.8 -8.8M230.3 658.4l10.5 -2.2M245.9 655.3l20.9 -4.4M256.4 652l31.4 -6.6M272.1 632l41.8 -8.8M183.2 633.2l20.9 -4.4M230.3 664.7l26.1 -5.5M225 676.7l26.2 -5.5M183.2 669.2l31.4 -6.6M130.9 663.7l36.6 -7.7M214.6 669.9l41.8 -8.8M198.9 673.9l20.9 -4.4M214.6 669.6l31.4 -6.6M183.2 674.3l31.4 -6.6M172.7 670.4l47.1 -9.9M266.9 659l47.1 -9.9M136.1 667.5l36.6 -7.7M193.6 655.3l31.4 -6.6M225 668.4l36.6 -7.7M277.3 655.8l31.4 -6.6M214.6 640.8l31.4 -6.6M130.9 661.6l41.8 -8.8M277.3 650.9l20.9 -4.4M198.9 667.6l47.1 -9.9M178 665l36.6 -7.7M172.7 664.3l41.8 -8.8M219.8 678.3l41.8 -8.8M178 648.7l10.5 -2.2M272.1 664.5l41.8 -8.8M266.9 670.6l10.5 -2.2M230.3 660.7l41.8 -8.8M178 667.8l15.7 -3.3M130.9 678.8l41.8 -8.8M240.7 663.9l15.7 -3.3M277.3 655l36.6 -7.7M214.6 678.2l26.1 -5.5M141.3 682l36.6 -7.7M277.3 660.8l26.2 -5.5M188.4 683.4l20.9 -4.4M162.3 671.3l10.5 -2.2M230.3 644.2l15.7 -3.3M141.3 671.9l31.4 -6.6M141.3 672.5l36.6 -7.7M178 676.6l31.4 -6.6M130.9 669.2l10.5 -2.2M130.9 672.5l15.7 -3.3M178 667.7l10.5 -2.2M188.4 669l20.9 -4.4M146.6 676.9l10.5 -2.2M272.1 673.8l31.4 -6.6M141.3 672l41.8 -8.8M209.3 662.7l15.7 -3.3M167.5 680l26.2 -5.5M151.8 669.6l20.9 -4.4M183.2 649.7l36.6 -7.7M146.6 675.5l41.8 -8.8M251.2 670.2l31.4 -6.6M272.1 616.3l15.7 -3.3M198.9 671.8l10.5 -2.2M266.9 650.5l41.8 -8.8M167.5 677.6l31.4 -6.6M193.6 663.2l31.4 -6.6M209.3 656.7l15.7 -3.3M141.3 658l41.8 -8.8M188.4 646.4l20.9 -4.4M198.9 678.6l36.6 -7.7M209.3 640.6l15.7 -3.3M240.7 647.8l36.6 -7.7M178 652.1l10.5 -2.2M219.8 663.2l36.6 -7.7M204.1 669.4l36.6 -7.7M266.9 663.9l10.5 -2.2M188.4 667.7l20.9 -4.4M157 668.3l31.4 -6.6M183.2 699.9l10.5 -2.2M245.9 662.3l20.9 -4.4M141.3 651.6l41.8 -8.8M183.2 645.4l41.8 -8.8M198.9 646.8l36.6 -7.7M146.6 663.7l20.9 -4.4M272.1 656.4l31.4 -6.6M151.8 667.5l10.5 -2.2M178 654.2l10.5 -2.2M261.6 652.5l10.5 -2.2M209.3 671.1l36.6 -7.7M188.4 635.6l10.5 -2.2M214.6 657.1l47.1 -9.9M219.8 667.6l41.8 -8.8M277.3 644.4l26.2 -5.5M225 645.4l47.1 -9.9M136.1 670.5l41.8 -8.8M245.9 647.8l20.9 -4.4M251.2 663.5l31.4 -6.6M183.2 696.2l15.7 -3.3M188.4 665.8l36.6 -7.7M277.3 620l26.2 -5.5M256.4 644.8l10.5 -2.2M198.9 667.1l47.1 -9.9M251.2 637.1l36.6 -7.7M204.1 670.4l10.5 -2.2M277.3 622.5l26.2 -5.5" stroke="#004e98" stroke-width="0.6" fill="none"/></g>
<g clip-path="url(#cCr)"><path d="M422.9 663.1v1.4m0 11.2v1.4m0 36.5v1.4M428.2 631.5v1.4m0 1.3v1.4m0 10.4v1.4m0 15.3v1.4m0 14.4v1.4m0 -1.3v1.4m0 12.2v1.4m0 2.7v1.4m0 1.1v1.4m0 -1.1v1.4m0 0.6v1.4m0 -0.3v1.4M433.4 632.3v1.4m0 10.8v1.4m0 9.9v1.4m0 7.3v1.4m0 2.5v1.4m0 -0.4v1.4m0 2.9v1.4m0 3.9v1.4m0 2.4v1.4m0 3.7v1.4m0 4.5v1.4m0 3.3v1.4m0 15.4v1.4M438.6 642.3v1.4m0 3.9v1.4m0 0.5v1.4m0 3.1v1.4m0 -0.9v1.4m0 3.3v1.4m0 1.6v1.4m0 0.1v1.4m0 -0v1.4m0 -0.4v1.4m0 11.7v1.4m0 1.8v1.4m0 7.6v1.4m0 -0.5v1.4m0 -0.8v1.4m0 3.6v1.4M443.8 638.5v1.4m0 -1.1v1.4m0 -0.3v1.4m0 1.7v1.4m0 1.1v1.4m0 2.7v1.4m0 -1v1.4m0 16.8v1.4m0 4.9v1.4m0 9.9v1.4m0 3.3v1.4m0 2.7v1.4m0 -1.3v1.4m0 -1.4v1.4m0 -1v1.4m0 2.6v1.4m0 6.8v1.4m0 -0.6v1.4m0 14.8v1.4M449.1 613.4v1.4m0 28.2v1.4m0 1.5v1.4m0 -0.4v1.4m0 2.3v1.4m0 0.6v1.4m0 -1.2v1.4m0 1v1.4m0 5.8v1.4m0 1.1v1.4m0 0.1v1.4m0 19.8v1.4m0 -0.6v1.4m0 2.8v1.4m0 2v1.4m0 -0.6v1.4m0 -0.3v1.4m0 2.1v1.4m0 -1.2v1.4m0 4v1.4M454.3 638.3v1.4m0 2.1v1.4m0 1.4v1.4m0 2.9v1.4m0 0.7v1.4m0 -1.2v1.4m0 7.5v1.4m0 1.8v1.4m0 -1v1.4m0 1.4v1.4m0 1.5v1.4m0 1.1v1.4m0 6v1.4m0 0.8v1.4m0 0.4v1.4m0 5.1v1.4m0 3.2v1.4m0 2.6v1.4m0 0.3v1.4M459.5 601.8v1.4m0 25.6v1.4m0 4.3v1.4m0 -0.9v1.4m0 4.4v1.4m0 0.5v1.4m0 7.7v1.4m0 -0.4v1.4m0 -1.2v1.4m0 -0.6v1.4m0 -0.9v1.4m0 1.4v1.4m0 -1.3v1.4m0 -0.1v1.4m0 0.1v1.4m0 6.6v1.4m0 8.4v1.4m0 11.4v1.4m0 0.2v1.4m0 -1.3v1.4m0 -1.3v1.4m0 -0.9v1.4m0 0.3v1.4m0 -0.8v1.4m0 -0.3v1.4m0 -0.2v1.4m0 0.4v1.4m0 0.1v1.4m0 -0.9v1.4M464.7 619.6v1.4m0 4.8v1.4m0 6.5v1.4m0 3.3v1.4m0 -1v1.4m0 -0.7v1.4m0 7.8v1.4m0 3.2v1.4m0 -0v1.4m0 0.9v1.4m0 -0.5v1.4m0 -1v1.4m0 11.8v1.4m0 6.3v1.4m0 1.2v1.4m0 -1.4v1.4m0 0.9v1.4m0 -1.3v1.4m0 -0.7v1.4m0 1.8v1.4m0 -0.1v1.4m0 -0.6v1.4m0 -0.5v1.4m0 3.1v1.4m0 2v1.4M470 591.5v1.4m0 33.2v1.4m0 4v1.4m0 5.1v1.4m0 1v1.4m0 4.3v1.4m0 0.8v1.4m0 -0.7v1.4m0 -0.1v1.4m0 1.6v1.4m0 1.8v1.4m0 -1.2v1.4m0 0.1v1.4m0 2.6v1.4m0 -1.1v1.4m0 2.2v1.4m0 17.6v1.4m0 -0.6v1.4m0 -1.4v1.4m0 -0.3v1.4m0 2.8v1.4m0 1.5v1.4m0 -1.2v1.4m0 0.5v1.4m0 0.3v1.4m0 1.7v1.4m0 0.5v1.4m0 38.1v1.4M475.2 611.9v1.4m0 11.1v1.4m0 -0.3v1.4m0 3.9v1.4m0 7.2v1.4m0 5v1.4m0 0.3v1.4m0 -1.4v1.4m0 -0.1v1.4m0 0v1.4m0 -0.8v1.4m0 -1.3v1.4m0 -1.2v1.4m0 -0.7v1.4m0 2.2v1.4m0 5.8v1.4m0 -1v1.4m0 2.5v1.4m0 8.5v1.4m0 -0.1v1.4m0 0.6v1.4m0 0.1v1.4m0 0.3v1.4m0 -1.3v1.4m0 0.3v1.4m0 2.7v1.4m0 -0.1v1.4m0 0.4v1.4m0 -0.7v1.4m0 -1.1v1.4m0 0.5v1.4m0 0.1v1.4m0 6.9v1.4m0 -0.1v1.4M480.4 618v1.4m0 2.5v1.4m0 0.6v1.4m0 13.4v1.4m0 3.2v1.4m0 -0.5v1.4m0 0.4v1.4m0 0.8v1.4m0 4.1v1.4m0 -0.2v1.4m0 -0.6v1.4m0 3.7v1.4m0 0.1v1.4m0 0.6v1.4m0 2.8v1.4m0 8.4v1.4m0 0.5v1.4m0 2.6v1.4m0 1.4v1.4m0 -0.7v1.4m0 6.9v1.4M485.6 602.6v1.4m0 22.6v1.4m0 -0.7v1.4m0 3.6v1.4m0 2.9v1.4m0 0.6v1.4m0 3.9v1.4m0 -1.1v1.4m0 -0.4v1.4m0 4.2v1.4m0 1.4v1.4m0 -0.5v1.4m0 0.2v1.4m0 -1.3v1.4m0 -0.7v1.4m0 3.1v1.4m0 0.6v1.4m0 17.8v1.4m0 -1.4v1.4m0 0.9v1.4m0 -0.5v1.4m0 0.6v1.4m0 -0.3v1.4m0 -0.5v1.4m0 1.3v1.4m0 0.4v1.4m0 0.6v1.4m0 2.9v1.4m0 2.5v1.4m0 2.3v1.4M490.9 621.7v1.4m0 5v1.4m0 1.5v1.4m0 0.2v1.4m0 4.8v1.4m0 -0.7v1.4m0 -0.8v1.4m0 1.6v1.4m0 -0.4v1.4m0 -0.2v1.4m0 -1.1v1.4m0 -1.1v1.4m0 1.1v1.4m0 -0.5v1.4m0 1.6v1.4m0 -0.2v1.4m0 1.1v1.4m0 -1.3v1.4m0 1.9v1.4m0 23.9v1.4m0 0.4v1.4m0 2.5v1.4m0 -1.3v1.4m0 -0.1v1.4m0 4.1v1.4m0 1.5v1.4M496.1 609v1.4m0 5.2v1.4m0 -1.3v1.4m0 7.5v1.4m0 -1.3v1.4m0 2.9v1.4m0 1.7v1.4m0 4.8v1.4m0 3.2v1.4m0 -1.2v1.4m0 2.3v1.4m0 0.2v1.4m0 -0.8v1.4m0 5v1.4m0 5v1.4m0 7.9v1.4m0 3.5v1.4m0 -0.7v1.4m0 0.2v1.4m0 1.4v1.4m0 -1v1.4m0 0.3v1.4m0 -0.7v1.4m0 -0.2v1.4m0 5.4v1.4m0 1.9v1.4m0 0.5v1.4m0 1.6v1.4M501.3 615.9v1.4m0 -0.5v1.4m0 1.1v1.4m0 12.2v1.4m0 7.9v1.4m0 0.5v1.4m0 1.1v1.4m0 0.4v1.4m0 -1.3v1.4m0 2v1.4m0 5.9v1.4m0 24.1v1.4m0 0.8v1.4m0 -0.5v1.4m0 -0.2v1.4m0 0.3v1.4m0 -0.8v1.4m0 0.9v1.4m0 0.4v1.4m0 3.1v1.4M506.5 608.2v1.4m0 8.9v1.4m0 -0.4v1.4m0 4.8v1.4m0 4.2v1.4m0 0v1.4m0 7.3v1.4m0 10.7v1.4m0 -0.3v1.4m0 19.2v1.4m0 1.1v1.4m0 -0.4v1.4m0 1.2v1.4m0 0.3v1.4m0 -0.6v1.4m0 3.2v1.4m0 -1.3v1.4m0 2.2v1.4m0 1.9v1.4m0 9.2v1.4M511.8 608.7v1.4m0 9.7v1.4m0 16.7v1.4m0 7.4v1.4m0 -0.4v1.4m0 1.1v1.4m0 23v1.4m0 0.5v1.4m0 2.7v1.4m0 -1v1.4m0 -1.2v1.4m0 -0.9v1.4m0 -0.1v1.4m0 -1.1v1.4m0 -0.7v1.4m0 0.5v1.4m0 2.8v1.4m0 0.9v1.4m0 36.2v1.4M517 608v1.4m0 1.9v1.4m0 2.5v1.4m0 1.2v1.4m0 10.5v1.4m0 5.7v1.4m0 1v1.4m0 -0.3v1.4m0 18.5v1.4m0 15v1.4m0 4.1v1.4m0 -0.8v1.4m0 1.8v1.4m0 0.9v1.4m0 1.5v1.4m0 2.8v1.4m0 -1.1v1.4M522.2 605.2v1.4m0 16.5v1.4m0 -0.3v1.4m0 0.6v1.4m0 1v1.4m0 -0.8v1.4m0 1.5v1.4m0 7.6v1.4m0 13.4v1.4m0 16.1v1.4m0 1.7v1.4m0 3.7v1.4m0 1v1.4m0 0.2v1.4m0 7.4v1.4m0 -0.4v1.4M527.4 622.7v1.4m0 -1v1.4m0 2.5v1.4m0 2.5v1.4m0 -1.4v1.4m0 4.1v1.4m0 43.4v1.4m0 0.7v1.4m0 -1.3v1.4m0 -0.8v1.4m0 -0.7v1.4m0 4v1.4m0 -0.8v1.4m0 -0.7v1.4m0 -1.1v1.4m0 -0.4v1.4m0 -0.7v1.4M532.7 611.3v1.4m0 5.1v1.4m0 42v1.4m0 13.5v1.4m0 -0.9v1.4m0 -0.4v1.4m0 12.8v1.4M537.9 613.1v1.4m0 5.2v1.4m0 1.7v1.4m0 4.8v1.4m0 1.4v1.4m0 8.2v1.4m0 3.9v1.4m0 5.3v1.4m0 20.2v1.4m0 1v1.4m0 4.1v1.4m0 0.8v1.4m0 4.1v1.4m0 5.6v1.4M543.1 601.3v1.4m0 9.9v1.4m0 -0.1v1.4m0 0.8v1.4m0 8v1.4m0 3.2v1.4m0 8.8v1.4m0 3v1.4m0 27.9v1.4m0 1.7v1.4m0 -0.1v1.4m0 1.2v1.4m0 3.3v1.4m0 0.8v1.4m0 2.4v1.4M548.4 606.4v1.4m0 13.2v1.4m0 20.1v1.4m0 16.7v1.4m0 5.2v1.4m0 6.6v1.4m0 -0.9v1.4m0 0v1.4m0 1.8v1.4m0 4.9v1.4m0 1.8v1.4m0 6.7v1.4m0 -0.6v1.4m0 2.4v1.4M553.6 629.2v1.4m0 7.5v1.4m0 30v1.4m0 2.9v1.4m0 3.3v1.4m0 0.1v1.4m0 -1.4v1.4m0 -1.2v1.4m0 -1.4v1.4m0 2.7v1.4m0 0.8v1.4m0 -0.3v1.4m0 0.3v1.4M558.8 606.1v1.4m0 3.6v1.4m0 4.2v1.4m0 21.2v1.4m0 0.8v1.4m0 0.7v1.4m0 32.5v1.4m0 0.2v1.4m0 1v1.4m0 2v1.4m0 -0.8v1.4m0 0.1v1.4m0 5.4v1.4m0 4.4v1.4m0 5.3v1.4M564 614.9v1.4m0 5.5v1.4m0 25.4v1.4m0 22.8v1.4m0 5.1v1.4m0 1.4v1.4m0 -1.2v1.4m0 1.7v1.4m0 7v1.4m0 6.8v1.4m0 -0.7v1.4M569.3 620v1.4m0 28.7v1.4m0 26v1.4m0 2.4v1.4m0 4.1v1.4M574.5 600.6v1.4m0 8.4v1.4m0 27.8v1.4m0 16v1.4m0 13.7v1.4m0 4.6v1.4m0 -0v1.4m0 9.5v1.4m0 -1.1v1.4M579.7 616.6v1.4m0 2.7v1.4m0 23.8v1.4m0 22.1v1.4m0 10.5v1.4m0 -1.2v1.4m0 -1.3v1.4m0 3.3v1.4M584.9 622v1.4m0 56.6v1.4m0 14.6v1.4M590.2 680.2v1.4m0 -1v1.4m0 1.9v1.4M595.4 599.7v1.4m0 18.2v1.4m0 59.1v1.4m0 0.1v1.4M600.6 666.8v1.4m0 6.8v1.4m0 0.8v1.4" stroke="#f4a4a4" stroke-width="1.4" fill="none"/>
<path d="M422.9 663.9v1.4m0 -1.3v1.4m0 -0v1.4m0 5v1.4m0 0.8v1.4m0 0.7v1.4m0 0.9v1.4m0 7v1.4m0 2.2v1.4m0 4.9v1.4m0 1.6v1.4M428.2 643.9v1.4m0 12.4v1.4m0 11.1v1.4m0 1.1v1.4m0 -0.3v1.4m0 9.2v1.4m0 4.3v1.4m0 7v1.4M433.4 652.6v1.4m0 8.8v1.4m0 5.8v1.4m0 -0.5v1.4m0 7.9v1.4m0 0.7v1.4m0 4.8v1.4m0 -0.3v1.4m0 -0.2v1.4m0 0.1v1.4m0 -0.9v1.4M438.6 644.6v1.4m0 13.1v1.4m0 4.8v1.4m0 1.8v1.4m0 -1.1v1.4m0 1.6v1.4m0 -1.1v1.4m0 0.4v1.4m0 -1v1.4m0 4.3v1.4m0 -1.4v1.4m0 0.3v1.4m0 1.3v1.4m0 -0v1.4m0 1.6v1.4m0 1.5v1.4m0 0.9v1.4m0 0.9v1.4m0 2.8v1.4M443.8 649.1v1.4m0 3.6v1.4m0 -0.6v1.4m0 0.1v1.4m0 1.7v1.4m0 -0.9v1.4m0 -0v1.4m0 1.7v1.4m0 -1v1.4m0 -0.6v1.4m0 1.1v1.4m0 0.1v1.4m0 -0.7v1.4m0 3.9v1.4m0 2v1.4m0 -0.8v1.4m0 -0.3v1.4m0 -0.2v1.4m0 -1.1v1.4m0 -0.7v1.4m0 -0.6v1.4m0 2v1.4m0 -0.2v1.4m0 1v1.4m0 -0.5v1.4m0 -1v1.4m0 2.9v1.4m0 -0.4v1.4m0 3.2v1.4m0 6.5v1.4m0 9.5v1.4M449.1 638.6v1.4m0 3.6v1.4m0 -0.5v1.4m0 0.4v1.4m0 2.6v1.4m0 0.3v1.4m0 2.6v1.4m0 -0.2v1.4m0 0.3v1.4m0 -0.4v1.4m0 -0.7v1.4m0 -0.9v1.4m0 -0.2v1.4m0 0.8v1.4m0 -0v1.4m0 1.3v1.4m0 0.1v1.4m0 -1.1v1.4m0 1.4v1.4m0 1v1.4m0 0v1.4m0 1.1v1.4m0 2.2v1.4m0 -0.6v1.4m0 -0.6v1.4m0 -1v1.4m0 1.9v1.4m0 -1.1v1.4m0 -0.9v1.4m0 -0.4v1.4m0 4.7v1.4m0 3.9v1.4M454.3 632.6v1.4m0 -0.3v1.4m0 3.7v1.4m0 -1.4v1.4m0 4.2v1.4m0 8.6v1.4m0 0.9v1.4m0 -0.9v1.4m0 -0.5v1.4m0 0.7v1.4m0 2v1.4m0 -1.4v1.4m0 0.3v1.4m0 -1v1.4m0 -0.5v1.4m0 0.6v1.4m0 -0.3v1.4m0 -0.9v1.4m0 1.7v1.4m0 -1.2v1.4m0 -0.9v1.4m0 4.4v1.4m0 0.7v1.4m0 -1v1.4m0 -1.1v1.4m0 -0.3v1.4m0 0.2v1.4m0 1v1.4m0 -1.2v1.4m0 -1.1v1.4m0 -0.9v1.4m0 -0.2v1.4m0 1.6v1.4m0 6.6v1.4M459.5 642.1v1.4m0 1v1.4m0 0.3v1.4m0 2.6v1.4m0 -0.2v1.4m0 -0.3v1.4m0 4v1.4m0 -0.9v1.4m0 2.1v1.4m0 -0.8v1.4m0 -1v1.4m0 1.3v1.4m0 -0.7v1.4m0 -1.2v1.4m0 -0.4v1.4m0 1.3v1.4m0 0.9v1.4m0 -0.4v1.4m0 0.7v1.4m0 1v1.4m0 -0.7v1.4m0 -0.7v1.4m0 0.1v1.4m0 -1.3v1.4m0 0.2v1.4m0 -0.2v1.4m0 3.3v1.4m0 -0.6v1.4m0 -1.3v1.4m0 -0.3v1.4m0 2.5v1.4m0 1.2v1.4m0 4.8v1.4M464.7 637.4v1.4m0 1.1v1.4m0 6.8v1.4m0 2.3v1.4m0 -0.8v1.4m0 0.1v1.4m0 -0.5v1.4m0 -0.7v1.4m0 0.1v1.4m0 -0.5v1.4m0 -1.1v1.4m0 -1.1v1.4m0 -1.3v1.4m0 -0.7v1.4m0 -1.2v1.4m0 -1.4v1.4m0 -0v1.4m0 0.4v1.4m0 0v1.4m0 0.6v1.4m0 -1v1.4m0 3.7v1.4m0 -0.5v1.4m0 -0.9v1.4m0 0.2v1.4m0 -1.2v1.4m0 1.7v1.4m0 -0.6v1.4m0 -0.5v1.4m0 -1.2v1.4m0 -0.8v1.4m0 -0.9v1.4m0 -0.8v1.4m0 -0.3v1.4m0 -0.6v1.4m0 1.6v1.4m0 0.6v1.4m0 -1v1.4m0 -1.4v1.4m0 -0.1v1.4m0 -0.1v1.4m0 -0.3v1.4m0 -1v1.4m0 3v1.4M470 618.6v1.4m0 26.4v1.4m0 -0.5v1.4m0 2.5v1.4m0 0.4v1.4m0 -0.2v1.4m0 -0.9v1.4m0 0.5v1.4m0 -0.7v1.4m0 -0.5v1.4m0 0.4v1.4m0 1v1.4m0 -1.3v1.4m0 -1.3v1.4m0 1.7v1.4m0 -0.2v1.4m0 3.7v1.4m0 0.8v1.4m0 -1.4v1.4m0 0.5v1.4m0 -0.9v1.4m0 1.4v1.4m0 0.5v1.4m0 -0.4v1.4m0 -1.2v1.4m0 -1.2v1.4m0 -1v1.4m0 -0.6v1.4m0 0.6v1.4m0 0.7v1.4m0 0.8v1.4m0 -0.9v1.4m0 12.8v1.4M475.2 634.5v1.4m0 2v1.4m0 2.3v1.4m0 -0v1.4m0 2.5v1.4m0 1.5v1.4m0 -0.6v1.4m0 -0.7v1.4m0 -0.9v1.4m0 3.5v1.4m0 -1.2v1.4m0 -1v1.4m0 -1.4v1.4m0 -0.4v1.4m0 4v1.4m0 1.2v1.4m0 2.2v1.4m0 3.1v1.4m0 -0.1v1.4m0 -1.2v1.4m0 -1.1v1.4m0 -0.6v1.4m0 2.3v1.4m0 -1.1v1.4m0 -0.9v1.4m0 -0.3v1.4m0 -0.2v1.4m0 -0.5v1.4m0 -0.2v1.4m0 1.4v1.4m0 6.1v1.4m0 -0.7v1.4M480.4 629.9v1.4m0 2.9v1.4m0 7.5v1.4m0 -1.2v1.4m0 2.3v1.4m0 1.5v1.4m0 -1.2v1.4m0 -0.9v1.4m0 1.7v1.4m0 1.1v1.4m0 0.1v1.4m0 -0.2v1.4m0 -0.5v1.4m0 -1.4v1.4m0 -0.2v1.4m0 -1.3v1.4m0 -0.2v1.4m0 0.8v1.4m0 -1.3v1.4m0 5.8v1.4m0 3.3v1.4m0 -0.1v1.4m0 1.2v1.4m0 -0.5v1.4m0 0.1v1.4m0 -1.4v1.4m0 -0.8v1.4m0 -1.3v1.4m0 -0.6v1.4m0 0.2v1.4m0 -0.8v1.4m0 -0.2v1.4m0 -1.2v1.4m0 -0.2v1.4m0 2.8v1.4m0 2.7v1.4M485.6 634.1v1.4m0 1.5v1.4m0 -1v1.4m0 2.2v1.4m0 1.4v1.4m0 8v1.4m0 -0.2v1.4m0 0.6v1.4m0 -0v1.4m0 -0.3v1.4m0 -0.6v1.4m0 7.5v1.4m0 -0.9v1.4m0 2.2v1.4m0 0.9v1.4m0 2.1v1.4m0 1.7v1.4m0 -0.5v1.4m0 -0.6v1.4m0 0.7v1.4m0 -0.1v1.4m0 2.5v1.4m0 13.3v1.4M490.9 612.5v1.4m0 0.6v1.4m0 33.9v1.4m0 -0.5v1.4m0 1.1v1.4m0 0.9v1.4m0 -1.3v1.4m0 2.4v1.4m0 -1.2v1.4m0 -0.3v1.4m0 -1.4v1.4m0 -0.7v1.4m0 -0.9v1.4m0 -0.2v1.4m0 0.6v1.4m0 7.8v1.4m0 0.1v1.4m0 -0.7v1.4m0 -1.4v1.4m0 -0.5v1.4m0 1.1v1.4m0 4.3v1.4m0 -1.1v1.4m0 2.4v1.4M496.1 636.5v1.4m0 0.3v1.4m0 5.1v1.4m0 -0.1v1.4m0 -1v1.4m0 -0.7v1.4m0 0.8v1.4m0 -1.2v1.4m0 -0v1.4m0 -1.1v1.4m0 1.4v1.4m0 1.8v1.4m0 1.4v1.4m0 2.2v1.4m0 0.9v1.4m0 9.5v1.4m0 -0.7v1.4m0 -0.7v1.4m0 -1v1.4m0 -0.9v1.4m0 -0.2v1.4m0 4.1v1.4m0 0.6v1.4m0 -1v1.4m0 -1.3v1.4m0 -0.5v1.4m0 1.2v1.4m0 0.2v1.4M501.3 632.1v1.4m0 3.4v1.4m0 0.8v1.4m0 5.5v1.4m0 0.8v1.4m0 -0.5v1.4m0 -0.3v1.4m0 4.7v1.4m0 0.3v1.4m0 1v1.4m0 -0.6v1.4m0 0.6v1.4m0 1.8v1.4m0 -1.2v1.4m0 -1.1v1.4m0 -0.3v1.4m0 -0.9v1.4m0 -1.4v1.4m0 -1.2v1.4m0 6.4v1.4m0 -0.1v1.4m0 -0.8v1.4m0 -1.2v1.4m0 -1.2v1.4m0 -0.2v1.4m0 3.9v1.4m0 -0.2v1.4m0 -0.5v1.4m0 9.7v1.4M506.5 613.9v1.4m0 10.8v1.4m0 15.9v1.4m0 1v1.4m0 -1.1v1.4m0 -1.4v1.4m0 2.4v1.4m0 3.3v1.4m0 -1v1.4m0 4.2v1.4m0 0.5v1.4m0 0.6v1.4m0 2v1.4m0 1.8v1.4m0 0.2v1.4m0 1.9v1.4m0 2.5v1.4m0 4.9v1.4m0 -1.1v1.4m0 -0.8v1.4m0 1.3v1.4M511.8 626.7v1.4m0 8.3v1.4m0 0.1v1.4m0 1.4v1.4m0 1.8v1.4m0 1.4v1.4m0 -0.6v1.4m0 12.4v1.4m0 2.8v1.4m0 4.2v1.4m0 -0.5v1.4m0 -0.1v1.4m0 1.2v1.4m0 1.8v1.4m0 -1v1.4m0 1.6v1.4m0 0.3v1.4m0 0.2v1.4m0 -1.1v1.4m0 -1.2v1.4m0 4.8v1.4M517 611.5v1.4m0 6.1v1.4m0 15.3v1.4m0 3.7v1.4m0 -0.3v1.4m0 1.7v1.4m0 2.5v1.4m0 6.4v1.4m0 -0.8v1.4m0 -1v1.4m0 0.3v1.4m0 4.3v1.4m0 1.8v1.4m0 1.4v1.4m0 0.2v1.4m0 0v1.4m0 9.9v1.4m0 -0.6v1.4m0 3.8v1.4m0 -0.4v1.4M522.2 611.7v1.4m0 9v1.4m0 16.4v1.4m0 2.9v1.4m0 0.9v1.4m0 -0.8v1.4m0 3.5v1.4m0 2.5v1.4m0 2.3v1.4m0 8.8v1.4m0 -1.3v1.4m0 5.7v1.4m0 -1.3v1.4m0 0.6v1.4m0 -1v1.4m0 2.6v1.4m0 -1.4v1.4m0 1.2v1.4m0 2.3v1.4m0 9v1.4m0 4.6v1.4M527.4 614.6v1.4m0 28.7v1.4m0 12.1v1.4m0 -0.9v1.4m0 4.1v1.4m0 5.7v1.4m0 1v1.4m0 -0.7v1.4m0 1.5v1.4m0 -1.4v1.4m0 -1.2v1.4m0 3.1v1.4m0 -0.5v1.4m0 2.4v1.4M532.7 611.8v1.4m0 25.7v1.4m0 10.2v1.4m0 2.6v1.4m0 0.7v1.4m0 -0.9v1.4m0 1.8v1.4m0 0.5v1.4m0 6.1v1.4m0 1.2v1.4m0 0.7v1.4m0 -0.8v1.4m0 -0.4v1.4m0 0.6v1.4m0 -0.2v1.4m0 0.2v1.4m0 -0.6v1.4M537.9 614.3v1.4m0 25.9v1.4m0 -0.6v1.4m0 -0.7v1.4m0 8.7v1.4m0 1.4v1.4m0 -1.3v1.4m0 4v1.4m0 3.8v1.4m0 3.9v1.4m0 0.3v1.4m0 3.8v1.4m0 -0.5v1.4m0 2.1v1.4m0 5v1.4m0 2.6v1.4M543.1 638.7v1.4m0 -0.7v1.4m0 1v1.4m0 10v1.4m0 -0.4v1.4m0 3.8v1.4m0 12.7v1.4m0 -0.3v1.4m0 1.6v1.4m0 0.3v1.4m0 -0.8v1.4m0 2v1.4m0 5.8v1.4M548.4 628.1v1.4m0 11.7v1.4m0 12.3v1.4m0 2.3v1.4m0 -0.7v1.4m0 6v1.4m0 -0.7v1.4m0 0.3v1.4m0 -1.4v1.4m0 4.3v1.4m0 3.2v1.4m0 13.2v1.4M553.6 629.4v1.4m0 8.6v1.4m0 0.5v1.4m0 9.3v1.4m0 -0.3v1.4m0 2.4v1.4m0 1.3v1.4m0 2.5v1.4m0 1.9v1.4m0 0.3v1.4m0 -1v1.4m0 2.3v1.4m0 -1v1.4m0 2.9v1.4m0 2.5v1.4m0 2.9v1.4m0 3.5v1.4M558.8 647.4v1.4m0 1.6v1.4m0 0.1v1.4m0 6.9v1.4m0 3.9v1.4m0 7.5v1.4m0 1v1.4m0 8.3v1.4M564 608.8v1.4m0 37.3v1.4m0 2.1v1.4m0 14.9v1.4m0 2v1.4m0 0.5v1.4m0 2.7v1.4m0 4.7v1.4M569.3 611.8v1.4m0 11.5v1.4m0 2.7v1.4m0 15.6v1.4m0 5.1v1.4m0 2.7v1.4m0 -0.1v1.4m0 1.8v1.4m0 0v1.4m0 -1.2v1.4m0 2.5v1.4m0 3.8v1.4m0 1.8v1.4m0 -0.2v1.4m0 1.2v1.4m0 10.2v1.4M574.5 628.7v1.4m0 20.2v1.4m0 18.8v1.4m0 11.6v1.4M579.7 644v1.4m0 1.4v1.4m0 4.3v1.4m0 19.8v1.4m0 1v1.4m0 7.6v1.4M584.9 647.8v1.4m0 7.9v1.4m0 -1.3v1.4m0 1.8v1.4m0 -0.9v1.4m0 6.6v1.4m0 8.4v1.4m0 1.6v1.4m0 3.1v1.4M590.2 632.8v1.4m0 18.5v1.4m0 6.2v1.4m0 1.8v1.4m0 5.4v1.4m0 0.3v1.4M595.4 644.5v1.4m0 -1.2v1.4m0 7.8v1.4m0 1.7v1.4m0 23v1.4m0 6.4v1.4M600.6 627.6v1.4" stroke="#e43434" stroke-width="1.4" fill="none"/>
<path d="M422.9 673.8v1.4m0 6.1v1.4M428.2 660.3v1.4m0 4.5v1.4m0 2.3v1.4m0 2v1.4m0 1.4v1.4m0 -0.3v1.4m0 -1v1.4m0 -0.2v1.4m0 1.2v1.4m0 0.3v1.4M433.4 663.5v1.4m0 -0.2v1.4m0 4.5v1.4m0 -0.9v1.4m0 -0.9v1.4m0 -0.4v1.4m0 2.1v1.4m0 0.7v1.4m0 0.1v1.4m0 -1.3v1.4m0 -0.7v1.4m0 3.3v1.4m0 -0.3v1.4m0 2.4v1.4M438.6 661.3v1.4m0 -1.3v1.4m0 0.4v1.4m0 2.2v1.4m0 -1.2v1.4m0 -1.2v1.4m0 0v1.4m0 -1.3v1.4m0 1.4v1.4m0 0.9v1.4m0 0.4v1.4m0 0.4v1.4m0 -1.4v1.4m0 0.3v1.4m0 -0.5v1.4m0 -1.3v1.4m0 -1.1v1.4m0 -1.1v1.4m0 -0.9v1.4m0 -1v1.4m0 2.9v1.4m0 6v1.4M443.8 661.8v1.4m0 0.6v1.4m0 -0.5v1.4m0 -1v1.4m0 -1.3v1.4m0 0.2v1.4m0 -0.6v1.4m0 4.7v1.4m0 -0.8v1.4m0 1v1.4m0 -1.2v1.4m0 -1.1v1.4m0 -1.2v1.4m0 1.2v1.4m0 -1.2v1.4m0 -0.5v1.4m0 -0.2v1.4m0 0.3v1.4m0 -0.7v1.4m0 2.3v1.4m0 1.9v1.4M449.1 653.7v1.4m0 2.7v1.4m0 0.4v1.4m0 -0.6v1.4m0 4.9v1.4m0 1.6v1.4m0 -1v1.4m0 0.5v1.4m0 -0.5v1.4m0 -0.9v1.4m0 -0.1v1.4m0 -0.2v1.4m0 -0v1.4m0 0.7v1.4m0 -0.3v1.4m0 -1.4v1.4m0 -0.6v1.4m0 -1.2v1.4m0 -0.1v1.4m0 -1.4v1.4m0 -0.9v1.4m0 0v1.4m0 -1v1.4m0 -0.6v1.4m0 1.5v1.4m0 1.2v1.4M454.3 654.3v1.4m0 5.2v1.4m0 0.4v1.4m0 0.3v1.4m0 1.3v1.4m0 -1.1v1.4m0 1.2v1.4m0 -0.5v1.4m0 -1.3v1.4m0 -0.2v1.4m0 -1.4v1.4m0 -0.6v1.4m0 -0.1v1.4m0 -1.1v1.4m0 -0.7v1.4m0 -1.1v1.4m0 -0.4v1.4m0 -0.8v1.4m0 -0v1.4m0 -0.8v1.4m0 -1.2v1.4m0 -1.4v1.4m0 -0.8v1.4m0 -0.4v1.4m0 -1.3v1.4m0 -0.8v1.4m0 -1.3v1.4m0 -1.4v1.4m0 -0.8v1.4m0 0.2v1.4m0 -1.3v1.4m0 1.8v1.4m0 -0.4v1.4m0 7.6v1.4M459.5 653.4v1.4m0 -0.2v1.4m0 -1.2v1.4m0 -0.6v1.4m0 7.2v1.4m0 -0.2v1.4m0 0.2v1.4m0 -1.3v1.4m0 -0.6v1.4m0 -1.2v1.4m0 -0.9v1.4m0 -1.3v1.4m0 2.3v1.4m0 -1.1v1.4m0 -1.1v1.4m0 0.2v1.4m0 0.4v1.4m0 0.8v1.4m0 1.4v1.4m0 1.2v1.4m0 0.9v1.4m0 -0.4v1.4m0 0.5v1.4m0 6v1.4M464.7 630.8v1.4m0 20v1.4m0 -0v1.4m0 -0.6v1.4m0 -1.1v1.4m0 3.9v1.4m0 -0.7v1.4m0 -0.3v1.4m0 -0.2v1.4m0 0.4v1.4m0 -1.3v1.4m0 -1.1v1.4m0 -0.9v1.4m0 -0.4v1.4m0 -1.3v1.4m0 -1.2v1.4m0 0.1v1.4m0 -1.1v1.4m0 -0.8v1.4m0 -1.4v1.4m0 1.2v1.4m0 -0.3v1.4m0 -1.2v1.4m0 -1.1v1.4m0 -0.7v1.4m0 -0.5v1.4m0 0.6v1.4m0 0.6v1.4m0 -0.6v1.4m0 -0.2v1.4m0 -1.2v1.4m0 -1.3v1.4m0 0.3v1.4m0 -1.4v1.4m0 -0.1v1.4m0 -1.1v1.4m0 -0.4v1.4m0 5.4v1.4m0 -0.6v1.4M470 647.2v1.4m0 -1.2v1.4m0 0.2v1.4m0 -1.3v1.4m0 1.7v1.4m0 1.1v1.4m0 0.3v1.4m0 -0.6v1.4m0 -1.1v1.4m0 1.8v1.4m0 0.1v1.4m0 -1.1v1.4m0 -1.3v1.4m0 0.2v1.4m0 0.3v1.4m0 0.2v1.4m0 -0.7v1.4m0 -0.3v1.4m0 -0.9v1.4m0 2v1.4m0 -1v1.4m0 -1.1v1.4m0 -0.9v1.4m0 -0.6v1.4m0 -1.1v1.4m0 -1.1v1.4m0 -0.5v1.4m0 -0.2v1.4m0 -0.9v1.4m0 3.2v1.4m0 -0.2v1.4m0 -0.2v1.4m0 1.7v1.4m0 2.5v1.4M475.2 651.8v1.4m0 1.5v1.4m0 0.2v1.4m0 3.6v1.4m0 0.3v1.4m0 -0.6v1.4m0 2v1.4m0 2.1v1.4m0 -0v1.4m0 1.5v1.4m0 -0.9v1.4m0 -1v1.4m0 -0.9v1.4m0 0v1.4m0 -1.3v1.4m0 -0.6v1.4m0 0.3v1.4m0 -1.3v1.4m0 0.5v1.4m0 1.2v1.4m0 0.3v1.4m0 1.1v1.4M480.4 632.6v1.4m0 5.2v1.4m0 1.5v1.4m0 1.2v1.4m0 -0.4v1.4m0 -1.2v1.4m0 10.1v1.4m0 1.9v1.4m0 -0.1v1.4m0 -1.3v1.4m0 -1.2v1.4m0 -1.1v1.4m0 -1.2v1.4m0 -0.9v1.4m0 -1.1v1.4m0 0.9v1.4m0 0.8v1.4m0 -0.8v1.4m0 -0.7v1.4m0 -1.3v1.4m0 -1.2v1.4m0 -1v1.4m0 -0.8v1.4m0 0.9v1.4m0 -1.1v1.4m0 0.6v1.4m0 -0.8v1.4m0 -0.4v1.4m0 0.6v1.4m0 2.1v1.4m0 -0.5v1.4m0 3.8v1.4m0 2.5v1.4M485.6 647.2v1.4m0 1.3v1.4m0 0.2v1.4m0 1.9v1.4m0 -1v1.4m0 -0.6v1.4m0 -0.5v1.4m0 -0.2v1.4m0 -1.3v1.4m0 1.4v1.4m0 -0v1.4m0 -1.3v1.4m0 -0.5v1.4m0 -1v1.4m0 1.2v1.4m0 -0.8v1.4m0 -1.4v1.4m0 -0.8v1.4m0 -1.1v1.4m0 -0.9v1.4m0 -0.8v1.4m0 -1.4v1.4m0 -0.1v1.4m0 3.2v1.4m0 0.4v1.4m0 5v1.4m0 1.8v1.4M490.9 631.9v1.4m0 0v1.4m0 2.6v1.4m0 3.2v1.4m0 2.9v1.4m0 3.5v1.4m0 -0.9v1.4m0 -0.2v1.4m0 -1.2v1.4m0 -0.3v1.4m0 3.5v1.4m0 -1.1v1.4m0 -0.8v1.4m0 -0.5v1.4m0 0.4v1.4m0 -0.2v1.4m0 0.7v1.4m0 -0.8v1.4m0 -0.9v1.4m0 1.1v1.4m0 -1v1.4m0 -1.3v1.4m0 0.1v1.4m0 0.2v1.4m0 -0.7v1.4m0 -0.4v1.4m0 0.8v1.4m0 3.9v1.4M496.1 642.3v1.4m0 5.9v1.4m0 2.1v1.4m0 -1.2v1.4m0 4.3v1.4m0 -0.7v1.4m0 0.9v1.4m0 -0.7v1.4m0 -0.2v1.4m0 -1v1.4m0 -0.6v1.4m0 -0.8v1.4m0 0.1v1.4m0 -0.7v1.4m0 -0.1v1.4m0 -1.1v1.4m0 2.1v1.4m0 -1.3v1.4m0 1.6v1.4m0 -1.1v1.4m0 -0.6v1.4M501.3 631.4v1.4m0 3.4v1.4m0 0.8v1.4m0 9v1.4m0 2.9v1.4m0 0.7v1.4m0 8v1.4m0 -0.7v1.4m0 -0.8v1.4m0 -0.4v1.4m0 -1.3v1.4m0 -0.3v1.4m0 3.2v1.4m0 -0.7v1.4m0 -1v1.4m0 -0.8v1.4m0 -0.4v1.4m0 -0.5v1.4m0 -1.3v1.4m0 7.3v1.4M506.5 639.6v1.4m0 6.4v1.4m0 0.7v1.4m0 3.1v1.4m0 -0.8v1.4m0 -1.1v1.4m0 0.6v1.4m0 0.3v1.4m0 -0.7v1.4m0 -1.1v1.4m0 0.6v1.4m0 -1.4v1.4m0 -0.9v1.4m0 -0.3v1.4m0 0.2v1.4m0 5.8v1.4m0 -1v1.4m0 0.4v1.4m0 -1.2v1.4m0 -1.2v1.4m0 -0v1.4m0 7.8v1.4M511.8 626.9v1.4m0 18.3v1.4m0 11.9v1.4m0 2.1v1.4m0 0.3v1.4m0 -0.8v1.4m0 1.2v1.4m0 -0.1v1.4m0 -1.3v1.4m0 1.5v1.4m0 -0.5v1.4m0 -0.1v1.4M517 637.2v1.4m0 10.8v1.4m0 -0v1.4m0 12.2v1.4m0 -0.1v1.4m0 0.4v1.4m0 8.2v1.4m0 2.1v1.4M522.2 646.4v1.4m0 6.3v1.4m0 -0.5v1.4m0 10.1v1.4m0 2.7v1.4m0 1.2v1.4m0 -0v1.4m0 0.2v1.4M527.4 634.6v1.4m0 12.7v1.4m0 0.1v1.4m0 5.4v1.4m0 3.6v1.4m0 -1v1.4m0 -0.7v1.4m0 -1v1.4M532.7 621.8v1.4m0 23v1.4m0 1.8v1.4m0 4.2v1.4m0 -0.1v1.4m0 0.2v1.4m0 -0.6v1.4m0 6v1.4m0 -1v1.4m0 0.6v1.4m0 1.1v1.4m0 4.9v1.4M537.9 644.3v1.4m0 4.2v1.4m0 1.8v1.4m0 5.9v1.4m0 0.2v1.4m0 -1.4v1.4m0 -0.3v1.4m0 5.9v1.4m0 5.3v1.4m0 -1v1.4M543.1 644.1v1.4m0 9.8v1.4m0 0.6v1.4m0 1.1v1.4m0 -0v1.4m0 0.5v1.4m0 1.3v1.4m0 -0.5v1.4m0 -0.9v1.4m0 -0.8v1.4m0 0.5v1.4m0 -0.2v1.4m0 2.6v1.4m0 1.6v1.4m0 0.7v1.4M548.4 637v1.4m0 4.8v1.4m0 10.9v1.4m0 2v1.4m0 -0.6v1.4m0 -1.4v1.4m0 -0.1v1.4m0 2.4v1.4m0 -1v1.4m0 5.8v1.4m0 2.9v1.4M553.6 626.2v1.4m0 8v1.4m0 7.2v1.4m0 0.5v1.4m0 1.2v1.4m0 1v1.4m0 0.6v1.4m0 2.7v1.4m0 -0.9v1.4m0 -1.3v1.4m0 -1.1v1.4m0 -0.8v1.4m0 -0.2v1.4m0 -0.7v1.4m0 0.4v1.4m0 2.4v1.4m0 -0.5v1.4m0 -1v1.4m0 6.2v1.4M558.8 639.5v1.4m0 -1.2v1.4m0 10.1v1.4m0 3.3v1.4m0 0.3v1.4m0 0.6v1.4m0 -1v1.4m0 0.1v1.4m0 -0.7v1.4m0 -0.2v1.4m0 -0.1v1.4m0 0v1.4m0 1.4v1.4M564 635.1v1.4m0 -0.6v1.4m0 4.8v1.4m0 1.1v1.4m0 -0.9v1.4m0 -1.4v1.4m0 8v1.4m0 0.8v1.4m0 1.8v1.4m0 -0.5v1.4m0 -0v1.4m0 1v1.4m0 0.4v1.4m0 -0.9v1.4m0 -0.6v1.4m0 6v1.4m0 2.2v1.4M569.3 627v1.4m0 3.8v1.4m0 -0.1v1.4m0 3.1v1.4m0 2.2v1.4m0 5v1.4m0 0.1v1.4m0 -1.2v1.4m0 -1.3v1.4m0 -0.1v1.4m0 5.2v1.4m0 6.1v1.4m0 -1.3v1.4m0 -0.4v1.4m0 -1.1v1.4m0 3.3v1.4m0 -0.7v1.4m0 2.5v1.4M574.5 632.9v1.4m0 7.8v1.4m0 0.5v1.4m0 0.1v1.4m0 -1.3v1.4m0 2.3v1.4m0 -0.1v1.4m0 2.5v1.4m0 -1.1v1.4m0 -0.2v1.4m0 -0.6v1.4m0 0.9v1.4m0 0.1v1.4m0 -0v1.4m0 3.4v1.4m0 0.2v1.4m0 3.8v1.4M579.7 618.3v1.4m0 21v1.4m0 2.7v1.4m0 -0.9v1.4m0 2.7v1.4m0 1.1v1.4m0 0.4v1.4m0 -0.1v1.4m0 -1v1.4m0 2.7v1.4m0 1.2v1.4m0 1v1.4m0 3.8v1.4M584.9 625.1v1.4m0 27.6v1.4m0 -0.3v1.4m0 1.5v1.4m0 -1v1.4m0 14.1v1.4M590.2 639.1v1.4m0 6.9v1.4m0 13.8v1.4m0 4.5v1.4m0 5.9v1.4M595.4 645.2v1.4m0 5.1v1.4m0 9.1v1.4m0 4.7v1.4M600.6 652.6v1.4m0 -0.8v1.4m0 14.2v1.4" stroke="#bc0000" stroke-width="1.4" fill="none"/>
<path d="M449.1 687.5l31.4 -5.7M470 691.8l47 -8.5M422.9 682.5l41.8 -7.6M532.7 649.8l26.1 -4.7M470 694.2l41.8 -7.6M449.1 655.1l31.4 -5.7M501.3 686.8l41.8 -7.6M422.9 694.6l15.7 -2.8M449.1 700.5l41.8 -7.6M475.2 694.3l20.9 -3.8M449.1 642.8l15.7 -2.8M428.2 699.6l36.6 -6.6M506.5 633.7l15.7 -2.8M438.6 695.2l15.7 -2.8M501.3 630.7l36.6 -6.6M490.9 695.5l20.9 -3.8M480.4 686.9l10.5 -1.9M433.4 649l36.6 -6.6M443.8 647.9l15.7 -2.8M422.9 688.3l31.4 -5.7M470 655l36.6 -6.6M459.5 630.6l41.8 -7.6M564 614.7l36.6 -6.6M553.6 682.8l20.9 -3.8M454.3 659.8l36.6 -6.6M428.2 645.3l36.6 -6.6M428.2 693.4l47 -8.5M490.9 641.6l15.7 -2.8M443.8 649l20.9 -3.8M470 641.9l36.6 -6.6M480.4 645.6l15.7 -2.8M459.5 647.8l36.6 -6.6M459.5 633.6l31.4 -5.7M490.9 694.1l26.1 -4.7M553.6 678.9l31.4 -5.7M428.2 642.8l36.6 -6.6M506.5 619.4l41.8 -7.6M438.6 660.8l31.4 -5.7M490.9 624.1l41.8 -7.6M543.1 692.7l41.8 -7.6M470 626.8l20.9 -3.8M564 636.9l31.4 -5.7M543.1 703.2l31.4 -5.7M558.8 687.5l41.8 -7.6M522.2 689l41.8 -7.6M422.9 667.1l20.9 -3.8M496.1 688.7l15.7 -2.8M459.5 691.8l47 -8.5M553.6 685.6l41.8 -7.6M564 625.4l36.6 -6.6M470 639.8l15.7 -2.8M454.3 696.7l41.8 -7.6M438.6 697.3l10.5 -1.9M428.2 654.6l10.5 -1.9M480.4 643.6l47 -8.5M433.4 666.3l20.9 -3.8M449.1 648.2l31.4 -5.7M443.8 691.4l41.8 -7.6M459.5 669.1l41.8 -7.6M470 658.5l41.8 -7.6M464.7 703.5l15.7 -2.8" stroke="#f8c4c4" stroke-width="0.6" fill="none"/>
<path d="M459.5 670.1l10.5 -1.9M470 653l36.6 -6.6M438.6 694.6l10.5 -1.9M506.5 672.6l36.6 -6.6M454.3 661.5l26.1 -4.7M496.1 688.7l41.8 -7.6M506.5 697.3l41.8 -7.6M433.4 691.7l20.9 -3.8M517 634.9l36.6 -6.6M511.8 671.9l26.1 -4.7M464.7 663.7l41.8 -7.6M548.4 660.1l26.1 -4.7M475.2 685.3l41.8 -7.6M459.5 665l36.6 -6.6M459.5 685.6l41.8 -7.6M454.3 655l41.8 -7.6M506.5 677.2l36.6 -6.6M517 672.6l36.6 -6.6M433.4 667.5l36.6 -6.6M527.4 647.3l20.9 -3.8M422.9 683l26.1 -4.7M558.8 655.5l31.4 -5.7M433.4 668.3l41.8 -7.6M558.8 682.6l41.8 -7.6M433.4 679l10.5 -1.9M527.4 652.6l31.4 -5.7M443.8 658.6l10.5 -1.9M438.6 690.9l41.8 -7.6M537.9 652.3l41.8 -7.6M496.1 671.6l41.8 -7.6M438.6 668.2l36.6 -6.6M527.4 662.7l41.8 -7.6M527.4 686.4l36.6 -6.6M501.3 687.4l47 -8.5M543.1 631.9l31.4 -5.7M480.4 638l41.8 -7.6M428.2 686.3l47 -8.5M475.2 699.1l47 -8.5M506.5 686.9l41.8 -7.6M428.2 669.7l20.9 -3.8M464.7 660.4l20.9 -3.8M537.9 616.2l36.6 -6.6M454.3 697.4l31.4 -5.7M475.2 656.8l10.5 -1.9M506.5 644l31.4 -5.7M422.9 697.6l41.8 -7.6M532.7 687.1l31.4 -5.7M537.9 650.8l36.6 -6.6M543.1 682.4l10.5 -1.9M428.2 698l41.8 -7.6M527.4 677.5l41.8 -7.6M496.1 660.2l41.8 -7.6M428.2 669.1l31.4 -5.7M464.7 666.5l15.7 -2.8M496.1 678.2l10.5 -1.9M433.4 666.9l36.6 -6.6M548.4 652.2l47 -8.5M438.6 694.9l47 -8.5M475.2 649.7l15.7 -2.8M459.5 681l41.8 -7.6M433.4 667.3l31.4 -5.7M459.5 646.4l10.5 -1.9M438.6 697.1l36.6 -6.6M443.8 654.4l15.7 -2.8M501.3 688.2l26.1 -4.7M454.3 687.8l26.1 -4.7M438.6 674.6l10.5 -1.9M480.4 678.1l31.4 -5.7M464.7 684.8l26.1 -4.7M454.3 688.1l41.8 -7.6M464.7 681.3l36.6 -6.6M480.4 659.9l15.7 -2.8M480.4 681.9l31.4 -5.7M475.2 664.4l31.4 -5.7M475.2 685l47 -8.5M543.1 674.1l10.5 -1.9M517 621.5l36.6 -6.6M443.8 661.6l47 -8.5M443.8 652.2l31.4 -5.7M475.2 664.5l41.8 -7.6" stroke="#f27878" stroke-width="0.6" fill="none"/>
<path d="M428.2 676.2l31.4 -5.7M490.9 673.9l36.6 -6.6M506.5 676.8l31.4 -5.7M449.1 687l15.7 -2.8M433.4 682.5l41.8 -7.6M496.1 676.4l47 -8.5M496.1 647.5l36.6 -6.6M527.4 651l15.7 -2.8M553.6 668.9l36.6 -6.6M449.1 667.9l15.7 -2.8M490.9 655.1l15.7 -2.8M470 666.3l15.7 -2.8M527.4 664.7l47 -8.5M438.6 678.9l15.7 -2.8M433.4 681.2l41.8 -7.6M501.3 646.3l36.6 -6.6M433.4 691.7l41.8 -7.6M459.5 691.3l41.8 -7.6M464.7 653.3l36.6 -6.6M532.7 679.5l41.8 -7.6M438.6 657.1l10.5 -1.9M443.8 685.6l41.8 -7.6M496.1 657.6l36.6 -6.6M548.4 678.3l10.5 -1.9M459.5 667l41.8 -7.6M438.6 667.1l26.1 -4.7M470 683.8l41.8 -7.6M527.4 676.3l31.4 -5.7M428.2 663.8l47 -8.5M422.9 675.5l15.7 -2.8M527.4 681.8l41.8 -7.6M464.7 664.1l31.4 -5.7M459.5 663.6l31.4 -5.7M464.7 681.8l36.6 -6.6M464.7 682.9l10.5 -1.9M464.7 678.4l15.7 -2.8M454.3 670.4l36.6 -6.6M480.4 676.5l41.8 -7.6M553.6 688.4l41.8 -7.6M480.4 677.6l31.4 -5.7M443.8 690l41.8 -7.6M438.6 677.9l20.9 -3.8M553.6 669.5l10.5 -1.9M506.5 672.1l41.8 -7.6M449.1 686.4l31.4 -5.7M480.4 683.2l41.8 -7.6M443.8 663.7l31.4 -5.7M564 626.2l26.1 -4.7M459.5 660.9l31.4 -5.7M548.4 664.9l41.8 -7.6M433.4 676.7l36.6 -6.6M433.4 682.5l41.8 -7.6M454.3 667.8l41.8 -7.6M569.3 669.1l31.4 -5.7M480.4 664.8l47 -8.5M459.5 665l36.6 -6.6M422.9 690l41.8 -7.6M459.5 660.6l31.4 -5.7M454.3 674.2l41.8 -7.6M459.5 672.2l41.8 -7.6M438.6 682.2l10.5 -1.9M548.4 667.8l10.5 -1.9M558.8 661.4l41.8 -7.6M443.8 674.4l47 -8.5M422.9 670.8l26.1 -4.7M522.2 677.2l26.1 -4.7M548.4 675.6l36.6 -6.6M464.7 663.6l31.4 -5.7M428.2 669.5l36.6 -6.6M422.9 706.9l31.4 -5.7M454.3 674.4l47 -8.5M422.9 676.9l20.9 -3.8M464.7 682.7l26.1 -4.7M438.6 671l41.8 -7.6M459.5 661l36.6 -6.6M438.6 683.5l41.8 -7.6M459.5 670.6l31.4 -5.7M537.9 648.2l41.8 -7.6M428.2 673.3l41.8 -7.6M532.7 665.1l15.7 -2.8M428.2 676.2l36.6 -6.6M438.6 673.3l10.5 -1.9M443.8 654l41.8 -7.6M506.5 650.6l10.5 -1.9M433.4 681.5l26.1 -4.7M511.8 673.5l41.8 -7.6M464.7 680.9l20.9 -3.8M511.8 685.2l41.8 -7.6M496.1 676.1l15.7 -2.8M532.7 666.4l15.7 -2.8M475.2 653.4l10.5 -1.9M464.7 656.8l41.8 -7.6M480.4 657.4l26.1 -4.7M517 675.5l36.6 -6.6M443.8 684.2l41.8 -7.6M543.1 650.2l41.8 -7.6M490.9 668.2l20.9 -3.8M454.3 674.3l26.1 -4.7M527.4 670.8l41.8 -7.6M433.4 671.4l41.8 -7.6M428.2 690.4l26.1 -4.7M522.2 677.1l41.8 -7.6M464.7 658.8l10.5 -1.9M449.1 682.5l41.8 -7.6M422.9 674.3l36.6 -6.6M459.5 676.1l26.1 -4.7M496.1 678.5l15.7 -2.8M428.2 683.9l10.5 -1.9M443.8 657.5l10.5 -1.9M527.4 647.5l41.8 -7.6M454.3 645.9l41.8 -7.6M501.3 624.8l41.8 -7.6M553.6 666.3l41.8 -7.6M490.9 647.9l15.7 -2.8M454.3 686.7l15.7 -2.8M485.6 647.1l15.7 -2.8M527.4 640.1l41.8 -7.6M438.6 666.8l10.5 -1.9M475.2 681.3l36.6 -6.6M428.2 684.9l36.6 -6.6M537.9 660.8l31.4 -5.7M490.9 662.3l20.9 -3.8M433.4 675.5l20.9 -3.8M485.6 671.8l31.4 -5.7M428.2 665.3l31.4 -5.7M454.3 681.9l41.8 -7.6M490.9 657.7l41.8 -7.6M459.5 673.8l31.4 -5.7M433.4 685.2l41.8 -7.6M470 660.6l15.7 -2.8M522.2 661.1l36.6 -6.6M501.3 671.2l36.6 -6.6" stroke="#e82222" stroke-width="0.6" fill="none"/>
<path d="M480.4 618.5l41.8 -7.6M443.8 676.6l41.8 -7.6M527.4 671l36.6 -6.6M490.9 674l36.6 -6.6M480.4 673.3l41.8 -7.6M443.8 682.2l36.6 -6.6M449.1 677.1l31.4 -5.7M443.8 685.5l20.9 -3.8M501.3 657l15.7 -2.8M564 662.7l10.5 -1.9M548.4 656.8l31.4 -5.7M522.2 674.2l20.9 -3.8M449.1 671l41.8 -7.6M485.6 677.1l26.1 -4.7M506.5 667.1l31.4 -5.7M522.2 667.3l31.4 -5.7M428.2 683.4l31.4 -5.7M438.6 676.9l31.4 -5.7M454.3 667.2l41.8 -7.6M470 680.3l41.8 -7.6M553.6 671.1l41.8 -7.6M443.8 676.2l15.7 -2.8M422.9 673.2l26.1 -4.7M532.7 666.8l10.5 -1.9M454.3 664.4l26.1 -4.7M532.7 665.9l41.8 -7.6M449.1 678.7l31.4 -5.7M532.7 667.4l26.1 -4.7M459.5 671l41.8 -7.6M480.4 691.1l41.8 -7.6M428.2 678.7l41.8 -7.6M428.2 677.5l41.8 -7.6M501.3 647.9l31.4 -5.7M454.3 681.8l26.1 -4.7M475.2 658.8l41.8 -7.6M475.2 653.3l47 -8.5M428.2 679.8l41.8 -7.6M558.8 659.8l15.7 -2.8M564 654l20.9 -3.8M480.4 672.8l31.4 -5.7M564 670.2l36.6 -6.6M433.4 679.3l31.4 -5.7M527.4 675l41.8 -7.6M428.2 685.4l10.5 -1.9M454.3 669.1l10.5 -1.9M454.3 671.2l47 -8.5M443.8 672l41.8 -7.6M480.4 663.4l47 -8.5M496.1 675.3l41.8 -7.6M433.4 680.7l31.4 -5.7M433.4 673.9l47 -8.5M553.6 661.7l41.8 -7.6M428.2 675.1l41.8 -7.6M485.6 672.4l10.5 -1.9M459.5 672.1l47 -8.5M490.9 665.1l47 -8.5M490.9 657l31.4 -5.7M464.7 676.7l26.1 -4.7M470 642.4l20.9 -3.8M532.7 658.2l31.4 -5.7M438.6 685.6l47 -8.5M532.7 667.5l20.9 -3.8M433.4 683.5l36.6 -6.6M443.8 665.3l36.6 -6.6M522.2 664.7l47 -8.5M459.5 682l10.5 -1.9M548.4 666.2l47 -8.5M506.5 669.7l41.8 -7.6M470 658.3l20.9 -3.8M496.1 671.4l36.6 -6.6M548.4 643.4l26.1 -4.7M433.4 680.1l41.8 -7.6M443.8 683.2l41.8 -7.6M501.3 670.7l10.5 -1.9M449.1 668.1l41.8 -7.6M428.2 676.3l15.7 -2.8M548.4 664.1l47 -8.5M564 666.2l36.6 -6.6M522.2 669.3l26.1 -4.7M464.7 676l41.8 -7.6M548.4 655.4l10.5 -1.9M459.5 681.8l31.4 -5.7M532.7 675.3l36.6 -6.6M422.9 686l41.8 -7.6M422.9 687.1l26.1 -4.7M449.1 664.5l41.8 -7.6M428.2 677.1l41.8 -7.6M464.7 677.6l36.6 -6.6M422.9 676.2l36.6 -6.6M422.9 674.5l41.8 -7.6M438.6 672.3l41.8 -7.6M422.9 678.3l26.1 -4.7M459.5 680l36.6 -6.6M428.2 679.3l31.4 -5.7M422.9 682.5l36.6 -6.6M422.9 674.2l36.6 -6.6M449.1 681.6l31.4 -5.7M475.2 674.9l31.4 -5.7M496.1 655.4l41.8 -7.6M569.3 666l31.4 -5.7M464.7 662.1l41.8 -7.6M433.4 677.5l15.7 -2.8M475.2 669.5l26.1 -4.7M501.3 680.8l31.4 -5.7M428.2 684.2l36.6 -6.6M433.4 679.3l20.9 -3.8M464.7 684.6l47 -8.5M548.4 669.8l36.6 -6.6M433.4 673.5l41.8 -7.6M438.6 688.5l47 -8.5M449.1 679.7l15.7 -2.8M558.8 651.9l41.8 -7.6M470 677.5l10.5 -1.9M480.4 679.9l20.9 -3.8M480.4 683.9l41.8 -7.6M496.1 661.5l31.4 -5.7M490.9 674.5l41.8 -7.6M564 661.9l36.6 -6.6M517 666.7l36.6 -6.6M553.6 655.9l26.1 -4.7M532.7 657l20.9 -3.8M537.9 674.1l31.4 -5.7M449.1 679.7l31.4 -5.7M480.4 675.7l20.9 -3.8M449.1 670.9l47 -8.5M422.9 683.6l26.1 -4.7M464.7 684.2l26.1 -4.7M537.9 673l20.9 -3.8M553.6 665.2l47 -8.5M496.1 665.6l10.5 -1.9M511.8 653.8l36.6 -6.6M449.1 678.4l10.5 -1.9M428.2 682.6l20.9 -3.8M428.2 677.2l31.4 -5.7M543.1 655.3l20.9 -3.8M438.6 680.4l15.7 -2.8M422.9 677.1l47 -8.5M496.1 673.1l47 -8.5M506.5 662.3l41.8 -7.6M490.9 664.4l31.4 -5.7M470 678.3l36.6 -6.6M511.8 654.8l47 -8.5M527.4 664.8l10.5 -1.9M532.7 658l31.4 -5.7M464.7 674.4l41.8 -7.6M454.3 670.1l26.1 -4.7M564 658.2l36.6 -6.6" stroke="#c40606" stroke-width="0.6" fill="none"/></g>
<line x1="108.4" y1="8.8" x2="108.4" y2="218.9" stroke="#474747" stroke-width="1.1"/>
<line x1="106" y1="218.4" x2="108.4" y2="218.4" stroke="#474747" stroke-width="1.1"/>
<text x="100.3" y="224.5" font-size="11" text-anchor="end">0</text>
<line x1="106" y1="166" x2="108.4" y2="166" stroke="#474747" stroke-width="1.1"/>
<text x="100.3" y="172.1" font-size="11" text-anchor="end">500</text>
<line x1="106" y1="113.7" x2="108.4" y2="113.7" stroke="#474747" stroke-width="1.1"/>
<text x="100.3" y="119.8" font-size="11" text-anchor="end">1000</text>
<line x1="106" y1="61.3" x2="108.4" y2="61.3" stroke="#474747" stroke-width="1.1"/>
<text x="100.3" y="67.4" font-size="11" text-anchor="end">1500</text>
<line x1="106" y1="8.9" x2="108.4" y2="8.9" stroke="#474747" stroke-width="1.1"/>
<text x="100.3" y="15" font-size="11" text-anchor="end">2000</text>
<line x1="107.1" y1="192.2" x2="108.4" y2="192.2" stroke="#474747" stroke-width="1.1"/>
<line x1="107.1" y1="139.8" x2="108.4" y2="139.8" stroke="#474747" stroke-width="1.1"/>
<line x1="107.1" y1="87.5" x2="108.4" y2="87.5" stroke="#474747" stroke-width="1.1"/>
<line x1="107.1" y1="35.1" x2="108.4" y2="35.1" stroke="#474747" stroke-width="1.1"/>
<line x1="106.5" y1="218.5" x2="369.9" y2="218.5" stroke="#6a6a6a" stroke-width="1.0"/>
<line x1="108.4" y1="218.5" x2="108.4" y2="220.7" stroke="#6a6a6a" stroke-width="1.0"/>
<text x="108.4" y="238.4" font-size="11" text-anchor="middle">25</text>
<line x1="134.6" y1="218.5" x2="134.6" y2="220.7" stroke="#6a6a6a" stroke-width="1.0"/>
<line x1="160.7" y1="218.5" x2="160.7" y2="220.7" stroke="#6a6a6a" stroke-width="1.0"/>
<text x="160.7" y="238.4" font-size="11" text-anchor="middle">35</text>
<line x1="186.9" y1="218.5" x2="186.9" y2="220.7" stroke="#6a6a6a" stroke-width="1.0"/>
<line x1="213" y1="218.5" x2="213" y2="220.7" stroke="#6a6a6a" stroke-width="1.0"/>
<text x="213" y="238.4" font-size="11" text-anchor="middle">45</text>
<line x1="239.2" y1="218.5" x2="239.2" y2="220.7" stroke="#6a6a6a" stroke-width="1.0"/>
<line x1="265.3" y1="218.5" x2="265.3" y2="220.7" stroke="#6a6a6a" stroke-width="1.0"/>
<text x="265.3" y="238.4" font-size="11" text-anchor="middle">55</text>
<line x1="291.5" y1="218.5" x2="291.5" y2="220.7" stroke="#6a6a6a" stroke-width="1.0"/>
<line x1="317.6" y1="218.5" x2="317.6" y2="220.7" stroke="#6a6a6a" stroke-width="1.0"/>
<text x="317.6" y="238.4" font-size="11" text-anchor="middle">65</text>
<line x1="343.8" y1="218.5" x2="343.8" y2="220.7" stroke="#6a6a6a" stroke-width="1.0"/>
<line x1="369.9" y1="218.5" x2="369.9" y2="220.7" stroke="#6a6a6a" stroke-width="1.0"/>
<text x="369.9" y="238.4" font-size="11" text-anchor="middle">75</text>
<line x1="401.5" y1="218.5" x2="662.8" y2="218.5" stroke="#6a6a6a" stroke-width="1.0"/>
<line x1="401.5" y1="218.5" x2="401.5" y2="220.7" stroke="#6a6a6a" stroke-width="1.0"/>
<text x="401.5" y="238.4" font-size="11" text-anchor="middle">25</text>
<line x1="427.6" y1="218.5" x2="427.6" y2="220.7" stroke="#6a6a6a" stroke-width="1.0"/>
<line x1="453.8" y1="218.5" x2="453.8" y2="220.7" stroke="#6a6a6a" stroke-width="1.0"/>
<text x="453.8" y="238.4" font-size="11" text-anchor="middle">35</text>
<line x1="479.9" y1="218.5" x2="479.9" y2="220.7" stroke="#6a6a6a" stroke-width="1.0"/>
<line x1="506" y1="218.5" x2="506" y2="220.7" stroke="#6a6a6a" stroke-width="1.0"/>
<text x="506" y="238.4" font-size="11" text-anchor="middle">45</text>
<line x1="532.1" y1="218.5" x2="532.1" y2="220.7" stroke="#6a6a6a" stroke-width="1.0"/>
<line x1="558.3" y1="218.5" x2="558.3" y2="220.7" stroke="#6a6a6a" stroke-width="1.0"/>
<text x="558.3" y="238.4" font-size="11" text-anchor="middle">55</text>
<line x1="584.4" y1="218.5" x2="584.4" y2="220.7" stroke="#6a6a6a" stroke-width="1.0"/>
<line x1="610.5" y1="218.5" x2="610.5" y2="220.7" stroke="#6a6a6a" stroke-width="1.0"/>
<text x="610.5" y="238.4" font-size="11" text-anchor="middle">65</text>
<line x1="636.7" y1="218.5" x2="636.7" y2="220.7" stroke="#6a6a6a" stroke-width="1.0"/>
<line x1="662.8" y1="218.5" x2="662.8" y2="220.7" stroke="#6a6a6a" stroke-width="1.0"/>
<text x="662.8" y="238.4" font-size="11" text-anchor="middle">75</text>
<line x1="107.9" y1="255.2" x2="107.9" y2="465.6" stroke="#a0a0a0" stroke-width="1.6"/>
<line x1="105.5" y1="465.3" x2="107.9" y2="465.3" stroke="#a0a0a0" stroke-width="1.6"/>
<text x="100.3" y="471.4" font-size="11" text-anchor="end">0</text>
<line x1="105.5" y1="412.8" x2="107.9" y2="412.8" stroke="#a0a0a0" stroke-width="1.6"/>
<text x="100.3" y="418.9" font-size="11" text-anchor="end">500</text>
<line x1="105.5" y1="360.3" x2="107.9" y2="360.3" stroke="#a0a0a0" stroke-width="1.6"/>
<text x="100.3" y="366.4" font-size="11" text-anchor="end">1000</text>
<line x1="105.5" y1="307.8" x2="107.9" y2="307.8" stroke="#a0a0a0" stroke-width="1.6"/>
<text x="100.3" y="313.9" font-size="11" text-anchor="end">1500</text>
<line x1="105.5" y1="255.3" x2="107.9" y2="255.3" stroke="#a0a0a0" stroke-width="1.6"/>
<text x="100.3" y="261.4" font-size="11" text-anchor="end">2000</text>
<line x1="106.6" y1="439.1" x2="107.9" y2="439.1" stroke="#a0a0a0" stroke-width="1.6"/>
<line x1="106.6" y1="386.6" x2="107.9" y2="386.6" stroke="#a0a0a0" stroke-width="1.6"/>
<line x1="106.6" y1="334.1" x2="107.9" y2="334.1" stroke="#a0a0a0" stroke-width="1.6"/>
<line x1="106.6" y1="281.6" x2="107.9" y2="281.6" stroke="#a0a0a0" stroke-width="1.6"/>
<line x1="106.5" y1="465.4" x2="369.9" y2="465.4" stroke="#4a4a4a" stroke-width="1.0"/>
<line x1="108.4" y1="465.4" x2="108.4" y2="467.6" stroke="#4a4a4a" stroke-width="1.0"/>
<text x="108.4" y="485.6" font-size="11" text-anchor="middle">25</text>
<line x1="134.6" y1="465.4" x2="134.6" y2="467.6" stroke="#4a4a4a" stroke-width="1.0"/>
<line x1="160.7" y1="465.4" x2="160.7" y2="467.6" stroke="#4a4a4a" stroke-width="1.0"/>
<text x="160.7" y="485.6" font-size="11" text-anchor="middle">35</text>
<line x1="186.9" y1="465.4" x2="186.9" y2="467.6" stroke="#4a4a4a" stroke-width="1.0"/>
<line x1="213" y1="465.4" x2="213" y2="467.6" stroke="#4a4a4a" stroke-width="1.0"/>
<text x="213" y="485.6" font-size="11" text-anchor="middle">45</text>
<line x1="239.2" y1="465.4" x2="239.2" y2="467.6" stroke="#4a4a4a" stroke-width="1.0"/>
<line x1="265.3" y1="465.4" x2="265.3" y2="467.6" stroke="#4a4a4a" stroke-width="1.0"/>
<text x="265.3" y="485.6" font-size="11" text-anchor="middle">55</text>
<line x1="291.5" y1="465.4" x2="291.5" y2="467.6" stroke="#4a4a4a" stroke-width="1.0"/>
<line x1="317.6" y1="465.4" x2="317.6" y2="467.6" stroke="#4a4a4a" stroke-width="1.0"/>
<text x="317.6" y="485.6" font-size="11" text-anchor="middle">65</text>
<line x1="343.8" y1="465.4" x2="343.8" y2="467.6" stroke="#4a4a4a" stroke-width="1.0"/>
<line x1="369.9" y1="465.4" x2="369.9" y2="467.6" stroke="#4a4a4a" stroke-width="1.0"/>
<text x="369.9" y="485.6" font-size="11" text-anchor="middle">75</text>
<line x1="401.5" y1="466.2" x2="662.8" y2="466.2" stroke="#4a4a4a" stroke-width="1.0"/>
<line x1="401.5" y1="466.2" x2="401.5" y2="468.4" stroke="#4a4a4a" stroke-width="1.0"/>
<text x="401.5" y="486.4" font-size="11" text-anchor="middle">25</text>
<line x1="427.6" y1="466.2" x2="427.6" y2="468.4" stroke="#4a4a4a" stroke-width="1.0"/>
<line x1="453.8" y1="466.2" x2="453.8" y2="468.4" stroke="#4a4a4a" stroke-width="1.0"/>
<text x="453.8" y="486.4" font-size="11" text-anchor="middle">35</text>
<line x1="479.9" y1="466.2" x2="479.9" y2="468.4" stroke="#4a4a4a" stroke-width="1.0"/>
<line x1="506" y1="466.2" x2="506" y2="468.4" stroke="#4a4a4a" stroke-width="1.0"/>
<text x="506" y="486.4" font-size="11" text-anchor="middle">45</text>
<line x1="532.1" y1="466.2" x2="532.1" y2="468.4" stroke="#4a4a4a" stroke-width="1.0"/>
<line x1="558.3" y1="466.2" x2="558.3" y2="468.4" stroke="#4a4a4a" stroke-width="1.0"/>
<text x="558.3" y="486.4" font-size="11" text-anchor="middle">55</text>
<line x1="584.4" y1="466.2" x2="584.4" y2="468.4" stroke="#4a4a4a" stroke-width="1.0"/>
<line x1="610.5" y1="466.2" x2="610.5" y2="468.4" stroke="#4a4a4a" stroke-width="1.0"/>
<text x="610.5" y="486.4" font-size="11" text-anchor="middle">65</text>
<line x1="636.7" y1="466.2" x2="636.7" y2="468.4" stroke="#4a4a4a" stroke-width="1.0"/>
<line x1="662.8" y1="466.2" x2="662.8" y2="468.4" stroke="#4a4a4a" stroke-width="1.0"/>
<text x="662.8" y="486.4" font-size="11" text-anchor="middle">75</text>
<line x1="108.2" y1="500.4" x2="108.2" y2="710.5" stroke="#8a8a8a" stroke-width="1.4"/>
<line x1="105.8" y1="684.9" x2="108.2" y2="684.9" stroke="#8a8a8a" stroke-width="1.4"/>
<text x="100.3" y="691" font-size="11" text-anchor="end">1000</text>
<line x1="105.8" y1="632.4" x2="108.2" y2="632.4" stroke="#8a8a8a" stroke-width="1.4"/>
<text x="100.3" y="638.5" font-size="11" text-anchor="end">1500</text>
<line x1="105.8" y1="580" x2="108.2" y2="580" stroke="#8a8a8a" stroke-width="1.4"/>
<text x="100.3" y="586.1" font-size="11" text-anchor="end">2000</text>
<line x1="105.8" y1="527.5" x2="108.2" y2="527.5" stroke="#8a8a8a" stroke-width="1.4"/>
<text x="100.3" y="533.6" font-size="11" text-anchor="end">2500</text>
<line x1="106.9" y1="658.7" x2="108.2" y2="658.7" stroke="#8a8a8a" stroke-width="1.4"/>
<line x1="106.9" y1="606.2" x2="108.2" y2="606.2" stroke="#8a8a8a" stroke-width="1.4"/>
<line x1="106.9" y1="553.7" x2="108.2" y2="553.7" stroke="#8a8a8a" stroke-width="1.4"/>
<line x1="106.2" y1="712.6" x2="369.9" y2="712.6" stroke="#4a4a4a" stroke-width="1.0"/>
<line x1="108.4" y1="712.6" x2="108.4" y2="714.8" stroke="#4a4a4a" stroke-width="1.0"/>
<text x="108.4" y="733.2" font-size="11" text-anchor="middle">25</text>
<line x1="134.6" y1="712.6" x2="134.6" y2="714.8" stroke="#4a4a4a" stroke-width="1.0"/>
<line x1="160.7" y1="712.6" x2="160.7" y2="714.8" stroke="#4a4a4a" stroke-width="1.0"/>
<text x="160.7" y="733.2" font-size="11" text-anchor="middle">35</text>
<line x1="186.9" y1="712.6" x2="186.9" y2="714.8" stroke="#4a4a4a" stroke-width="1.0"/>
<line x1="213" y1="712.6" x2="213" y2="714.8" stroke="#4a4a4a" stroke-width="1.0"/>
<text x="213" y="733.2" font-size="11" text-anchor="middle">45</text>
<line x1="239.2" y1="712.6" x2="239.2" y2="714.8" stroke="#4a4a4a" stroke-width="1.0"/>
<line x1="265.3" y1="712.6" x2="265.3" y2="714.8" stroke="#4a4a4a" stroke-width="1.0"/>
<text x="265.3" y="733.2" font-size="11" text-anchor="middle">55</text>
<line x1="291.5" y1="712.6" x2="291.5" y2="714.8" stroke="#4a4a4a" stroke-width="1.0"/>
<line x1="317.6" y1="712.6" x2="317.6" y2="714.8" stroke="#4a4a4a" stroke-width="1.0"/>
<text x="317.6" y="733.2" font-size="11" text-anchor="middle">65</text>
<line x1="343.8" y1="712.6" x2="343.8" y2="714.8" stroke="#4a4a4a" stroke-width="1.0"/>
<line x1="369.9" y1="712.6" x2="369.9" y2="714.8" stroke="#4a4a4a" stroke-width="1.0"/>
<text x="369.9" y="733.2" font-size="11" text-anchor="middle">75</text>
<line x1="401.5" y1="712.6" x2="662.8" y2="712.6" stroke="#4a4a4a" stroke-width="1.0"/>
<line x1="401.5" y1="712.6" x2="401.5" y2="714.8" stroke="#4a4a4a" stroke-width="1.0"/>
<text x="401.5" y="733.2" font-size="11" text-anchor="middle">25</text>
<line x1="427.6" y1="712.6" x2="427.6" y2="714.8" stroke="#4a4a4a" stroke-width="1.0"/>
<line x1="453.8" y1="712.6" x2="453.8" y2="714.8" stroke="#4a4a4a" stroke-width="1.0"/>
<text x="453.8" y="733.2" font-size="11" text-anchor="middle">35</text>
<line x1="479.9" y1="712.6" x2="479.9" y2="714.8" stroke="#4a4a4a" stroke-width="1.0"/>
<line x1="506" y1="712.6" x2="506" y2="714.8" stroke="#4a4a4a" stroke-width="1.0"/>
<text x="506" y="733.2" font-size="11" text-anchor="middle">45</text>
<line x1="532.1" y1="712.6" x2="532.1" y2="714.8" stroke="#4a4a4a" stroke-width="1.0"/>
<line x1="558.3" y1="712.6" x2="558.3" y2="714.8" stroke="#4a4a4a" stroke-width="1.0"/>
<text x="558.3" y="733.2" font-size="11" text-anchor="middle">55</text>
<line x1="584.4" y1="712.6" x2="584.4" y2="714.8" stroke="#4a4a4a" stroke-width="1.0"/>
<line x1="610.5" y1="712.6" x2="610.5" y2="714.8" stroke="#4a4a4a" stroke-width="1.0"/>
<text x="610.5" y="733.2" font-size="11" text-anchor="middle">65</text>
<line x1="636.7" y1="712.6" x2="636.7" y2="714.8" stroke="#4a4a4a" stroke-width="1.0"/>
<line x1="662.8" y1="712.6" x2="662.8" y2="714.8" stroke="#4a4a4a" stroke-width="1.0"/>
<text x="662.8" y="733.2" font-size="11" text-anchor="middle">75</text>
<rect x="301" y="502.4" width="1.8" height="1.6" fill="#1565a8"/><rect x="369.2" y="499.8" width="1.6" height="1.4" fill="#777"/>
<g clip-path="url(#cCr)"><path d="M465.5 601.8L515 598.2M527 587.2L572 582.4M506 614.6L526 613M450 612L470 610" stroke="#f08080" stroke-width="0.7" fill="none"/><path d="M511 579v1.4M545 578v1.4M561 577v1.4M557 599v1.4M537 611v1.4M490 595v1.4" stroke="#d02020" stroke-width="1.4"/></g>
<text x="1.3" y="15" font-size="14" text-anchor="start">(A)</text>
<text x="3.4" y="262.2" font-size="14" text-anchor="start">(B)</text>
<text x="5.7" y="514.2" font-size="14" text-anchor="start">(C)</text>
<text x="3" y="757.6" font-size="14.8" text-anchor="start">(D)</text>
<text transform="translate(52.9 88.4) rotate(-90)" font-size="14.5" text-anchor="middle">hbPWV<tspan font-size="9.2" dy="3.2">eq1</tspan><tspan dy="-3.2"> (cm/sec)</tspan></text>
<text transform="translate(52.9 335.5) rotate(-90)" font-size="14.5" text-anchor="middle">hbPWV<tspan font-size="9.2" dy="3.2">eq2</tspan><tspan dy="-3.2"> (cm/sec)</tspan></text>
<text transform="translate(55.4 605.3) rotate(-90)" font-size="14.5" text-anchor="middle">baPWV (cm/sec)</text>
<text x="240.2" y="751.9" font-size="13" text-anchor="middle">Men: Age (years)</text>
<text x="532.6" y="751.9" font-size="13" text-anchor="middle">Women: Age (years)</text>
<text x="127.6" y="35.5" font-size="11.45" text-anchor="start"><tspan font-weight="bold">Men:</tspan> N = 3,110</text>
<text x="127.6" y="49.4" font-size="11.45" text-anchor="start">DF = 17,672</text>
<text x="127.6" y="63.2" font-size="11.45" text-anchor="start"><tspan font-style="italic">r</tspan><tspan font-style="italic" font-size="8" dy="2.6">rm</tspan><tspan dy="-2.6"> = 0.448</tspan></text>
<text x="127.6" y="77.1" font-size="11.45" text-anchor="start">P&lt;0.0001</text>
<text x="410.5" y="35.3" font-size="11.45" text-anchor="start"><tspan font-weight="bold">Women:</tspan> N = 600</text>
<text x="410.5" y="49.2" font-size="11.45" text-anchor="start">DF = 3,567</text>
<text x="410.5" y="63" font-size="11.45" text-anchor="start"><tspan font-style="italic">r</tspan><tspan font-style="italic" font-size="8" dy="2.6">rm</tspan><tspan dy="-2.6"> = 0.396</tspan></text>
<text x="410.5" y="76.9" font-size="11.45" text-anchor="start">P&lt;0.0001</text>
<text x="685.5" y="39.5" font-size="11.45" text-anchor="end"><tspan font-weight="bold">Whole:</tspan> N = 3,710</text>
<text x="685.5" y="53" font-size="11.45" text-anchor="end">DF = 21,240</text>
<text x="685.5" y="66.6" font-size="11.45" text-anchor="end"><tspan font-style="italic">r</tspan><tspan font-style="italic" font-size="8" dy="2.6">rm</tspan><tspan dy="-2.6"> = 0.439</tspan></text>
<text x="685.5" y="80.1" font-size="11.45" text-anchor="end">P&lt;0.0001</text>
<text x="126.9" y="277.6" font-size="11.45" text-anchor="start"><tspan font-weight="bold">Men:</tspan> N = 3,110</text>
<text x="126.9" y="291.5" font-size="11.45" text-anchor="start">DF = 17,672</text>
<text x="126.9" y="305.3" font-size="11.45" text-anchor="start"><tspan font-style="italic">r</tspan><tspan font-style="italic" font-size="8" dy="2.6">rm</tspan><tspan dy="-2.6"> = 0.516</tspan></text>
<text x="126.9" y="319.2" font-size="11.45" text-anchor="start">P&lt;0.0001</text>
<text x="409.2" y="277.2" font-size="11.45" text-anchor="start"><tspan font-weight="bold">Women:</tspan> N = 600</text>
<text x="409.2" y="291.1" font-size="11.45" text-anchor="start">DF = 3,567</text>
<text x="409.2" y="304.9" font-size="11.45" text-anchor="start"><tspan font-style="italic">r</tspan><tspan font-style="italic" font-size="8" dy="2.6">rm</tspan><tspan dy="-2.6"> = 0.485</tspan></text>
<text x="409.2" y="318.8" font-size="11.45" text-anchor="start">P&lt;0.0001</text>
<text x="685" y="281.7" font-size="11.45" text-anchor="end"><tspan font-weight="bold">Whole:</tspan> N = 3,710</text>
<text x="685" y="295.2" font-size="11.45" text-anchor="end">DF = 21,240</text>
<text x="685" y="308.8" font-size="11.45" text-anchor="end"><tspan font-style="italic">r</tspan><tspan font-style="italic" font-size="8" dy="2.6">rm</tspan><tspan dy="-2.6"> = 0.511</tspan></text>
<text x="685" y="322.3" font-size="11.45" text-anchor="end">P&lt;0.0001</text>
<text x="124.6" y="524.4" font-size="11.45" text-anchor="start"><tspan font-weight="bold">Men:</tspan> N = 3,110</text>
<text x="124.6" y="538.3" font-size="11.45" text-anchor="start">DF = 17,683</text>
<text x="124.6" y="552.1" font-size="11.45" text-anchor="start"><tspan font-style="italic">r</tspan><tspan font-style="italic" font-size="8" dy="2.6">rm</tspan><tspan dy="-2.6"> = 0.309</tspan></text>
<text x="124.6" y="566" font-size="11.45" text-anchor="start">P&lt;0.0001</text>
<text x="407.1" y="524.2" font-size="11.45" text-anchor="start"><tspan font-weight="bold">Women:</tspan> N = 600</text>
<text x="407.1" y="538.1" font-size="11.45" text-anchor="start">DF = 3,577</text>
<text x="407.1" y="551.9" font-size="11.45" text-anchor="start"><tspan font-style="italic">r</tspan><tspan font-style="italic" font-size="8" dy="2.6">rm</tspan><tspan dy="-2.6"> = 0.300</tspan></text>
<text x="407.1" y="565.8" font-size="11.45" text-anchor="start">P&lt;0.0001</text>
<text x="683" y="528.4" font-size="11.45" text-anchor="end"><tspan font-weight="bold">Whole:</tspan> N = 3,710</text>
<text x="683" y="541.9" font-size="11.45" text-anchor="end">DF = 21,261</text>
<text x="683" y="555.5" font-size="11.45" text-anchor="end"><tspan font-style="italic">r</tspan><tspan font-style="italic" font-size="8" dy="2.6">rm</tspan><tspan dy="-2.6"> = 0.307</tspan></text>
<text x="683" y="569" font-size="11.45" text-anchor="end">P&lt;0.0001</text>
<line x1="159.5" y1="773.1" x2="159.5" y2="969.3" stroke="#555" stroke-width="1.0"/>
<line x1="156.4" y1="969.3" x2="159.5" y2="969.3" stroke="#555" stroke-width="1.0"/>
<text x="147.4" y="973.3" font-size="11" text-anchor="end">0</text>
<line x1="156.4" y1="930.1" x2="159.5" y2="930.1" stroke="#555" stroke-width="1.0"/>
<text x="147.4" y="934.1" font-size="11" text-anchor="end">5</text>
<line x1="156.4" y1="890.8" x2="159.5" y2="890.8" stroke="#555" stroke-width="1.0"/>
<text x="147.4" y="894.8" font-size="11" text-anchor="end">10</text>
<line x1="156.4" y1="851.6" x2="159.5" y2="851.6" stroke="#555" stroke-width="1.0"/>
<text x="147.4" y="855.6" font-size="11" text-anchor="end">15</text>
<line x1="156.4" y1="812.4" x2="159.5" y2="812.4" stroke="#555" stroke-width="1.0"/>
<text x="147.4" y="816.4" font-size="11" text-anchor="end">20</text>
<line x1="156.4" y1="773.2" x2="159.5" y2="773.2" stroke="#555" stroke-width="1.0"/>
<text x="147.4" y="777.2" font-size="11" text-anchor="end">25</text>
<line x1="157.8" y1="949.7" x2="159.5" y2="949.7" stroke="#555" stroke-width="1.0"/>
<line x1="157.8" y1="910.5" x2="159.5" y2="910.5" stroke="#555" stroke-width="1.0"/>
<line x1="157.8" y1="871.2" x2="159.5" y2="871.2" stroke="#555" stroke-width="1.0"/>
<line x1="157.8" y1="832" x2="159.5" y2="832" stroke="#555" stroke-width="1.0"/>
<line x1="157.8" y1="792.8" x2="159.5" y2="792.8" stroke="#555" stroke-width="1.0"/>
<line x1="156.4" y1="969.3" x2="640.7" y2="969.3" stroke="#555" stroke-width="1.0"/>
<rect x="177" y="889" width="21.6" height="80.3" fill="#000000" stroke="#222" stroke-width="0.9"/>
<line x1="187.8" y1="885.4" x2="187.8" y2="889" stroke="#444" stroke-width="1.0"/>
<line x1="186" y1="885.4" x2="189.7" y2="885.4" stroke="#444" stroke-width="1.0"/>
<rect x="199.5" y="901" width="21.6" height="68.3" fill="#a6a6a6" stroke="#222" stroke-width="0.9"/>
<line x1="210.3" y1="896.2" x2="210.3" y2="901" stroke="#444" stroke-width="1.0"/>
<line x1="208.5" y1="896.2" x2="212.2" y2="896.2" stroke="#444" stroke-width="1.0"/>
<rect x="222" y="938" width="21.6" height="31.3" fill="#ffffff" stroke="#222" stroke-width="0.9"/>
<line x1="232.8" y1="932.7" x2="232.8" y2="938" stroke="#444" stroke-width="1.0"/>
<line x1="231" y1="932.7" x2="234.7" y2="932.7" stroke="#444" stroke-width="1.0"/>
<rect x="255.5" y="873.4" width="21.6" height="95.9" fill="#000000" stroke="#222" stroke-width="0.9"/>
<line x1="266.4" y1="868.3" x2="266.4" y2="873.4" stroke="#444" stroke-width="1.0"/>
<line x1="264.6" y1="868.3" x2="268.2" y2="868.3" stroke="#444" stroke-width="1.0"/>
<rect x="278.1" y="885.7" width="21.6" height="83.6" fill="#a6a6a6" stroke="#222" stroke-width="0.9"/>
<line x1="288.9" y1="880.4" x2="288.9" y2="885.7" stroke="#444" stroke-width="1.0"/>
<line x1="287.1" y1="880.4" x2="290.7" y2="880.4" stroke="#444" stroke-width="1.0"/>
<rect x="300.6" y="921.4" width="21.6" height="47.9" fill="#ffffff" stroke="#222" stroke-width="0.9"/>
<line x1="311.4" y1="913.6" x2="311.4" y2="921.4" stroke="#444" stroke-width="1.0"/>
<line x1="309.6" y1="913.6" x2="313.2" y2="913.6" stroke="#444" stroke-width="1.0"/>
<rect x="333.6" y="872" width="21.6" height="97.3" fill="#000000" stroke="#222" stroke-width="0.9"/>
<line x1="344.4" y1="865.7" x2="344.4" y2="872" stroke="#444" stroke-width="1.0"/>
<line x1="342.6" y1="865.7" x2="346.2" y2="865.7" stroke="#444" stroke-width="1.0"/>
<rect x="356.1" y="886.5" width="21.6" height="82.8" fill="#a6a6a6" stroke="#222" stroke-width="0.9"/>
<line x1="366.9" y1="879.1" x2="366.9" y2="886.5" stroke="#444" stroke-width="1.0"/>
<line x1="365.1" y1="879.1" x2="368.7" y2="879.1" stroke="#444" stroke-width="1.0"/>
<rect x="378.6" y="895.4" width="21.6" height="73.9" fill="#ffffff" stroke="#222" stroke-width="0.9"/>
<line x1="389.4" y1="884.6" x2="389.4" y2="895.4" stroke="#444" stroke-width="1.0"/>
<line x1="387.6" y1="884.6" x2="391.2" y2="884.6" stroke="#444" stroke-width="1.0"/>
<rect x="411.8" y="878.3" width="21.6" height="91" fill="#000000" stroke="#222" stroke-width="0.9"/>
<line x1="422.6" y1="868.6" x2="422.6" y2="878.3" stroke="#444" stroke-width="1.0"/>
<line x1="420.8" y1="868.6" x2="424.4" y2="868.6" stroke="#444" stroke-width="1.0"/>
<rect x="434.3" y="894.5" width="21.6" height="74.8" fill="#a6a6a6" stroke="#222" stroke-width="0.9"/>
<line x1="445.1" y1="884.6" x2="445.1" y2="894.5" stroke="#444" stroke-width="1.0"/>
<line x1="443.3" y1="884.6" x2="446.9" y2="884.6" stroke="#444" stroke-width="1.0"/>
<rect x="456.8" y="873.3" width="21.6" height="96" fill="#ffffff" stroke="#222" stroke-width="0.9"/>
<line x1="467.6" y1="858.9" x2="467.6" y2="873.3" stroke="#444" stroke-width="1.0"/>
<line x1="465.8" y1="858.9" x2="469.4" y2="858.9" stroke="#444" stroke-width="1.0"/>
<rect x="489.4" y="879.5" width="21.6" height="89.8" fill="#000000" stroke="#222" stroke-width="0.9"/>
<line x1="500.2" y1="869.7" x2="500.2" y2="879.5" stroke="#444" stroke-width="1.0"/>
<line x1="498.4" y1="869.7" x2="502.1" y2="869.7" stroke="#444" stroke-width="1.0"/>
<rect x="511.9" y="896.8" width="21.6" height="72.5" fill="#a6a6a6" stroke="#222" stroke-width="0.9"/>
<line x1="522.8" y1="886.9" x2="522.8" y2="896.8" stroke="#444" stroke-width="1.0"/>
<line x1="521" y1="886.9" x2="524.5" y2="886.9" stroke="#444" stroke-width="1.0"/>
<rect x="534.5" y="844" width="21.6" height="125.3" fill="#ffffff" stroke="#222" stroke-width="0.9"/>
<line x1="545.2" y1="828.9" x2="545.2" y2="844" stroke="#444" stroke-width="1.0"/>
<line x1="543.5" y1="828.9" x2="547" y2="828.9" stroke="#444" stroke-width="1.0"/>
<rect x="567.9" y="896.3" width="21.6" height="73" fill="#000000" stroke="#222" stroke-width="0.9"/>
<line x1="578.6" y1="876.3" x2="578.6" y2="896.3" stroke="#444" stroke-width="1.0"/>
<line x1="576.9" y1="876.3" x2="580.4" y2="876.3" stroke="#444" stroke-width="1.0"/>
<rect x="590.4" y="914.4" width="21.6" height="54.9" fill="#a6a6a6" stroke="#222" stroke-width="0.9"/>
<line x1="601.1" y1="895.6" x2="601.1" y2="914.4" stroke="#444" stroke-width="1.0"/>
<line x1="599.4" y1="895.6" x2="602.9" y2="895.6" stroke="#444" stroke-width="1.0"/>
<rect x="612.9" y="832.8" width="21.6" height="136.5" fill="#ffffff" stroke="#222" stroke-width="0.9"/>
<line x1="623.6" y1="805.3" x2="623.6" y2="832.8" stroke="#444" stroke-width="1.0"/>
<line x1="621.9" y1="805.3" x2="625.4" y2="805.3" stroke="#444" stroke-width="1.0"/>
<text x="189.5" y="877.3" font-size="16" text-anchor="middle">*</text>
<text x="211.4" y="887.4" font-size="16" text-anchor="middle">*</text>
<text x="267.7" y="860.8" font-size="16" text-anchor="middle">*</text>
<text x="288.7" y="874.8" font-size="16" text-anchor="middle">*</text>
<text x="345" y="860.5" font-size="16" text-anchor="middle">*</text>
<text x="445.6" y="877.1" font-size="16" text-anchor="middle">*</text>
<text x="500.4" y="866.4" font-size="16" text-anchor="middle">*</text>
<text x="523.4" y="881.3" font-size="16" text-anchor="middle">*</text>
<text x="581.2" y="871.2" font-size="16" text-anchor="middle">*</text>
<text x="601.2" y="889.4" font-size="16" text-anchor="middle">*</text>
<text x="390.2" y="878.4" font-size="9" text-anchor="middle">ab</text>
<text x="467.4" y="851.3" font-size="9" text-anchor="middle">ab</text>
<text x="546.4" y="818.6" font-size="9" text-anchor="middle">abcd</text>
<text x="623.7" y="796.7" font-size="9" text-anchor="middle">abcd</text>
<rect x="183.3" y="773" width="9.8" height="9.6" fill="#000" stroke="#222" stroke-width="0.8"/>
<rect x="265.6" y="773" width="9.8" height="9.6" fill="#8c8c8c" stroke="#888" stroke-width="0.8"/>
<rect x="348.6" y="773" width="9.6" height="9.6" fill="#fff" stroke="#444" stroke-width="0.8"/>
<text x="199" y="782.6" font-size="13" text-anchor="start">hbPWV<tspan font-size="9" dy="3">eq1</tspan></text>
<text x="281.6" y="782.6" font-size="13" text-anchor="start">hbPWV<tspan font-size="9" dy="3">eq2</tspan></text>
<text x="363.3" y="782.6" font-size="13" text-anchor="start">baPWV</text>
<text x="184.4" y="803.4" font-size="13" text-anchor="start">Initial age group: P&lt;0.0001</text>
<text x="184.4" y="819.1" font-size="13" text-anchor="start">PWV: P &lt; 0.0001</text>
<text x="184.4" y="834.8" font-size="13" text-anchor="start">Interaction: P&lt;0.0001</text>
<text transform="translate(92.8 870.4) rotate(-90)" font-size="14.2" text-anchor="middle">Age-related change in PWV</text>
<text transform="translate(109.8 869.3) rotate(-90)" font-size="14.2" text-anchor="middle">(cm/sec/year)</text>
<text x="211" y="986.9" font-size="13" text-anchor="middle">&lt; 35</text>
<text x="211" y="1002.4" font-size="13" text-anchor="middle">(1,160)</text>
<text x="292.1" y="986.9" font-size="13" text-anchor="middle">35-39</text>
<text x="292.1" y="1002.4" font-size="13" text-anchor="middle">(828)</text>
<text x="369.7" y="986.9" font-size="13" text-anchor="middle">40-44</text>
<text x="369.7" y="1002.4" font-size="13" text-anchor="middle">(560)</text>
<text x="447.8" y="986.9" font-size="13" text-anchor="middle">45-49</text>
<text x="447.8" y="1002.4" font-size="13" text-anchor="middle">(364)</text>
<text x="525.3" y="986.9" font-size="13" text-anchor="middle">50-54</text>
<text x="525.3" y="1002.4" font-size="13" text-anchor="middle">(509)</text>
<text x="601.5" y="986.9" font-size="13" text-anchor="middle">&gt; 54</text>
<text x="601.5" y="1002.4" font-size="13" text-anchor="middle">(290)</text>
</svg></body></html>
